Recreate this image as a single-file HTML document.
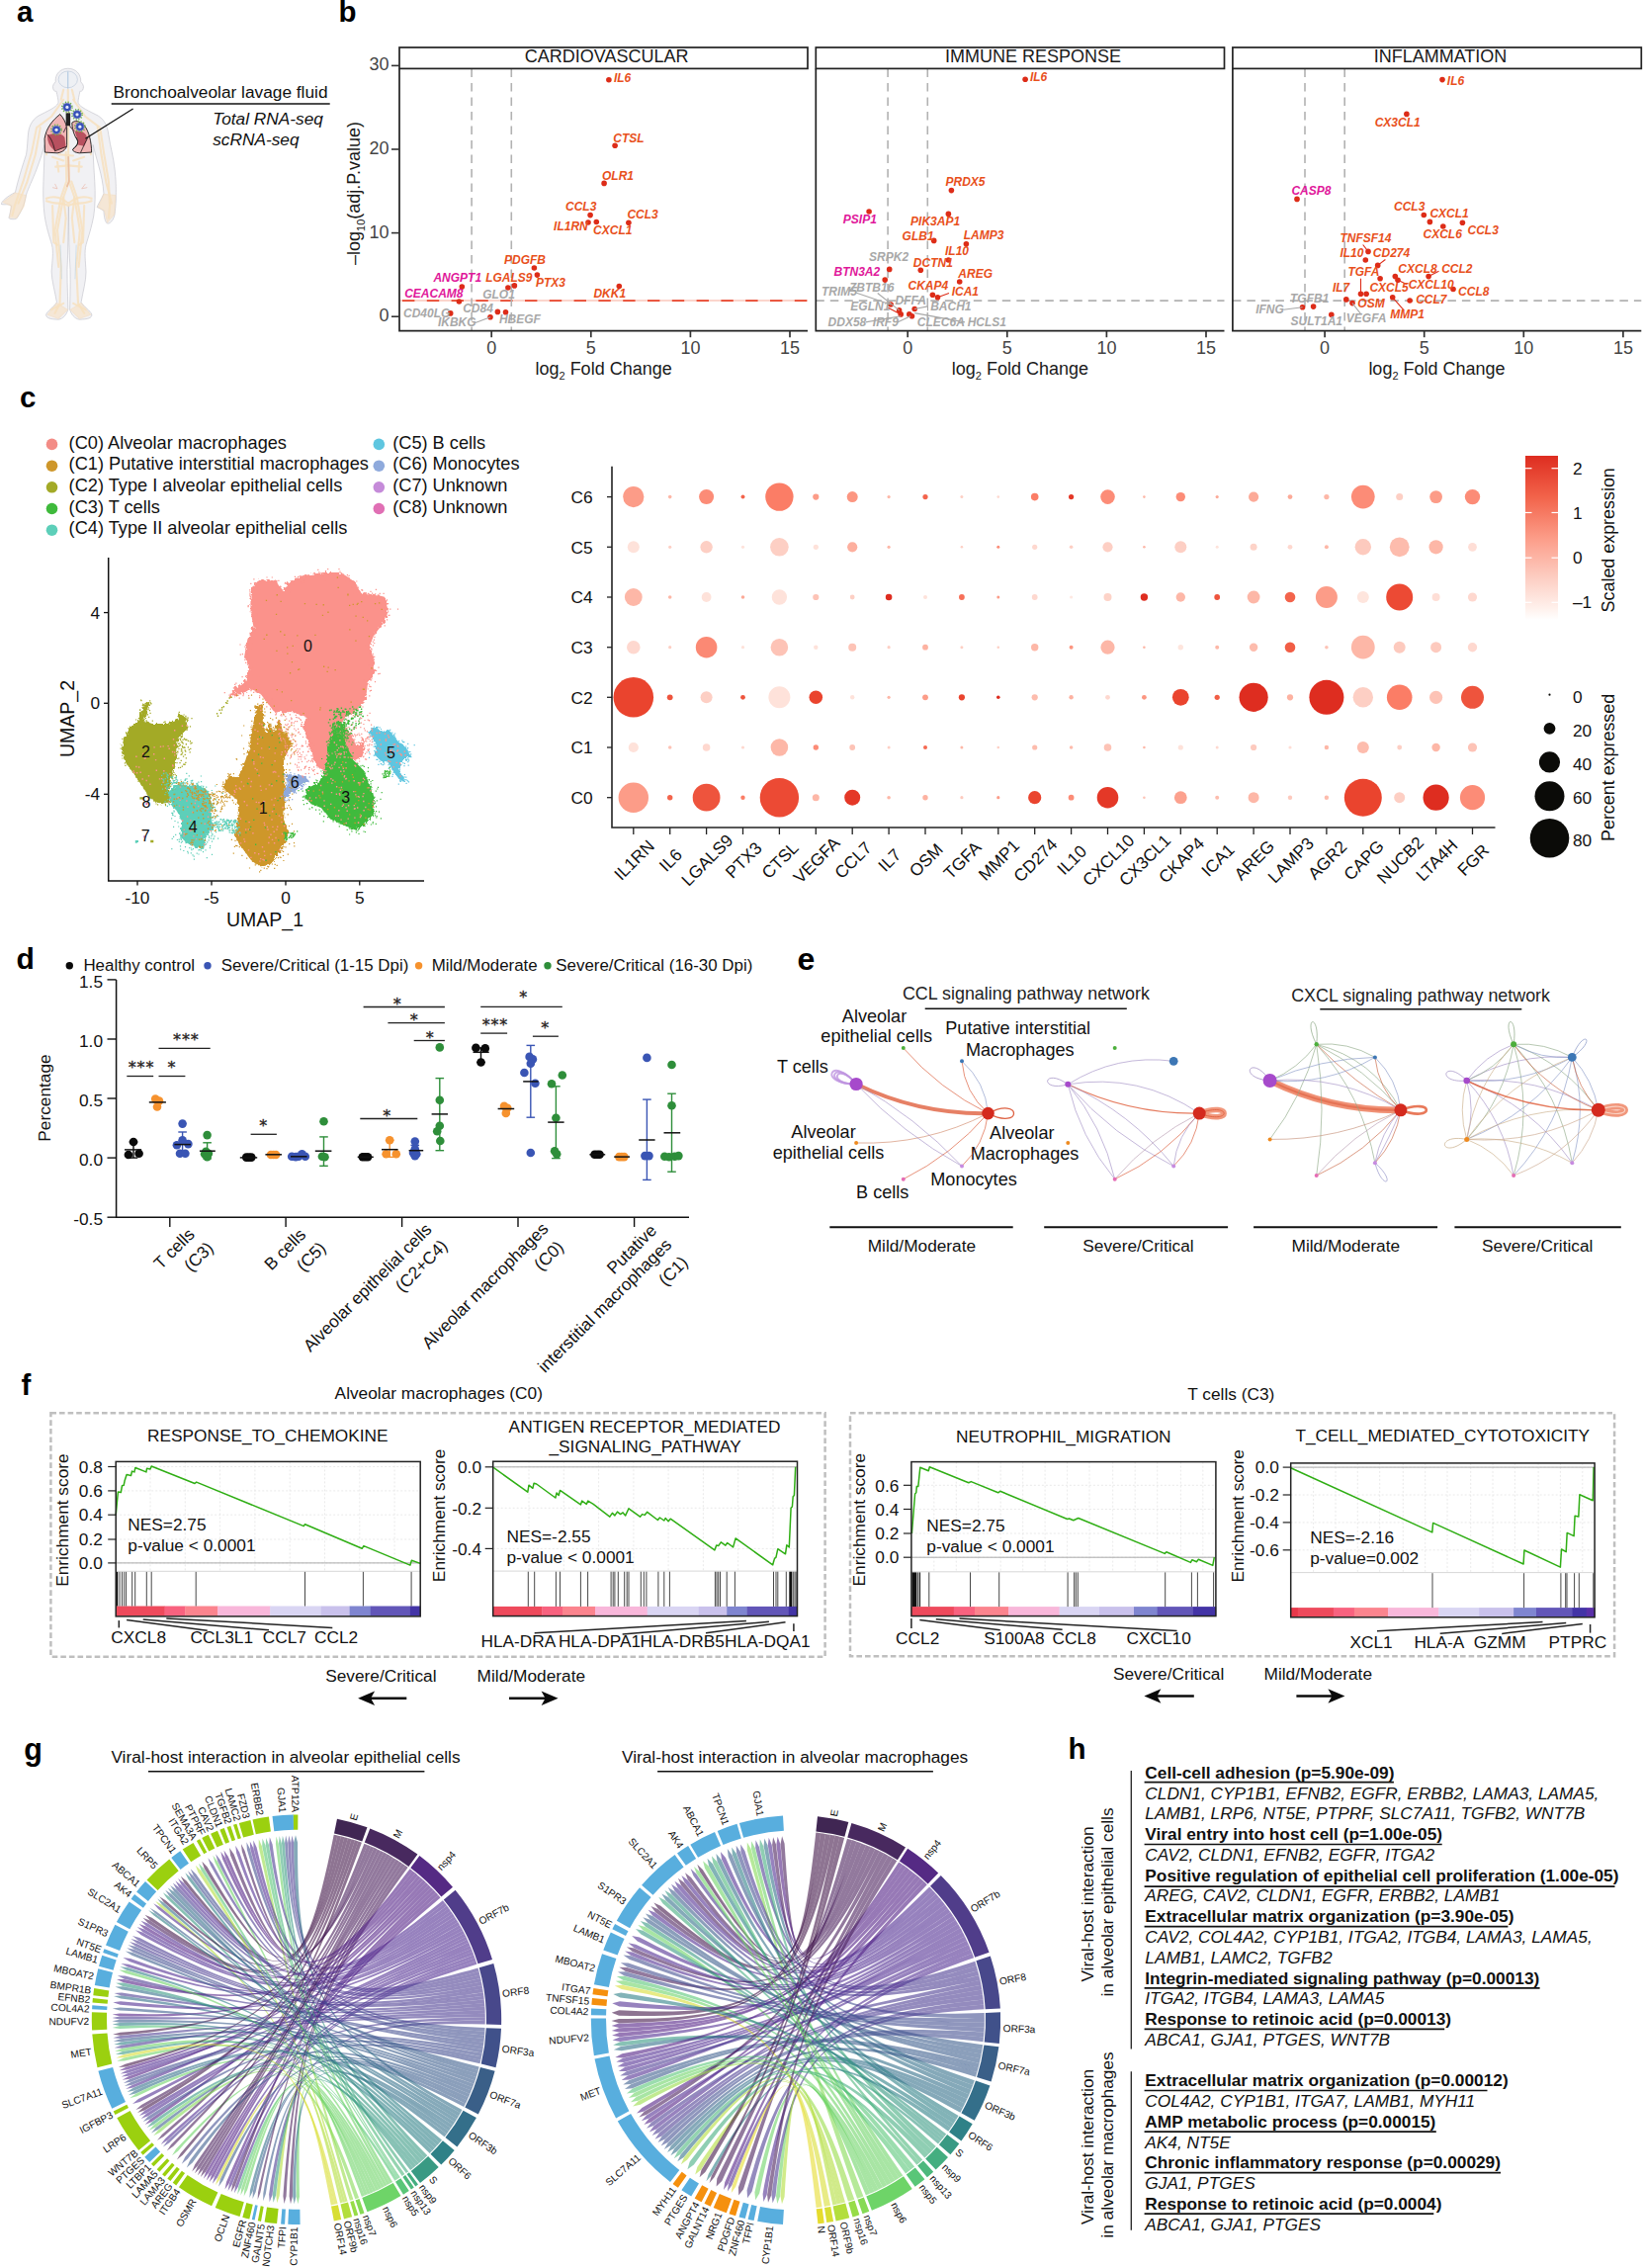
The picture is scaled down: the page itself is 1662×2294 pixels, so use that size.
<!DOCTYPE html>
<html lang="en"><head><meta charset="utf-8"><title>Figure</title>
<style>
html,body{margin:0;padding:0;background:#fff}
svg{display:block}
svg text{font-family:"Liberation Sans",sans-serif}
</style></head><body>
<svg width="1662" height="2294" viewBox="0 0 1662 2294" fill="#000">
<rect width="1662" height="2294" fill="#fff"/>
<g id="panel-a">
<text x="17" y="22" font-size="29.5" font-weight="bold">a</text>
<g transform="translate(0 60) scale(0.12346)">
<path d="M557 75 C620 75 665 120 662 185 C675 200 690 215 682 240 C678 262 662 262 655 262 C648 300 640 330 640 350 C640 380 700 410 780 450 C850 480 880 540 890 620 C905 720 930 800 940 900 C950 980 952 1060 950 1110 C952 1150 948 1200 940 1270 C930 1320 900 1350 878 1345 C860 1330 852 1290 850 1240 C830 1230 810 1215 795 1212 C800 1190 830 1150 850 1100 C845 1020 830 950 810 880 C795 820 775 760 762 700 C762 800 770 900 776 1000 C782 1100 780 1200 768 1280 C750 1380 725 1450 705 1520 C690 1580 700 1650 705 1740 C705 1820 680 1900 665 1990 C690 2030 740 2060 752 2090 C755 2120 720 2130 650 2132 C610 2125 585 2090 572 2050 C575 1900 580 1750 570 1620 C562 1480 565 1340 562 1200 C558 1340 560 1480 555 1620 C545 1750 555 1900 558 2050 C545 2090 520 2125 480 2132 C410 2130 375 2120 378 2090 C390 2060 440 2030 465 1990 C450 1900 425 1820 422 1740 C428 1650 440 1580 425 1520 C405 1450 380 1380 365 1280 C355 1200 352 1100 356 1000 C360 900 364 800 365 700 C350 760 330 820 300 900 C270 980 230 1060 215 1110 C205 1180 170 1260 135 1305 C110 1315 80 1310 72 1300 C80 1270 90 1230 92 1200 C70 1180 40 1195 12 1188 C5 1170 60 1120 125 1090 C145 1000 175 900 215 780 C225 720 225 660 232 600 C240 540 270 480 340 450 C420 410 478 380 478 350 C478 330 470 300 462 262 C455 262 440 262 435 240 C428 215 442 200 455 185 C450 120 495 75 557 75 Z" fill="#F1F1F4" stroke="#C2C2C9" stroke-width="5"/>
<path d="M25 1170 L125 1095 L210 1115 L195 1205 L135 1298 L80 1296 L95 1200 Z" fill="#F9DFBE" opacity="0.55" stroke="#F6D9B4" stroke-width="10" stroke-linejoin="round"/>
<path d="M852 1105 L945 1115 L936 1268 L880 1335 L856 1240 L805 1210 Z" fill="#F9DFBE" opacity="0.55" stroke="#F6D9B4" stroke-width="10" stroke-linejoin="round"/>
<path d="M390 2092 L468 1998 L552 2052 L478 2124 Z" fill="#F9DFBE" opacity="0.55" stroke="#F6D9B4" stroke-width="10" stroke-linejoin="round"/>
<path d="M578 2052 L662 1998 L742 2092 L652 2124 Z" fill="#F9DFBE" opacity="0.55" stroke="#F6D9B4" stroke-width="10" stroke-linejoin="round"/>
<path d="M557 250 L560 760 L565 1000 L520 1130 L470 1400 L500 1700 L490 2000 L450 2080" fill="none" stroke="#F7E0BE" stroke-width="17" stroke-linejoin="round" stroke-linecap="round" opacity="0.85"/>
<path d="M565 1000 L610 1130 L655 1400 L625 1700 L640 2000 L690 2080" fill="none" stroke="#F7E0BE" stroke-width="17" stroke-linejoin="round" stroke-linecap="round" opacity="0.85"/>
<path d="M540 760 L545 1000 L500 1130 L450 1400 L480 1700" fill="none" stroke="#F7E0BE" stroke-width="17" stroke-linejoin="round" stroke-linecap="round" opacity="0.85"/>
<path d="M585 1000 L630 1130 L675 1400 L645 1700" fill="none" stroke="#F7E0BE" stroke-width="17" stroke-linejoin="round" stroke-linecap="round" opacity="0.85"/>
<path d="M520 330 L420 470 L300 560 L260 760 L190 1000 L120 1200 L100 1280" fill="none" stroke="#F7E0BE" stroke-width="17" stroke-linejoin="round" stroke-linecap="round" opacity="0.85"/>
<path d="M600 330 L700 470 L820 560 L850 760 L890 1000 L900 1200 L890 1300" fill="none" stroke="#F7E0BE" stroke-width="17" stroke-linejoin="round" stroke-linecap="round" opacity="0.85"/>
<path d="M330 560 L290 780 L220 1010 L150 1180" fill="none" stroke="#F7E0BE" stroke-width="17" stroke-linejoin="round" stroke-linecap="round" opacity="0.85"/>
<path d="M800 560 L830 780 L870 1010 L915 1180" fill="none" stroke="#F7E0BE" stroke-width="17" stroke-linejoin="round" stroke-linecap="round" opacity="0.85"/>
<path d="M455 880 L560 870 L670 880 M470 840 L480 920 M650 840 L645 920" fill="none" stroke="#F7E0BE" stroke-width="17" stroke-linejoin="round" stroke-linecap="round" opacity="0.85"/>
<path d="M380 1140 C450 1110 520 1140 560 1180 C600 1140 680 1110 750 1140" fill="none" stroke="#F7E0BE" stroke-width="17" stroke-linejoin="round" stroke-linecap="round" opacity="0.85"/>
<path d="M380 1160 C450 1190 520 1170 560 1200 C600 1170 680 1190 750 1160" fill="none" stroke="#F7E0BE" stroke-width="17" stroke-linejoin="round" stroke-linecap="round" opacity="0.85"/>
<path d="M520 250 L500 330 M590 250 L610 330 M500 170 C520 120 600 120 615 170" fill="none" stroke="#F7E0BE" stroke-width="17" stroke-linejoin="round" stroke-linecap="round" opacity="0.85"/>
<path d="M430 1200 L440 1500 L470 1520 M690 1200 L680 1500 L650 1520" fill="none" stroke="#F7E0BE" stroke-width="17" stroke-linejoin="round" stroke-linecap="round" opacity="0.85"/>
<path d="M420 2050 L520 2000 M700 2050 L600 2000" fill="none" stroke="#F7E0BE" stroke-width="17" stroke-linejoin="round" stroke-linecap="round" opacity="0.85"/>
<path d="M440 520 L400 640 L380 780 M680 520 L720 640 L745 780" fill="none" stroke="#F7E0BE" stroke-width="17" stroke-linejoin="round" stroke-linecap="round" opacity="0.85"/>
<path d="M480 780 L600 790 M430 800 L520 830 M690 800 L600 830" fill="none" stroke="#F7E0BE" stroke-width="17" stroke-linejoin="round" stroke-linecap="round" opacity="0.85"/>
<path d="M520 1130 L540 1300 L520 1500 M610 1130 L590 1300 L610 1500" fill="none" stroke="#F7E0BE" stroke-width="17" stroke-linejoin="round" stroke-linecap="round" opacity="0.85"/>
<path d="M560 800 L566 1000 L550 1040" fill="none" stroke="#E8B89A" stroke-width="14" stroke-linecap="round" opacity="0.8"/>
<path d="M430 1050 L470 1060 L450 1020 M700 1020 L670 1060 L715 1050" fill="none" stroke="#E9B0A0" stroke-width="6" opacity="0.8"/>
<path d="M495 1520 L505 1800 M625 1520 L615 1800" fill="none" stroke="#B8D4E8" stroke-width="6" opacity="0.8"/>
<ellipse cx="557" cy="165" rx="78" ry="68" fill="#EEF0F4" stroke="#B9C6D8" stroke-width="5"/>
<path d="M557 100 L557 240" stroke="#A9C3DE" stroke-width="8"/>
<path d="M492 450 C430 500 380 560 365 650 L368 762 L470 768 C520 760 548 730 548 700 L548 560 C540 520 520 480 492 450 Z" fill="#F0B5B5" stroke="#111" stroke-width="7"/>
<path d="M390 620 C440 600 510 600 530 640 L540 720 L450 750 C410 720 385 680 390 620 Z" fill="#B8505F"/>
<path d="M385 615 C420 640 440 700 450 752 M450 752 L545 715" fill="none" stroke="#111" stroke-width="6"/>
<path d="M590 520 C610 500 650 500 690 540 C730 590 750 680 750 762 L650 768 C620 765 598 755 595 740 C640 700 650 680 620 640 C600 600 590 560 590 520 Z" fill="#F0B5B5" stroke="#111" stroke-width="7"/>
<path d="M615 590 C660 580 710 600 715 650 L690 710 L640 700 C650 660 620 640 615 590 Z" fill="#B8505F"/>
<path d="M595 738 C640 700 648 680 625 640 M660 765 C680 720 700 680 720 640" fill="none" stroke="#111" stroke-width="6"/>
<rect x="540" y="440" width="36" height="105" fill="#222"/>
<path d="M548 545 L520 600 M570 545 L610 590" stroke="#6b4a55" stroke-width="9"/>
<circle cx="550" cy="392" r="40" fill="none" stroke="#6DB844" stroke-width="16" stroke-dasharray="9 12"/>
<circle cx="550" cy="392" r="33" fill="#3550B8" stroke="#8C8CC8" stroke-width="5"/>
<circle cx="550" cy="392" r="13" fill="#E8ECFA"/>
<circle cx="632" cy="452" r="40" fill="none" stroke="#6DB844" stroke-width="16" stroke-dasharray="9 12"/>
<circle cx="632" cy="452" r="33" fill="#3550B8" stroke="#8C8CC8" stroke-width="5"/>
<circle cx="632" cy="452" r="13" fill="#E8ECFA"/>
<circle cx="655" cy="552" r="40" fill="none" stroke="#6DB844" stroke-width="16" stroke-dasharray="9 12"/>
<circle cx="655" cy="552" r="33" fill="#3550B8" stroke="#8C8CC8" stroke-width="5"/>
<circle cx="655" cy="552" r="13" fill="#E8ECFA"/>
<circle cx="462" cy="578" r="40" fill="none" stroke="#6DB844" stroke-width="16" stroke-dasharray="9 12"/>
<circle cx="462" cy="578" r="33" fill="#3550B8" stroke="#8C8CC8" stroke-width="5"/>
<circle cx="462" cy="578" r="13" fill="#E8ECFA"/>
</g>
<line x1="86.4" y1="140.2" x2="134.6" y2="110" stroke="#111" stroke-width="1.3"/>
<text x="114.4" y="98.7" font-size="17.3" fill="#111">Bronchoalveolar lavage fluid</text>
<line x1="112.7" y1="105" x2="333.7" y2="105" stroke="#111" stroke-width="1.6"/>
<text x="215.2" y="126" font-size="17.3" font-style="italic" fill="#111">Total RNA-seq</text>
<text x="215.2" y="146.8" font-size="17.3" font-style="italic" fill="#111">scRNA-seq</text>
</g>
<g id="panel-b">
<text x="342.5" y="22" font-size="29.5" font-weight="bold">b</text>
<line x1="404" y1="304.1" x2="817" y2="304.1" stroke="#FBD5CC" stroke-width="2"/>
<line x1="407" y1="304.1" x2="817" y2="304.1" stroke="#E8452C" stroke-width="1.6" stroke-dasharray="12.4 12.4"/>
<line x1="477.1" y1="69.4" x2="477.1" y2="334.7" stroke="#B2B2B2" stroke-width="1.6" stroke-dasharray="8.5 6"/>
<line x1="517.3" y1="69.4" x2="517.3" y2="334.7" stroke="#B2B2B2" stroke-width="1.6" stroke-dasharray="8.5 6"/>
<path d="M404 69.4 V334.7 H817" fill="none" stroke="#222" stroke-width="1.7"/>
<rect x="404" y="48" width="413" height="21.4" fill="#fff" stroke="#222" stroke-width="1.7"/>
<text x="613.7" y="63.4" font-size="18" text-anchor="middle" fill="#1a1a1a">CARDIOVASCULAR</text>
<line x1="497.2" y1="334.7" x2="497.2" y2="341.2" stroke="#333" stroke-width="1.7"/>
<text x="497.2" y="358.2" font-size="18" text-anchor="middle" fill="#444">0</text>
<line x1="597.8" y1="334.7" x2="597.8" y2="341.2" stroke="#333" stroke-width="1.7"/>
<text x="597.8" y="358.2" font-size="18" text-anchor="middle" fill="#444">5</text>
<line x1="698.4" y1="334.7" x2="698.4" y2="341.2" stroke="#333" stroke-width="1.7"/>
<text x="698.4" y="358.2" font-size="18" text-anchor="middle" fill="#444">10</text>
<line x1="799" y1="334.7" x2="799" y2="341.2" stroke="#333" stroke-width="1.7"/>
<text x="799" y="358.2" font-size="18" text-anchor="middle" fill="#444">15</text>
<text x="610.6" y="379" font-size="18" fill="#1a1a1a" text-anchor="middle">log<tspan font-size="11" dy="5">2</tspan><tspan dy="-5"> Fold Change</tspan></text>
<line x1="825.3" y1="304.1" x2="1238.5" y2="304.1" stroke="#B2B2B2" stroke-width="1.6" stroke-dasharray="8.5 6"/>
<line x1="898.1" y1="69.4" x2="898.1" y2="334.7" stroke="#B2B2B2" stroke-width="1.6" stroke-dasharray="8.5 6"/>
<line x1="938.3" y1="69.4" x2="938.3" y2="334.7" stroke="#B2B2B2" stroke-width="1.6" stroke-dasharray="8.5 6"/>
<path d="M825.3 69.4 V334.7 H1238.5" fill="none" stroke="#222" stroke-width="1.7"/>
<rect x="825.3" y="48" width="413.2" height="21.4" fill="#fff" stroke="#222" stroke-width="1.7"/>
<text x="1045" y="63.4" font-size="18" text-anchor="middle" fill="#1a1a1a">IMMUNE RESPONSE</text>
<line x1="918.2" y1="334.7" x2="918.2" y2="341.2" stroke="#333" stroke-width="1.7"/>
<text x="918.2" y="358.2" font-size="18" text-anchor="middle" fill="#444">0</text>
<line x1="1018.8" y1="334.7" x2="1018.8" y2="341.2" stroke="#333" stroke-width="1.7"/>
<text x="1018.8" y="358.2" font-size="18" text-anchor="middle" fill="#444">5</text>
<line x1="1119.4" y1="334.7" x2="1119.4" y2="341.2" stroke="#333" stroke-width="1.7"/>
<text x="1119.4" y="358.2" font-size="18" text-anchor="middle" fill="#444">10</text>
<line x1="1220" y1="334.7" x2="1220" y2="341.2" stroke="#333" stroke-width="1.7"/>
<text x="1220" y="358.2" font-size="18" text-anchor="middle" fill="#444">15</text>
<text x="1031.9" y="379" font-size="18" fill="#1a1a1a" text-anchor="middle">log<tspan font-size="11" dy="5">2</tspan><tspan dy="-5"> Fold Change</tspan></text>
<line x1="1246.9" y1="304.1" x2="1660.3" y2="304.1" stroke="#B2B2B2" stroke-width="1.6" stroke-dasharray="8.5 6"/>
<line x1="1320" y1="69.4" x2="1320" y2="334.7" stroke="#B2B2B2" stroke-width="1.6" stroke-dasharray="8.5 6"/>
<line x1="1360.2" y1="69.4" x2="1360.2" y2="334.7" stroke="#B2B2B2" stroke-width="1.6" stroke-dasharray="8.5 6"/>
<path d="M1246.9 69.4 V334.7 H1660.3" fill="none" stroke="#222" stroke-width="1.7"/>
<rect x="1246.9" y="48" width="413.4" height="21.4" fill="#fff" stroke="#222" stroke-width="1.7"/>
<text x="1457" y="63.4" font-size="18" text-anchor="middle" fill="#1a1a1a">INFLAMMATION</text>
<line x1="1340.1" y1="334.7" x2="1340.1" y2="341.2" stroke="#333" stroke-width="1.7"/>
<text x="1340.1" y="358.2" font-size="18" text-anchor="middle" fill="#444">0</text>
<line x1="1440.7" y1="334.7" x2="1440.7" y2="341.2" stroke="#333" stroke-width="1.7"/>
<text x="1440.7" y="358.2" font-size="18" text-anchor="middle" fill="#444">5</text>
<line x1="1541.3" y1="334.7" x2="1541.3" y2="341.2" stroke="#333" stroke-width="1.7"/>
<text x="1541.3" y="358.2" font-size="18" text-anchor="middle" fill="#444">10</text>
<line x1="1641.9" y1="334.7" x2="1641.9" y2="341.2" stroke="#333" stroke-width="1.7"/>
<text x="1641.9" y="358.2" font-size="18" text-anchor="middle" fill="#444">15</text>
<text x="1453.5" y="379" font-size="18" fill="#1a1a1a" text-anchor="middle">log<tspan font-size="11" dy="5">2</tspan><tspan dy="-5"> Fold Change</tspan></text>
<line x1="396" y1="320.2" x2="404" y2="320.2" stroke="#333" stroke-width="1.6"/>
<text x="393.6" y="325.2" font-size="18" text-anchor="end" fill="#444">0</text>
<line x1="396" y1="235.6" x2="404" y2="235.6" stroke="#333" stroke-width="1.6"/>
<text x="393.6" y="240.6" font-size="18" text-anchor="end" fill="#444">10</text>
<line x1="396" y1="151" x2="404" y2="151" stroke="#333" stroke-width="1.6"/>
<text x="393.6" y="156" font-size="18" text-anchor="end" fill="#444">20</text>
<line x1="396" y1="66.4" x2="404" y2="66.4" stroke="#333" stroke-width="1.6"/>
<text x="393.6" y="71.4" font-size="18" text-anchor="end" fill="#444">30</text>
<text transform="translate(364 195.5) rotate(-90)" font-size="18" fill="#1a1a1a" text-anchor="middle">–log<tspan font-size="11" dy="5">10</tspan><tspan dy="-5">(adj.P.value)</tspan></text>
<circle cx="615.9" cy="80.7" r="2.8" fill="#DD2C18"/>
<circle cx="622.1" cy="147.2" r="2.8" fill="#DD2C18"/>
<circle cx="611.1" cy="185.4" r="2.8" fill="#DD2C18"/>
<circle cx="597.1" cy="217.6" r="2.8" fill="#DD2C18"/>
<circle cx="595" cy="225" r="2.8" fill="#DD2C18"/>
<circle cx="603.3" cy="224.5" r="2.8" fill="#DD2C18"/>
<circle cx="635.9" cy="225.3" r="2.8" fill="#DD2C18"/>
<circle cx="540.4" cy="271" r="2.8" fill="#DD2C18"/>
<circle cx="543.4" cy="278.1" r="2.8" fill="#DD2C18"/>
<circle cx="520.4" cy="288.9" r="2.8" fill="#DD2C18"/>
<circle cx="513.9" cy="291" r="2.8" fill="#DD2C18"/>
<circle cx="626.3" cy="289.5" r="2.8" fill="#DD2C18"/>
<circle cx="467.3" cy="290.1" r="2.8" fill="#DD2C18"/>
<circle cx="464.4" cy="305" r="2.8" fill="#DD2C18"/>
<circle cx="503.4" cy="315.4" r="2.8" fill="#DD2C18"/>
<circle cx="511.5" cy="315.7" r="2.8" fill="#DD2C18"/>
<circle cx="455.7" cy="316.9" r="2.8" fill="#DD2C18"/>
<circle cx="496" cy="320.8" r="2.8" fill="#DD2C18"/>
<line x1="480.2" y1="326.7" x2="496" y2="320.8" stroke="#A8A8A8" stroke-width="1.1"/>
<text x="620.9" y="82.8" font-size="12" font-weight="bold" font-style="italic" fill="#E8501C">IL6</text>
<text x="620.3" y="143.6" font-size="12" font-weight="bold" font-style="italic" fill="#E8501C">CTSL</text>
<text x="609" y="181.5" font-size="12" font-weight="bold" font-style="italic" fill="#E8501C">OLR1</text>
<text x="572" y="213.4" font-size="12" font-weight="bold" font-style="italic" fill="#E8501C">CCL3</text>
<text x="560.1" y="233.4" font-size="12" font-weight="bold" font-style="italic" fill="#E8501C">IL1RN</text>
<text x="600.1" y="237.3" font-size="12" font-weight="bold" font-style="italic" fill="#E8501C">CXCL1</text>
<text x="634.4" y="221.2" font-size="12" font-weight="bold" font-style="italic" fill="#E8501C">CCL3</text>
<text x="510" y="266.5" font-size="12" font-weight="bold" font-style="italic" fill="#E8501C">PDGFB</text>
<text x="541.9" y="289.5" font-size="12" font-weight="bold" font-style="italic" fill="#E8501C">PTX3</text>
<text x="491.2" y="285" font-size="12" font-weight="bold" font-style="italic" fill="#E8501C">LGALS9</text>
<text x="600.4" y="300.5" font-size="12" font-weight="bold" font-style="italic" fill="#E8501C">DKK1</text>
<text x="438.4" y="285" font-size="12" font-weight="bold" font-style="italic" fill="#E0189A">ANGPT1</text>
<text x="409.2" y="300.8" font-size="12" font-weight="bold" font-style="italic" fill="#E0189A">CEACAM8</text>
<text x="488.2" y="302.3" font-size="12" font-weight="bold" font-style="italic" fill="#A8A8A8">GLO1</text>
<text x="468.2" y="316.3" font-size="12" font-weight="bold" font-style="italic" fill="#A8A8A8">CD84</text>
<text x="504.9" y="327.3" font-size="12" font-weight="bold" font-style="italic" fill="#A8A8A8">HBEGF</text>
<text x="408" y="321.4" font-size="12" font-weight="bold" font-style="italic" fill="#A8A8A8">CD40LG</text>
<text x="442.9" y="329.7" font-size="12" font-weight="bold" font-style="italic" fill="#A8A8A8">IKBKG</text>
<circle cx="1037.1" cy="80.3" r="2.8" fill="#DD2C18"/>
<circle cx="962.4" cy="192.6" r="2.8" fill="#DD2C18"/>
<circle cx="879.1" cy="214" r="2.8" fill="#DD2C18"/>
<circle cx="959.4" cy="216.4" r="2.8" fill="#DD2C18"/>
<circle cx="944.7" cy="243.4" r="2.8" fill="#DD2C18"/>
<circle cx="977.4" cy="246.7" r="2.8" fill="#DD2C18"/>
<circle cx="959.4" cy="263" r="2.8" fill="#DD2C18"/>
<circle cx="931.3" cy="273.2" r="2.8" fill="#DD2C18"/>
<circle cx="899.7" cy="272.4" r="2.8" fill="#DD2C18"/>
<circle cx="895.2" cy="283.1" r="2.8" fill="#DD2C18"/>
<circle cx="970.7" cy="285" r="2.8" fill="#DD2C18"/>
<circle cx="943.4" cy="298.3" r="2.8" fill="#DD2C18"/>
<circle cx="948.5" cy="300.8" r="2.8" fill="#DD2C18"/>
<circle cx="901.1" cy="308" r="2.8" fill="#DD2C18"/>
<circle cx="909.6" cy="313.9" r="2.8" fill="#DD2C18"/>
<circle cx="911.2" cy="317.9" r="2.8" fill="#DD2C18"/>
<circle cx="925.2" cy="312.5" r="2.8" fill="#DD2C18"/>
<circle cx="922.5" cy="319.8" r="2.8" fill="#DD2C18"/>
<circle cx="919.8" cy="317.9" r="2.8" fill="#DD2C18"/>
<line x1="948.5" y1="300.8" x2="960" y2="296.5" stroke="#DD2C18" stroke-width="1.1"/>
<line x1="864.9" y1="295.7" x2="901.1" y2="308" stroke="#A8A8A8" stroke-width="1.1"/>
<line x1="887.7" y1="296.5" x2="909.6" y2="313.9" stroke="#A8A8A8" stroke-width="1.1"/>
<line x1="898.4" y1="311.2" x2="911.2" y2="317.9" stroke="#DD2C18" stroke-width="1.1"/>
<line x1="875.6" y1="325.9" x2="911.2" y2="319.8" stroke="#A8A8A8" stroke-width="1.1"/>
<line x1="907.8" y1="325.9" x2="921.1" y2="319.8" stroke="#A8A8A8" stroke-width="1.1"/>
<line x1="925.2" y1="312.5" x2="938.5" y2="309.9" stroke="#A8A8A8" stroke-width="1.1"/>
<line x1="938.5" y1="309.9" x2="938.5" y2="314.4" stroke="#A8A8A8" stroke-width="1.1"/>
<line x1="925.2" y1="316.6" x2="976" y2="325.9" stroke="#A8A8A8" stroke-width="1.1"/>
<text x="1041.9" y="82.2" font-size="12" font-weight="bold" font-style="italic" fill="#E8501C">IL6</text>
<text x="956.5" y="188" font-size="12" font-weight="bold" font-style="italic" fill="#E8501C">PRDX5</text>
<text x="852.8" y="225.5" font-size="12" font-weight="bold" font-style="italic" fill="#E0189A">PSIP1</text>
<text x="921.1" y="227.6" font-size="12" font-weight="bold" font-style="italic" fill="#E8501C">PIK3AP1</text>
<text x="912.6" y="243.4" font-size="12" font-weight="bold" font-style="italic" fill="#E8501C">GLB1</text>
<text x="974.7" y="242.1" font-size="12" font-weight="bold" font-style="italic" fill="#E8501C">LAMP3</text>
<text x="956" y="258.2" font-size="12" font-weight="bold" font-style="italic" fill="#E8501C">IL10</text>
<text x="923.8" y="270" font-size="12" font-weight="bold" font-style="italic" fill="#E8501C">DCTN1</text>
<text x="879.1" y="263.5" font-size="12" font-weight="bold" font-style="italic" fill="#A8A8A8">SRPK2</text>
<text x="843.5" y="279.1" font-size="12" font-weight="bold" font-style="italic" fill="#E0189A">BTN3A2</text>
<text x="969.3" y="281.2" font-size="12" font-weight="bold" font-style="italic" fill="#E8501C">AREG</text>
<text x="918.5" y="292.5" font-size="12" font-weight="bold" font-style="italic" fill="#E8501C">CKAP4</text>
<text x="962.7" y="298.6" font-size="12" font-weight="bold" font-style="italic" fill="#E8501C">ICA1</text>
<text x="830.9" y="298.6" font-size="12" font-weight="bold" font-style="italic" fill="#A8A8A8">TRIM5</text>
<text x="859" y="294.6" font-size="12" font-weight="bold" font-style="italic" fill="#A8A8A8">ZBTB16</text>
<text x="905.6" y="308" font-size="12" font-weight="bold" font-style="italic" fill="#A8A8A8">DFFA</text>
<text x="860.3" y="314.4" font-size="12" font-weight="bold" font-style="italic" fill="#A8A8A8">EGLN1</text>
<text x="941.2" y="314.4" font-size="12" font-weight="bold" font-style="italic" fill="#A8A8A8">BACH1</text>
<text x="837.6" y="329.9" font-size="12" font-weight="bold" font-style="italic" fill="#A8A8A8">DDX58</text>
<text x="882.8" y="329.9" font-size="12" font-weight="bold" font-style="italic" fill="#A8A8A8">IRF9</text>
<text x="927.8" y="329.9" font-size="12" font-weight="bold" font-style="italic" fill="#A8A8A8">CLEC6A</text>
<text x="978.7" y="329.9" font-size="12" font-weight="bold" font-style="italic" fill="#A8A8A8">HCLS1</text>
<circle cx="1459" cy="80.6" r="2.8" fill="#DD2C18"/>
<circle cx="1422.9" cy="115.4" r="2.8" fill="#DD2C18"/>
<circle cx="1312" cy="201.4" r="2.8" fill="#DD2C18"/>
<circle cx="1440.3" cy="217.5" r="2.8" fill="#DD2C18"/>
<circle cx="1446.4" cy="224.4" r="2.8" fill="#DD2C18"/>
<circle cx="1479.4" cy="225.2" r="2.8" fill="#DD2C18"/>
<circle cx="1459.8" cy="229" r="2.8" fill="#DD2C18"/>
<circle cx="1384" cy="254.4" r="2.8" fill="#DD2C18"/>
<circle cx="1381.3" cy="263" r="2.8" fill="#DD2C18"/>
<circle cx="1393.7" cy="268.4" r="2.8" fill="#DD2C18"/>
<circle cx="1396.1" cy="281.7" r="2.8" fill="#DD2C18"/>
<circle cx="1411.3" cy="279.6" r="2.8" fill="#DD2C18"/>
<circle cx="1445.1" cy="279.6" r="2.8" fill="#DD2C18"/>
<circle cx="1414" cy="283.3" r="2.8" fill="#DD2C18"/>
<circle cx="1470" cy="292.5" r="2.8" fill="#DD2C18"/>
<circle cx="1376.5" cy="297.3" r="2.8" fill="#DD2C18"/>
<circle cx="1382.1" cy="297.3" r="2.8" fill="#DD2C18"/>
<circle cx="1408.7" cy="300.8" r="2.8" fill="#DD2C18"/>
<circle cx="1426.1" cy="304" r="2.8" fill="#DD2C18"/>
<circle cx="1368" cy="306.6" r="2.8" fill="#DD2C18"/>
<circle cx="1361.8" cy="302.9" r="2.8" fill="#DD2C18"/>
<circle cx="1328.6" cy="310.1" r="2.8" fill="#DD2C18"/>
<circle cx="1317.6" cy="310.7" r="2.8" fill="#DD2C18"/>
<circle cx="1346.8" cy="318.2" r="2.8" fill="#DD2C18"/>
<line x1="1378.7" y1="247.5" x2="1384" y2="254.4" stroke="#DD2C18" stroke-width="1.1"/>
<line x1="1393.7" y1="268.4" x2="1401.4" y2="262.5" stroke="#DD2C18" stroke-width="1.1"/>
<line x1="1445.1" y1="279.6" x2="1455.5" y2="274.2" stroke="#DD2C18" stroke-width="1.1"/>
<line x1="1414" y1="283.3" x2="1422.9" y2="287.6" stroke="#DD2C18" stroke-width="1.1"/>
<line x1="1376.5" y1="281.7" x2="1376.5" y2="297.3" stroke="#DD2C18" stroke-width="1.1"/>
<line x1="1408.7" y1="300.8" x2="1420.2" y2="313.9" stroke="#DD2C18" stroke-width="1.1"/>
<line x1="1368" y1="306.6" x2="1376.8" y2="317.9" stroke="#A8A8A8" stroke-width="1.1"/>
<line x1="1298.3" y1="313.3" x2="1317.6" y2="310.7" stroke="#A8A8A8" stroke-width="1.1"/>
<text x="1463.8" y="86.2" font-size="12" font-weight="bold" font-style="italic" fill="#E8501C">IL6</text>
<text x="1390.7" y="127.8" font-size="12" font-weight="bold" font-style="italic" fill="#E8501C">CX3CL1</text>
<text x="1306.4" y="197.4" font-size="12" font-weight="bold" font-style="italic" fill="#E0189A">CASP8</text>
<text x="1410" y="213.4" font-size="12" font-weight="bold" font-style="italic" fill="#E8501C">CCL3</text>
<text x="1446.4" y="220.1" font-size="12" font-weight="bold" font-style="italic" fill="#E8501C">CXCL1</text>
<text x="1484.5" y="237" font-size="12" font-weight="bold" font-style="italic" fill="#E8501C">CCL3</text>
<text x="1439.5" y="240.8" font-size="12" font-weight="bold" font-style="italic" fill="#E8501C">CXCL6</text>
<text x="1355.4" y="244.8" font-size="12" font-weight="bold" font-style="italic" fill="#E8501C">TNFSF14</text>
<text x="1355.4" y="260.3" font-size="12" font-weight="bold" font-style="italic" fill="#E8501C">IL10</text>
<text x="1388.8" y="260.3" font-size="12" font-weight="bold" font-style="italic" fill="#E8501C">CD274</text>
<text x="1363.4" y="279.1" font-size="12" font-weight="bold" font-style="italic" fill="#E8501C">TGFA</text>
<text x="1414.3" y="275.8" font-size="12" font-weight="bold" font-style="italic" fill="#E8501C">CXCL8</text>
<text x="1458.2" y="275.8" font-size="12" font-weight="bold" font-style="italic" fill="#E8501C">CCL2</text>
<text x="1424.7" y="291.6" font-size="12" font-weight="bold" font-style="italic" fill="#E8501C">CXCL10</text>
<text x="1475.1" y="299.1" font-size="12" font-weight="bold" font-style="italic" fill="#E8501C">CCL8</text>
<text x="1347.9" y="295.1" font-size="12" font-weight="bold" font-style="italic" fill="#E8501C">IL7</text>
<text x="1385.4" y="295.1" font-size="12" font-weight="bold" font-style="italic" fill="#E8501C">CXCL5</text>
<text x="1406.3" y="322.4" font-size="12" font-weight="bold" font-style="italic" fill="#E8501C">MMP1</text>
<text x="1432.2" y="307.2" font-size="12" font-weight="bold" font-style="italic" fill="#E8501C">CCL7</text>
<text x="1373.3" y="310.7" font-size="12" font-weight="bold" font-style="italic" fill="#E8501C">OSM</text>
<text x="1361.8" y="325.9" font-size="12" font-weight="bold" font-style="italic" fill="#A8A8A8">VEGFA</text>
<text x="1305" y="305.8" font-size="12" font-weight="bold" font-style="italic" fill="#A8A8A8">TGFB1</text>
<text x="1270.2" y="317.1" font-size="12" font-weight="bold" font-style="italic" fill="#A8A8A8">IFNG</text>
<text x="1305.6" y="329.4" font-size="12" font-weight="bold" font-style="italic" fill="#A8A8A8">SULT1A1</text>
</g>
<g id="panel-c">
<text x="20" y="412.2" font-size="29.5" font-weight="bold">c</text>
<circle cx="52.5" cy="449.4" r="5.8" fill="#F38C86"/>
<text x="69.6" y="453.6" font-size="18.2" fill="#111">(C0) Alveolar macrophages</text>
<circle cx="52.5" cy="471.2" r="5.8" fill="#CE972B"/>
<text x="69.6" y="475.4" font-size="18.2" fill="#111">(C1) Putative interstitial macrophages</text>
<circle cx="52.5" cy="492.8" r="5.8" fill="#A3AA27"/>
<text x="69.6" y="497" font-size="18.2" fill="#111">(C2) Type I alveolar epithelial cells</text>
<circle cx="52.5" cy="514.5" r="5.8" fill="#3FBA3C"/>
<text x="69.6" y="518.7" font-size="18.2" fill="#111">(C3) T cells</text>
<circle cx="52.5" cy="536.2" r="5.8" fill="#5DCFB9"/>
<text x="69.6" y="540.4" font-size="18.2" fill="#111">(C4) Type II alveolar epithelial cells</text>
<circle cx="383.3" cy="449.4" r="5.8" fill="#5FC6E0"/>
<text x="397.2" y="453.6" font-size="18.2" fill="#111">(C5) B cells</text>
<circle cx="383.3" cy="471.2" r="5.8" fill="#8FAADC"/>
<text x="397.2" y="475.4" font-size="18.2" fill="#111">(C6) Monocytes</text>
<circle cx="383.3" cy="492.8" r="5.8" fill="#C58BD9"/>
<text x="397.2" y="497" font-size="18.2" fill="#111">(C7) Unknown</text>
<circle cx="383.3" cy="514.5" r="5.8" fill="#E06FB4"/>
<text x="397.2" y="518.7" font-size="18.2" fill="#111">(C8) Unknown</text>
<path d="M109.7 564 V890.9 H429" fill="none" stroke="#111" stroke-width="1.5"/>
<line x1="139" y1="890.9" x2="139" y2="895.5" stroke="#111" stroke-width="1.3"/>
<text x="139" y="913.5" font-size="17.3" text-anchor="middle" fill="#111">-10</text>
<line x1="214" y1="890.9" x2="214" y2="895.5" stroke="#111" stroke-width="1.3"/>
<text x="214" y="913.5" font-size="17.3" text-anchor="middle" fill="#111">-5</text>
<line x1="289" y1="890.9" x2="289" y2="895.5" stroke="#111" stroke-width="1.3"/>
<text x="289" y="913.5" font-size="17.3" text-anchor="middle" fill="#111">0</text>
<line x1="363.8" y1="890.9" x2="363.8" y2="895.5" stroke="#111" stroke-width="1.3"/>
<text x="363.8" y="913.5" font-size="17.3" text-anchor="middle" fill="#111">5</text>
<line x1="105" y1="619.6" x2="109.7" y2="619.6" stroke="#111" stroke-width="1.3"/>
<text x="101" y="625.6" font-size="17.3" text-anchor="end" fill="#111">4</text>
<line x1="105" y1="711.3" x2="109.7" y2="711.3" stroke="#111" stroke-width="1.3"/>
<text x="101" y="717.3" font-size="17.3" text-anchor="end" fill="#111">0</text>
<line x1="105" y1="803.3" x2="109.7" y2="803.3" stroke="#111" stroke-width="1.3"/>
<text x="101" y="809.3" font-size="17.3" text-anchor="end" fill="#111">-4</text>
<text x="268" y="937" font-size="19.5" text-anchor="middle" fill="#111">UMAP_1</text>
<text font-size="19.5" text-anchor="middle" fill="#111" transform="translate(75 727) rotate(-90)">UMAP_2</text>
<defs><filter id="rough" x="-5%" y="-5%" width="110%" height="110%"><feTurbulence type="fractalNoise" baseFrequency="0.35" numOctaves="2" seed="3" result="n"/><feDisplacementMap in="SourceGraphic" in2="n" scale="5"/></filter></defs>
<g filter="url(#rough)">
<path d="M256.2 593.1 L263.5 586.9 L278 586.9 L286.3 599.3 L292.5 589 L307 582.8 L327.6 579.7 L344.2 579.7 L358.7 589 L364.9 600.4 L377.3 601.4 L388.7 604.5 L392.2 615.9 L389.7 626.2 L377.3 642.8 L373.2 653.1 L377.3 667.6 L378.4 680 L371.1 692.5 L369 709 L360.8 717.3 L348.3 725.6 L344.2 731.8 L352.5 740 L360.8 756.6 L369 748.3 L365.9 764.9 L356.6 769 L346.3 758.7 L338 767 L329.7 779.4 L321.4 775.2 L315.2 758.7 L307 733.8 L311.1 725.6 L296.6 719.4 L286.3 719.4 L278 719.4 L269.7 709 L263.5 700.7 L253.1 696.6 L244.9 700.7 L232.5 704.9 L240.7 694.5 L249 688.3 L253.1 675.9 L248 663.5 L251.1 646.9 L257.3 634.5 L254.2 617.9 L254.2 601.4 Z" fill="#FB928B" stroke="#FB928B" stroke-width="1.5" stroke-linejoin="round"/>
<path d="M146.6 712.1 L150.3 710.7 L149.7 717.3 L144.5 729.7 L153.8 732.8 L168.3 732.8 L178.6 729.7 L182.8 723.5 L186.9 725.6 L189 735.9 L182.8 742.1 L178.6 750.4 L178.6 762.8 L176.6 775.2 L172.4 787.6 L170.4 798 L171.4 810.4 L162.1 812.5 L151.7 806.3 L143.5 793.9 L135.2 781.4 L127.9 771.1 L123.8 758.7 L125.9 746.3 L133.1 735.9 L140.4 729.7 L143.5 719.4 Z" fill="#A3AA27" stroke="#A3AA27" stroke-width="1.5" stroke-linejoin="round"/>
<path d="M180.7 793.9 L191.1 795.9 L199.3 793.9 L209.7 800.1 L213.8 814.6 L212.8 829 L215.9 837.3 L207.6 845.6 L205.5 858 L197.3 855.9 L189 851.8 L182.8 845.6 L184.9 833.2 L180.7 820.8 L174.5 814.6 L170.4 802.1 Z" fill="#5DCFB9" stroke="#5DCFB9" stroke-width="1.5" stroke-linejoin="round"/>
<path d="M377.3 735.9 L385.6 740 L393.9 740 L402.2 750.4 L410.4 756.6 L414.6 764.9 L406.3 769 L402.2 777.3 L408.4 789.7 L404.2 787.6 L398 779.4 L393.9 771.1 L385.6 769 L379.4 762.8 L381.5 752.5 L375.2 742.1 Z" fill="#5FC6E0" stroke="#5FC6E0" stroke-width="1.5" stroke-linejoin="round"/>
<path d="M334.9 747.3 L341.1 742.1 L347.3 747.3 L350 754.5 L356.6 769 L367 779.4 L373.2 793.9 L378.4 808.3 L377.3 822.8 L369 833.2 L358.7 838.4 L346.3 833.2 L333.9 827 L325.6 816.6 L315.2 812.5 L309 806.3 L311.1 798 L323.5 791.8 L329.7 777.3 L331.8 762.8 L333.4 752.5 Z" fill="#3FBA3C" stroke="#3FBA3C" stroke-width="1.5" stroke-linejoin="round"/>
<path d="M260.4 714.2 L264.5 713.1 L265.6 725.6 L267.2 740 L270.1 742.1 L272.6 732 L275.1 742.1 L278.4 740 L282.3 728.3 L284.8 738 L286.7 744.2 L288.3 740.5 L291.4 746.3 L294.5 752.7 L290.8 758.7 L286.3 769 L286.3 783.5 L288.3 798 L287.3 814.6 L286.3 829 L291.4 841.5 L286.3 853.9 L280 866.3 L271.8 874.6 L263.5 875.6 L255.2 870.4 L249 862.2 L242.8 853.9 L238.7 845.6 L240.7 833.2 L242.8 820.8 L240.7 808.3 L232.5 802.1 L226.2 795.9 L232.5 785.6 L240.7 787.6 L244.9 779.4 L249 769 L253.1 756.6 L255.2 740 L258.3 725.6 Z" fill="#CE972B" stroke="#CE972B" stroke-width="1.5" stroke-linejoin="round"/>
<path d="M290.4 783.5 L298.7 784.5 L309 785.6 L311.1 789.7 L302.8 795.9 L294.5 802.1 L288.3 808.3 L287.3 802.1 L291.4 793.9 Z" fill="#8FAADC" stroke="#8FAADC" stroke-width="1.5" stroke-linejoin="round"/>
</g>
<path d="M348.2 725.8h1.2v1.2h-1.2zM303.4 721.4h1.2v1.2h-1.2zM388.1 627.4h1.2v1.2h-1.2zM322.3 582.6h1.2v1.2h-1.2zM373.7 648.7h1.2v1.2h-1.2zM275.7 715.1h1.2v1.2h-1.2zM361.5 593.6h1.2v1.2h-1.2zM363.8 712.2h1.2v1.2h-1.2zM278.1 722.4h1.2v1.2h-1.2zM297.8 582.8h1.2v1.2h-1.2zM303.2 727h1.2v1.2h-1.2zM335 773.5h1.2v1.2h-1.2zM250.6 612.1h1.2v1.2h-1.2zM343.1 739.1h1.2v1.2h-1.2zM353.2 587h1.2v1.2h-1.2zM320.1 767.9h1.2v1.2h-1.2zM292.7 717.3h1.2v1.2h-1.2zM244.5 684.1h1.2v1.2h-1.2zM308.2 582.5h1.2v1.2h-1.2zM232.7 701.4h1.2v1.2h-1.2zM279.2 716.9h1.2v1.2h-1.2zM363.6 755.7h1.2v1.2h-1.2zM346.5 733.9h1.2v1.2h-1.2zM253.9 609.9h1.2v1.2h-1.2zM317 775.2h1.2v1.2h-1.2zM365.5 596.3h1.2v1.2h-1.2zM355.4 766h1.2v1.2h-1.2zM377.8 646.5h1.2v1.2h-1.2zM378.3 641.1h1.2v1.2h-1.2zM368.3 694.1h1.2v1.2h-1.2zM288.2 724h1.2v1.2h-1.2zM256.5 694.4h1.2v1.2h-1.2zM252.4 598.3h1.2v1.2h-1.2zM371.5 757.8h1.2v1.2h-1.2zM291 597h1.2v1.2h-1.2zM349.2 582.9h1.2v1.2h-1.2zM375.9 599.5h1.2v1.2h-1.2zM303.7 582.3h1.2v1.2h-1.2zM375.3 677.2h1.2v1.2h-1.2zM360.2 587.4h1.2v1.2h-1.2zM330.5 782.4h1.2v1.2h-1.2zM253.7 641.9h1.2v1.2h-1.2zM269.5 586h1.2v1.2h-1.2zM255.3 682.3h1.2v1.2h-1.2zM233.3 701.9h1.2v1.2h-1.2zM358.6 756.9h1.2v1.2h-1.2zM298.7 722.8h1.2v1.2h-1.2zM259.8 588.4h1.2v1.2h-1.2zM367.3 764.5h1.2v1.2h-1.2zM356.1 737.4h1.2v1.2h-1.2zM324.6 770.5h1.2v1.2h-1.2zM339.1 762.3h1.2v1.2h-1.2zM356.1 743.6h1.2v1.2h-1.2zM342.4 721.8h1.2v1.2h-1.2zM256.3 585.3h1.2v1.2h-1.2zM326.6 582.4h1.2v1.2h-1.2zM247.2 666.9h1.2v1.2h-1.2zM262.3 600.3h1.2v1.2h-1.2zM242.7 661.6h1.2v1.2h-1.2zM249.2 660.8h1.2v1.2h-1.2zM271.1 708.2h1.2v1.2h-1.2zM261.9 698.3h1.2v1.2h-1.2zM296.8 720.1h1.2v1.2h-1.2zM242.4 651.4h1.2v1.2h-1.2zM348.7 765.2h1.2v1.2h-1.2zM266.5 589.3h1.2v1.2h-1.2zM269.2 714.3h1.2v1.2h-1.2zM289.7 592.8h1.2v1.2h-1.2zM265.1 710.3h1.2v1.2h-1.2zM316.4 758.7h1.2v1.2h-1.2zM335.4 761.5h1.2v1.2h-1.2zM361.8 601.4h1.2v1.2h-1.2zM294.3 715.6h1.2v1.2h-1.2zM326.6 778.7h1.2v1.2h-1.2zM375.4 656.3h1.2v1.2h-1.2zM342.1 756h1.2v1.2h-1.2zM348 760.6h1.2v1.2h-1.2zM386.6 624.3h1.2v1.2h-1.2zM325.6 781.3h1.2v1.2h-1.2zM380 677.7h1.2v1.2h-1.2zM347.7 762.3h1.2v1.2h-1.2zM300.1 585.8h1.2v1.2h-1.2zM364.1 714.3h1.2v1.2h-1.2zM248.1 669.8h1.2v1.2h-1.2zM366.3 608h1.2v1.2h-1.2zM368.9 767.2h1.2v1.2h-1.2zM373 646.1h1.2v1.2h-1.2zM345.7 729.3h1.2v1.2h-1.2zM349.3 739.2h1.2v1.2h-1.2zM266.3 586.6h1.2v1.2h-1.2zM296.2 587.1h1.2v1.2h-1.2zM328.1 586.8h1.2v1.2h-1.2zM392 610.1h1.2v1.2h-1.2zM247.4 691.3h1.2v1.2h-1.2zM310.1 743.1h1.2v1.2h-1.2zM294.1 597.5h1.2v1.2h-1.2zM367.6 687.2h1.2v1.2h-1.2zM320 583.4h1.2v1.2h-1.2zM348.5 587.4h1.2v1.2h-1.2zM378.9 689.1h1.2v1.2h-1.2zM358.1 590.8h1.2v1.2h-1.2zM361.6 713.8h1.2v1.2h-1.2zM343.5 765.6h1.2v1.2h-1.2zM278.5 587.1h1.2v1.2h-1.2zM312.1 748.5h1.2v1.2h-1.2zM346.9 756.4h1.2v1.2h-1.2zM324.8 760.5h1.2v1.2h-1.2zM366.4 714.4h1.2v1.2h-1.2zM255.8 674.5h1.2v1.2h-1.2zM296.1 591.1h1.2v1.2h-1.2zM382.4 674.6h1.2v1.2h-1.2zM366.7 747h1.2v1.2h-1.2zM378.1 663.8h1.2v1.2h-1.2zM374.4 694h1.2v1.2h-1.2zM299.9 720.8h1.2v1.2h-1.2zM388.6 632.2h1.2v1.2h-1.2zM326 776.1h1.2v1.2h-1.2zM254.1 619.3h1.2v1.2h-1.2zM365 759.8h1.2v1.2h-1.2zM247.7 695.5h1.2v1.2h-1.2zM261.3 628.3h1.2v1.2h-1.2zM262.9 714.3h1.2v1.2h-1.2zM367.1 599.4h1.2v1.2h-1.2zM244.8 661h1.2v1.2h-1.2zM310.2 754.6h1.2v1.2h-1.2zM269.4 583.4h1.2v1.2h-1.2zM247.8 687.5h1.2v1.2h-1.2zM278.1 589.8h1.2v1.2h-1.2zM338.4 760h1.2v1.2h-1.2zM242.4 696.6h1.2v1.2h-1.2zM299.2 584.3h1.2v1.2h-1.2zM236.7 695.7h1.2v1.2h-1.2zM305.3 589.3h1.2v1.2h-1.2zM378.1 649.9h1.2v1.2h-1.2zM363.7 754.5h1.2v1.2h-1.2zM282.3 593.5h1.2v1.2h-1.2zM366.1 596.6h1.2v1.2h-1.2zM258.8 698.5h1.2v1.2h-1.2zM373.2 693.5h1.2v1.2h-1.2zM316 770h1.2v1.2h-1.2zM335.8 776.3h1.2v1.2h-1.2zM361.5 716.9h1.2v1.2h-1.2zM326.7 767.5h1.2v1.2h-1.2zM382.2 681h1.2v1.2h-1.2zM303.4 588.5h1.2v1.2h-1.2zM355.3 738.7h1.2v1.2h-1.2zM355.2 593.2h1.2v1.2h-1.2zM323.4 775.5h1.2v1.2h-1.2zM243.9 693.4h1.2v1.2h-1.2zM349.5 736.9h1.2v1.2h-1.2zM352.3 722.1h1.2v1.2h-1.2zM392.7 621.7h1.2v1.2h-1.2zM347.9 745.4h1.2v1.2h-1.2zM295.3 587.9h1.2v1.2h-1.2zM292.6 598h1.2v1.2h-1.2zM245.4 703.1h1.2v1.2h-1.2zM313.5 745.1h1.2v1.2h-1.2zM349.2 755.5h1.2v1.2h-1.2zM290.7 718.3h1.2v1.2h-1.2zM247.9 655.5h1.2v1.2h-1.2zM373.7 698.3h1.2v1.2h-1.2zM381.1 605.2h1.2v1.2h-1.2zM253.7 635h1.2v1.2h-1.2zM371.3 656.3h1.2v1.2h-1.2zM388.1 605.2h1.2v1.2h-1.2zM315.2 767h1.2v1.2h-1.2zM257.3 628.7h1.2v1.2h-1.2zM307.8 581.2h1.2v1.2h-1.2zM348.4 741.4h1.2v1.2h-1.2zM252.4 639.8h1.2v1.2h-1.2zM384.4 633.5h1.2v1.2h-1.2zM371 691h1.2v1.2h-1.2zM311.1 726.9h1.2v1.2h-1.2zM368.3 694.3h1.2v1.2h-1.2zM350.7 753.7h1.2v1.2h-1.2zM260.3 589.5h1.2v1.2h-1.2zM320.4 775.4h1.2v1.2h-1.2zM313 726.3h1.2v1.2h-1.2zM336.5 586.9h1.2v1.2h-1.2zM342.4 575h1.2v1.2h-1.2zM259.4 622.6h1.2v1.2h-1.2zM262.7 595.7h1.2v1.2h-1.2zM240.5 702.6h1.2v1.2h-1.2zM309.1 727h1.2v1.2h-1.2zM298.8 586.4h1.2v1.2h-1.2zM377.2 670.1h1.2v1.2h-1.2zM360.3 720.1h1.2v1.2h-1.2zM375.4 662.5h1.2v1.2h-1.2zM359.1 768.5h1.2v1.2h-1.2zM315.1 759.5h1.2v1.2h-1.2zM376.7 648.6h1.2v1.2h-1.2zM283.1 592.5h1.2v1.2h-1.2zM370 746.4h1.2v1.2h-1.2zM312.5 757.1h1.2v1.2h-1.2zM254.5 606.7h1.2v1.2h-1.2zM258.1 622.7h1.2v1.2h-1.2zM262.1 703.3h1.2v1.2h-1.2zM226.7 700.1h1.2v1.2h-1.2zM289.4 596.8h1.2v1.2h-1.2zM292.1 595.3h1.2v1.2h-1.2zM247.3 653.5h1.2v1.2h-1.2zM384.1 609.5h1.2v1.2h-1.2zM252 646h1.2v1.2h-1.2zM359.1 756.9h1.2v1.2h-1.2zM307.8 588.5h1.2v1.2h-1.2zM352.5 581.7h1.2v1.2h-1.2zM255.7 601.2h1.2v1.2h-1.2zM292 595.9h1.2v1.2h-1.2zM340 765.6h1.2v1.2h-1.2zM272.7 591.5h1.2v1.2h-1.2zM370.1 749.3h1.2v1.2h-1.2zM287.7 589.6h1.2v1.2h-1.2zM342.7 734.9h1.2v1.2h-1.2zM279.5 587.3h1.2v1.2h-1.2zM375.4 679.3h1.2v1.2h-1.2zM251 703h1.2v1.2h-1.2zM343.4 577.5h1.2v1.2h-1.2zM372.5 746.9h1.2v1.2h-1.2zM366.9 605h1.2v1.2h-1.2zM252.3 641.4h1.2v1.2h-1.2zM373.2 660.7h1.2v1.2h-1.2zM252.1 596.2h1.2v1.2h-1.2zM380.9 602.5h1.2v1.2h-1.2zM292.8 722.3h1.2v1.2h-1.2zM343.9 581h1.2v1.2h-1.2zM343.5 579h1.2v1.2h-1.2zM385.5 609.5h1.2v1.2h-1.2zM237.1 691.7h1.2v1.2h-1.2zM258.4 630.2h1.2v1.2h-1.2zM284 721.9h1.2v1.2h-1.2zM344.3 762.6h1.2v1.2h-1.2zM278.7 718.4h1.2v1.2h-1.2zM376 666.5h1.2v1.2h-1.2zM239.4 702.7h1.2v1.2h-1.2zM374.7 651h1.2v1.2h-1.2zM374.9 697.7h1.2v1.2h-1.2zM279.9 719.2h1.2v1.2h-1.2zM389.9 615.3h1.2v1.2h-1.2zM253.2 589.8h1.2v1.2h-1.2zM388.7 627.7h1.2v1.2h-1.2zM376.5 660.8h1.2v1.2h-1.2zM259.5 589.8h1.2v1.2h-1.2zM262 705.1h1.2v1.2h-1.2zM286.7 722.6h1.2v1.2h-1.2zM236.1 698.1h1.2v1.2h-1.2zM380.5 612.4h1.2v1.2h-1.2zM237.7 700.9h1.2v1.2h-1.2zM278.4 719.7h1.2v1.2h-1.2zM252.7 603.1h1.2v1.2h-1.2zM252.5 655.5h1.2v1.2h-1.2zM383.6 599.7h1.2v1.2h-1.2zM356.6 748.2h1.2v1.2h-1.2zM296.3 716.2h1.2v1.2h-1.2zM278.4 722.2h1.2v1.2h-1.2zM370.3 602.4h1.2v1.2h-1.2zM288.1 588.7h1.2v1.2h-1.2zM392 618.2h1.2v1.2h-1.2zM323.4 775.1h1.2v1.2h-1.2zM321.2 575.7h1.2v1.2h-1.2zM387.5 599.8h1.2v1.2h-1.2zM255.7 695.4h1.2v1.2h-1.2zM391 626.2h1.2v1.2h-1.2zM345.3 738.1h1.2v1.2h-1.2zM387 614.2h1.2v1.2h-1.2zM282 598.1h1.2v1.2h-1.2zM331.5 771.8h1.2v1.2h-1.2zM363.1 769.4h1.2v1.2h-1.2zM355.5 747.7h1.2v1.2h-1.2zM249.8 697.4h1.2v1.2h-1.2zM253.4 698h1.2v1.2h-1.2zM329.3 779h1.2v1.2h-1.2zM349.5 743h1.2v1.2h-1.2zM283.4 592.9h1.2v1.2h-1.2zM350 723.6h1.2v1.2h-1.2zM304.5 731.7h1.2v1.2h-1.2zM281.3 586.8h1.2v1.2h-1.2zM350.8 581h1.2v1.2h-1.2zM256.3 592.6h1.2v1.2h-1.2zM302.6 582.2h1.2v1.2h-1.2zM348.7 730.7h1.2v1.2h-1.2zM371.7 599.8h1.2v1.2h-1.2zM272.9 716.5h1.2v1.2h-1.2zM275.8 592.1h1.2v1.2h-1.2zM375 687.2h1.2v1.2h-1.2zM254.8 598.2h1.2v1.2h-1.2zM356.6 757.2h1.2v1.2h-1.2zM260.9 683.7h1.2v1.2h-1.2zM245.8 697h1.2v1.2h-1.2zM366.2 746.9h1.2v1.2h-1.2zM257.6 637.7h1.2v1.2h-1.2zM285.3 596h1.2v1.2h-1.2zM274.6 706.5h1.2v1.2h-1.2zM254 650.2h1.2v1.2h-1.2zM351.6 765.5h1.2v1.2h-1.2zM319.6 770.9h1.2v1.2h-1.2zM259 593.4h1.2v1.2h-1.2zM304 722h1.2v1.2h-1.2zM386.1 630.6h1.2v1.2h-1.2zM263.1 589.2h1.2v1.2h-1.2zM331.7 583.5h1.2v1.2h-1.2zM375.4 685.5h1.2v1.2h-1.2zM238.2 701.3h1.2v1.2h-1.2zM279.3 712.7h1.2v1.2h-1.2zM375 655.5h1.2v1.2h-1.2zM269.5 588h1.2v1.2h-1.2zM250.5 613.1h1.2v1.2h-1.2zM393.3 621.7h1.2v1.2h-1.2zM305.9 744.9h1.2v1.2h-1.2zM312.3 752h1.2v1.2h-1.2zM250.3 650.1h1.2v1.2h-1.2zM343.6 762.5h1.2v1.2h-1.2zM347.4 760.1h1.2v1.2h-1.2zM241.6 705.6h1.2v1.2h-1.2zM252.8 677.7h1.2v1.2h-1.2zM243.2 701.2h1.2v1.2h-1.2zM308.8 733.1h1.2v1.2h-1.2zM386.7 627.5h1.2v1.2h-1.2zM377.2 667.2h1.2v1.2h-1.2zM354.9 721.8h1.2v1.2h-1.2zM364.8 745.4h1.2v1.2h-1.2zM235.8 695.3h1.2v1.2h-1.2zM312.1 725.3h1.2v1.2h-1.2zM253.1 655.7h1.2v1.2h-1.2zM373.5 762.1h1.2v1.2h-1.2zM368.8 603.4h1.2v1.2h-1.2zM381.7 603.1h1.2v1.2h-1.2zM278.5 587.9h1.2v1.2h-1.2zM307.2 586.2h1.2v1.2h-1.2zM358.1 742.2h1.2v1.2h-1.2zM237.9 698.8h1.2v1.2h-1.2zM362.1 757.3h1.2v1.2h-1.2zM290.5 595.8h1.2v1.2h-1.2zM322.2 578.2h1.2v1.2h-1.2zM331.1 575.1h1.2v1.2h-1.2zM369.8 698h1.2v1.2h-1.2zM383.6 680.8h1.2v1.2h-1.2zM348.2 721.4h1.2v1.2h-1.2zM373.2 703.3h1.2v1.2h-1.2zM354.3 765.8h1.2v1.2h-1.2zM291 600.2h1.2v1.2h-1.2zM318 584.4h1.2v1.2h-1.2zM308.5 723.1h1.2v1.2h-1.2zM263 593.8h1.2v1.2h-1.2zM385.2 610.9h1.2v1.2h-1.2zM315.6 751.3h1.2v1.2h-1.2zM378.3 643.7h1.2v1.2h-1.2zM236.6 700.4h1.2v1.2h-1.2zM286.3 717.1h1.2v1.2h-1.2zM370.4 760.3h1.2v1.2h-1.2zM349.7 760.2h1.2v1.2h-1.2zM375.8 672.4h1.2v1.2h-1.2zM247.3 698.5h1.2v1.2h-1.2zM254.5 622.6h1.2v1.2h-1.2zM278.8 721.3h1.2v1.2h-1.2zM235.4 702.4h1.2v1.2h-1.2zM250.7 677.9h1.2v1.2h-1.2zM331.4 771.2h1.2v1.2h-1.2zM374.3 677.7h1.2v1.2h-1.2zM379.1 600.3h1.2v1.2h-1.2zM268 707.2h1.2v1.2h-1.2zM401.9 615.5h1.2v1.2h-1.2zM390.9 606.3h1.2v1.2h-1.2zM374.4 597.7h1.2v1.2h-1.2zM394.2 615.6h1.2v1.2h-1.2zM371.1 753.3h1.2v1.2h-1.2zM344.8 761.8h1.2v1.2h-1.2zM337.6 772.6h1.2v1.2h-1.2zM264.6 586.6h1.2v1.2h-1.2zM277.5 714.2h1.2v1.2h-1.2zM242.6 693.5h1.2v1.2h-1.2zM251.7 683.1h1.2v1.2h-1.2zM349 588.2h1.2v1.2h-1.2zM342.6 583h1.2v1.2h-1.2zM249.9 671.6h1.2v1.2h-1.2zM340.4 764.1h1.2v1.2h-1.2zM242.1 699.6h1.2v1.2h-1.2zM257.7 611.5h1.2v1.2h-1.2zM326.4 579.1h1.2v1.2h-1.2zM257.1 596.4h1.2v1.2h-1.2zM283.5 723h1.2v1.2h-1.2zM274.7 583.4h1.2v1.2h-1.2zM349.3 770.7h1.2v1.2h-1.2zM390.2 607.3h1.2v1.2h-1.2zM262.3 700.2h1.2v1.2h-1.2zM375.4 752.7h1.2v1.2h-1.2zM245.8 701.6h1.2v1.2h-1.2zM369.4 650.7h1.2v1.2h-1.2zM376.8 652.2h1.2v1.2h-1.2zM379.8 595.8h1.2v1.2h-1.2zM248.2 693.3h1.2v1.2h-1.2zM365.3 596h1.2v1.2h-1.2zM360.4 770.8h1.2v1.2h-1.2zM357.8 599h1.2v1.2h-1.2zM374.4 647.3h1.2v1.2h-1.2zM343.6 762.7h1.2v1.2h-1.2zM374.1 682.1h1.2v1.2h-1.2zM315.6 764.4h1.2v1.2h-1.2zM352.7 745.7h1.2v1.2h-1.2zM328.9 577h1.2v1.2h-1.2zM359.5 598.6h1.2v1.2h-1.2zM237.2 703.3h1.2v1.2h-1.2zM372.2 672.1h1.2v1.2h-1.2zM390.3 614.9h1.2v1.2h-1.2zM370 767.5h1.2v1.2h-1.2zM269.6 704.8h1.2v1.2h-1.2zM289.6 717.5h1.2v1.2h-1.2zM255.5 688.7h1.2v1.2h-1.2zM237.3 694.9h1.2v1.2h-1.2zM369.7 652h1.2v1.2h-1.2zM328.2 780.5h1.2v1.2h-1.2zM316 769.3h1.2v1.2h-1.2zM382.7 604.9h1.2v1.2h-1.2zM231.5 702.5h1.2v1.2h-1.2zM238.3 690.5h1.2v1.2h-1.2zM269 588.4h1.2v1.2h-1.2zM348.2 732.7h1.2v1.2h-1.2zM259.6 620.8h1.2v1.2h-1.2zM256.1 699.8h1.2v1.2h-1.2zM340.8 727.6h1.2v1.2h-1.2zM384.8 633h1.2v1.2h-1.2z" fill="#FB928B"/>
<path d="M267.3 750h1.2v1.2h-1.2zM262.3 866.8h1.2v1.2h-1.2zM267.4 867.7h1.2v1.2h-1.2zM284.5 853.9h1.2v1.2h-1.2zM263.1 724.5h1.2v1.2h-1.2zM243 779.9h1.2v1.2h-1.2zM294.9 832.8h1.2v1.2h-1.2zM237.2 806.5h1.2v1.2h-1.2zM232.8 782.6h1.2v1.2h-1.2zM256.1 742.7h1.2v1.2h-1.2zM259.4 718.3h1.2v1.2h-1.2zM289.2 746.5h1.2v1.2h-1.2zM265.4 706.6h1.2v1.2h-1.2zM245.6 779.6h1.2v1.2h-1.2zM260.2 732.9h1.2v1.2h-1.2zM260.2 739.9h1.2v1.2h-1.2zM249.8 855h1.2v1.2h-1.2zM251.3 705.5h1.2v1.2h-1.2zM283.9 742h1.2v1.2h-1.2zM242.8 818.8h1.2v1.2h-1.2zM253.9 702.5h1.2v1.2h-1.2zM276.9 737.7h1.2v1.2h-1.2zM287.9 817.3h1.2v1.2h-1.2zM286.2 751.4h1.2v1.2h-1.2zM291.7 745.7h1.2v1.2h-1.2zM240.1 804h1.2v1.2h-1.2zM270.1 741.6h1.2v1.2h-1.2zM252.7 745.7h1.2v1.2h-1.2zM291.4 735.2h1.2v1.2h-1.2zM285.2 843.8h1.2v1.2h-1.2zM288.2 739.5h1.2v1.2h-1.2zM283.8 744.1h1.2v1.2h-1.2zM241.9 828.1h1.2v1.2h-1.2zM282.2 814h1.2v1.2h-1.2zM244 743.4h1.2v1.2h-1.2zM284.2 746.2h1.2v1.2h-1.2zM283.8 768.8h1.2v1.2h-1.2zM287.1 767.3h1.2v1.2h-1.2zM292.5 796h1.2v1.2h-1.2zM272.1 737.1h1.2v1.2h-1.2zM253.5 776.6h1.2v1.2h-1.2zM247.2 779.8h1.2v1.2h-1.2zM269.5 737.9h1.2v1.2h-1.2zM293.7 763.5h1.2v1.2h-1.2zM290.6 757.9h1.2v1.2h-1.2zM266.7 877.5h1.2v1.2h-1.2zM262.2 735.1h1.2v1.2h-1.2zM225.2 792.5h1.2v1.2h-1.2zM296.8 760.2h1.2v1.2h-1.2zM262 881.3h1.2v1.2h-1.2zM290 737h1.2v1.2h-1.2zM274.5 741.8h1.2v1.2h-1.2zM285.2 853.4h1.2v1.2h-1.2zM267.2 723.2h1.2v1.2h-1.2zM243.6 772.9h1.2v1.2h-1.2zM295.2 802.5h1.2v1.2h-1.2zM255.1 741.9h1.2v1.2h-1.2zM293.7 753.4h1.2v1.2h-1.2zM270 730h1.2v1.2h-1.2zM265.7 725.4h1.2v1.2h-1.2zM267.3 732h1.2v1.2h-1.2zM227.5 800.6h1.2v1.2h-1.2zM286.5 784.6h1.2v1.2h-1.2zM293.6 799.2h1.2v1.2h-1.2zM273 725.9h1.2v1.2h-1.2zM247.4 826.1h1.2v1.2h-1.2zM291.7 756.4h1.2v1.2h-1.2zM273.5 744.4h1.2v1.2h-1.2zM269.4 878h1.2v1.2h-1.2zM290.5 740.5h1.2v1.2h-1.2zM298.7 758.6h1.2v1.2h-1.2zM278.8 725.6h1.2v1.2h-1.2zM294.3 733.1h1.2v1.2h-1.2zM253.1 867.6h1.2v1.2h-1.2zM284.5 860.1h1.2v1.2h-1.2zM270.9 876.2h1.2v1.2h-1.2zM245.5 846h1.2v1.2h-1.2zM287.9 806h1.2v1.2h-1.2zM246.9 773.1h1.2v1.2h-1.2zM234.8 809.1h1.2v1.2h-1.2zM295.7 747.4h1.2v1.2h-1.2zM293.6 754.1h1.2v1.2h-1.2zM291.2 754h1.2v1.2h-1.2zM289.3 784.6h1.2v1.2h-1.2zM286.2 740.2h1.2v1.2h-1.2zM259.8 721.5h1.2v1.2h-1.2zM286.1 722h1.2v1.2h-1.2zM277.9 821.2h1.2v1.2h-1.2zM297.2 762.3h1.2v1.2h-1.2zM230.3 785h1.2v1.2h-1.2zM280.3 735.7h1.2v1.2h-1.2zM292.6 806h1.2v1.2h-1.2zM257.3 714.8h1.2v1.2h-1.2zM263.2 734h1.2v1.2h-1.2zM266.6 744.2h1.2v1.2h-1.2zM259.3 715.8h1.2v1.2h-1.2zM240.8 816.1h1.2v1.2h-1.2zM246.5 772.8h1.2v1.2h-1.2zM269.7 871.8h1.2v1.2h-1.2zM244.5 835.4h1.2v1.2h-1.2zM288.9 777.9h1.2v1.2h-1.2zM261.8 870.4h1.2v1.2h-1.2zM272.8 740.3h1.2v1.2h-1.2zM233.5 790.1h1.2v1.2h-1.2zM274 736.2h1.2v1.2h-1.2zM288.3 791.3h1.2v1.2h-1.2zM295.6 742.4h1.2v1.2h-1.2zM241.2 824.7h1.2v1.2h-1.2zM279.7 741.3h1.2v1.2h-1.2zM236 802.5h1.2v1.2h-1.2zM284 739.9h1.2v1.2h-1.2zM283.4 756.9h1.2v1.2h-1.2zM294.7 741.4h1.2v1.2h-1.2zM244.3 856.5h1.2v1.2h-1.2zM267.7 744.5h1.2v1.2h-1.2zM285.1 857.9h1.2v1.2h-1.2zM288.1 850.3h1.2v1.2h-1.2zM225.3 790.6h1.2v1.2h-1.2zM242.2 848.5h1.2v1.2h-1.2zM283.6 743.1h1.2v1.2h-1.2zM260.7 718.1h1.2v1.2h-1.2zM245.5 816.5h1.2v1.2h-1.2zM263.4 723.3h1.2v1.2h-1.2zM246.1 733.4h1.2v1.2h-1.2zM256.1 739.1h1.2v1.2h-1.2zM285.4 786.6h1.2v1.2h-1.2zM277.4 737.4h1.2v1.2h-1.2zM232.1 799.6h1.2v1.2h-1.2zM276.2 740h1.2v1.2h-1.2zM244.3 864.7h1.2v1.2h-1.2zM228.1 788.2h1.2v1.2h-1.2zM290 772.2h1.2v1.2h-1.2zM240.9 827h1.2v1.2h-1.2zM284.9 832h1.2v1.2h-1.2zM235 786h1.2v1.2h-1.2zM282.6 866.4h1.2v1.2h-1.2zM286 860.7h1.2v1.2h-1.2zM292.9 816.2h1.2v1.2h-1.2zM253.4 742.8h1.2v1.2h-1.2zM251.9 877.4h1.2v1.2h-1.2zM234.9 791.7h1.2v1.2h-1.2zM284.4 738.4h1.2v1.2h-1.2zM298.3 743.4h1.2v1.2h-1.2zM233.2 786.9h1.2v1.2h-1.2zM237.9 812.7h1.2v1.2h-1.2zM287.1 735.1h1.2v1.2h-1.2zM231.5 783h1.2v1.2h-1.2zM247.7 774.8h1.2v1.2h-1.2zM253.5 734.7h1.2v1.2h-1.2zM238.8 833h1.2v1.2h-1.2zM226.7 792.8h1.2v1.2h-1.2zM235.8 811.4h1.2v1.2h-1.2zM283.3 743h1.2v1.2h-1.2zM289.1 850.7h1.2v1.2h-1.2zM281.4 848.5h1.2v1.2h-1.2zM260.1 723.8h1.2v1.2h-1.2zM291.9 834.9h1.2v1.2h-1.2zM233.8 848.8h1.2v1.2h-1.2zM266.3 874.9h1.2v1.2h-1.2zM238.1 828.9h1.2v1.2h-1.2zM269.9 741.2h1.2v1.2h-1.2zM247.3 782.2h1.2v1.2h-1.2zM241.7 856.1h1.2v1.2h-1.2zM281.9 860.5h1.2v1.2h-1.2zM277.6 873.7h1.2v1.2h-1.2zM229.2 797.9h1.2v1.2h-1.2zM290.7 863.5h1.2v1.2h-1.2zM236.8 855.7h1.2v1.2h-1.2zM293.8 758.4h1.2v1.2h-1.2zM264.1 722.8h1.2v1.2h-1.2zM264.2 719.5h1.2v1.2h-1.2zM261.5 713.5h1.2v1.2h-1.2zM289 834.4h1.2v1.2h-1.2zM259 715.7h1.2v1.2h-1.2zM291.8 809.1h1.2v1.2h-1.2zM283.9 742.8h1.2v1.2h-1.2zM286.4 742.2h1.2v1.2h-1.2zM262.1 739.2h1.2v1.2h-1.2zM258.6 727.5h1.2v1.2h-1.2zM249.4 760.9h1.2v1.2h-1.2zM280.5 737.5h1.2v1.2h-1.2zM251.6 774.2h1.2v1.2h-1.2zM269.2 710h1.2v1.2h-1.2zM263.8 729.6h1.2v1.2h-1.2zM263.4 726.4h1.2v1.2h-1.2zM265.7 709.7h1.2v1.2h-1.2zM263.3 744.1h1.2v1.2h-1.2zM265.1 744.3h1.2v1.2h-1.2zM283.2 767.2h1.2v1.2h-1.2zM265.5 725.8h1.2v1.2h-1.2zM286.3 869.9h1.2v1.2h-1.2zM256 869.5h1.2v1.2h-1.2zM254 864.4h1.2v1.2h-1.2zM237.4 849.8h1.2v1.2h-1.2zM290.2 753.3h1.2v1.2h-1.2zM286.2 811.2h1.2v1.2h-1.2zM281.5 737.7h1.2v1.2h-1.2zM275.8 735.3h1.2v1.2h-1.2zM281.9 777.1h1.2v1.2h-1.2zM254.9 870.5h1.2v1.2h-1.2zM242.5 819.4h1.2v1.2h-1.2zM290.8 737.3h1.2v1.2h-1.2zM237.6 840.8h1.2v1.2h-1.2zM259.6 753.5h1.2v1.2h-1.2zM236.3 795.6h1.2v1.2h-1.2zM262.8 873h1.2v1.2h-1.2zM264.4 715.2h1.2v1.2h-1.2zM288.2 760.1h1.2v1.2h-1.2zM247.1 772.9h1.2v1.2h-1.2zM290.4 749.7h1.2v1.2h-1.2zM280.9 738.7h1.2v1.2h-1.2zM249 817.5h1.2v1.2h-1.2zM286.6 741.3h1.2v1.2h-1.2zM279.6 874.8h1.2v1.2h-1.2zM243.7 826.6h1.2v1.2h-1.2zM257.6 727.9h1.2v1.2h-1.2zM254.4 743.2h1.2v1.2h-1.2zM259.6 737.6h1.2v1.2h-1.2zM289.3 741.3h1.2v1.2h-1.2zM257.3 713.6h1.2v1.2h-1.2zM234.7 808.8h1.2v1.2h-1.2zM254.9 775.8h1.2v1.2h-1.2zM290.6 823.3h1.2v1.2h-1.2zM269.5 740.9h1.2v1.2h-1.2zM296.9 840.2h1.2v1.2h-1.2zM273 720.1h1.2v1.2h-1.2zM257.4 730h1.2v1.2h-1.2zM238.1 854.8h1.2v1.2h-1.2zM252.8 718.1h1.2v1.2h-1.2zM282.5 754.5h1.2v1.2h-1.2zM287.7 743.4h1.2v1.2h-1.2zM230.3 782h1.2v1.2h-1.2zM258.1 734.6h1.2v1.2h-1.2zM284.7 744.5h1.2v1.2h-1.2zM284.9 825.9h1.2v1.2h-1.2zM242.6 823.3h1.2v1.2h-1.2zM234.5 838.5h1.2v1.2h-1.2zM288.2 741.4h1.2v1.2h-1.2zM285.9 864.9h1.2v1.2h-1.2zM294.9 752.1h1.2v1.2h-1.2zM252.9 866h1.2v1.2h-1.2zM277.1 877.7h1.2v1.2h-1.2zM285.8 826.8h1.2v1.2h-1.2zM273.5 740.1h1.2v1.2h-1.2zM287.7 817.3h1.2v1.2h-1.2zM237.4 795.3h1.2v1.2h-1.2zM239 767.6h1.2v1.2h-1.2zM238.6 807h1.2v1.2h-1.2zM266.8 730.9h1.2v1.2h-1.2zM294.3 796.5h1.2v1.2h-1.2zM267.4 719.5h1.2v1.2h-1.2zM281.8 744.5h1.2v1.2h-1.2zM286.1 740h1.2v1.2h-1.2zM259.6 743.1h1.2v1.2h-1.2zM296.9 852h1.2v1.2h-1.2zM292.4 788.5h1.2v1.2h-1.2zM264.9 715.1h1.2v1.2h-1.2zM264.6 742.2h1.2v1.2h-1.2zM283.2 736.6h1.2v1.2h-1.2zM288.6 746.5h1.2v1.2h-1.2zM259.4 870.9h1.2v1.2h-1.2zM291.3 748.5h1.2v1.2h-1.2zM259 723h1.2v1.2h-1.2zM294 818h1.2v1.2h-1.2zM297.2 855.3h1.2v1.2h-1.2zM293.1 749h1.2v1.2h-1.2zM237.7 830.4h1.2v1.2h-1.2zM240.4 824.2h1.2v1.2h-1.2zM248.1 778.2h1.2v1.2h-1.2zM255 744.9h1.2v1.2h-1.2zM280.8 867.1h1.2v1.2h-1.2zM265.5 872h1.2v1.2h-1.2zM277.1 853.9h1.2v1.2h-1.2zM285.9 766.3h1.2v1.2h-1.2zM246.4 762.1h1.2v1.2h-1.2zM224.4 794.7h1.2v1.2h-1.2zM294.4 756.9h1.2v1.2h-1.2zM282.7 731.8h1.2v1.2h-1.2zM293 754.9h1.2v1.2h-1.2zM235.8 782.1h1.2v1.2h-1.2zM218.7 792.9h1.2v1.2h-1.2zM275.7 738h1.2v1.2h-1.2zM228.1 795.5h1.2v1.2h-1.2zM234 797.5h1.2v1.2h-1.2zM290.1 745.4h1.2v1.2h-1.2zM273.2 731.8h1.2v1.2h-1.2zM293.1 771.5h1.2v1.2h-1.2zM294.6 757.1h1.2v1.2h-1.2zM278.2 734.1h1.2v1.2h-1.2zM278.5 863.5h1.2v1.2h-1.2zM267 716.4h1.2v1.2h-1.2zM231.9 784.8h1.2v1.2h-1.2zM251.4 753.9h1.2v1.2h-1.2zM259.5 751.6h1.2v1.2h-1.2zM286.7 787.8h1.2v1.2h-1.2zM252.2 758.5h1.2v1.2h-1.2zM274.4 739.3h1.2v1.2h-1.2zM282.2 819.6h1.2v1.2h-1.2zM245.9 756.5h1.2v1.2h-1.2zM291.5 814.1h1.2v1.2h-1.2zM284.6 741.1h1.2v1.2h-1.2zM260.9 722.1h1.2v1.2h-1.2zM251.3 750.5h1.2v1.2h-1.2zM243.8 836.2h1.2v1.2h-1.2zM267.1 737.8h1.2v1.2h-1.2zM286.5 734.7h1.2v1.2h-1.2zM263.2 879.8h1.2v1.2h-1.2zM274.8 873.4h1.2v1.2h-1.2zM277.8 762.3h1.2v1.2h-1.2zM266.2 732.2h1.2v1.2h-1.2zM257.7 874.2h1.2v1.2h-1.2zM245.1 772.2h1.2v1.2h-1.2zM268.7 737.6h1.2v1.2h-1.2zM289.5 746.4h1.2v1.2h-1.2zM266.1 872.2h1.2v1.2h-1.2zM283.5 749.5h1.2v1.2h-1.2zM264.8 871.9h1.2v1.2h-1.2zM240.1 787.9h1.2v1.2h-1.2zM288 847.2h1.2v1.2h-1.2zM288.9 780.7h1.2v1.2h-1.2zM298 749.1h1.2v1.2h-1.2zM240.9 830.3h1.2v1.2h-1.2zM248 771.9h1.2v1.2h-1.2zM251 772.1h1.2v1.2h-1.2zM295.7 751.4h1.2v1.2h-1.2zM238.6 767.1h1.2v1.2h-1.2zM247.5 843.8h1.2v1.2h-1.2zM286.2 856.1h1.2v1.2h-1.2zM263 720.2h1.2v1.2h-1.2zM262.3 717.7h1.2v1.2h-1.2zM251.6 751.9h1.2v1.2h-1.2zM292.3 778.2h1.2v1.2h-1.2zM275.2 727.3h1.2v1.2h-1.2zM281.5 734.8h1.2v1.2h-1.2zM265.8 712.1h1.2v1.2h-1.2zM292.1 853.1h1.2v1.2h-1.2zM256.5 731.5h1.2v1.2h-1.2zM249.4 858.8h1.2v1.2h-1.2zM223.8 808.6h1.2v1.2h-1.2zM257.8 720.2h1.2v1.2h-1.2zM285.6 837.4h1.2v1.2h-1.2zM288.4 856.2h1.2v1.2h-1.2zM238.1 792.5h1.2v1.2h-1.2zM237.5 842.8h1.2v1.2h-1.2zM282.8 739.6h1.2v1.2h-1.2zM254.2 728.8h1.2v1.2h-1.2zM282.8 835h1.2v1.2h-1.2zM231.2 783.8h1.2v1.2h-1.2zM281 730h1.2v1.2h-1.2zM267.3 871.4h1.2v1.2h-1.2zM273.3 739.8h1.2v1.2h-1.2zM233.9 785.6h1.2v1.2h-1.2zM255.6 752.8h1.2v1.2h-1.2zM283.3 748h1.2v1.2h-1.2zM234.2 833.4h1.2v1.2h-1.2zM270.2 875.8h1.2v1.2h-1.2zM264.5 712.8h1.2v1.2h-1.2zM249.1 867.5h1.2v1.2h-1.2zM269.7 868.1h1.2v1.2h-1.2zM261 715.9h1.2v1.2h-1.2zM239.3 855.1h1.2v1.2h-1.2zM235.7 862.5h1.2v1.2h-1.2zM292.2 753.5h1.2v1.2h-1.2zM289.9 816.7h1.2v1.2h-1.2zM263.9 736.2h1.2v1.2h-1.2zM278.4 735.7h1.2v1.2h-1.2zM294.7 754.1h1.2v1.2h-1.2zM272.1 869.8h1.2v1.2h-1.2zM243 846.6h1.2v1.2h-1.2zM271.2 731.3h1.2v1.2h-1.2zM288.9 743.2h1.2v1.2h-1.2zM273.1 741.6h1.2v1.2h-1.2zM253.2 855.8h1.2v1.2h-1.2zM283.4 866.7h1.2v1.2h-1.2zM265 719h1.2v1.2h-1.2zM285.9 757.7h1.2v1.2h-1.2zM266.3 750.6h1.2v1.2h-1.2zM287.6 727.7h1.2v1.2h-1.2zM260.1 711.6h1.2v1.2h-1.2zM239.8 789.4h1.2v1.2h-1.2z" fill="#CE972B"/>
<path d="M178.2 813.5h1.2v1.2h-1.2zM185.5 726.8h1.2v1.2h-1.2zM189.4 727.9h1.2v1.2h-1.2zM147.5 712.4h1.2v1.2h-1.2zM150.9 712.5h1.2v1.2h-1.2zM182.6 731.7h1.2v1.2h-1.2zM129 740.3h1.2v1.2h-1.2zM177.8 784h1.2v1.2h-1.2zM176.5 782.8h1.2v1.2h-1.2zM187.3 723.8h1.2v1.2h-1.2zM142.8 784.5h1.2v1.2h-1.2zM130.3 765.4h1.2v1.2h-1.2zM123 755.7h1.2v1.2h-1.2zM130.4 774.1h1.2v1.2h-1.2zM151.6 800.6h1.2v1.2h-1.2zM165.5 810.3h1.2v1.2h-1.2zM145.3 712h1.2v1.2h-1.2zM126.2 757.5h1.2v1.2h-1.2zM123.3 766.4h1.2v1.2h-1.2zM159.6 806.1h1.2v1.2h-1.2zM184.2 735.7h1.2v1.2h-1.2zM155.8 806.8h1.2v1.2h-1.2zM141.4 728.2h1.2v1.2h-1.2zM166.9 814h1.2v1.2h-1.2zM161.7 733.8h1.2v1.2h-1.2zM142.4 708h1.2v1.2h-1.2zM183.8 740.6h1.2v1.2h-1.2zM147.5 728.3h1.2v1.2h-1.2zM179.8 751.5h1.2v1.2h-1.2zM170.7 796.9h1.2v1.2h-1.2zM167.9 795.9h1.2v1.2h-1.2zM140.6 727.9h1.2v1.2h-1.2zM157 732.5h1.2v1.2h-1.2zM179.3 754.8h1.2v1.2h-1.2zM159.1 810.8h1.2v1.2h-1.2zM165.3 730.1h1.2v1.2h-1.2zM188.1 727h1.2v1.2h-1.2zM132.9 777.1h1.2v1.2h-1.2zM142.5 720.3h1.2v1.2h-1.2zM121.6 756.6h1.2v1.2h-1.2zM179.4 743.6h1.2v1.2h-1.2zM184.8 731.7h1.2v1.2h-1.2zM146.4 790.7h1.2v1.2h-1.2zM180.3 756.7h1.2v1.2h-1.2zM143.2 729.1h1.2v1.2h-1.2zM168.1 805.6h1.2v1.2h-1.2zM146.9 732.3h1.2v1.2h-1.2zM146.6 716.1h1.2v1.2h-1.2zM143.9 722.9h1.2v1.2h-1.2zM143.7 721.2h1.2v1.2h-1.2zM160.1 808.9h1.2v1.2h-1.2zM134.7 733.8h1.2v1.2h-1.2zM150.1 724.7h1.2v1.2h-1.2zM129.5 736.1h1.2v1.2h-1.2zM180.6 725.4h1.2v1.2h-1.2zM126.2 748.1h1.2v1.2h-1.2zM174.3 784.2h1.2v1.2h-1.2zM183.8 743.5h1.2v1.2h-1.2zM159 813.3h1.2v1.2h-1.2zM187.4 735.2h1.2v1.2h-1.2zM173 785.7h1.2v1.2h-1.2zM178.4 771h1.2v1.2h-1.2zM180.3 732.9h1.2v1.2h-1.2zM170.7 792.9h1.2v1.2h-1.2zM137 727.4h1.2v1.2h-1.2zM126.3 773.7h1.2v1.2h-1.2zM173 786.3h1.2v1.2h-1.2zM184.9 729.5h1.2v1.2h-1.2zM141.1 717.7h1.2v1.2h-1.2zM129.8 741h1.2v1.2h-1.2zM174.1 787h1.2v1.2h-1.2zM145 727.4h1.2v1.2h-1.2zM131 737.2h1.2v1.2h-1.2zM124.9 756.9h1.2v1.2h-1.2zM157.4 812.4h1.2v1.2h-1.2zM178.9 726.9h1.2v1.2h-1.2zM141.1 731.3h1.2v1.2h-1.2zM185.5 733.9h1.2v1.2h-1.2zM150.9 718.1h1.2v1.2h-1.2zM172.2 794.5h1.2v1.2h-1.2zM179.4 745.5h1.2v1.2h-1.2zM188.5 727.5h1.2v1.2h-1.2zM143.4 730.6h1.2v1.2h-1.2zM179.9 743.7h1.2v1.2h-1.2zM155.4 809.7h1.2v1.2h-1.2zM172.1 730.2h1.2v1.2h-1.2zM143.5 715.1h1.2v1.2h-1.2zM126 771.3h1.2v1.2h-1.2zM179.8 744.7h1.2v1.2h-1.2zM148.2 722.2h1.2v1.2h-1.2zM148.6 800.4h1.2v1.2h-1.2zM189.1 727.3h1.2v1.2h-1.2zM147.9 795.6h1.2v1.2h-1.2zM151.8 710.2h1.2v1.2h-1.2zM148.2 714.5h1.2v1.2h-1.2zM181.9 752.9h1.2v1.2h-1.2zM183.4 737.8h1.2v1.2h-1.2zM130.8 736.8h1.2v1.2h-1.2zM176.1 789h1.2v1.2h-1.2zM176.5 786.1h1.2v1.2h-1.2zM178 746.7h1.2v1.2h-1.2zM181.1 751.6h1.2v1.2h-1.2zM146.7 712.6h1.2v1.2h-1.2zM188.2 725.5h1.2v1.2h-1.2zM168.2 800.7h1.2v1.2h-1.2zM180.1 723.1h1.2v1.2h-1.2zM177.9 765.8h1.2v1.2h-1.2zM166.4 729.3h1.2v1.2h-1.2zM193.4 726h1.2v1.2h-1.2zM170.6 805.9h1.2v1.2h-1.2zM127.5 742.2h1.2v1.2h-1.2zM185.4 737.8h1.2v1.2h-1.2zM148.2 729.8h1.2v1.2h-1.2zM150.1 808.6h1.2v1.2h-1.2zM166.8 812.7h1.2v1.2h-1.2zM142.3 790.8h1.2v1.2h-1.2zM139.2 729.2h1.2v1.2h-1.2zM141.2 720.8h1.2v1.2h-1.2zM176.4 751.5h1.2v1.2h-1.2zM147.7 729.9h1.2v1.2h-1.2zM169 733.7h1.2v1.2h-1.2zM180.7 719.8h1.2v1.2h-1.2zM145.4 726.5h1.2v1.2h-1.2zM170.4 805.5h1.2v1.2h-1.2zM139.5 789.8h1.2v1.2h-1.2zM182.5 762.7h1.2v1.2h-1.2zM179.8 754.4h1.2v1.2h-1.2zM142.1 735.4h1.2v1.2h-1.2zM183.2 736.1h1.2v1.2h-1.2zM143.9 725.1h1.2v1.2h-1.2zM131.2 771.6h1.2v1.2h-1.2zM148.7 799.2h1.2v1.2h-1.2zM142.7 727.1h1.2v1.2h-1.2zM180.6 722h1.2v1.2h-1.2zM176.5 802.7h1.2v1.2h-1.2zM151.1 708.2h1.2v1.2h-1.2zM123.2 763.8h1.2v1.2h-1.2zM146.1 715.6h1.2v1.2h-1.2zM128.1 759.3h1.2v1.2h-1.2zM142 707.4h1.2v1.2h-1.2zM139.8 726.1h1.2v1.2h-1.2zM159.3 735.4h1.2v1.2h-1.2zM170.8 795.3h1.2v1.2h-1.2zM189.6 725.6h1.2v1.2h-1.2zM156.9 810.5h1.2v1.2h-1.2zM152.3 711.4h1.2v1.2h-1.2zM177.5 751.6h1.2v1.2h-1.2zM147.6 713.1h1.2v1.2h-1.2zM174.3 798.4h1.2v1.2h-1.2zM142.7 790h1.2v1.2h-1.2zM172.1 809.4h1.2v1.2h-1.2zM185.5 722.4h1.2v1.2h-1.2zM183.3 758.3h1.2v1.2h-1.2zM132.1 737.4h1.2v1.2h-1.2zM191.9 734.3h1.2v1.2h-1.2zM171.2 792.8h1.2v1.2h-1.2zM122.6 753.3h1.2v1.2h-1.2zM125.8 767.6h1.2v1.2h-1.2zM131 748.5h1.2v1.2h-1.2zM125.7 771.4h1.2v1.2h-1.2zM162.5 807.5h1.2v1.2h-1.2zM149.4 717h1.2v1.2h-1.2zM184 725.1h1.2v1.2h-1.2zM151.5 720.7h1.2v1.2h-1.2zM188.5 737h1.2v1.2h-1.2zM152.3 710.9h1.2v1.2h-1.2zM141.1 717.3h1.2v1.2h-1.2zM126.6 752.7h1.2v1.2h-1.2zM147.6 710.6h1.2v1.2h-1.2zM180.2 766.5h1.2v1.2h-1.2zM150.1 710h1.2v1.2h-1.2zM176.8 737.5h1.2v1.2h-1.2zM141.9 729.5h1.2v1.2h-1.2zM179.5 742.1h1.2v1.2h-1.2zM170.5 789.3h1.2v1.2h-1.2zM183.4 744.8h1.2v1.2h-1.2zM180 721.6h1.2v1.2h-1.2zM174.4 780.7h1.2v1.2h-1.2zM153.7 731.9h1.2v1.2h-1.2zM128.8 767.3h1.2v1.2h-1.2zM123.3 746.8h1.2v1.2h-1.2zM133.9 780.3h1.2v1.2h-1.2zM151.1 806.3h1.2v1.2h-1.2zM178.7 754.8h1.2v1.2h-1.2zM156.7 808.6h1.2v1.2h-1.2zM147.9 715.1h1.2v1.2h-1.2zM133.1 774.9h1.2v1.2h-1.2zM146.3 736.3h1.2v1.2h-1.2zM129.2 739.6h1.2v1.2h-1.2zM183.6 750.4h1.2v1.2h-1.2zM148.8 811.3h1.2v1.2h-1.2zM187.6 737.6h1.2v1.2h-1.2zM180.1 776.1h1.2v1.2h-1.2zM182.1 726.8h1.2v1.2h-1.2zM186.1 728.6h1.2v1.2h-1.2zM153.7 728.5h1.2v1.2h-1.2zM170.1 811.4h1.2v1.2h-1.2zM144.6 714.2h1.2v1.2h-1.2zM128.9 770.3h1.2v1.2h-1.2zM188.9 729h1.2v1.2h-1.2z" fill="#A3AA27"/>
<path d="M315 798.6h1.2v1.2h-1.2zM346.1 756.8h1.2v1.2h-1.2zM347.9 748.7h1.2v1.2h-1.2zM350.6 838.7h1.2v1.2h-1.2zM316.9 812.1h1.2v1.2h-1.2zM331.2 784h1.2v1.2h-1.2zM315.3 816.4h1.2v1.2h-1.2zM344.4 832.9h1.2v1.2h-1.2zM330.1 786.4h1.2v1.2h-1.2zM336.5 770.6h1.2v1.2h-1.2zM339.6 746.3h1.2v1.2h-1.2zM335.2 751.9h1.2v1.2h-1.2zM327.6 820.4h1.2v1.2h-1.2zM349 745.6h1.2v1.2h-1.2zM375 823.8h1.2v1.2h-1.2zM312.6 803.3h1.2v1.2h-1.2zM376.2 801.9h1.2v1.2h-1.2zM367.4 840.4h1.2v1.2h-1.2zM339.3 749.9h1.2v1.2h-1.2zM378.9 810.4h1.2v1.2h-1.2zM368.4 834.7h1.2v1.2h-1.2zM335.1 756.2h1.2v1.2h-1.2zM336.6 738.7h1.2v1.2h-1.2zM323.9 789.5h1.2v1.2h-1.2zM332.9 752.1h1.2v1.2h-1.2zM370.6 789.8h1.2v1.2h-1.2zM306.8 813.1h1.2v1.2h-1.2zM326.7 830.2h1.2v1.2h-1.2zM342.7 835.2h1.2v1.2h-1.2zM362.9 777.4h1.2v1.2h-1.2zM332.1 825.5h1.2v1.2h-1.2zM385.6 801h1.2v1.2h-1.2zM317.3 811.5h1.2v1.2h-1.2zM326.5 816.3h1.2v1.2h-1.2zM336.8 770.7h1.2v1.2h-1.2zM355.2 752.5h1.2v1.2h-1.2zM331.1 776.2h1.2v1.2h-1.2zM324.3 779.4h1.2v1.2h-1.2zM374.1 796.9h1.2v1.2h-1.2zM356.4 750.4h1.2v1.2h-1.2zM308.4 807.2h1.2v1.2h-1.2zM305.7 805.5h1.2v1.2h-1.2zM305.6 799.5h1.2v1.2h-1.2zM370.9 820h1.2v1.2h-1.2zM335.8 758.9h1.2v1.2h-1.2zM351.3 745.8h1.2v1.2h-1.2zM338.8 739.3h1.2v1.2h-1.2zM333 746.7h1.2v1.2h-1.2zM378.3 805.7h1.2v1.2h-1.2zM382.9 820.5h1.2v1.2h-1.2zM342.1 741.2h1.2v1.2h-1.2zM373.3 824h1.2v1.2h-1.2zM356.1 764.5h1.2v1.2h-1.2zM367 780.8h1.2v1.2h-1.2zM356.5 761.1h1.2v1.2h-1.2zM340 747.8h1.2v1.2h-1.2zM345.4 747.9h1.2v1.2h-1.2zM327.9 792.1h1.2v1.2h-1.2zM362.3 831.8h1.2v1.2h-1.2zM376.2 788.9h1.2v1.2h-1.2zM312.5 806h1.2v1.2h-1.2zM314.3 811.6h1.2v1.2h-1.2zM319.9 798.8h1.2v1.2h-1.2zM350.2 758.7h1.2v1.2h-1.2zM360.3 828.3h1.2v1.2h-1.2zM374.7 794.7h1.2v1.2h-1.2zM325 766.9h1.2v1.2h-1.2zM334.1 762.3h1.2v1.2h-1.2zM352.5 749.4h1.2v1.2h-1.2zM343.9 749.3h1.2v1.2h-1.2zM345.6 741.8h1.2v1.2h-1.2zM358.3 774.5h1.2v1.2h-1.2zM355 838.1h1.2v1.2h-1.2zM329.8 749.8h1.2v1.2h-1.2zM355.3 840.3h1.2v1.2h-1.2zM334 744.7h1.2v1.2h-1.2zM359 835.9h1.2v1.2h-1.2zM347.3 833.9h1.2v1.2h-1.2zM352.8 837.2h1.2v1.2h-1.2zM358.6 772h1.2v1.2h-1.2zM334.6 756.4h1.2v1.2h-1.2zM321.1 793.4h1.2v1.2h-1.2zM374.5 790.1h1.2v1.2h-1.2zM379.7 832.7h1.2v1.2h-1.2zM330.6 753.6h1.2v1.2h-1.2zM361.3 839.6h1.2v1.2h-1.2zM338.6 743.3h1.2v1.2h-1.2zM330.6 749.4h1.2v1.2h-1.2zM336.5 753.5h1.2v1.2h-1.2zM348 748h1.2v1.2h-1.2zM340.4 830.8h1.2v1.2h-1.2zM333.8 745h1.2v1.2h-1.2zM316.4 813h1.2v1.2h-1.2zM323 822.6h1.2v1.2h-1.2zM352.9 767.7h1.2v1.2h-1.2zM374.5 792.2h1.2v1.2h-1.2zM376.1 803.1h1.2v1.2h-1.2zM341.4 743.5h1.2v1.2h-1.2zM330.3 773.8h1.2v1.2h-1.2zM312.5 805.1h1.2v1.2h-1.2zM332.5 751.4h1.2v1.2h-1.2zM369.9 831.9h1.2v1.2h-1.2zM341.5 829.1h1.2v1.2h-1.2zM376.7 830.9h1.2v1.2h-1.2zM380.2 826.4h1.2v1.2h-1.2zM337.1 748.3h1.2v1.2h-1.2zM327.2 825.1h1.2v1.2h-1.2zM374.8 833.4h1.2v1.2h-1.2zM346.9 832.4h1.2v1.2h-1.2zM347.1 754.8h1.2v1.2h-1.2zM330.9 826h1.2v1.2h-1.2zM379.9 815.3h1.2v1.2h-1.2zM366.7 828.1h1.2v1.2h-1.2zM320.1 790.7h1.2v1.2h-1.2zM381.9 795.8h1.2v1.2h-1.2zM336.7 824.4h1.2v1.2h-1.2zM374.9 815.7h1.2v1.2h-1.2zM349.8 763.2h1.2v1.2h-1.2zM314.4 812h1.2v1.2h-1.2zM335.3 755.5h1.2v1.2h-1.2zM344.3 829.2h1.2v1.2h-1.2zM380.6 825h1.2v1.2h-1.2zM319.2 788.4h1.2v1.2h-1.2zM344.8 748.8h1.2v1.2h-1.2zM329.9 763.8h1.2v1.2h-1.2zM351.5 832h1.2v1.2h-1.2zM334.4 755.9h1.2v1.2h-1.2zM350.1 748.4h1.2v1.2h-1.2zM364.3 780.4h1.2v1.2h-1.2zM374 810.4h1.2v1.2h-1.2zM335.9 745.6h1.2v1.2h-1.2zM343.6 828.8h1.2v1.2h-1.2zM377.7 809h1.2v1.2h-1.2zM375.3 795.8h1.2v1.2h-1.2zM359.8 841.3h1.2v1.2h-1.2zM338.7 741.9h1.2v1.2h-1.2zM337.6 742.3h1.2v1.2h-1.2zM309.8 799.9h1.2v1.2h-1.2zM377.3 819.9h1.2v1.2h-1.2zM368.9 781.5h1.2v1.2h-1.2zM340.9 743.6h1.2v1.2h-1.2zM310.2 811.9h1.2v1.2h-1.2zM380 820.1h1.2v1.2h-1.2zM319 818.6h1.2v1.2h-1.2zM345.5 745h1.2v1.2h-1.2zM368.8 793.9h1.2v1.2h-1.2zM358.4 834.1h1.2v1.2h-1.2zM348.9 761h1.2v1.2h-1.2zM337.2 827.1h1.2v1.2h-1.2zM348.8 754.8h1.2v1.2h-1.2zM364.9 833.8h1.2v1.2h-1.2zM376.6 832.3h1.2v1.2h-1.2zM333.6 758.6h1.2v1.2h-1.2zM334.7 749.7h1.2v1.2h-1.2zM331.9 748.5h1.2v1.2h-1.2zM384.8 827.2h1.2v1.2h-1.2zM333 784.2h1.2v1.2h-1.2zM377.1 810.6h1.2v1.2h-1.2zM312.2 801.6h1.2v1.2h-1.2zM380.7 809.2h1.2v1.2h-1.2zM326.5 817.6h1.2v1.2h-1.2zM306.6 805.2h1.2v1.2h-1.2zM324.2 810.6h1.2v1.2h-1.2zM372.9 788.2h1.2v1.2h-1.2zM357.4 833.8h1.2v1.2h-1.2zM333.6 768.6h1.2v1.2h-1.2zM363 837.6h1.2v1.2h-1.2zM313.1 804.1h1.2v1.2h-1.2zM375 804.9h1.2v1.2h-1.2zM325.5 788h1.2v1.2h-1.2zM367.5 782.7h1.2v1.2h-1.2zM366.3 773.7h1.2v1.2h-1.2zM336.3 747.9h1.2v1.2h-1.2zM371.9 799.5h1.2v1.2h-1.2zM355 830.1h1.2v1.2h-1.2zM359.7 839.1h1.2v1.2h-1.2zM355.9 750.6h1.2v1.2h-1.2zM364.4 774.2h1.2v1.2h-1.2zM301.4 799h1.2v1.2h-1.2zM347.6 743.1h1.2v1.2h-1.2zM362.4 842.8h1.2v1.2h-1.2zM307.4 804.4h1.2v1.2h-1.2zM310.9 805.2h1.2v1.2h-1.2zM346 753.9h1.2v1.2h-1.2zM334.7 745.5h1.2v1.2h-1.2zM334.1 746.2h1.2v1.2h-1.2zM317.6 793.9h1.2v1.2h-1.2zM335.1 750.7h1.2v1.2h-1.2zM313.2 807.4h1.2v1.2h-1.2zM360.2 837.3h1.2v1.2h-1.2zM343.3 737.1h1.2v1.2h-1.2zM362.1 834.8h1.2v1.2h-1.2zM331.5 762.4h1.2v1.2h-1.2zM384.4 807.7h1.2v1.2h-1.2zM312.6 817.5h1.2v1.2h-1.2zM320.4 789.1h1.2v1.2h-1.2zM362 838h1.2v1.2h-1.2zM335.7 824.9h1.2v1.2h-1.2zM312.3 800h1.2v1.2h-1.2zM315.1 816h1.2v1.2h-1.2zM353.9 837.4h1.2v1.2h-1.2zM339.2 752.6h1.2v1.2h-1.2zM319.8 790.9h1.2v1.2h-1.2zM365.2 832.7h1.2v1.2h-1.2zM356.1 837.8h1.2v1.2h-1.2zM354.7 764.1h1.2v1.2h-1.2zM361.2 771.8h1.2v1.2h-1.2zM325.2 784.4h1.2v1.2h-1.2zM324.8 820.4h1.2v1.2h-1.2zM351.9 768.5h1.2v1.2h-1.2zM347.6 742.2h1.2v1.2h-1.2zM334.3 820.9h1.2v1.2h-1.2zM359.4 838.5h1.2v1.2h-1.2zM367.7 774.8h1.2v1.2h-1.2zM315.3 798.4h1.2v1.2h-1.2zM307.7 791h1.2v1.2h-1.2zM334.9 764.3h1.2v1.2h-1.2zM349.6 833.9h1.2v1.2h-1.2zM339.8 742.6h1.2v1.2h-1.2zM378.9 824.3h1.2v1.2h-1.2zM353 843.4h1.2v1.2h-1.2zM340.1 829.1h1.2v1.2h-1.2zM368.9 840.9h1.2v1.2h-1.2zM318.3 809.2h1.2v1.2h-1.2zM376.8 819.3h1.2v1.2h-1.2zM372.6 788h1.2v1.2h-1.2zM331.3 751.9h1.2v1.2h-1.2zM374.6 821.4h1.2v1.2h-1.2zM336.5 830.2h1.2v1.2h-1.2zM371.9 776h1.2v1.2h-1.2zM333.9 784.3h1.2v1.2h-1.2zM333.1 776.4h1.2v1.2h-1.2zM311.9 805.9h1.2v1.2h-1.2zM355.7 837.1h1.2v1.2h-1.2zM343.6 743.1h1.2v1.2h-1.2zM331.8 759.9h1.2v1.2h-1.2zM309.8 812h1.2v1.2h-1.2zM326.6 818.6h1.2v1.2h-1.2zM306.1 808.9h1.2v1.2h-1.2zM342.6 832.3h1.2v1.2h-1.2zM311.5 797.7h1.2v1.2h-1.2zM376.1 813.8h1.2v1.2h-1.2zM351 762.5h1.2v1.2h-1.2zM329.9 767.6h1.2v1.2h-1.2zM346.8 752.5h1.2v1.2h-1.2zM346.2 828.2h1.2v1.2h-1.2zM350.1 736.3h1.2v1.2h-1.2zM323.1 815h1.2v1.2h-1.2zM322.5 818.6h1.2v1.2h-1.2zM370 786h1.2v1.2h-1.2zM358.4 779.6h1.2v1.2h-1.2zM371.7 779.8h1.2v1.2h-1.2zM350.9 772.9h1.2v1.2h-1.2zM381.1 797.4h1.2v1.2h-1.2zM379.7 799.5h1.2v1.2h-1.2zM357.4 770.9h1.2v1.2h-1.2zM362.7 777.9h1.2v1.2h-1.2zM322.6 814.9h1.2v1.2h-1.2zM341.5 742h1.2v1.2h-1.2zM378.5 822.3h1.2v1.2h-1.2z" fill="#3FBA3C"/>
<path d="M209.1 851.2h1.2v1.2h-1.2zM210.9 803.3h1.2v1.2h-1.2zM193.3 859h1.2v1.2h-1.2zM178.2 795.1h1.2v1.2h-1.2zM203.8 797.6h1.2v1.2h-1.2zM175 835.7h1.2v1.2h-1.2zM183.5 832.8h1.2v1.2h-1.2zM201.5 851.3h1.2v1.2h-1.2zM191.1 850.6h1.2v1.2h-1.2zM211.3 822.7h1.2v1.2h-1.2zM218.6 825.3h1.2v1.2h-1.2zM174.2 804.1h1.2v1.2h-1.2zM178.3 799.6h1.2v1.2h-1.2zM201.6 797.3h1.2v1.2h-1.2zM207 807.3h1.2v1.2h-1.2zM173 827.2h1.2v1.2h-1.2zM182.4 788.4h1.2v1.2h-1.2zM178.8 819.4h1.2v1.2h-1.2zM193.4 799.6h1.2v1.2h-1.2zM175.3 819.4h1.2v1.2h-1.2zM187.5 852.1h1.2v1.2h-1.2zM220.7 839.5h1.2v1.2h-1.2zM189 790.1h1.2v1.2h-1.2zM206.2 854.4h1.2v1.2h-1.2zM180.6 848.5h1.2v1.2h-1.2zM173.3 821.7h1.2v1.2h-1.2zM181 797.7h1.2v1.2h-1.2zM179 802.4h1.2v1.2h-1.2zM214.3 838.2h1.2v1.2h-1.2zM216.4 835.2h1.2v1.2h-1.2zM204.8 849.3h1.2v1.2h-1.2zM203 810.3h1.2v1.2h-1.2zM213 806.3h1.2v1.2h-1.2zM200.3 790.6h1.2v1.2h-1.2zM205.1 794.7h1.2v1.2h-1.2zM214.5 829.1h1.2v1.2h-1.2zM206.3 807.4h1.2v1.2h-1.2zM214.8 832.6h1.2v1.2h-1.2zM188.8 836.4h1.2v1.2h-1.2zM174.2 821.7h1.2v1.2h-1.2zM188.2 793.8h1.2v1.2h-1.2zM220.2 824.9h1.2v1.2h-1.2zM187 787.5h1.2v1.2h-1.2zM172.9 807.2h1.2v1.2h-1.2zM167.2 800.9h1.2v1.2h-1.2zM183.7 828.1h1.2v1.2h-1.2zM212.2 819.1h1.2v1.2h-1.2zM192.7 791.3h1.2v1.2h-1.2zM184.4 801.5h1.2v1.2h-1.2zM210.5 837h1.2v1.2h-1.2zM186.4 791.3h1.2v1.2h-1.2zM189.2 860.9h1.2v1.2h-1.2zM211.5 834.9h1.2v1.2h-1.2zM187.2 846h1.2v1.2h-1.2zM191.6 846.3h1.2v1.2h-1.2zM204.2 855.8h1.2v1.2h-1.2zM192.7 789.2h1.2v1.2h-1.2zM182 858.6h1.2v1.2h-1.2zM208.7 801.1h1.2v1.2h-1.2zM202.7 812.9h1.2v1.2h-1.2zM200.4 859.3h1.2v1.2h-1.2zM194.5 791.5h1.2v1.2h-1.2zM195.6 865.6h1.2v1.2h-1.2zM173.4 809.3h1.2v1.2h-1.2zM205.1 853.3h1.2v1.2h-1.2zM189.3 796.9h1.2v1.2h-1.2zM203 855.3h1.2v1.2h-1.2zM219.3 811.8h1.2v1.2h-1.2zM204.3 857.5h1.2v1.2h-1.2zM202.8 784.4h1.2v1.2h-1.2zM204.3 842.7h1.2v1.2h-1.2zM197.3 853.2h1.2v1.2h-1.2zM213.5 816.8h1.2v1.2h-1.2zM208.7 867.1h1.2v1.2h-1.2zM179.9 798.8h1.2v1.2h-1.2zM198.6 791.7h1.2v1.2h-1.2zM196.3 795.8h1.2v1.2h-1.2zM168.8 814.7h1.2v1.2h-1.2zM184.6 844h1.2v1.2h-1.2zM169.3 808h1.2v1.2h-1.2zM201.7 851.9h1.2v1.2h-1.2zM190.3 816.7h1.2v1.2h-1.2zM174.9 802.8h1.2v1.2h-1.2zM175.7 794.3h1.2v1.2h-1.2zM224.8 801.9h1.2v1.2h-1.2zM212.4 826.1h1.2v1.2h-1.2zM217.1 832.2h1.2v1.2h-1.2zM209.1 815.3h1.2v1.2h-1.2zM186.8 838.2h1.2v1.2h-1.2zM210.6 829.5h1.2v1.2h-1.2zM201.7 851.7h1.2v1.2h-1.2zM212.9 847.6h1.2v1.2h-1.2zM213 813.4h1.2v1.2h-1.2zM197.1 851.7h1.2v1.2h-1.2zM185.6 794.1h1.2v1.2h-1.2zM202.4 857.1h1.2v1.2h-1.2zM177 812.7h1.2v1.2h-1.2zM213.7 832.1h1.2v1.2h-1.2zM211 845.2h1.2v1.2h-1.2zM173.2 858h1.2v1.2h-1.2zM188.2 781.7h1.2v1.2h-1.2zM217.8 808.3h1.2v1.2h-1.2zM172 808h1.2v1.2h-1.2zM194.1 788.8h1.2v1.2h-1.2zM212.2 834.1h1.2v1.2h-1.2zM185.1 844.7h1.2v1.2h-1.2zM214.5 813.7h1.2v1.2h-1.2zM187.4 851h1.2v1.2h-1.2zM177.8 809.9h1.2v1.2h-1.2zM207.4 859.2h1.2v1.2h-1.2zM200.4 863.4h1.2v1.2h-1.2zM171.4 799.7h1.2v1.2h-1.2zM188.4 787.2h1.2v1.2h-1.2zM170.5 803.7h1.2v1.2h-1.2zM212.9 839.2h1.2v1.2h-1.2zM210.2 799.9h1.2v1.2h-1.2zM208.1 795.6h1.2v1.2h-1.2zM203.2 821.8h1.2v1.2h-1.2zM209.9 811.6h1.2v1.2h-1.2zM203.3 794.4h1.2v1.2h-1.2zM216.3 831.9h1.2v1.2h-1.2zM200.4 800.1h1.2v1.2h-1.2zM215.3 848h1.2v1.2h-1.2zM175.6 820.2h1.2v1.2h-1.2zM175.3 819.4h1.2v1.2h-1.2zM208.5 839.8h1.2v1.2h-1.2zM182.7 848.8h1.2v1.2h-1.2zM199.2 850.9h1.2v1.2h-1.2zM206.6 797.5h1.2v1.2h-1.2zM202.7 859.6h1.2v1.2h-1.2zM182.2 806.6h1.2v1.2h-1.2zM181.6 807.2h1.2v1.2h-1.2zM176.5 803.3h1.2v1.2h-1.2zM175.9 788.9h1.2v1.2h-1.2zM198.1 792.4h1.2v1.2h-1.2zM189.7 862.2h1.2v1.2h-1.2zM201.1 852.8h1.2v1.2h-1.2zM201.3 858.9h1.2v1.2h-1.2zM212.2 806.1h1.2v1.2h-1.2zM213 826.6h1.2v1.2h-1.2zM185 834.9h1.2v1.2h-1.2zM180.7 850.8h1.2v1.2h-1.2zM163 793h1.2v1.2h-1.2zM215.6 847.6h1.2v1.2h-1.2zM206.8 819.5h1.2v1.2h-1.2zM204.9 851.1h1.2v1.2h-1.2zM183.4 792h1.2v1.2h-1.2zM196 847.1h1.2v1.2h-1.2zM183.9 850.5h1.2v1.2h-1.2zM180.1 835.4h1.2v1.2h-1.2zM189.8 795.1h1.2v1.2h-1.2zM214.9 837.4h1.2v1.2h-1.2zM173.3 802h1.2v1.2h-1.2zM214.3 843.6h1.2v1.2h-1.2zM198.9 853h1.2v1.2h-1.2zM189.4 798.1h1.2v1.2h-1.2zM191.2 857.1h1.2v1.2h-1.2zM212.4 807.3h1.2v1.2h-1.2zM210.5 811.1h1.2v1.2h-1.2zM218.7 819.4h1.2v1.2h-1.2zM174.9 813.3h1.2v1.2h-1.2zM213.9 836.3h1.2v1.2h-1.2zM213.2 841.3h1.2v1.2h-1.2zM183.1 825.2h1.2v1.2h-1.2zM209.3 807.6h1.2v1.2h-1.2zM194.9 858h1.2v1.2h-1.2zM191.6 798.3h1.2v1.2h-1.2zM210.8 822.1h1.2v1.2h-1.2zM183.5 793.5h1.2v1.2h-1.2zM217.2 794.4h1.2v1.2h-1.2zM208.1 841.3h1.2v1.2h-1.2zM206.6 807h1.2v1.2h-1.2zM207.1 799.4h1.2v1.2h-1.2zM189.8 851.4h1.2v1.2h-1.2zM211 846.7h1.2v1.2h-1.2zM175.1 816.7h1.2v1.2h-1.2zM191.3 793.5h1.2v1.2h-1.2zM163.9 797.6h1.2v1.2h-1.2zM190 796.1h1.2v1.2h-1.2zM218.6 830.2h1.2v1.2h-1.2zM197.5 827.4h1.2v1.2h-1.2zM173.7 799.9h1.2v1.2h-1.2zM220 847.5h1.2v1.2h-1.2zM208.5 834.5h1.2v1.2h-1.2zM186.9 856h1.2v1.2h-1.2zM210.7 829.4h1.2v1.2h-1.2zM192.7 862.2h1.2v1.2h-1.2zM179.4 831.3h1.2v1.2h-1.2zM213.9 863.7h1.2v1.2h-1.2zM175 845.8h1.2v1.2h-1.2zM187 848.8h1.2v1.2h-1.2zM218.6 831.2h1.2v1.2h-1.2zM188.1 833.1h1.2v1.2h-1.2zM172.8 813.1h1.2v1.2h-1.2zM181.7 808h1.2v1.2h-1.2zM193.7 808.3h1.2v1.2h-1.2zM176.4 824.9h1.2v1.2h-1.2zM214.2 843.1h1.2v1.2h-1.2zM211.9 829.1h1.2v1.2h-1.2zM217.6 831.5h1.2v1.2h-1.2zM212.8 822.5h1.2v1.2h-1.2zM200.3 851.7h1.2v1.2h-1.2zM206 849.6h1.2v1.2h-1.2zM209.5 829.5h1.2v1.2h-1.2zM214 833.9h1.2v1.2h-1.2zM193.7 789.2h1.2v1.2h-1.2zM215.3 815.9h1.2v1.2h-1.2zM185 790.5h1.2v1.2h-1.2zM174.5 805.4h1.2v1.2h-1.2zM188.5 851.6h1.2v1.2h-1.2zM199.3 792.4h1.2v1.2h-1.2zM189.2 860.8h1.2v1.2h-1.2zM213.7 798.9h1.2v1.2h-1.2zM202.7 856.9h1.2v1.2h-1.2zM204.9 861.1h1.2v1.2h-1.2zM178.5 795h1.2v1.2h-1.2zM176.2 801.1h1.2v1.2h-1.2zM206.7 839.7h1.2v1.2h-1.2zM206.8 848.7h1.2v1.2h-1.2zM215.1 801.9h1.2v1.2h-1.2zM192 840.8h1.2v1.2h-1.2zM186.7 845.5h1.2v1.2h-1.2zM184.7 826h1.2v1.2h-1.2zM205.5 832.6h1.2v1.2h-1.2zM210.5 849.2h1.2v1.2h-1.2zM209.3 805.9h1.2v1.2h-1.2zM191.1 852.7h1.2v1.2h-1.2zM178.6 812.7h1.2v1.2h-1.2zM207.7 818.4h1.2v1.2h-1.2zM216.7 831.2h1.2v1.2h-1.2zM209 803.2h1.2v1.2h-1.2zM174.3 810.4h1.2v1.2h-1.2zM215.3 811.7h1.2v1.2h-1.2zM190.9 846.8h1.2v1.2h-1.2zM212 806.6h1.2v1.2h-1.2zM209.1 831.7h1.2v1.2h-1.2zM190.4 796.4h1.2v1.2h-1.2zM217.7 836.4h1.2v1.2h-1.2zM213.7 816.3h1.2v1.2h-1.2zM182.3 846.8h1.2v1.2h-1.2zM210.9 838.5h1.2v1.2h-1.2zM211.8 803.5h1.2v1.2h-1.2zM200.7 854.6h1.2v1.2h-1.2zM193.7 799.2h1.2v1.2h-1.2zM202.1 795.6h1.2v1.2h-1.2zM174.1 822h1.2v1.2h-1.2zM180.1 820.7h1.2v1.2h-1.2zM178.8 848.9h1.2v1.2h-1.2zM191.4 797.2h1.2v1.2h-1.2zM187.6 826h1.2v1.2h-1.2zM187.2 848.1h1.2v1.2h-1.2zM166.4 803h1.2v1.2h-1.2zM178.3 790.3h1.2v1.2h-1.2zM182.7 820.5h1.2v1.2h-1.2zM203.1 857.8h1.2v1.2h-1.2zM184 834.7h1.2v1.2h-1.2zM193.9 849.7h1.2v1.2h-1.2zM182.6 791.6h1.2v1.2h-1.2zM214.4 838.7h1.2v1.2h-1.2zM193 857.4h1.2v1.2h-1.2zM212 855.1h1.2v1.2h-1.2zM194.4 864.3h1.2v1.2h-1.2zM212.9 828.1h1.2v1.2h-1.2zM196.3 851.1h1.2v1.2h-1.2zM209.4 828h1.2v1.2h-1.2zM204.6 803.1h1.2v1.2h-1.2zM169.6 811.2h1.2v1.2h-1.2zM207.5 832.5h1.2v1.2h-1.2zM173.9 823.5h1.2v1.2h-1.2zM195.6 805.8h1.2v1.2h-1.2zM213.7 817h1.2v1.2h-1.2zM214.5 825.8h1.2v1.2h-1.2zM198.6 862.5h1.2v1.2h-1.2zM174.7 815.4h1.2v1.2h-1.2zM181.9 855.3h1.2v1.2h-1.2zM216.8 816.1h1.2v1.2h-1.2zM183.3 802.2h1.2v1.2h-1.2zM201.6 796.8h1.2v1.2h-1.2zM201.4 796.7h1.2v1.2h-1.2zM203 790.1h1.2v1.2h-1.2zM195.8 868.6h1.2v1.2h-1.2zM209.6 804.4h1.2v1.2h-1.2zM199.7 795.2h1.2v1.2h-1.2zM210.3 838.2h1.2v1.2h-1.2zM172.4 799.3h1.2v1.2h-1.2zM170.9 811.1h1.2v1.2h-1.2zM195.8 794h1.2v1.2h-1.2zM177.1 843.8h1.2v1.2h-1.2zM185.2 859.9h1.2v1.2h-1.2zM197.6 854.6h1.2v1.2h-1.2zM174.4 824h1.2v1.2h-1.2zM212.3 837.7h1.2v1.2h-1.2zM183.6 791.7h1.2v1.2h-1.2zM204.4 854.4h1.2v1.2h-1.2zM221 839.1h1.2v1.2h-1.2zM206.6 798h1.2v1.2h-1.2zM185 832.3h1.2v1.2h-1.2zM184.5 831.6h1.2v1.2h-1.2zM188.5 851.7h1.2v1.2h-1.2zM216.4 845.2h1.2v1.2h-1.2zM173.6 847.7h1.2v1.2h-1.2zM211.8 857h1.2v1.2h-1.2zM218.2 833.2h1.2v1.2h-1.2zM170.7 813.1h1.2v1.2h-1.2zM213.9 833.4h1.2v1.2h-1.2zM207.3 826.4h1.2v1.2h-1.2zM215.8 812.6h1.2v1.2h-1.2zM182.5 847.8h1.2v1.2h-1.2zM217.9 841h1.2v1.2h-1.2zM176.4 829.9h1.2v1.2h-1.2zM186.4 792.4h1.2v1.2h-1.2zM213.9 850.5h1.2v1.2h-1.2zM198.9 808.2h1.2v1.2h-1.2zM193.3 840.4h1.2v1.2h-1.2zM178.4 789.8h1.2v1.2h-1.2zM177.2 794.9h1.2v1.2h-1.2zM170.8 813.2h1.2v1.2h-1.2zM193.3 843.8h1.2v1.2h-1.2zM182.8 851.5h1.2v1.2h-1.2zM190.7 784.2h1.2v1.2h-1.2zM208 853.3h1.2v1.2h-1.2zM166.4 810.3h1.2v1.2h-1.2zM213.6 812.2h1.2v1.2h-1.2zM215.5 824.7h1.2v1.2h-1.2zM213.4 845.1h1.2v1.2h-1.2zM202.4 806.4h1.2v1.2h-1.2zM215.3 833.2h1.2v1.2h-1.2zM175.9 795.9h1.2v1.2h-1.2zM207.1 849.7h1.2v1.2h-1.2zM203.4 846h1.2v1.2h-1.2z" fill="#5DCFB9"/>
<path d="M388.7 740h1.2v1.2h-1.2zM379.6 761.1h1.2v1.2h-1.2zM412.1 751.7h1.2v1.2h-1.2zM381.3 736.8h1.2v1.2h-1.2zM384.4 765.6h1.2v1.2h-1.2zM409.5 788.1h1.2v1.2h-1.2zM387.9 770.5h1.2v1.2h-1.2zM377.8 734.4h1.2v1.2h-1.2zM404 755.7h1.2v1.2h-1.2zM406.6 784.7h1.2v1.2h-1.2zM408.4 788.4h1.2v1.2h-1.2zM403.2 781.9h1.2v1.2h-1.2zM382.8 738.5h1.2v1.2h-1.2zM372.8 760.2h1.2v1.2h-1.2zM383.5 735.3h1.2v1.2h-1.2zM409.5 762.3h1.2v1.2h-1.2zM391.8 739.9h1.2v1.2h-1.2zM393.8 769.5h1.2v1.2h-1.2zM399.7 774.1h1.2v1.2h-1.2zM408.8 782.9h1.2v1.2h-1.2zM398.3 777.8h1.2v1.2h-1.2zM401.8 751.7h1.2v1.2h-1.2zM388.1 772.3h1.2v1.2h-1.2zM400.4 780.1h1.2v1.2h-1.2zM378.8 745.1h1.2v1.2h-1.2zM375.2 735.9h1.2v1.2h-1.2zM398.8 744.5h1.2v1.2h-1.2zM405.8 784.4h1.2v1.2h-1.2zM381.2 750.8h1.2v1.2h-1.2zM408.2 750.1h1.2v1.2h-1.2zM412.9 790.3h1.2v1.2h-1.2zM408.4 785.3h1.2v1.2h-1.2zM395.1 772.4h1.2v1.2h-1.2zM383.2 762.2h1.2v1.2h-1.2zM403.8 787.1h1.2v1.2h-1.2zM386.7 773.1h1.2v1.2h-1.2zM403.7 751.9h1.2v1.2h-1.2zM396.8 782.7h1.2v1.2h-1.2zM373.9 743.4h1.2v1.2h-1.2zM397.8 742.6h1.2v1.2h-1.2zM407 749.9h1.2v1.2h-1.2zM385.2 772.2h1.2v1.2h-1.2zM382.5 758h1.2v1.2h-1.2zM406.2 767.2h1.2v1.2h-1.2zM377.8 745.7h1.2v1.2h-1.2zM383.4 769.6h1.2v1.2h-1.2zM403 753.5h1.2v1.2h-1.2zM375.1 739.5h1.2v1.2h-1.2zM401.4 751.2h1.2v1.2h-1.2zM404.9 789.8h1.2v1.2h-1.2zM410.4 767.3h1.2v1.2h-1.2zM382.6 763.3h1.2v1.2h-1.2zM406.6 752.8h1.2v1.2h-1.2zM380.4 767.7h1.2v1.2h-1.2zM403.2 783.2h1.2v1.2h-1.2zM375.4 737.3h1.2v1.2h-1.2zM407.5 786.6h1.2v1.2h-1.2zM376.8 736.4h1.2v1.2h-1.2zM412.6 773.6h1.2v1.2h-1.2zM403 773.8h1.2v1.2h-1.2zM404.8 783.4h1.2v1.2h-1.2zM376.7 746.8h1.2v1.2h-1.2zM399.5 746h1.2v1.2h-1.2zM377.6 754.5h1.2v1.2h-1.2zM405.4 787.3h1.2v1.2h-1.2zM372.8 765.8h1.2v1.2h-1.2zM378.3 752.1h1.2v1.2h-1.2zM394.3 740.8h1.2v1.2h-1.2zM401.6 753.6h1.2v1.2h-1.2zM375 743.7h1.2v1.2h-1.2zM395.6 742.9h1.2v1.2h-1.2zM415.1 762.3h1.2v1.2h-1.2zM393.9 743.9h1.2v1.2h-1.2zM401.9 750.7h1.2v1.2h-1.2zM381.2 767.8h1.2v1.2h-1.2zM402.4 780.9h1.2v1.2h-1.2zM379 740.2h1.2v1.2h-1.2zM411.5 759.5h1.2v1.2h-1.2zM399.1 741.4h1.2v1.2h-1.2zM407.9 786.6h1.2v1.2h-1.2zM405.9 785.3h1.2v1.2h-1.2zM380.6 752.7h1.2v1.2h-1.2zM406 786.1h1.2v1.2h-1.2zM386.9 770.3h1.2v1.2h-1.2zM387.2 766.1h1.2v1.2h-1.2zM381 735.1h1.2v1.2h-1.2zM392.7 776.7h1.2v1.2h-1.2zM408.4 774h1.2v1.2h-1.2zM405.6 768h1.2v1.2h-1.2zM400.4 778.6h1.2v1.2h-1.2zM373.1 740.8h1.2v1.2h-1.2zM397.6 780.9h1.2v1.2h-1.2zM401.8 777.5h1.2v1.2h-1.2zM401.6 781.5h1.2v1.2h-1.2zM410.6 768.9h1.2v1.2h-1.2zM413 768.5h1.2v1.2h-1.2zM384.3 756.1h1.2v1.2h-1.2zM397 776.3h1.2v1.2h-1.2zM402.9 775.3h1.2v1.2h-1.2zM379.7 741.1h1.2v1.2h-1.2zM377.7 763.5h1.2v1.2h-1.2zM396.3 784.8h1.2v1.2h-1.2zM413.1 760h1.2v1.2h-1.2zM405.4 754h1.2v1.2h-1.2zM376.4 749.5h1.2v1.2h-1.2zM392.3 737.9h1.2v1.2h-1.2zM410 768h1.2v1.2h-1.2zM410.5 791.7h1.2v1.2h-1.2zM401.8 776h1.2v1.2h-1.2zM372.3 740h1.2v1.2h-1.2zM403.9 777.5h1.2v1.2h-1.2zM375.5 740.3h1.2v1.2h-1.2zM403.9 789.3h1.2v1.2h-1.2zM404.6 766.6h1.2v1.2h-1.2zM415.2 765h1.2v1.2h-1.2zM398.1 774.5h1.2v1.2h-1.2zM384.4 767.2h1.2v1.2h-1.2zM378.1 739.6h1.2v1.2h-1.2zM401.6 756.3h1.2v1.2h-1.2zM410.9 788.4h1.2v1.2h-1.2zM400.4 750.3h1.2v1.2h-1.2zM384.7 771.9h1.2v1.2h-1.2zM384.9 736.9h1.2v1.2h-1.2zM379.3 745.6h1.2v1.2h-1.2zM379.6 738.2h1.2v1.2h-1.2zM382.3 772.7h1.2v1.2h-1.2zM405.2 751.9h1.2v1.2h-1.2zM396.2 740.6h1.2v1.2h-1.2zM374.6 741.1h1.2v1.2h-1.2zM377.9 736.4h1.2v1.2h-1.2zM411.9 789.3h1.2v1.2h-1.2zM408.8 771.7h1.2v1.2h-1.2zM402.7 792.6h1.2v1.2h-1.2zM380 734.9h1.2v1.2h-1.2zM402.1 751.1h1.2v1.2h-1.2zM391.7 743.3h1.2v1.2h-1.2zM408.9 765.1h1.2v1.2h-1.2zM414.3 759.9h1.2v1.2h-1.2zM392.4 743.4h1.2v1.2h-1.2zM406.6 755.7h1.2v1.2h-1.2zM407.2 771.1h1.2v1.2h-1.2zM402.3 779.2h1.2v1.2h-1.2zM379 736.5h1.2v1.2h-1.2zM401.9 779.1h1.2v1.2h-1.2zM404.5 767.7h1.2v1.2h-1.2zM373 744.9h1.2v1.2h-1.2zM395.2 772.4h1.2v1.2h-1.2zM403.1 748.9h1.2v1.2h-1.2zM412.1 761.3h1.2v1.2h-1.2zM381.5 734.7h1.2v1.2h-1.2zM411.2 758.7h1.2v1.2h-1.2zM404 786.2h1.2v1.2h-1.2zM378.9 763.4h1.2v1.2h-1.2zM380.9 749.8h1.2v1.2h-1.2zM380.9 751.1h1.2v1.2h-1.2zM382.3 737.8h1.2v1.2h-1.2zM381.9 742.6h1.2v1.2h-1.2zM407.5 789.6h1.2v1.2h-1.2zM377.4 740.4h1.2v1.2h-1.2zM386.9 766.9h1.2v1.2h-1.2zM378.3 742.5h1.2v1.2h-1.2zM407.3 766.2h1.2v1.2h-1.2zM380.8 735.6h1.2v1.2h-1.2zM408.6 756.1h1.2v1.2h-1.2zM403.4 774.1h1.2v1.2h-1.2zM406 787.9h1.2v1.2h-1.2zM398.1 743.1h1.2v1.2h-1.2zM393.9 770.5h1.2v1.2h-1.2zM375.3 738.2h1.2v1.2h-1.2zM392.5 773.1h1.2v1.2h-1.2zM404.4 773.7h1.2v1.2h-1.2zM405.6 788.2h1.2v1.2h-1.2zM411.1 757.4h1.2v1.2h-1.2zM404.9 769.1h1.2v1.2h-1.2zM398.2 776h1.2v1.2h-1.2zM378.6 738h1.2v1.2h-1.2zM390.8 739.2h1.2v1.2h-1.2zM393.7 775.1h1.2v1.2h-1.2zM418.6 753h1.2v1.2h-1.2zM377.2 746.4h1.2v1.2h-1.2zM394.2 769.3h1.2v1.2h-1.2zM380.8 760.6h1.2v1.2h-1.2zM406.9 754.8h1.2v1.2h-1.2zM410.2 785.6h1.2v1.2h-1.2zM394.1 737.7h1.2v1.2h-1.2zM410.1 754.4h1.2v1.2h-1.2zM398.4 747.2h1.2v1.2h-1.2zM400.9 782.1h1.2v1.2h-1.2zM383.1 751.8h1.2v1.2h-1.2zM406.3 748.6h1.2v1.2h-1.2zM399.7 775.7h1.2v1.2h-1.2zM396.7 778.1h1.2v1.2h-1.2zM383.9 742.2h1.2v1.2h-1.2zM379.7 762.8h1.2v1.2h-1.2zM404 785.3h1.2v1.2h-1.2zM412.3 767.2h1.2v1.2h-1.2zM412 756h1.2v1.2h-1.2zM379.7 751.5h1.2v1.2h-1.2zM395.4 772.6h1.2v1.2h-1.2zM412.2 770.1h1.2v1.2h-1.2z" fill="#5FC6E0"/>
<path d="M306.8 789.5h1.2v1.2h-1.2zM309.7 789.3h1.2v1.2h-1.2zM286.9 801.5h1.2v1.2h-1.2zM287.4 809.1h1.2v1.2h-1.2zM291.5 808.3h1.2v1.2h-1.2zM294.6 793h1.2v1.2h-1.2zM287.4 784.5h1.2v1.2h-1.2zM299 801.5h1.2v1.2h-1.2zM289.6 809.1h1.2v1.2h-1.2zM289.1 801.9h1.2v1.2h-1.2zM310.4 789.9h1.2v1.2h-1.2zM295.1 808.1h1.2v1.2h-1.2zM292 797.3h1.2v1.2h-1.2zM291 793.6h1.2v1.2h-1.2zM293.7 786.5h1.2v1.2h-1.2zM289.5 788.2h1.2v1.2h-1.2zM306.6 786.4h1.2v1.2h-1.2zM305 794.1h1.2v1.2h-1.2zM292.5 790.1h1.2v1.2h-1.2zM292.1 789.7h1.2v1.2h-1.2zM307.8 790.8h1.2v1.2h-1.2zM298.4 784.6h1.2v1.2h-1.2zM307 793.3h1.2v1.2h-1.2zM304.1 785.3h1.2v1.2h-1.2zM287.4 802.1h1.2v1.2h-1.2zM304.1 797.7h1.2v1.2h-1.2zM293.7 795.1h1.2v1.2h-1.2zM307.4 789.4h1.2v1.2h-1.2zM288.8 787.2h1.2v1.2h-1.2zM289.3 797.5h1.2v1.2h-1.2zM291.3 794.1h1.2v1.2h-1.2zM297 784.5h1.2v1.2h-1.2zM298.1 785.7h1.2v1.2h-1.2zM287.1 797.8h1.2v1.2h-1.2zM287.8 782.7h1.2v1.2h-1.2zM297.2 789.3h1.2v1.2h-1.2zM305.4 795.4h1.2v1.2h-1.2zM284.7 805.1h1.2v1.2h-1.2zM303.5 797.4h1.2v1.2h-1.2zM293.6 784.3h1.2v1.2h-1.2zM286.5 803.6h1.2v1.2h-1.2zM293.4 799.1h1.2v1.2h-1.2zM308 788h1.2v1.2h-1.2zM293.3 782.9h1.2v1.2h-1.2zM293.3 781.1h1.2v1.2h-1.2zM291.2 797.3h1.2v1.2h-1.2zM297.3 782.2h1.2v1.2h-1.2zM291.4 807.7h1.2v1.2h-1.2zM291.6 799.7h1.2v1.2h-1.2zM312.6 785.6h1.2v1.2h-1.2zM305.6 784.8h1.2v1.2h-1.2zM305.2 797h1.2v1.2h-1.2zM289.6 804.5h1.2v1.2h-1.2zM287.3 782.8h1.2v1.2h-1.2zM290.4 801.2h1.2v1.2h-1.2zM287.2 807.5h1.2v1.2h-1.2zM295.3 784.2h1.2v1.2h-1.2zM291.8 783h1.2v1.2h-1.2zM295.4 790.2h1.2v1.2h-1.2zM304.2 786.2h1.2v1.2h-1.2z" fill="#8FAADC"/>
<path d="M233.4 704.6h1.4v1.4h-1.4zM231.5 705.3h1.4v1.4h-1.4zM229.5 708.3h1.4v1.4h-1.4zM229.2 710.7h1.4v1.4h-1.4zM228 710.1h1.4v1.4h-1.4zM225.6 714.1h1.4v1.4h-1.4zM223.9 715h1.4v1.4h-1.4zM223.8 717.3h1.4v1.4h-1.4zM221.5 717.6h1.4v1.4h-1.4zM222.8 720.6h1.4v1.4h-1.4zM218.9 721.1h1.4v1.4h-1.4zM219.8 723.5h1.4v1.4h-1.4z" fill="#A3AA27"/>
<path d="M292.7 734.2h1.2v1.2h-1.2zM311.9 776h1.2v1.2h-1.2zM305 729.9h1.2v1.2h-1.2zM300 760.7h1.2v1.2h-1.2zM311.7 768.8h1.2v1.2h-1.2zM293.9 725.4h1.2v1.2h-1.2zM291.1 737.4h1.2v1.2h-1.2zM289.4 736.7h1.2v1.2h-1.2zM317.5 752.6h1.2v1.2h-1.2zM285.8 746.6h1.2v1.2h-1.2zM300.2 756.9h1.2v1.2h-1.2zM305.9 754.1h1.2v1.2h-1.2zM281.6 737.3h1.2v1.2h-1.2zM317.5 777.9h1.2v1.2h-1.2zM296.7 730.5h1.2v1.2h-1.2zM296.5 760.9h1.2v1.2h-1.2zM300.1 775.6h1.2v1.2h-1.2zM302.5 757.1h1.2v1.2h-1.2zM294.4 726.1h1.2v1.2h-1.2zM283.8 733.4h1.2v1.2h-1.2zM298 759.8h1.2v1.2h-1.2zM303.9 733.9h1.2v1.2h-1.2zM295.1 743h1.2v1.2h-1.2zM314.9 777.4h1.2v1.2h-1.2zM319.5 770.8h1.2v1.2h-1.2zM308.9 751.3h1.2v1.2h-1.2zM307.2 731.9h1.2v1.2h-1.2zM319.4 768.7h1.2v1.2h-1.2zM301 759.2h1.2v1.2h-1.2zM316 778.7h1.2v1.2h-1.2zM301.2 740.5h1.2v1.2h-1.2zM299.9 773.5h1.2v1.2h-1.2zM304 778.2h1.2v1.2h-1.2zM317.2 753.2h1.2v1.2h-1.2zM304.4 763.1h1.2v1.2h-1.2zM308.2 767h1.2v1.2h-1.2zM303.8 767.4h1.2v1.2h-1.2zM309.5 763.4h1.2v1.2h-1.2zM289.5 733h1.2v1.2h-1.2zM311 754.6h1.2v1.2h-1.2zM288.2 751.3h1.2v1.2h-1.2zM297.2 736.6h1.2v1.2h-1.2zM282.5 728.4h1.2v1.2h-1.2zM304.9 753.6h1.2v1.2h-1.2zM279.8 729.7h1.2v1.2h-1.2zM308.8 749.3h1.2v1.2h-1.2zM289.9 744.3h1.2v1.2h-1.2zM309.9 743.9h1.2v1.2h-1.2zM301.1 778.1h1.2v1.2h-1.2zM288.8 736.5h1.2v1.2h-1.2zM311 759.8h1.2v1.2h-1.2zM317.2 758h1.2v1.2h-1.2zM310.2 770h1.2v1.2h-1.2zM304.9 769.8h1.2v1.2h-1.2zM314.5 763.8h1.2v1.2h-1.2zM302 775.4h1.2v1.2h-1.2zM312 778.1h1.2v1.2h-1.2zM284.7 738.9h1.2v1.2h-1.2zM294.2 731.2h1.2v1.2h-1.2zM303.1 741.9h1.2v1.2h-1.2zM307.5 765.3h1.2v1.2h-1.2zM301.4 764.9h1.2v1.2h-1.2zM304.9 734h1.2v1.2h-1.2zM307.9 775h1.2v1.2h-1.2zM304.3 765h1.2v1.2h-1.2zM287.7 759.4h1.2v1.2h-1.2zM300 729.1h1.2v1.2h-1.2zM306 785.6h1.2v1.2h-1.2zM291.8 734.5h1.2v1.2h-1.2zM298.1 729.1h1.2v1.2h-1.2zM298.7 738.2h1.2v1.2h-1.2zM298.4 749.6h1.2v1.2h-1.2zM304.3 732.2h1.2v1.2h-1.2zM316.7 767.5h1.2v1.2h-1.2zM287.2 747.3h1.2v1.2h-1.2zM301.3 767.4h1.2v1.2h-1.2zM293.8 765.2h1.2v1.2h-1.2zM311.5 759.5h1.2v1.2h-1.2zM283.2 745.9h1.2v1.2h-1.2zM314.3 758.9h1.2v1.2h-1.2zM311.8 781.7h1.2v1.2h-1.2zM317.8 782.8h1.2v1.2h-1.2zM288.1 732.3h1.2v1.2h-1.2zM299.4 752.5h1.2v1.2h-1.2zM317 748.8h1.2v1.2h-1.2zM291.3 741.4h1.2v1.2h-1.2zM314.6 768.5h1.2v1.2h-1.2zM320.9 767.5h1.2v1.2h-1.2zM302.8 764.7h1.2v1.2h-1.2zM292.8 753.8h1.2v1.2h-1.2zM301.7 739.8h1.2v1.2h-1.2zM294.8 762.4h1.2v1.2h-1.2zM300.8 762.9h1.2v1.2h-1.2zM282.3 745.7h1.2v1.2h-1.2zM293.9 748.7h1.2v1.2h-1.2zM308 775.8h1.2v1.2h-1.2zM294.4 730.1h1.2v1.2h-1.2zM306 760.1h1.2v1.2h-1.2zM307.4 776.8h1.2v1.2h-1.2zM298.7 753.9h1.2v1.2h-1.2zM296.7 754.9h1.2v1.2h-1.2zM288 755.6h1.2v1.2h-1.2zM289.5 753.5h1.2v1.2h-1.2zM305.2 784.2h1.2v1.2h-1.2zM301.3 778.8h1.2v1.2h-1.2zM312.3 738.4h1.2v1.2h-1.2zM289.1 726.6h1.2v1.2h-1.2zM320.3 781.8h1.2v1.2h-1.2zM302.7 761.3h1.2v1.2h-1.2zM289.1 739h1.2v1.2h-1.2zM313.9 769.5h1.2v1.2h-1.2zM292.1 728.5h1.2v1.2h-1.2zM290.4 763.6h1.2v1.2h-1.2zM308.6 782h1.2v1.2h-1.2zM301 736.7h1.2v1.2h-1.2zM290.6 731.8h1.2v1.2h-1.2zM316.7 779.3h1.2v1.2h-1.2zM283.6 737.8h1.2v1.2h-1.2zM293.6 742.9h1.2v1.2h-1.2zM296.8 733.4h1.2v1.2h-1.2zM298 772.6h1.2v1.2h-1.2zM302 725.7h1.2v1.2h-1.2zM283.2 737h1.2v1.2h-1.2zM294 764.6h1.2v1.2h-1.2zM303.9 727.9h1.2v1.2h-1.2zM312.6 775.7h1.2v1.2h-1.2zM301.5 770.8h1.2v1.2h-1.2zM294.3 727.1h1.2v1.2h-1.2zM297.9 743.8h1.2v1.2h-1.2zM289.7 760.8h1.2v1.2h-1.2zM294.5 744.8h1.2v1.2h-1.2zM309.1 774.6h1.2v1.2h-1.2zM290.1 753.8h1.2v1.2h-1.2zM316.1 767.1h1.2v1.2h-1.2zM282.6 743.7h1.2v1.2h-1.2zM287.7 749.3h1.2v1.2h-1.2zM283 733.2h1.2v1.2h-1.2zM296.8 747.8h1.2v1.2h-1.2zM300.4 725.3h1.2v1.2h-1.2zM311.7 752.1h1.2v1.2h-1.2zM296.9 761.3h1.2v1.2h-1.2zM299 724.9h1.2v1.2h-1.2zM319.7 760h1.2v1.2h-1.2zM304.5 754.4h1.2v1.2h-1.2zM321 781.8h1.2v1.2h-1.2zM282.6 729h1.2v1.2h-1.2zM284.5 723.4h1.2v1.2h-1.2zM294.3 730.5h1.2v1.2h-1.2zM292.9 766.4h1.2v1.2h-1.2zM296.4 741.9h1.2v1.2h-1.2z" fill="#FB928B"/>
<path d="M365.3 748.2h1.2v1.2h-1.2zM357 747.9h1.2v1.2h-1.2zM356 732.1h1.2v1.2h-1.2zM359.3 728.7h1.2v1.2h-1.2zM371.1 723.1h1.2v1.2h-1.2zM363.3 759.9h1.2v1.2h-1.2zM357.1 749.4h1.2v1.2h-1.2zM362.5 741.4h1.2v1.2h-1.2zM368.7 738.2h1.2v1.2h-1.2zM375.8 736.8h1.2v1.2h-1.2zM357.7 765h1.2v1.2h-1.2zM364.2 735h1.2v1.2h-1.2zM355.6 725.2h1.2v1.2h-1.2zM359.7 735.8h1.2v1.2h-1.2zM359.4 722.3h1.2v1.2h-1.2zM359.4 743.1h1.2v1.2h-1.2zM358.3 751h1.2v1.2h-1.2zM360.3 750.8h1.2v1.2h-1.2zM353.6 746.1h1.2v1.2h-1.2zM358.7 723.2h1.2v1.2h-1.2zM370.8 739.2h1.2v1.2h-1.2zM375.6 747.5h1.2v1.2h-1.2zM357.8 754.7h1.2v1.2h-1.2zM368.9 761.8h1.2v1.2h-1.2zM373 728h1.2v1.2h-1.2zM371.1 746.2h1.2v1.2h-1.2zM359.3 735.2h1.2v1.2h-1.2zM372.5 753.6h1.2v1.2h-1.2zM352.5 744.1h1.2v1.2h-1.2zM355.7 732.1h1.2v1.2h-1.2zM354.8 745.3h1.2v1.2h-1.2zM375 732.5h1.2v1.2h-1.2zM364 725.2h1.2v1.2h-1.2zM356.9 735.3h1.2v1.2h-1.2zM359.3 755.2h1.2v1.2h-1.2zM373.7 748.9h1.2v1.2h-1.2zM357.6 766.9h1.2v1.2h-1.2zM375.9 738.6h1.2v1.2h-1.2zM371.6 727.6h1.2v1.2h-1.2zM365.3 720.9h1.2v1.2h-1.2zM362 750.2h1.2v1.2h-1.2zM356.8 723h1.2v1.2h-1.2zM372 758.8h1.2v1.2h-1.2zM361.8 723.7h1.2v1.2h-1.2zM375.8 749.9h1.2v1.2h-1.2zM367.9 736.3h1.2v1.2h-1.2zM355.8 742.6h1.2v1.2h-1.2zM350.4 735.6h1.2v1.2h-1.2zM362.5 729.3h1.2v1.2h-1.2zM361.1 722.9h1.2v1.2h-1.2zM367.3 731.9h1.2v1.2h-1.2zM371.9 758.7h1.2v1.2h-1.2zM372.8 728.4h1.2v1.2h-1.2zM364.4 755.2h1.2v1.2h-1.2zM364.9 730.5h1.2v1.2h-1.2zM361 742.6h1.2v1.2h-1.2zM372.7 757.2h1.2v1.2h-1.2zM366.4 752h1.2v1.2h-1.2zM358.2 747.3h1.2v1.2h-1.2zM356.8 744.1h1.2v1.2h-1.2zM351.9 740.3h1.2v1.2h-1.2zM369.2 747.1h1.2v1.2h-1.2zM355.4 751.1h1.2v1.2h-1.2zM368.4 727.9h1.2v1.2h-1.2zM359.1 756.4h1.2v1.2h-1.2zM358.9 744.4h1.2v1.2h-1.2zM364.5 753.5h1.2v1.2h-1.2zM365.2 741.7h1.2v1.2h-1.2zM362.8 766.8h1.2v1.2h-1.2zM354.4 733.1h1.2v1.2h-1.2zM363.2 743h1.2v1.2h-1.2zM359.1 763.4h1.2v1.2h-1.2zM352.3 734.9h1.2v1.2h-1.2zM353.8 740.5h1.2v1.2h-1.2zM371.2 745h1.2v1.2h-1.2zM373.5 720.7h1.2v1.2h-1.2zM362.3 754.2h1.2v1.2h-1.2zM354.1 741.2h1.2v1.2h-1.2zM361.8 753.5h1.2v1.2h-1.2zM365.1 726h1.2v1.2h-1.2zM350.3 727.7h1.2v1.2h-1.2zM374.1 744.5h1.2v1.2h-1.2zM372.1 744.7h1.2v1.2h-1.2zM367.3 751.6h1.2v1.2h-1.2zM363.7 721.5h1.2v1.2h-1.2zM360.2 762.3h1.2v1.2h-1.2zM373.2 752.3h1.2v1.2h-1.2zM376.7 744.6h1.2v1.2h-1.2zM373.1 742.2h1.2v1.2h-1.2zM351.5 740.3h1.2v1.2h-1.2z" fill="#FB928B"/>
<path d="M358.4 773.6h1.4v1.4h-1.4zM364.6 824.3h1.4v1.4h-1.4zM357.8 817.3h1.4v1.4h-1.4zM333.1 775.5h1.4v1.4h-1.4zM323.9 793.8h1.4v1.4h-1.4zM343.1 803.3h1.4v1.4h-1.4zM331.9 763.6h1.4v1.4h-1.4zM349.5 776.2h1.4v1.4h-1.4zM338.3 770.6h1.4v1.4h-1.4zM342.4 775.7h1.4v1.4h-1.4zM351.5 827.4h1.4v1.4h-1.4zM367.4 819.1h1.4v1.4h-1.4zM366.9 786.7h1.4v1.4h-1.4zM357.6 813.9h1.4v1.4h-1.4zM369.1 815.8h1.4v1.4h-1.4zM346.7 813.3h1.4v1.4h-1.4zM367.9 787.9h1.4v1.4h-1.4zM340.6 758.1h1.4v1.4h-1.4zM339 824.5h1.4v1.4h-1.4zM349.3 806.4h1.4v1.4h-1.4zM343.2 761.6h1.4v1.4h-1.4zM328.5 783.4h1.4v1.4h-1.4zM349.4 816h1.4v1.4h-1.4zM366.4 804.8h1.4v1.4h-1.4zM361.6 804.9h1.4v1.4h-1.4zM335.1 791.4h1.4v1.4h-1.4zM346.6 776.6h1.4v1.4h-1.4zM344.7 772.9h1.4v1.4h-1.4zM377 809.8h1.4v1.4h-1.4zM311.6 808.7h1.4v1.4h-1.4zM347.2 779.3h1.4v1.4h-1.4zM358.2 826.4h1.4v1.4h-1.4zM362.6 805.4h1.4v1.4h-1.4zM361.9 831.6h1.4v1.4h-1.4zM312.8 806.3h1.4v1.4h-1.4zM346.5 755h1.4v1.4h-1.4zM344.1 779.5h1.4v1.4h-1.4zM347.9 784.1h1.4v1.4h-1.4zM363.8 825.8h1.4v1.4h-1.4zM349.7 786.8h1.4v1.4h-1.4zM336.1 788.5h1.4v1.4h-1.4zM348.9 787.2h1.4v1.4h-1.4zM343.7 798.6h1.4v1.4h-1.4zM347.5 765.1h1.4v1.4h-1.4zM343.2 748.1h1.4v1.4h-1.4zM342.7 802h1.4v1.4h-1.4zM349.5 831.8h1.4v1.4h-1.4zM329.2 783.7h1.4v1.4h-1.4zM367.2 801.9h1.4v1.4h-1.4zM325.7 800.4h1.4v1.4h-1.4zM345.8 754.4h1.4v1.4h-1.4zM311.6 798.9h1.4v1.4h-1.4zM361.8 831.2h1.4v1.4h-1.4zM334 812.7h1.4v1.4h-1.4zM358.4 817.1h1.4v1.4h-1.4zM339.7 802.5h1.4v1.4h-1.4zM334.8 800.9h1.4v1.4h-1.4zM345.6 814.7h1.4v1.4h-1.4zM357.1 799.9h1.4v1.4h-1.4zM334.2 787.1h1.4v1.4h-1.4zM341.6 762h1.4v1.4h-1.4zM366.5 790h1.4v1.4h-1.4zM341.6 824.6h1.4v1.4h-1.4zM361 816.3h1.4v1.4h-1.4zM319 806.2h1.4v1.4h-1.4zM350.5 819.5h1.4v1.4h-1.4zM339.9 795h1.4v1.4h-1.4zM362.9 793h1.4v1.4h-1.4zM337.6 750.3h1.4v1.4h-1.4zM376.9 815.7h1.4v1.4h-1.4zM344.4 828.4h1.4v1.4h-1.4zM342.1 819.1h1.4v1.4h-1.4zM359.1 803.2h1.4v1.4h-1.4zM372.3 796h1.4v1.4h-1.4zM314.1 809.2h1.4v1.4h-1.4zM327.3 809.2h1.4v1.4h-1.4zM344.1 754.6h1.4v1.4h-1.4zM339.8 752.8h1.4v1.4h-1.4zM363.1 791.3h1.4v1.4h-1.4zM359 774.3h1.4v1.4h-1.4zM334.1 776.8h1.4v1.4h-1.4zM374.2 799.1h1.4v1.4h-1.4zM344.7 795.8h1.4v1.4h-1.4zM357.5 789.1h1.4v1.4h-1.4zM351.9 814h1.4v1.4h-1.4zM327.5 814.6h1.4v1.4h-1.4zM376.3 812.4h1.4v1.4h-1.4zM367.1 809.8h1.4v1.4h-1.4zM361.8 791h1.4v1.4h-1.4zM347.6 785h1.4v1.4h-1.4z" fill="#FB928B"/>
<path d="M237.9 794h1.4v1.4h-1.4zM263.1 744.8h1.4v1.4h-1.4zM253.2 866.7h1.4v1.4h-1.4zM262.2 870.4h1.4v1.4h-1.4zM268.4 797.3h1.4v1.4h-1.4zM263 867.9h1.4v1.4h-1.4zM260.1 738.9h1.4v1.4h-1.4zM238.6 797.4h1.4v1.4h-1.4zM288.9 761.2h1.4v1.4h-1.4zM256.1 770h1.4v1.4h-1.4zM257.3 737.5h1.4v1.4h-1.4zM246.6 810.1h1.4v1.4h-1.4zM261.4 783.8h1.4v1.4h-1.4zM262.4 821.2h1.4v1.4h-1.4zM275.7 780.3h1.4v1.4h-1.4zM264.4 817.3h1.4v1.4h-1.4zM280 835.6h1.4v1.4h-1.4zM274.8 848.7h1.4v1.4h-1.4zM242.9 852.2h1.4v1.4h-1.4zM281.2 784.4h1.4v1.4h-1.4zM264.3 732.1h1.4v1.4h-1.4zM271.8 756.4h1.4v1.4h-1.4zM277.4 769h1.4v1.4h-1.4zM276.9 852h1.4v1.4h-1.4zM277.6 806.7h1.4v1.4h-1.4zM261.2 811h1.4v1.4h-1.4zM271.1 851.8h1.4v1.4h-1.4zM273.2 863.6h1.4v1.4h-1.4zM266.5 869.3h1.4v1.4h-1.4zM284.6 760h1.4v1.4h-1.4zM251.4 830.9h1.4v1.4h-1.4zM250.6 838.2h1.4v1.4h-1.4zM265.3 868.7h1.4v1.4h-1.4zM281.7 824.4h1.4v1.4h-1.4zM256.6 759.1h1.4v1.4h-1.4zM263.1 717.7h1.4v1.4h-1.4zM242.7 827.6h1.4v1.4h-1.4zM262.8 765.1h1.4v1.4h-1.4zM245.9 794.4h1.4v1.4h-1.4zM283.9 748.4h1.4v1.4h-1.4zM283.6 804.8h1.4v1.4h-1.4zM278.3 846.8h1.4v1.4h-1.4zM261 863.1h1.4v1.4h-1.4zM266.9 810.2h1.4v1.4h-1.4zM259.9 751.6h1.4v1.4h-1.4zM253.6 789.8h1.4v1.4h-1.4zM274.2 808.2h1.4v1.4h-1.4zM255.2 842.1h1.4v1.4h-1.4zM277.5 761.2h1.4v1.4h-1.4zM259.3 778.1h1.4v1.4h-1.4zM282.1 741.1h1.4v1.4h-1.4zM249.2 813.8h1.4v1.4h-1.4zM267 833.7h1.4v1.4h-1.4zM263.9 756.2h1.4v1.4h-1.4zM241.1 844h1.4v1.4h-1.4zM257.5 776.7h1.4v1.4h-1.4zM271.6 846.3h1.4v1.4h-1.4zM236.5 799h1.4v1.4h-1.4zM274.3 828.3h1.4v1.4h-1.4zM277.1 779.8h1.4v1.4h-1.4zM262.8 794.5h1.4v1.4h-1.4zM247.9 838.3h1.4v1.4h-1.4zM246.2 848.2h1.4v1.4h-1.4zM261.9 731h1.4v1.4h-1.4zM284.2 826h1.4v1.4h-1.4zM258.6 810.7h1.4v1.4h-1.4zM256.2 772h1.4v1.4h-1.4zM278.2 780.4h1.4v1.4h-1.4zM252.9 794.8h1.4v1.4h-1.4zM250.8 859.2h1.4v1.4h-1.4zM271.7 793.2h1.4v1.4h-1.4zM274.9 820.1h1.4v1.4h-1.4zM283 747.2h1.4v1.4h-1.4zM275.2 835.7h1.4v1.4h-1.4zM287.7 753.7h1.4v1.4h-1.4zM285.4 816h1.4v1.4h-1.4zM276.5 813.6h1.4v1.4h-1.4zM270.3 838.3h1.4v1.4h-1.4zM241.8 841h1.4v1.4h-1.4zM284.2 830.8h1.4v1.4h-1.4zM246.9 850.5h1.4v1.4h-1.4zM286.9 834.8h1.4v1.4h-1.4zM273.3 843.5h1.4v1.4h-1.4zM266.6 831.7h1.4v1.4h-1.4zM237.1 800.6h1.4v1.4h-1.4zM243.6 790.2h1.4v1.4h-1.4zM251 786.7h1.4v1.4h-1.4zM264.8 856h1.4v1.4h-1.4zM260.1 746.9h1.4v1.4h-1.4zM284.9 842.8h1.4v1.4h-1.4zM241.6 796.6h1.4v1.4h-1.4zM257.1 862.1h1.4v1.4h-1.4zM274.4 794h1.4v1.4h-1.4zM284 762.6h1.4v1.4h-1.4zM236.2 802.9h1.4v1.4h-1.4zM266 810.1h1.4v1.4h-1.4zM281.6 736.7h1.4v1.4h-1.4zM265.3 734.7h1.4v1.4h-1.4zM289.9 756.3h1.4v1.4h-1.4zM279.3 838.3h1.4v1.4h-1.4zM267.1 864.7h1.4v1.4h-1.4zM287.9 759h1.4v1.4h-1.4zM282.1 859.1h1.4v1.4h-1.4zM266.7 860.5h1.4v1.4h-1.4zM269.7 835.8h1.4v1.4h-1.4zM263.5 798.7h1.4v1.4h-1.4zM281.2 741.9h1.4v1.4h-1.4zM276.5 840.5h1.4v1.4h-1.4zM265.5 765.7h1.4v1.4h-1.4zM242.6 797.6h1.4v1.4h-1.4z" fill="#FB928B"/>
<path d="M179.1 806.3h1.4v1.4h-1.4zM202.9 845h1.4v1.4h-1.4zM206.5 832.5h1.4v1.4h-1.4zM195.5 795.6h1.4v1.4h-1.4zM188.2 809.3h1.4v1.4h-1.4zM193.8 853.7h1.4v1.4h-1.4zM181.8 795.4h1.4v1.4h-1.4zM191.7 839.2h1.4v1.4h-1.4zM184 829.3h1.4v1.4h-1.4zM208 802.3h1.4v1.4h-1.4zM196.6 811.8h1.4v1.4h-1.4zM181.5 808.7h1.4v1.4h-1.4zM197.9 847.9h1.4v1.4h-1.4zM171.7 806h1.4v1.4h-1.4zM200 814.8h1.4v1.4h-1.4zM194.2 820.7h1.4v1.4h-1.4zM180.2 805.8h1.4v1.4h-1.4zM185.6 842.2h1.4v1.4h-1.4zM213.6 833.8h1.4v1.4h-1.4zM206 853.3h1.4v1.4h-1.4zM192.1 829.1h1.4v1.4h-1.4zM192.4 839.4h1.4v1.4h-1.4zM209.8 825.5h1.4v1.4h-1.4zM194.4 820.8h1.4v1.4h-1.4zM194.4 803.2h1.4v1.4h-1.4zM208.6 816.9h1.4v1.4h-1.4zM185.6 842.3h1.4v1.4h-1.4zM189.2 815.6h1.4v1.4h-1.4zM197.1 836.5h1.4v1.4h-1.4zM212.7 839.7h1.4v1.4h-1.4zM209.2 817.1h1.4v1.4h-1.4zM207.7 810.4h1.4v1.4h-1.4zM197.3 808.9h1.4v1.4h-1.4zM185.2 844.8h1.4v1.4h-1.4zM195.2 845.2h1.4v1.4h-1.4zM185.5 838.7h1.4v1.4h-1.4zM188.9 825.3h1.4v1.4h-1.4zM201.9 805.5h1.4v1.4h-1.4zM180.8 814.4h1.4v1.4h-1.4zM211.1 820.7h1.4v1.4h-1.4z" fill="#FB928B"/>
<path d="M135 780.9h1.4v1.4h-1.4zM164.4 790.6h1.4v1.4h-1.4zM170.5 756.6h1.4v1.4h-1.4zM165.1 779h1.4v1.4h-1.4zM175.6 753.1h1.4v1.4h-1.4zM164.5 754.2h1.4v1.4h-1.4zM188.1 733.2h1.4v1.4h-1.4zM169.4 753.9h1.4v1.4h-1.4zM139.9 775.3h1.4v1.4h-1.4zM174.8 747h1.4v1.4h-1.4zM155 762h1.4v1.4h-1.4zM137.2 764.5h1.4v1.4h-1.4zM170.4 810.5h1.4v1.4h-1.4zM146.4 766.1h1.4v1.4h-1.4zM134.4 779.3h1.4v1.4h-1.4zM160.8 787.2h1.4v1.4h-1.4zM137.2 774.8h1.4v1.4h-1.4zM145.6 766.4h1.4v1.4h-1.4zM155.4 755.2h1.4v1.4h-1.4zM149.8 784.1h1.4v1.4h-1.4zM174 773.3h1.4v1.4h-1.4zM143.5 787.3h1.4v1.4h-1.4zM171.2 782h1.4v1.4h-1.4zM174.3 774.1h1.4v1.4h-1.4zM183.7 733.6h1.4v1.4h-1.4zM156.9 767.9h1.4v1.4h-1.4zM157.6 778.5h1.4v1.4h-1.4zM176 760.3h1.4v1.4h-1.4zM161.8 754.6h1.4v1.4h-1.4zM176 738h1.4v1.4h-1.4zM176.1 763.2h1.4v1.4h-1.4zM144.3 761.7h1.4v1.4h-1.4zM141.5 780.6h1.4v1.4h-1.4zM147.5 788.8h1.4v1.4h-1.4zM162.9 786.9h1.4v1.4h-1.4zM137.9 781h1.4v1.4h-1.4zM151.2 792.5h1.4v1.4h-1.4zM173.9 759.8h1.4v1.4h-1.4zM165.6 766.5h1.4v1.4h-1.4zM166.8 796.6h1.4v1.4h-1.4z" fill="#FB928B"/>
<path d="M278.9 620.7h1.3v1.3h-1.3zM372.8 643h1.3v1.3h-1.3zM383 609.3h1.3v1.3h-1.3zM268.8 606.8h1.3v1.3h-1.3zM283.5 607.8h1.3v1.3h-1.3zM276.7 713.4h1.3v1.3h-1.3zM318.3 641.7h1.3v1.3h-1.3zM294 708h1.3v1.3h-1.3zM330.5 678.7h1.3v1.3h-1.3zM258.7 697h1.3v1.3h-1.3zM266.6 645.8h1.3v1.3h-1.3zM279.3 657.7h1.3v1.3h-1.3zM331.5 674.4h1.3v1.3h-1.3zM326.6 611.1h1.3v1.3h-1.3zM295.6 652.7h1.3v1.3h-1.3zM292.9 680.1h1.3v1.3h-1.3zM366.7 696.4h1.3v1.3h-1.3zM340.7 583.5h1.3v1.3h-1.3zM302.1 676.2h1.3v1.3h-1.3zM306.4 721h1.3v1.3h-1.3zM341.5 593.8h1.3v1.3h-1.3zM307.8 609.9h1.3v1.3h-1.3zM378.9 609.9h1.3v1.3h-1.3zM279.6 601.1h1.3v1.3h-1.3zM283.1 638.1h1.3v1.3h-1.3zM279.6 697h1.3v1.3h-1.3zM327 673.6h1.3v1.3h-1.3zM361.4 609.7h1.3v1.3h-1.3zM366.6 623.8h1.3v1.3h-1.3zM347.5 747h1.3v1.3h-1.3zM290 654.3h1.3v1.3h-1.3zM365.1 607.9h1.3v1.3h-1.3zM385.6 615.7h1.3v1.3h-1.3zM287.2 641.6h1.3v1.3h-1.3zM356.6 610.7h1.3v1.3h-1.3zM359.3 647.4h1.3v1.3h-1.3zM360.6 610.7h1.3v1.3h-1.3zM323.1 717.2h1.3v1.3h-1.3zM353 611.7h1.3v1.3h-1.3zM300.2 642.3h1.3v1.3h-1.3zM323.5 715.3h1.3v1.3h-1.3zM375.3 675.2h1.3v1.3h-1.3zM325.8 621.7h1.3v1.3h-1.3zM341.2 744.6h1.3v1.3h-1.3zM351.3 601.1h1.3v1.3h-1.3zM353.2 636.3h1.3v1.3h-1.3zM359.4 622.4h1.3v1.3h-1.3zM290.2 660.4h1.3v1.3h-1.3zM331.3 618.6h1.3v1.3h-1.3zM319.5 610.8h1.3v1.3h-1.3zM301 676.8h1.3v1.3h-1.3zM371 627.2h1.3v1.3h-1.3zM239.1 702.6h1.3v1.3h-1.3zM354.5 709.5h1.3v1.3h-1.3zM284.7 699.2h1.3v1.3h-1.3zM367.6 696.6h1.3v1.3h-1.3zM351.3 600.6h1.3v1.3h-1.3zM269.2 641.6h1.3v1.3h-1.3zM338.5 677h1.3v1.3h-1.3zM294.8 668.9h1.3v1.3h-1.3z" fill="#CE972B"/>
<path d="M323.2 806.3h1.3v1.3h-1.3zM364 791h1.3v1.3h-1.3zM347.5 832.6h1.3v1.3h-1.3zM371.6 817.9h1.3v1.3h-1.3zM345.8 790.3h1.3v1.3h-1.3zM359.8 805.3h1.3v1.3h-1.3zM376.8 815h1.3v1.3h-1.3zM359 800h1.3v1.3h-1.3zM322.2 804.1h1.3v1.3h-1.3zM322.6 798.5h1.3v1.3h-1.3zM314.3 809.2h1.3v1.3h-1.3zM337.8 816.1h1.3v1.3h-1.3zM355.8 782.9h1.3v1.3h-1.3zM345.6 782.5h1.3v1.3h-1.3zM348.8 776h1.3v1.3h-1.3zM363.7 823.3h1.3v1.3h-1.3zM342.3 762.7h1.3v1.3h-1.3zM356.7 785.6h1.3v1.3h-1.3zM331 817.9h1.3v1.3h-1.3zM346.1 770.1h1.3v1.3h-1.3zM338.4 790.1h1.3v1.3h-1.3zM331.2 774.4h1.3v1.3h-1.3zM358.5 831.8h1.3v1.3h-1.3zM369.3 826.6h1.3v1.3h-1.3zM330.9 790.7h1.3v1.3h-1.3zM373.4 818.4h1.3v1.3h-1.3zM370.9 796.3h1.3v1.3h-1.3zM346.1 775.3h1.3v1.3h-1.3zM372.5 811.9h1.3v1.3h-1.3zM316.6 799.5h1.3v1.3h-1.3zM325.9 802.1h1.3v1.3h-1.3zM353.6 765.2h1.3v1.3h-1.3zM353 823.3h1.3v1.3h-1.3zM342.5 796h1.3v1.3h-1.3zM367.7 832.9h1.3v1.3h-1.3zM359 812.2h1.3v1.3h-1.3zM352.4 789.3h1.3v1.3h-1.3zM363.1 792.9h1.3v1.3h-1.3zM362.1 809h1.3v1.3h-1.3zM345.4 797.9h1.3v1.3h-1.3z" fill="#CE972B"/>
<path d="M193.1 851.2h1.4v1.4h-1.4zM193 812.1h1.4v1.4h-1.4zM203.9 856.1h1.4v1.4h-1.4zM204.6 823.1h1.4v1.4h-1.4zM198.2 807.1h1.4v1.4h-1.4zM190.8 797.2h1.4v1.4h-1.4zM200.9 848.5h1.4v1.4h-1.4zM180.8 806h1.4v1.4h-1.4zM207.4 799.6h1.4v1.4h-1.4zM175.6 807.6h1.4v1.4h-1.4zM203 831.9h1.4v1.4h-1.4zM201.6 818.4h1.4v1.4h-1.4zM204.8 800.3h1.4v1.4h-1.4zM184.7 815.7h1.4v1.4h-1.4zM193.4 849h1.4v1.4h-1.4zM204.7 817.3h1.4v1.4h-1.4zM201.2 855.5h1.4v1.4h-1.4zM195.6 801.3h1.4v1.4h-1.4zM174.9 810.2h1.4v1.4h-1.4zM193.8 854.1h1.4v1.4h-1.4zM178.1 807.3h1.4v1.4h-1.4zM200.3 808.6h1.4v1.4h-1.4zM204.2 812.1h1.4v1.4h-1.4zM204.9 803h1.4v1.4h-1.4zM212.3 826.2h1.4v1.4h-1.4zM197.5 834.2h1.4v1.4h-1.4zM176.4 797.3h1.4v1.4h-1.4zM186.9 843.3h1.4v1.4h-1.4zM175.7 814.5h1.4v1.4h-1.4zM183.2 800.7h1.4v1.4h-1.4zM188.5 805.1h1.4v1.4h-1.4zM206.9 819.4h1.4v1.4h-1.4zM184.7 818.3h1.4v1.4h-1.4zM195.7 816.1h1.4v1.4h-1.4zM197.8 796.8h1.4v1.4h-1.4zM212.4 811.7h1.4v1.4h-1.4zM194.4 838.9h1.4v1.4h-1.4zM207.1 814h1.4v1.4h-1.4zM211.3 833.6h1.4v1.4h-1.4zM188.9 832h1.4v1.4h-1.4zM191.1 797.3h1.4v1.4h-1.4zM206.7 849.3h1.4v1.4h-1.4zM192.1 852.2h1.4v1.4h-1.4zM184 806.8h1.4v1.4h-1.4zM195.2 849.2h1.4v1.4h-1.4zM189.7 803.5h1.4v1.4h-1.4zM193.4 801.3h1.4v1.4h-1.4zM201.5 856.6h1.4v1.4h-1.4zM210.7 830.1h1.4v1.4h-1.4zM205 841h1.4v1.4h-1.4zM203 817h1.4v1.4h-1.4zM204.7 823.2h1.4v1.4h-1.4zM175.4 802.8h1.4v1.4h-1.4zM214 836.6h1.4v1.4h-1.4zM203.1 848.1h1.4v1.4h-1.4zM194.8 821.2h1.4v1.4h-1.4zM200.1 826.4h1.4v1.4h-1.4zM189 802.1h1.4v1.4h-1.4zM195.1 815.3h1.4v1.4h-1.4zM203.5 803.3h1.4v1.4h-1.4zM194.4 806.4h1.4v1.4h-1.4zM205.1 827.1h1.4v1.4h-1.4zM188.2 842.7h1.4v1.4h-1.4zM198.6 819.3h1.4v1.4h-1.4zM209.9 837.5h1.4v1.4h-1.4zM207.2 818.8h1.4v1.4h-1.4zM209.6 831.7h1.4v1.4h-1.4zM194.3 851.7h1.4v1.4h-1.4zM198.6 843.9h1.4v1.4h-1.4zM202.8 819.7h1.4v1.4h-1.4z" fill="#CE972B"/>
<path d="M259.9 781.8h1.3v1.3h-1.3zM248.2 841.5h1.3v1.3h-1.3zM262 744.8h1.3v1.3h-1.3zM248.2 830.2h1.3v1.3h-1.3zM280.4 809h1.3v1.3h-1.3zM274.1 792.4h1.3v1.3h-1.3zM253 835.7h1.3v1.3h-1.3zM267.9 836.4h1.3v1.3h-1.3zM260.9 762.5h1.3v1.3h-1.3zM254.8 768.1h1.3v1.3h-1.3zM289 842.3h1.3v1.3h-1.3zM274.5 772.9h1.3v1.3h-1.3zM266.3 732.9h1.3v1.3h-1.3zM285.8 782.4h1.3v1.3h-1.3zM255 807.2h1.3v1.3h-1.3zM258 853.6h1.3v1.3h-1.3zM278.3 860.9h1.3v1.3h-1.3zM272.8 739h1.3v1.3h-1.3zM286.4 832.6h1.3v1.3h-1.3zM278.7 822.7h1.3v1.3h-1.3zM276.5 817.4h1.3v1.3h-1.3zM271.7 755.3h1.3v1.3h-1.3zM281.1 849.2h1.3v1.3h-1.3zM259.4 817.4h1.3v1.3h-1.3zM272.1 824.3h1.3v1.3h-1.3zM285.6 790.1h1.3v1.3h-1.3zM264.1 771.4h1.3v1.3h-1.3zM249.8 791.8h1.3v1.3h-1.3zM264.9 745.5h1.3v1.3h-1.3zM250.3 792.3h1.3v1.3h-1.3zM252.1 838.8h1.3v1.3h-1.3zM268.4 869.6h1.3v1.3h-1.3zM282.7 806.6h1.3v1.3h-1.3zM282.1 750.2h1.3v1.3h-1.3zM279.1 789.1h1.3v1.3h-1.3zM256.1 828.8h1.3v1.3h-1.3zM278.2 755.9h1.3v1.3h-1.3zM274.6 742.9h1.3v1.3h-1.3zM242.2 844.3h1.3v1.3h-1.3zM281.7 745.9h1.3v1.3h-1.3z" fill="#3FBA3C"/>
<path d="M389 760.9h1.4v1.4h-1.4zM397.5 775h1.4v1.4h-1.4zM384.6 752.3h1.4v1.4h-1.4zM403.8 771.2h1.4v1.4h-1.4zM395.2 760.3h1.4v1.4h-1.4zM394.6 758.5h1.4v1.4h-1.4zM395.9 757.4h1.4v1.4h-1.4zM394.1 758.9h1.4v1.4h-1.4zM402 754.4h1.4v1.4h-1.4zM392.5 759.8h1.4v1.4h-1.4zM409.4 763.1h1.4v1.4h-1.4zM397.3 752.4h1.4v1.4h-1.4zM397.6 759.5h1.4v1.4h-1.4zM376.8 744.2h1.4v1.4h-1.4zM408.6 759.6h1.4v1.4h-1.4zM404.4 784.4h1.4v1.4h-1.4zM388.8 741.4h1.4v1.4h-1.4zM383.5 747.7h1.4v1.4h-1.4zM401.5 753.4h1.4v1.4h-1.4zM401.9 758h1.4v1.4h-1.4zM389.7 748.5h1.4v1.4h-1.4zM392.7 745h1.4v1.4h-1.4zM395 764h1.4v1.4h-1.4zM404 772.2h1.4v1.4h-1.4zM401.1 759h1.4v1.4h-1.4zM405.5 763.3h1.4v1.4h-1.4zM381.7 756.2h1.4v1.4h-1.4zM383.2 740.6h1.4v1.4h-1.4zM384 757.2h1.4v1.4h-1.4zM380.5 740.8h1.4v1.4h-1.4zM400.6 770.7h1.4v1.4h-1.4zM389.8 763.1h1.4v1.4h-1.4zM398.8 752h1.4v1.4h-1.4zM389.7 747h1.4v1.4h-1.4zM391.9 743.1h1.4v1.4h-1.4zM392.3 769.1h1.4v1.4h-1.4zM380.3 759.9h1.4v1.4h-1.4zM394 769.7h1.4v1.4h-1.4zM403.4 761.7h1.4v1.4h-1.4zM405 762.3h1.4v1.4h-1.4z" fill="#FB928B"/>
<path d="M191.6 800.5h1.3v1.3h-1.3zM220.1 811.1h1.3v1.3h-1.3zM215.8 802.8h1.3v1.3h-1.3zM177.7 791.7h1.3v1.3h-1.3zM226 812.5h1.3v1.3h-1.3zM224.9 810.7h1.3v1.3h-1.3zM212.9 814.8h1.3v1.3h-1.3zM179.9 793.4h1.3v1.3h-1.3zM222.6 811.2h1.3v1.3h-1.3zM184.7 793.6h1.3v1.3h-1.3zM217.3 825h1.3v1.3h-1.3zM186.6 794.2h1.3v1.3h-1.3zM218.5 803.9h1.3v1.3h-1.3zM207.4 815.4h1.3v1.3h-1.3zM223.5 838.3h1.3v1.3h-1.3zM229.9 798.8h1.3v1.3h-1.3zM205 806.9h1.3v1.3h-1.3zM216.6 807.7h1.3v1.3h-1.3zM215.3 815.8h1.3v1.3h-1.3zM206.3 800.9h1.3v1.3h-1.3zM198.9 806.3h1.3v1.3h-1.3zM189.5 796h1.3v1.3h-1.3zM208.8 816.4h1.3v1.3h-1.3zM219.4 811.7h1.3v1.3h-1.3zM199.9 804.7h1.3v1.3h-1.3zM206.4 807.3h1.3v1.3h-1.3zM195.7 806.9h1.3v1.3h-1.3zM214.5 815.8h1.3v1.3h-1.3zM219 824h1.3v1.3h-1.3zM228.5 802.7h1.3v1.3h-1.3zM210.9 804.3h1.3v1.3h-1.3zM225.3 797.5h1.3v1.3h-1.3zM204.9 809.8h1.3v1.3h-1.3zM194.8 792.4h1.3v1.3h-1.3zM199.8 800h1.3v1.3h-1.3zM204.6 813.6h1.3v1.3h-1.3zM187.2 799h1.3v1.3h-1.3zM214.8 826.1h1.3v1.3h-1.3zM223 805h1.3v1.3h-1.3zM206 814.1h1.3v1.3h-1.3zM206.5 797.4h1.3v1.3h-1.3zM200.8 803.1h1.3v1.3h-1.3zM200.1 799.1h1.3v1.3h-1.3zM181.6 793.1h1.3v1.3h-1.3zM198.1 799.6h1.3v1.3h-1.3zM216.8 802.4h1.3v1.3h-1.3zM206.5 799.8h1.3v1.3h-1.3zM227.1 809.8h1.3v1.3h-1.3zM226 806.3h1.3v1.3h-1.3zM207.6 811.1h1.3v1.3h-1.3zM220 805.5h1.3v1.3h-1.3zM215.9 834.2h1.3v1.3h-1.3zM223.7 801.2h1.3v1.3h-1.3zM215.2 809h1.3v1.3h-1.3zM223.5 809.7h1.3v1.3h-1.3zM211.2 808.8h1.3v1.3h-1.3zM222.5 820.1h1.3v1.3h-1.3zM216.8 818.1h1.3v1.3h-1.3zM212 809.9h1.3v1.3h-1.3zM224.4 814.8h1.3v1.3h-1.3zM193.4 804.7h1.3v1.3h-1.3zM229.1 809.9h1.3v1.3h-1.3zM199.3 800.9h1.3v1.3h-1.3zM220.8 808.1h1.3v1.3h-1.3zM218.5 806.2h1.3v1.3h-1.3zM210.2 807h1.3v1.3h-1.3zM194 802.6h1.3v1.3h-1.3zM213.1 813.2h1.3v1.3h-1.3zM215.9 811.7h1.3v1.3h-1.3zM206.1 807.8h1.3v1.3h-1.3zM223.2 806.1h1.3v1.3h-1.3zM210.5 802.5h1.3v1.3h-1.3zM210.8 811.9h1.3v1.3h-1.3zM194.2 793.1h1.3v1.3h-1.3zM217.6 839h1.3v1.3h-1.3zM230.9 833.6h1.3v1.3h-1.3zM204 812.3h1.3v1.3h-1.3zM182.9 789.9h1.3v1.3h-1.3zM216.2 804.8h1.3v1.3h-1.3zM231.7 797.9h1.3v1.3h-1.3zM227.9 805.6h1.3v1.3h-1.3zM196.7 795.5h1.3v1.3h-1.3zM223.9 804.8h1.3v1.3h-1.3zM184.7 791.4h1.3v1.3h-1.3zM199.5 807.6h1.3v1.3h-1.3zM214.2 820.3h1.3v1.3h-1.3zM180.9 791.3h1.3v1.3h-1.3zM215.1 808.4h1.3v1.3h-1.3zM227 804h1.3v1.3h-1.3zM220.6 799.8h1.3v1.3h-1.3zM211.5 803h1.3v1.3h-1.3zM203.6 799.4h1.3v1.3h-1.3zM213.3 817.4h1.3v1.3h-1.3zM225.2 800.1h1.3v1.3h-1.3zM183.5 794.5h1.3v1.3h-1.3zM223.2 817.9h1.3v1.3h-1.3zM208.7 806.6h1.3v1.3h-1.3zM216.8 819.8h1.3v1.3h-1.3zM193.9 805.5h1.3v1.3h-1.3zM189.3 796.6h1.3v1.3h-1.3zM206.5 800h1.3v1.3h-1.3zM229.6 806.1h1.3v1.3h-1.3zM196.5 797.5h1.3v1.3h-1.3zM206.8 815.1h1.3v1.3h-1.3zM212.2 806.7h1.3v1.3h-1.3zM213.9 801.3h1.3v1.3h-1.3zM216.8 839.7h1.3v1.3h-1.3zM227.4 798.4h1.3v1.3h-1.3zM214.1 803.5h1.3v1.3h-1.3zM205.3 804.8h1.3v1.3h-1.3zM226.6 814.3h1.3v1.3h-1.3zM205.3 807.2h1.3v1.3h-1.3zM228.8 804.4h1.3v1.3h-1.3zM179.6 791h1.3v1.3h-1.3zM207.5 802.5h1.3v1.3h-1.3zM199.3 803.9h1.3v1.3h-1.3zM202.9 804.8h1.3v1.3h-1.3zM217.4 833.8h1.3v1.3h-1.3zM193.6 800.6h1.3v1.3h-1.3zM216.2 806.9h1.3v1.3h-1.3zM223.5 816.3h1.3v1.3h-1.3zM205.8 811.4h1.3v1.3h-1.3zM222.1 800h1.3v1.3h-1.3zM231.1 805.5h1.3v1.3h-1.3zM196.5 796.3h1.3v1.3h-1.3zM202.5 798.8h1.3v1.3h-1.3zM179.7 792.4h1.3v1.3h-1.3zM214.3 819h1.3v1.3h-1.3zM202.2 803.1h1.3v1.3h-1.3zM200.4 805.9h1.3v1.3h-1.3zM228.8 799.6h1.3v1.3h-1.3zM215.6 812.5h1.3v1.3h-1.3zM207.8 814.7h1.3v1.3h-1.3zM189.1 792.3h1.3v1.3h-1.3zM211.9 805.3h1.3v1.3h-1.3zM211.8 811.8h1.3v1.3h-1.3zM231.9 806.1h1.3v1.3h-1.3zM212.8 819.5h1.3v1.3h-1.3zM211.6 809.4h1.3v1.3h-1.3zM188.2 791.2h1.3v1.3h-1.3zM212.6 802.8h1.3v1.3h-1.3zM232.1 806.2h1.3v1.3h-1.3zM193.3 792.3h1.3v1.3h-1.3zM224 817.4h1.3v1.3h-1.3zM197.7 803.6h1.3v1.3h-1.3zM191.9 799h1.3v1.3h-1.3zM180.2 792.5h1.3v1.3h-1.3zM196.1 806.5h1.3v1.3h-1.3zM232.2 804h1.3v1.3h-1.3zM228.5 795.6h1.3v1.3h-1.3zM218.6 800.2h1.3v1.3h-1.3zM214.9 811.9h1.3v1.3h-1.3zM214.9 833.9h1.3v1.3h-1.3zM219.2 810h1.3v1.3h-1.3zM215 803h1.3v1.3h-1.3zM224.8 805.1h1.3v1.3h-1.3zM223.9 834.3h1.3v1.3h-1.3zM197.1 801.7h1.3v1.3h-1.3zM231.6 800h1.3v1.3h-1.3zM229.1 809.9h1.3v1.3h-1.3zM197.3 794.4h1.3v1.3h-1.3zM211.4 810.6h1.3v1.3h-1.3zM217.7 819.3h1.3v1.3h-1.3zM231 792.9h1.3v1.3h-1.3zM217.2 826.2h1.3v1.3h-1.3zM216 822h1.3v1.3h-1.3zM218.6 812.9h1.3v1.3h-1.3zM194.5 792.3h1.3v1.3h-1.3zM214.4 804.1h1.3v1.3h-1.3zM188.2 800h1.3v1.3h-1.3z" fill="#CE972B"/>
<path d="M227.4 837.3h1.3v1.3h-1.3zM232.6 830.5h1.3v1.3h-1.3zM220.6 833.2h1.3v1.3h-1.3zM221.7 835.7h1.3v1.3h-1.3zM235.6 830.8h1.3v1.3h-1.3zM231.9 831.8h1.3v1.3h-1.3zM220.9 838.9h1.3v1.3h-1.3zM236.5 829h1.3v1.3h-1.3zM231.6 836.5h1.3v1.3h-1.3zM231.4 830h1.3v1.3h-1.3zM239.6 837.6h1.3v1.3h-1.3zM237.1 841.7h1.3v1.3h-1.3zM242.3 842h1.3v1.3h-1.3zM223.8 835.9h1.3v1.3h-1.3zM242 841.8h1.3v1.3h-1.3zM229 832h1.3v1.3h-1.3zM228.7 830.3h1.3v1.3h-1.3zM228.2 837.4h1.3v1.3h-1.3zM238.3 835.9h1.3v1.3h-1.3zM237.5 830.9h1.3v1.3h-1.3zM237 835.1h1.3v1.3h-1.3zM226.5 830.6h1.3v1.3h-1.3zM239.7 838.6h1.3v1.3h-1.3zM222.7 839.5h1.3v1.3h-1.3zM225.7 834.2h1.3v1.3h-1.3zM234.6 834.9h1.3v1.3h-1.3zM224.8 830.6h1.3v1.3h-1.3zM228.2 835.3h1.3v1.3h-1.3zM233 829.7h1.3v1.3h-1.3zM228.4 832.1h1.3v1.3h-1.3zM224.9 836.5h1.3v1.3h-1.3zM226 833.2h1.3v1.3h-1.3zM234.4 836.9h1.3v1.3h-1.3zM229.3 828.4h1.3v1.3h-1.3zM240.6 832.1h1.3v1.3h-1.3zM227 832.8h1.3v1.3h-1.3zM221.1 830.6h1.3v1.3h-1.3zM222.5 828.1h1.3v1.3h-1.3zM218.7 832.7h1.3v1.3h-1.3zM233.7 841.7h1.3v1.3h-1.3zM224.5 839.4h1.3v1.3h-1.3zM229.9 837.7h1.3v1.3h-1.3zM226.4 829.5h1.3v1.3h-1.3zM238.1 830.1h1.3v1.3h-1.3zM218.9 835.2h1.3v1.3h-1.3zM235.6 830.3h1.3v1.3h-1.3zM230.4 835.4h1.3v1.3h-1.3zM236.4 839.7h1.3v1.3h-1.3zM220.3 837.2h1.3v1.3h-1.3zM216.7 827.3h1.3v1.3h-1.3zM237.3 828.8h1.3v1.3h-1.3zM222.1 833.1h1.3v1.3h-1.3zM223 828.3h1.3v1.3h-1.3zM233.2 834.3h1.3v1.3h-1.3zM219.1 832.9h1.3v1.3h-1.3zM231.7 834.1h1.3v1.3h-1.3zM227 836.8h1.3v1.3h-1.3zM230.9 828.9h1.3v1.3h-1.3zM231.4 839.1h1.3v1.3h-1.3zM237.6 830.6h1.3v1.3h-1.3zM229.9 829.5h1.3v1.3h-1.3zM235.9 841h1.3v1.3h-1.3zM232.1 839h1.3v1.3h-1.3zM221.1 839.6h1.3v1.3h-1.3zM228.9 835.3h1.3v1.3h-1.3zM220.2 833.3h1.3v1.3h-1.3zM230.6 829.3h1.3v1.3h-1.3zM220.7 837.6h1.3v1.3h-1.3zM224.7 828.7h1.3v1.3h-1.3zM238.6 840h1.3v1.3h-1.3zM236.4 832.4h1.3v1.3h-1.3zM222.9 832.8h1.3v1.3h-1.3zM225.8 828h1.3v1.3h-1.3zM235.1 841.8h1.3v1.3h-1.3zM228.8 833.6h1.3v1.3h-1.3zM234.7 839.6h1.3v1.3h-1.3zM224.9 839.4h1.3v1.3h-1.3zM239.7 830.8h1.3v1.3h-1.3zM227.5 830.8h1.3v1.3h-1.3zM240.3 842.5h1.3v1.3h-1.3zM240.9 836.1h1.3v1.3h-1.3zM236.7 830.9h1.3v1.3h-1.3zM231.1 831.6h1.3v1.3h-1.3zM239.3 837.9h1.3v1.3h-1.3zM229.8 834.3h1.3v1.3h-1.3zM219.5 836.2h1.3v1.3h-1.3zM220.3 831.1h1.3v1.3h-1.3zM225.4 837.9h1.3v1.3h-1.3zM220.3 835.2h1.3v1.3h-1.3zM230.2 836.4h1.3v1.3h-1.3zM231.9 831.2h1.3v1.3h-1.3zM222 839.2h1.3v1.3h-1.3zM235.4 838.9h1.3v1.3h-1.3zM225.1 834.7h1.3v1.3h-1.3zM227 833.5h1.3v1.3h-1.3zM234.4 834.1h1.3v1.3h-1.3zM229.1 828.6h1.3v1.3h-1.3zM241.4 836.1h1.3v1.3h-1.3zM235.1 833.7h1.3v1.3h-1.3zM233.5 829.1h1.3v1.3h-1.3zM238.8 836h1.3v1.3h-1.3zM228.8 829.5h1.3v1.3h-1.3zM236.1 829.9h1.3v1.3h-1.3zM237 837h1.3v1.3h-1.3zM234.9 842h1.3v1.3h-1.3zM231.4 836.8h1.3v1.3h-1.3zM231.6 841.2h1.3v1.3h-1.3zM235.9 839h1.3v1.3h-1.3zM234 832.5h1.3v1.3h-1.3zM227.7 832h1.3v1.3h-1.3z" fill="#5DCFB9"/>
<path d="M176.5 796h1.3v1.3h-1.3zM165 781.8h1.3v1.3h-1.3zM176.8 797h1.3v1.3h-1.3zM177.1 790.9h1.3v1.3h-1.3zM176 791.1h1.3v1.3h-1.3zM186.7 788.3h1.3v1.3h-1.3zM169.7 796.3h1.3v1.3h-1.3zM177.8 785.2h1.3v1.3h-1.3zM173.7 785.1h1.3v1.3h-1.3zM182.3 792.9h1.3v1.3h-1.3zM174.4 791.4h1.3v1.3h-1.3zM171 795h1.3v1.3h-1.3zM163 783.7h1.3v1.3h-1.3zM167.4 781.2h1.3v1.3h-1.3zM177.4 786.2h1.3v1.3h-1.3zM173.3 793h1.3v1.3h-1.3zM175.3 798h1.3v1.3h-1.3zM169.1 789.9h1.3v1.3h-1.3zM168.4 798h1.3v1.3h-1.3zM174.9 790.3h1.3v1.3h-1.3zM169.9 791.8h1.3v1.3h-1.3zM174.6 788.8h1.3v1.3h-1.3zM173 798.8h1.3v1.3h-1.3zM179.9 793.8h1.3v1.3h-1.3zM171.8 785.6h1.3v1.3h-1.3zM166.4 793.1h1.3v1.3h-1.3zM165.2 790.2h1.3v1.3h-1.3zM182.5 791.3h1.3v1.3h-1.3zM175.2 796.4h1.3v1.3h-1.3zM184.4 794.1h1.3v1.3h-1.3zM186.5 788.7h1.3v1.3h-1.3zM168.6 782.7h1.3v1.3h-1.3zM183.1 794.5h1.3v1.3h-1.3zM168.3 784.5h1.3v1.3h-1.3zM177.5 787.8h1.3v1.3h-1.3zM166.6 786.9h1.3v1.3h-1.3zM169.4 783.7h1.3v1.3h-1.3zM168.9 786.1h1.3v1.3h-1.3zM168.4 791.9h1.3v1.3h-1.3zM168.5 797.3h1.3v1.3h-1.3zM175.7 799h1.3v1.3h-1.3zM178.4 791h1.3v1.3h-1.3zM164.8 781.9h1.3v1.3h-1.3zM184.3 790.9h1.3v1.3h-1.3zM177.8 798.1h1.3v1.3h-1.3zM175.3 794.1h1.3v1.3h-1.3zM176.4 798.8h1.3v1.3h-1.3zM164.3 787.6h1.3v1.3h-1.3zM168.2 793.1h1.3v1.3h-1.3zM173.8 786h1.3v1.3h-1.3zM168.2 795.1h1.3v1.3h-1.3zM168.3 784.7h1.3v1.3h-1.3zM172.4 790.8h1.3v1.3h-1.3zM182.3 799h1.3v1.3h-1.3zM165 788.5h1.3v1.3h-1.3zM178.9 788.4h1.3v1.3h-1.3zM174 791.7h1.3v1.3h-1.3zM171.1 795.7h1.3v1.3h-1.3zM169.1 788.7h1.3v1.3h-1.3zM181.5 791.9h1.3v1.3h-1.3z" fill="#5DCFB9"/>
<path d="M335.8 734.7h1.4v1.4h-1.4zM331.8 730.2h1.4v1.4h-1.4zM347.9 738.9h1.4v1.4h-1.4zM362.8 722.2h1.4v1.4h-1.4zM346.6 738.7h1.4v1.4h-1.4zM332.9 717.8h1.4v1.4h-1.4zM349.4 731.9h1.4v1.4h-1.4zM333.3 741.8h1.4v1.4h-1.4zM366.2 723.8h1.4v1.4h-1.4zM342.4 735.8h1.4v1.4h-1.4zM359.3 717h1.4v1.4h-1.4zM363 730.7h1.4v1.4h-1.4zM359.3 719.9h1.4v1.4h-1.4zM344.4 725.1h1.4v1.4h-1.4zM358.7 721.4h1.4v1.4h-1.4zM362.8 720.2h1.4v1.4h-1.4zM349.5 746.2h1.4v1.4h-1.4zM353.3 721.1h1.4v1.4h-1.4zM363.3 714.3h1.4v1.4h-1.4zM346.2 718.3h1.4v1.4h-1.4zM347.6 727.4h1.4v1.4h-1.4zM337.9 724.7h1.4v1.4h-1.4zM341.7 728.9h1.4v1.4h-1.4zM337.6 721.7h1.4v1.4h-1.4zM341.2 719.7h1.4v1.4h-1.4zM359.4 731.1h1.4v1.4h-1.4zM351.8 730.5h1.4v1.4h-1.4zM342.6 719.2h1.4v1.4h-1.4zM349.2 726.8h1.4v1.4h-1.4zM344.2 746.1h1.4v1.4h-1.4zM347.6 738.1h1.4v1.4h-1.4zM355 732.5h1.4v1.4h-1.4zM339.9 723.8h1.4v1.4h-1.4zM339.8 718.4h1.4v1.4h-1.4zM343.2 736.6h1.4v1.4h-1.4zM339.4 719.7h1.4v1.4h-1.4zM352 721.4h1.4v1.4h-1.4zM346.1 719h1.4v1.4h-1.4zM336.1 739.2h1.4v1.4h-1.4zM364.5 722.2h1.4v1.4h-1.4zM333 727.1h1.4v1.4h-1.4zM340.2 736h1.4v1.4h-1.4zM344.1 720h1.4v1.4h-1.4zM349.7 733.4h1.4v1.4h-1.4zM334.9 739.5h1.4v1.4h-1.4zM354.8 726.6h1.4v1.4h-1.4zM359.4 733h1.4v1.4h-1.4zM338.9 737.7h1.4v1.4h-1.4zM346.1 719.3h1.4v1.4h-1.4zM347.7 731.1h1.4v1.4h-1.4zM350 719h1.4v1.4h-1.4zM346.8 737.4h1.4v1.4h-1.4zM356.8 720.4h1.4v1.4h-1.4zM338.1 725h1.4v1.4h-1.4zM343.6 723.1h1.4v1.4h-1.4zM356.5 725.8h1.4v1.4h-1.4zM347.9 729.9h1.4v1.4h-1.4zM352.9 736.6h1.4v1.4h-1.4zM343.8 721.5h1.4v1.4h-1.4zM344.2 725.6h1.4v1.4h-1.4zM337.4 722.2h1.4v1.4h-1.4zM349.9 721.8h1.4v1.4h-1.4zM339.4 743.3h1.4v1.4h-1.4zM337.9 725.7h1.4v1.4h-1.4zM344.7 715.6h1.4v1.4h-1.4zM346.3 742.6h1.4v1.4h-1.4zM341 737.3h1.4v1.4h-1.4zM355.1 726.4h1.4v1.4h-1.4zM350.6 744.2h1.4v1.4h-1.4zM340.7 745.9h1.4v1.4h-1.4zM350.7 738.2h1.4v1.4h-1.4zM340.6 718h1.4v1.4h-1.4zM350.9 746h1.4v1.4h-1.4zM354.8 741.1h1.4v1.4h-1.4zM364.9 716.5h1.4v1.4h-1.4zM342.2 721.7h1.4v1.4h-1.4zM340.7 742.2h1.4v1.4h-1.4zM338 736.4h1.4v1.4h-1.4zM359.3 722.4h1.4v1.4h-1.4zM363.1 726.4h1.4v1.4h-1.4zM354.7 737.8h1.4v1.4h-1.4zM350.8 731h1.4v1.4h-1.4zM349.5 738.1h1.4v1.4h-1.4zM336.2 733.8h1.4v1.4h-1.4zM359.8 721.2h1.4v1.4h-1.4zM334.1 744.9h1.4v1.4h-1.4zM349.9 720.3h1.4v1.4h-1.4zM357.4 719h1.4v1.4h-1.4zM333.4 733.3h1.4v1.4h-1.4zM337.1 743.7h1.4v1.4h-1.4zM349.2 723.2h1.4v1.4h-1.4zM358.2 724.3h1.4v1.4h-1.4zM351.8 718.7h1.4v1.4h-1.4zM340.4 716.1h1.4v1.4h-1.4zM352.1 731.6h1.4v1.4h-1.4zM364.5 719.6h1.4v1.4h-1.4zM365.1 718.9h1.4v1.4h-1.4zM350.4 721.4h1.4v1.4h-1.4zM350.1 741.2h1.4v1.4h-1.4zM340.9 745.5h1.4v1.4h-1.4zM337.2 719.7h1.4v1.4h-1.4zM361.2 718h1.4v1.4h-1.4zM347.5 731.4h1.4v1.4h-1.4zM352.2 728.9h1.4v1.4h-1.4zM356.2 730.2h1.4v1.4h-1.4zM342.3 718.7h1.4v1.4h-1.4zM343.9 722.9h1.4v1.4h-1.4zM351.4 723h1.4v1.4h-1.4zM362.3 728.4h1.4v1.4h-1.4zM334.7 735.7h1.4v1.4h-1.4zM346.4 744.1h1.4v1.4h-1.4zM350.4 738.4h1.4v1.4h-1.4zM342.1 746h1.4v1.4h-1.4zM357.2 716.4h1.4v1.4h-1.4zM356 714.3h1.4v1.4h-1.4zM342.8 732.8h1.4v1.4h-1.4zM349.2 716.7h1.4v1.4h-1.4zM361.1 723.7h1.4v1.4h-1.4zM351.2 719.8h1.4v1.4h-1.4zM341.3 716.5h1.4v1.4h-1.4zM342.4 719.7h1.4v1.4h-1.4zM363.5 719.5h1.4v1.4h-1.4zM348.4 741.5h1.4v1.4h-1.4zM348.6 716.5h1.4v1.4h-1.4zM359.8 716.8h1.4v1.4h-1.4zM338.7 723.7h1.4v1.4h-1.4zM347.5 719.6h1.4v1.4h-1.4zM359.8 718h1.4v1.4h-1.4zM339.1 741.6h1.4v1.4h-1.4zM360 721.3h1.4v1.4h-1.4zM344.1 737.6h1.4v1.4h-1.4zM340.5 735.9h1.4v1.4h-1.4zM357.4 736.6h1.4v1.4h-1.4zM350.4 742.2h1.4v1.4h-1.4zM354.9 725.8h1.4v1.4h-1.4zM336.6 726.6h1.4v1.4h-1.4zM363.7 714.5h1.4v1.4h-1.4zM351.2 746h1.4v1.4h-1.4zM344.8 741.1h1.4v1.4h-1.4zM343.6 733.2h1.4v1.4h-1.4zM350.7 730.9h1.4v1.4h-1.4zM353.3 741.4h1.4v1.4h-1.4zM337.6 718.5h1.4v1.4h-1.4zM357.9 734.8h1.4v1.4h-1.4zM333.1 742.2h1.4v1.4h-1.4zM334.5 717.4h1.4v1.4h-1.4zM337 722.2h1.4v1.4h-1.4zM332.6 740.2h1.4v1.4h-1.4zM343.4 742.6h1.4v1.4h-1.4zM344.7 740.3h1.4v1.4h-1.4zM338.6 744.7h1.4v1.4h-1.4zM352.8 728.6h1.4v1.4h-1.4zM339.2 740h1.4v1.4h-1.4zM337.6 735.6h1.4v1.4h-1.4zM362 731.7h1.4v1.4h-1.4zM362.5 714.7h1.4v1.4h-1.4zM353.3 716.2h1.4v1.4h-1.4zM351.5 728.1h1.4v1.4h-1.4zM352.1 742.6h1.4v1.4h-1.4zM340.2 729.7h1.4v1.4h-1.4zM334.3 741h1.4v1.4h-1.4zM356.2 726h1.4v1.4h-1.4zM349 738h1.4v1.4h-1.4zM352.6 720.4h1.4v1.4h-1.4zM366.6 723.8h1.4v1.4h-1.4zM351.5 739.6h1.4v1.4h-1.4zM338.9 725.2h1.4v1.4h-1.4zM351.4 729.6h1.4v1.4h-1.4zM345 724.7h1.4v1.4h-1.4zM347.9 739.2h1.4v1.4h-1.4z" fill="#3FBA3C"/>
<path d="M344 745.3h1.5v1.5h-1.5zM345.9 746.2h1.5v1.5h-1.5zM342.2 739.6h1.5v1.5h-1.5zM339 745.3h1.5v1.5h-1.5zM344.9 735.7h1.5v1.5h-1.5zM340.4 730.1h1.5v1.5h-1.5zM346.4 736.7h1.5v1.5h-1.5zM337.5 744h1.5v1.5h-1.5zM345.5 734h1.5v1.5h-1.5zM341 729.7h1.5v1.5h-1.5zM342.2 736.4h1.5v1.5h-1.5zM339.9 731.2h1.5v1.5h-1.5zM338.7 741.1h1.5v1.5h-1.5zM347.9 735.2h1.5v1.5h-1.5zM336.9 744.8h1.5v1.5h-1.5zM344.3 743h1.5v1.5h-1.5zM339.1 735.2h1.5v1.5h-1.5zM340.1 746.2h1.5v1.5h-1.5zM340.8 737.3h1.5v1.5h-1.5zM347.7 740.8h1.5v1.5h-1.5zM339.5 737.5h1.5v1.5h-1.5zM345.3 736.2h1.5v1.5h-1.5zM345.6 744.4h1.5v1.5h-1.5zM336.4 739.6h1.5v1.5h-1.5zM343.1 737.4h1.5v1.5h-1.5zM345.6 740.2h1.5v1.5h-1.5zM338.7 733.4h1.5v1.5h-1.5zM346.5 739.6h1.5v1.5h-1.5zM346.2 735.1h1.5v1.5h-1.5zM342.7 744.5h1.5v1.5h-1.5zM345.4 741.4h1.5v1.5h-1.5zM345.5 734h1.5v1.5h-1.5zM346.9 729.8h1.5v1.5h-1.5zM347.6 732.5h1.5v1.5h-1.5zM346.5 732.4h1.5v1.5h-1.5zM342.3 736.6h1.5v1.5h-1.5zM339.2 742.2h1.5v1.5h-1.5zM337.8 730.9h1.5v1.5h-1.5zM345 739.4h1.5v1.5h-1.5zM336.1 731.6h1.5v1.5h-1.5zM346.7 732h1.5v1.5h-1.5zM345 733h1.5v1.5h-1.5zM338.3 739h1.5v1.5h-1.5zM347.3 746.2h1.5v1.5h-1.5zM344.5 731.6h1.5v1.5h-1.5zM338.9 745.7h1.5v1.5h-1.5zM348 739.2h1.5v1.5h-1.5zM343.4 742.8h1.5v1.5h-1.5zM344 744.7h1.5v1.5h-1.5zM341.5 735.2h1.5v1.5h-1.5zM341.3 738.4h1.5v1.5h-1.5zM338.1 740.4h1.5v1.5h-1.5zM340.9 736.5h1.5v1.5h-1.5zM342.4 737.9h1.5v1.5h-1.5zM339.1 745h1.5v1.5h-1.5zM336.7 740.7h1.5v1.5h-1.5zM338.5 739.2h1.5v1.5h-1.5zM339.1 738.3h1.5v1.5h-1.5zM337.3 730.9h1.5v1.5h-1.5zM341.5 736.1h1.5v1.5h-1.5zM343.3 732.2h1.5v1.5h-1.5zM340.4 736.2h1.5v1.5h-1.5zM337.4 738.1h1.5v1.5h-1.5zM339.8 744.3h1.5v1.5h-1.5zM341.3 730.6h1.5v1.5h-1.5zM347.5 734.4h1.5v1.5h-1.5zM341 729.9h1.5v1.5h-1.5zM341.5 732.2h1.5v1.5h-1.5zM338.7 742.1h1.5v1.5h-1.5zM343.9 740.3h1.5v1.5h-1.5zM347.6 733.5h1.5v1.5h-1.5zM344 744h1.5v1.5h-1.5zM345 746.1h1.5v1.5h-1.5zM341.2 738.6h1.5v1.5h-1.5zM346.2 737h1.5v1.5h-1.5zM347.8 734.7h1.5v1.5h-1.5zM344.3 735.8h1.5v1.5h-1.5zM339.6 739.6h1.5v1.5h-1.5zM347.8 730.6h1.5v1.5h-1.5zM337.2 738.4h1.5v1.5h-1.5zM337.5 734.4h1.5v1.5h-1.5zM337.5 744.1h1.5v1.5h-1.5zM336.8 744.6h1.5v1.5h-1.5zM345.1 734h1.5v1.5h-1.5zM347.6 738.5h1.5v1.5h-1.5zM336.4 737.7h1.5v1.5h-1.5zM337.4 733.8h1.5v1.5h-1.5zM346.8 739.6h1.5v1.5h-1.5zM338.8 736.9h1.5v1.5h-1.5zM340.6 740h1.5v1.5h-1.5zM342.2 745.4h1.5v1.5h-1.5zM345.7 735.8h1.5v1.5h-1.5zM345 737.4h1.5v1.5h-1.5zM343.4 736.5h1.5v1.5h-1.5zM348.1 733.8h1.5v1.5h-1.5zM341.4 732.4h1.5v1.5h-1.5zM345.5 734.9h1.5v1.5h-1.5zM336.2 740.1h1.5v1.5h-1.5zM342.2 731.1h1.5v1.5h-1.5zM336.3 731.8h1.5v1.5h-1.5zM348.3 744.7h1.5v1.5h-1.5zM338.4 744h1.5v1.5h-1.5zM340.3 744.8h1.5v1.5h-1.5zM343.9 730.1h1.5v1.5h-1.5zM336.1 736.3h1.5v1.5h-1.5zM343.8 745.9h1.5v1.5h-1.5zM341.8 737.1h1.5v1.5h-1.5zM336 732.4h1.5v1.5h-1.5zM344.5 743.4h1.5v1.5h-1.5zM342.4 730.4h1.5v1.5h-1.5zM346.1 743h1.5v1.5h-1.5zM343.9 746.1h1.5v1.5h-1.5zM341.1 734.3h1.5v1.5h-1.5zM345.2 733.5h1.5v1.5h-1.5zM345.8 740h1.5v1.5h-1.5zM345.2 740.2h1.5v1.5h-1.5zM344.6 734.1h1.5v1.5h-1.5zM342.5 741.5h1.5v1.5h-1.5zM336.1 743.9h1.5v1.5h-1.5zM336.8 731.6h1.5v1.5h-1.5zM342.3 732h1.5v1.5h-1.5zM344.8 739h1.5v1.5h-1.5zM342.6 742.3h1.5v1.5h-1.5zM347.3 746.2h1.5v1.5h-1.5zM342.4 729.9h1.5v1.5h-1.5zM345.4 745.9h1.5v1.5h-1.5zM341.1 739.6h1.5v1.5h-1.5zM337.1 742.9h1.5v1.5h-1.5zM347.2 736.7h1.5v1.5h-1.5zM342.7 742.5h1.5v1.5h-1.5zM336.2 744.4h1.5v1.5h-1.5zM345.6 732.9h1.5v1.5h-1.5zM339 739.4h1.5v1.5h-1.5zM344.1 734.3h1.5v1.5h-1.5zM339.6 739.6h1.5v1.5h-1.5zM339 738h1.5v1.5h-1.5zM338.7 744.4h1.5v1.5h-1.5zM345.1 735.2h1.5v1.5h-1.5zM345.3 732.3h1.5v1.5h-1.5zM347.4 734.5h1.5v1.5h-1.5zM346.3 736.8h1.5v1.5h-1.5zM346.2 737.2h1.5v1.5h-1.5zM346 736.7h1.5v1.5h-1.5zM336.9 743.9h1.5v1.5h-1.5zM341.1 742.6h1.5v1.5h-1.5zM337.4 741.2h1.5v1.5h-1.5zM338.1 742.1h1.5v1.5h-1.5zM344.7 745.1h1.5v1.5h-1.5zM347.8 744.2h1.5v1.5h-1.5zM337.5 730.5h1.5v1.5h-1.5z" fill="#3FBA3C"/>
<path d="M289.4 848.6h1.3v1.3h-1.3zM288 843.2h1.3v1.3h-1.3zM291.7 846.7h1.3v1.3h-1.3zM293.8 846.4h1.3v1.3h-1.3zM295.8 845.9h1.3v1.3h-1.3zM287.9 841.5h1.3v1.3h-1.3zM293.8 844.6h1.3v1.3h-1.3zM293.4 842.1h1.3v1.3h-1.3zM297.2 843.7h1.3v1.3h-1.3zM291.2 841.8h1.3v1.3h-1.3zM288.5 844.5h1.3v1.3h-1.3zM297 843.9h1.3v1.3h-1.3zM288.7 847.3h1.3v1.3h-1.3zM289.1 844.7h1.3v1.3h-1.3zM286.4 842.3h1.3v1.3h-1.3zM291.6 846.8h1.3v1.3h-1.3zM288.9 842.2h1.3v1.3h-1.3zM297.1 844.2h1.3v1.3h-1.3zM288.2 845.7h1.3v1.3h-1.3zM288.5 842.7h1.3v1.3h-1.3zM289.7 847.5h1.3v1.3h-1.3zM297.8 842.8h1.3v1.3h-1.3zM295.9 844.3h1.3v1.3h-1.3zM287.1 847.8h1.3v1.3h-1.3zM289.2 845.9h1.3v1.3h-1.3zM288.6 849.1h1.3v1.3h-1.3zM294.4 846.7h1.3v1.3h-1.3zM296.4 844.9h1.3v1.3h-1.3zM288 844.3h1.3v1.3h-1.3zM288 847h1.3v1.3h-1.3zM292.9 844.7h1.3v1.3h-1.3zM295.4 844.4h1.3v1.3h-1.3zM292.4 845.9h1.3v1.3h-1.3zM294.8 842.6h1.3v1.3h-1.3zM286.5 841.5h1.3v1.3h-1.3zM295.8 841.9h1.3v1.3h-1.3zM296 842.8h1.3v1.3h-1.3zM294.3 842.8h1.3v1.3h-1.3zM300 840.3h1.3v1.3h-1.3zM295.4 841.8h1.3v1.3h-1.3z" fill="#3FBA3C"/>
<path d="M388.7 781.9h1.3v1.3h-1.3zM393.9 781.9h1.3v1.3h-1.3zM393.1 784.4h1.3v1.3h-1.3zM389.5 779.8h1.3v1.3h-1.3zM392.7 783h1.3v1.3h-1.3zM386.4 782.2h1.3v1.3h-1.3zM392.9 779.9h1.3v1.3h-1.3zM390.4 781.4h1.3v1.3h-1.3zM389.6 785.8h1.3v1.3h-1.3zM390.8 784.8h1.3v1.3h-1.3zM391.4 779.2h1.3v1.3h-1.3zM388.5 781.8h1.3v1.3h-1.3zM387.6 784.5h1.3v1.3h-1.3zM387.7 783.8h1.3v1.3h-1.3zM393.9 778.5h1.3v1.3h-1.3zM392.7 781.4h1.3v1.3h-1.3zM388.7 780.6h1.3v1.3h-1.3zM391.7 781.5h1.3v1.3h-1.3zM391 779.6h1.3v1.3h-1.3zM390.7 779.2h1.3v1.3h-1.3zM388.6 785.8h1.3v1.3h-1.3zM387.4 786h1.3v1.3h-1.3zM388.8 779.1h1.3v1.3h-1.3zM389.4 785.1h1.3v1.3h-1.3zM389.6 783.6h1.3v1.3h-1.3zM393.1 780.6h1.3v1.3h-1.3zM393.5 775.9h1.3v1.3h-1.3zM394.3 780.3h1.3v1.3h-1.3zM389.5 783.1h1.3v1.3h-1.3zM391.8 784.4h1.3v1.3h-1.3z" fill="#3FBA3C"/>
<path d="M187.2 747.7h1.3v1.3h-1.3zM186.1 746.9h1.3v1.3h-1.3zM190.7 757.8h1.3v1.3h-1.3zM186.3 755.8h1.3v1.3h-1.3zM186.4 772.4h1.3v1.3h-1.3zM182.8 759.3h1.3v1.3h-1.3zM184 760.4h1.3v1.3h-1.3zM183.8 753.9h1.3v1.3h-1.3zM181.4 746.5h1.3v1.3h-1.3zM181.9 775.7h1.3v1.3h-1.3zM184.2 754.9h1.3v1.3h-1.3zM189.7 755.2h1.3v1.3h-1.3zM184.5 751.4h1.3v1.3h-1.3zM181.4 771h1.3v1.3h-1.3zM188.1 747.6h1.3v1.3h-1.3zM186.6 762.7h1.3v1.3h-1.3zM189.7 755.3h1.3v1.3h-1.3zM185.1 772.4h1.3v1.3h-1.3zM183.7 774.4h1.3v1.3h-1.3zM192.1 756.8h1.3v1.3h-1.3zM184.4 747.7h1.3v1.3h-1.3zM186.3 772.8h1.3v1.3h-1.3zM181.9 747.6h1.3v1.3h-1.3zM184.4 755.8h1.3v1.3h-1.3zM192.3 751.5h1.3v1.3h-1.3zM183.3 762.1h1.3v1.3h-1.3zM185.8 746.4h1.3v1.3h-1.3zM187.1 759.5h1.3v1.3h-1.3zM191.5 760.3h1.3v1.3h-1.3zM182.8 757h1.3v1.3h-1.3zM193.4 750.7h1.3v1.3h-1.3zM186.5 758.3h1.3v1.3h-1.3zM183.9 749.9h1.3v1.3h-1.3zM187.2 770.7h1.3v1.3h-1.3zM189.7 748.8h1.3v1.3h-1.3zM181 753.8h1.3v1.3h-1.3zM185.9 755.3h1.3v1.3h-1.3zM182.8 745.1h1.3v1.3h-1.3zM187.7 766.3h1.3v1.3h-1.3zM182.5 743.9h1.3v1.3h-1.3zM191.8 749.1h1.3v1.3h-1.3zM182.6 768.8h1.3v1.3h-1.3zM182.8 749.4h1.3v1.3h-1.3zM184.9 764.5h1.3v1.3h-1.3zM187.7 752.1h1.3v1.3h-1.3z" fill="#A3AA27"/>
<path d="M136.8 850.1h1.3v1.3h-1.3zM137.5 850.1h1.3v1.3h-1.3zM138.1 850.1h1.3v1.3h-1.3zM138.7 850.1h1.3v1.3h-1.3zM136.8 850.8h1.3v1.3h-1.3zM137.5 850.8h1.3v1.3h-1.3zM138.1 850.8h1.3v1.3h-1.3zM138.7 850.8h1.3v1.3h-1.3zM136.8 851.4h1.3v1.3h-1.3zM137.5 851.4h1.3v1.3h-1.3z" fill="#5DCFB9"/>
<path d="M152.2 849.7h1.3v1.3h-1.3zM152.8 849.7h1.3v1.3h-1.3zM153.4 849.7h1.3v1.3h-1.3zM154 849.7h1.3v1.3h-1.3zM152.2 850.4h1.3v1.3h-1.3zM152.8 850.4h1.3v1.3h-1.3zM153.4 850.4h1.3v1.3h-1.3zM154 850.4h1.3v1.3h-1.3zM152.2 851h1.3v1.3h-1.3zM152.8 851h1.3v1.3h-1.3zM153.4 851h1.3v1.3h-1.3zM154 851h1.3v1.3h-1.3z" fill="#A3AA27"/>
<path d="M145.1 845.2h1.2v1.2h-1.2zM145.7 845.2h1.2v1.2h-1.2zM146.4 845.2h1.2v1.2h-1.2zM145.1 845.8h1.2v1.2h-1.2zM145.7 845.8h1.2v1.2h-1.2zM146.4 845.8h1.2v1.2h-1.2zM145.1 846.4h1.2v1.2h-1.2z" fill="#C58BD9"/>
<path d="M147.4 812.1h1.3v1.3h-1.3zM148 812.1h1.3v1.3h-1.3zM147.4 812.7h1.3v1.3h-1.3zM148 812.7h1.3v1.3h-1.3z" fill="#E06FB4"/>
<path d="M141.4 806.3h1.3v1.3h-1.3zM142.2 806.3h1.3v1.3h-1.3zM143 806.3h1.3v1.3h-1.3zM143.9 806.3h1.3v1.3h-1.3zM144.7 806.3h1.3v1.3h-1.3zM141.4 807.1h1.3v1.3h-1.3zM142.2 807.1h1.3v1.3h-1.3zM143 807.1h1.3v1.3h-1.3zM143.9 807.1h1.3v1.3h-1.3zM144.7 807.1h1.3v1.3h-1.3z" fill="#A3AA27"/>
<text x="311.5" y="659.1" font-size="16" text-anchor="middle" fill="#111">0</text>
<text x="266.2" y="823.3" font-size="16" text-anchor="middle" fill="#111">1</text>
<text x="147.4" y="765.7" font-size="16" text-anchor="middle" fill="#111">2</text>
<text x="349.8" y="812.3" font-size="16" text-anchor="middle" fill="#111">3</text>
<text x="195.2" y="841.5" font-size="16" text-anchor="middle" fill="#111">4</text>
<text x="395.5" y="767" font-size="16" text-anchor="middle" fill="#111">5</text>
<text x="298.3" y="797.4" font-size="16" text-anchor="middle" fill="#111">6</text>
<text x="147.2" y="850.8" font-size="16" text-anchor="middle" fill="#111">7</text>
<text x="148" y="816.6" font-size="16" text-anchor="middle" fill="#111">8</text>
<path d="M619 471.7 V837 H1512.5" fill="none" stroke="#222" stroke-width="1.6"/>
<line x1="614" y1="502.6" x2="619" y2="502.6" stroke="#222" stroke-width="1.3"/>
<text x="599.5" y="508.8" font-size="17.3" text-anchor="end" fill="#111">C6</text>
<line x1="614" y1="553.3" x2="619" y2="553.3" stroke="#222" stroke-width="1.3"/>
<text x="599.5" y="559.5" font-size="17.3" text-anchor="end" fill="#111">C5</text>
<line x1="614" y1="604" x2="619" y2="604" stroke="#222" stroke-width="1.3"/>
<text x="599.5" y="610.2" font-size="17.3" text-anchor="end" fill="#111">C4</text>
<line x1="614" y1="654.7" x2="619" y2="654.7" stroke="#222" stroke-width="1.3"/>
<text x="599.5" y="660.9" font-size="17.3" text-anchor="end" fill="#111">C3</text>
<line x1="614" y1="705.3" x2="619" y2="705.3" stroke="#222" stroke-width="1.3"/>
<text x="599.5" y="711.5" font-size="17.3" text-anchor="end" fill="#111">C2</text>
<line x1="614" y1="756" x2="619" y2="756" stroke="#222" stroke-width="1.3"/>
<text x="599.5" y="762.2" font-size="17.3" text-anchor="end" fill="#111">C1</text>
<line x1="614" y1="806.7" x2="619" y2="806.7" stroke="#222" stroke-width="1.3"/>
<text x="599.5" y="812.9" font-size="17.3" text-anchor="end" fill="#111">C0</text>
<line x1="640.8" y1="837" x2="640.8" y2="844" stroke="#222" stroke-width="1.3"/>
<text font-size="17.3" text-anchor="middle" fill="#111" transform="translate(645.7 874.2) rotate(-45)">IL1RN</text>
<line x1="677.7" y1="837" x2="677.7" y2="844" stroke="#222" stroke-width="1.3"/>
<text font-size="17.3" text-anchor="middle" fill="#111" transform="translate(682.6 874.2) rotate(-45)">IL6</text>
<line x1="714.6" y1="837" x2="714.6" y2="844" stroke="#222" stroke-width="1.3"/>
<text font-size="17.3" text-anchor="middle" fill="#111" transform="translate(719.5 874.2) rotate(-45)">LGALS9</text>
<line x1="751.5" y1="837" x2="751.5" y2="844" stroke="#222" stroke-width="1.3"/>
<text font-size="17.3" text-anchor="middle" fill="#111" transform="translate(756.4 874.2) rotate(-45)">PTX3</text>
<line x1="788.4" y1="837" x2="788.4" y2="844" stroke="#222" stroke-width="1.3"/>
<text font-size="17.3" text-anchor="middle" fill="#111" transform="translate(793.3 874.2) rotate(-45)">CTSL</text>
<line x1="825.3" y1="837" x2="825.3" y2="844" stroke="#222" stroke-width="1.3"/>
<text font-size="17.3" text-anchor="middle" fill="#111" transform="translate(830.2 874.2) rotate(-45)">VEGFA</text>
<line x1="862.2" y1="837" x2="862.2" y2="844" stroke="#222" stroke-width="1.3"/>
<text font-size="17.3" text-anchor="middle" fill="#111" transform="translate(867.1 874.2) rotate(-45)">CCL7</text>
<line x1="899.1" y1="837" x2="899.1" y2="844" stroke="#222" stroke-width="1.3"/>
<text font-size="17.3" text-anchor="middle" fill="#111" transform="translate(904 874.2) rotate(-45)">IL7</text>
<line x1="936" y1="837" x2="936" y2="844" stroke="#222" stroke-width="1.3"/>
<text font-size="17.3" text-anchor="middle" fill="#111" transform="translate(940.9 874.2) rotate(-45)">OSM</text>
<line x1="972.9" y1="837" x2="972.9" y2="844" stroke="#222" stroke-width="1.3"/>
<text font-size="17.3" text-anchor="middle" fill="#111" transform="translate(977.8 874.2) rotate(-45)">TGFA</text>
<line x1="1009.8" y1="837" x2="1009.8" y2="844" stroke="#222" stroke-width="1.3"/>
<text font-size="17.3" text-anchor="middle" fill="#111" transform="translate(1014.7 874.2) rotate(-45)">MMP1</text>
<line x1="1046.7" y1="837" x2="1046.7" y2="844" stroke="#222" stroke-width="1.3"/>
<text font-size="17.3" text-anchor="middle" fill="#111" transform="translate(1051.6 874.2) rotate(-45)">CD274</text>
<line x1="1083.6" y1="837" x2="1083.6" y2="844" stroke="#222" stroke-width="1.3"/>
<text font-size="17.3" text-anchor="middle" fill="#111" transform="translate(1088.5 874.2) rotate(-45)">IL10</text>
<line x1="1120.5" y1="837" x2="1120.5" y2="844" stroke="#222" stroke-width="1.3"/>
<text font-size="17.3" text-anchor="middle" fill="#111" transform="translate(1125.4 874.2) rotate(-45)">CXCL10</text>
<line x1="1157.4" y1="837" x2="1157.4" y2="844" stroke="#222" stroke-width="1.3"/>
<text font-size="17.3" text-anchor="middle" fill="#111" transform="translate(1162.3 874.2) rotate(-45)">CX3CL1</text>
<line x1="1194.3" y1="837" x2="1194.3" y2="844" stroke="#222" stroke-width="1.3"/>
<text font-size="17.3" text-anchor="middle" fill="#111" transform="translate(1199.2 874.2) rotate(-45)">CKAP4</text>
<line x1="1231.2" y1="837" x2="1231.2" y2="844" stroke="#222" stroke-width="1.3"/>
<text font-size="17.3" text-anchor="middle" fill="#111" transform="translate(1236.1 874.2) rotate(-45)">ICA1</text>
<line x1="1268.1" y1="837" x2="1268.1" y2="844" stroke="#222" stroke-width="1.3"/>
<text font-size="17.3" text-anchor="middle" fill="#111" transform="translate(1273 874.2) rotate(-45)">AREG</text>
<line x1="1305" y1="837" x2="1305" y2="844" stroke="#222" stroke-width="1.3"/>
<text font-size="17.3" text-anchor="middle" fill="#111" transform="translate(1309.9 874.2) rotate(-45)">LAMP3</text>
<line x1="1341.9" y1="837" x2="1341.9" y2="844" stroke="#222" stroke-width="1.3"/>
<text font-size="17.3" text-anchor="middle" fill="#111" transform="translate(1346.8 874.2) rotate(-45)">AGR2</text>
<line x1="1378.8" y1="837" x2="1378.8" y2="844" stroke="#222" stroke-width="1.3"/>
<text font-size="17.3" text-anchor="middle" fill="#111" transform="translate(1383.7 874.2) rotate(-45)">CAPG</text>
<line x1="1415.7" y1="837" x2="1415.7" y2="844" stroke="#222" stroke-width="1.3"/>
<text font-size="17.3" text-anchor="middle" fill="#111" transform="translate(1420.6 874.2) rotate(-45)">NUCB2</text>
<line x1="1452.6" y1="837" x2="1452.6" y2="844" stroke="#222" stroke-width="1.3"/>
<text font-size="17.3" text-anchor="middle" fill="#111" transform="translate(1457.5 874.2) rotate(-45)">LTA4H</text>
<line x1="1489.5" y1="837" x2="1489.5" y2="844" stroke="#222" stroke-width="1.3"/>
<text font-size="17.3" text-anchor="middle" fill="#111" transform="translate(1494.4 874.2) rotate(-45)">FGR</text>
<circle cx="640.8" cy="502.6" r="10.6" fill="#FC9C88"/>
<circle cx="677.7" cy="502.6" r="1.8" fill="#FDB7A7"/>
<circle cx="714.6" cy="502.6" r="7.5" fill="#FC8C77"/>
<circle cx="751.5" cy="502.6" r="2" fill="#F3644C"/>
<circle cx="788.4" cy="502.6" r="14.2" fill="#FB7D66"/>
<circle cx="825.3" cy="502.6" r="3.1" fill="#FC9C88"/>
<circle cx="862.2" cy="502.6" r="5.5" fill="#FC9681"/>
<circle cx="899.1" cy="502.6" r="1.6" fill="#FDB7A7"/>
<circle cx="936" cy="502.6" r="2.6" fill="#F3644C"/>
<circle cx="972.9" cy="502.6" r="1.5" fill="#FDCFC4"/>
<circle cx="1009.8" cy="502.6" r="1.3" fill="#FED8CF"/>
<circle cx="1046.7" cy="502.6" r="3.8" fill="#FB7D66"/>
<circle cx="1083.6" cy="502.6" r="2.6" fill="#E43827"/>
<circle cx="1120.5" cy="502.6" r="7.3" fill="#FC8C77"/>
<circle cx="1157.4" cy="502.6" r="1.3" fill="#FDB7A7"/>
<circle cx="1194.3" cy="502.6" r="4.7" fill="#FC8C77"/>
<circle cx="1231.2" cy="502.6" r="1.6" fill="#FCAA98"/>
<circle cx="1268.1" cy="502.6" r="5.1" fill="#FCAA98"/>
<circle cx="1305" cy="502.6" r="2.4" fill="#FCAA98"/>
<circle cx="1341.9" cy="502.6" r="2.6" fill="#FDB7A7"/>
<circle cx="1378.8" cy="502.6" r="11.9" fill="#FC8C77"/>
<circle cx="1415.7" cy="502.6" r="3.5" fill="#FDCFC4"/>
<circle cx="1452.6" cy="502.6" r="6.4" fill="#FC9C88"/>
<circle cx="1489.5" cy="502.6" r="7.7" fill="#FC8C77"/>
<circle cx="640.8" cy="553.3" r="6" fill="#FEE2DA"/>
<circle cx="677.7" cy="553.3" r="1.6" fill="#FDCFC4"/>
<circle cx="714.6" cy="553.3" r="6.2" fill="#FDCFC4"/>
<circle cx="751.5" cy="553.3" r="1.6" fill="#FEE2DA"/>
<circle cx="788.4" cy="553.3" r="9.3" fill="#FDCFC4"/>
<circle cx="825.3" cy="553.3" r="2.6" fill="#FEE2DA"/>
<circle cx="862.2" cy="553.3" r="5.1" fill="#FDAF9E"/>
<circle cx="899.1" cy="553.3" r="1.6" fill="#FDB7A7"/>
<circle cx="972.9" cy="553.3" r="1.3" fill="#FDCFC4"/>
<circle cx="1009.8" cy="553.3" r="1.5" fill="#FC8C77"/>
<circle cx="1046.7" cy="553.3" r="2.6" fill="#FED8CF"/>
<circle cx="1083.6" cy="553.3" r="1.8" fill="#FDCFC4"/>
<circle cx="1120.5" cy="553.3" r="5.1" fill="#FDCFC4"/>
<circle cx="1157.4" cy="553.3" r="1.3" fill="#FDB7A7"/>
<circle cx="1194.3" cy="553.3" r="6" fill="#FDCFC4"/>
<circle cx="1231.2" cy="553.3" r="1.5" fill="#FEE2DA"/>
<circle cx="1268.1" cy="553.3" r="3.5" fill="#FDD3C8"/>
<circle cx="1305" cy="553.3" r="2.4" fill="#FED8CF"/>
<circle cx="1341.9" cy="553.3" r="2" fill="#FDB7A7"/>
<circle cx="1378.8" cy="553.3" r="8.2" fill="#FDCABE"/>
<circle cx="1415.7" cy="553.3" r="9.9" fill="#FDBCAD"/>
<circle cx="1452.6" cy="553.3" r="7.1" fill="#FDB7A7"/>
<circle cx="1489.5" cy="553.3" r="4.4" fill="#FEDED6"/>
<circle cx="640.8" cy="604" r="8.9" fill="#FDB7A7"/>
<circle cx="677.7" cy="604" r="1.8" fill="#FDB7A7"/>
<circle cx="714.6" cy="604" r="4.9" fill="#FEE2DA"/>
<circle cx="751.5" cy="604" r="1.8" fill="#FCAA98"/>
<circle cx="788.4" cy="604" r="7.7" fill="#FEE2DA"/>
<circle cx="825.3" cy="604" r="3.1" fill="#FDC3B6"/>
<circle cx="862.2" cy="604" r="2.4" fill="#FDCFC4"/>
<circle cx="899.1" cy="604" r="3.3" fill="#DE2D20"/>
<circle cx="936" cy="604" r="2" fill="#FEE2DA"/>
<circle cx="972.9" cy="604" r="2.9" fill="#F77059"/>
<circle cx="1009.8" cy="604" r="1.5" fill="#FC9C88"/>
<circle cx="1046.7" cy="604" r="2.9" fill="#FED8CF"/>
<circle cx="1083.6" cy="604" r="1.6" fill="#FEE9E2"/>
<circle cx="1120.5" cy="604" r="4" fill="#FDD3C8"/>
<circle cx="1157.4" cy="604" r="3.7" fill="#DE2D20"/>
<circle cx="1194.3" cy="604" r="4.7" fill="#FDB7A7"/>
<circle cx="1231.2" cy="604" r="2.9" fill="#EE543D"/>
<circle cx="1268.1" cy="604" r="6.4" fill="#FDB7A7"/>
<circle cx="1305" cy="604" r="5.3" fill="#F3644C"/>
<circle cx="1341.9" cy="604" r="11" fill="#FC9C88"/>
<circle cx="1378.8" cy="604" r="6" fill="#FEE5DD"/>
<circle cx="1415.7" cy="604" r="13.5" fill="#EC4A34"/>
<circle cx="1452.6" cy="604" r="4" fill="#FEDED6"/>
<circle cx="1489.5" cy="604" r="4.6" fill="#FED8CF"/>
<circle cx="640.8" cy="654.7" r="6.8" fill="#FED8CF"/>
<circle cx="677.7" cy="654.7" r="1.6" fill="#FDCFC4"/>
<circle cx="714.6" cy="654.7" r="10.8" fill="#FB8974"/>
<circle cx="751.5" cy="654.7" r="1.6" fill="#FEE2DA"/>
<circle cx="788.4" cy="654.7" r="8.8" fill="#FDC3B6"/>
<circle cx="825.3" cy="654.7" r="2.2" fill="#FEE2DA"/>
<circle cx="862.2" cy="654.7" r="4" fill="#FDC3B6"/>
<circle cx="899.1" cy="654.7" r="1.6" fill="#FDCFC4"/>
<circle cx="936" cy="654.7" r="2.9" fill="#FDB2A1"/>
<circle cx="972.9" cy="654.7" r="1.5" fill="#FDCFC4"/>
<circle cx="1009.8" cy="654.7" r="1.3" fill="#FDCFC4"/>
<circle cx="1046.7" cy="654.7" r="3.7" fill="#FDB7A7"/>
<circle cx="1083.6" cy="654.7" r="2" fill="#FC9681"/>
<circle cx="1120.5" cy="654.7" r="7.1" fill="#FDB7A7"/>
<circle cx="1157.4" cy="654.7" r="1.3" fill="#FDB7A7"/>
<circle cx="1194.3" cy="654.7" r="2.7" fill="#FEE5DD"/>
<circle cx="1231.2" cy="654.7" r="2" fill="#FDB7A7"/>
<circle cx="1268.1" cy="654.7" r="4.2" fill="#FDBCAD"/>
<circle cx="1305" cy="654.7" r="5.3" fill="#F15E46"/>
<circle cx="1341.9" cy="654.7" r="1.8" fill="#FDC3B6"/>
<circle cx="1378.8" cy="654.7" r="11.9" fill="#FDB7A7"/>
<circle cx="1415.7" cy="654.7" r="6" fill="#FDCABE"/>
<circle cx="1452.6" cy="654.7" r="5.5" fill="#FDCABE"/>
<circle cx="1489.5" cy="654.7" r="4.7" fill="#FED8CF"/>
<circle cx="640.8" cy="705.3" r="20.3" fill="#EA442E"/>
<circle cx="677.7" cy="705.3" r="2.9" fill="#EE543D"/>
<circle cx="714.6" cy="705.3" r="6" fill="#FDCFC4"/>
<circle cx="751.5" cy="705.3" r="2.4" fill="#EE543D"/>
<circle cx="788.4" cy="705.3" r="11" fill="#FEE2DA"/>
<circle cx="825.3" cy="705.3" r="6.8" fill="#EA442E"/>
<circle cx="862.2" cy="705.3" r="2.2" fill="#FEE2DA"/>
<circle cx="899.1" cy="705.3" r="1.6" fill="#FDB7A7"/>
<circle cx="936" cy="705.3" r="2.9" fill="#FC9C88"/>
<circle cx="972.9" cy="705.3" r="3.1" fill="#EA442E"/>
<circle cx="1009.8" cy="705.3" r="1.8" fill="#DE2D20"/>
<circle cx="1046.7" cy="705.3" r="3.1" fill="#FDBCAD"/>
<circle cx="1083.6" cy="705.3" r="2.2" fill="#FDB2A1"/>
<circle cx="1120.5" cy="705.3" r="2.4" fill="#FED8CF"/>
<circle cx="1157.4" cy="705.3" r="2.4" fill="#FC9681"/>
<circle cx="1194.3" cy="705.3" r="8.4" fill="#EA442E"/>
<circle cx="1231.2" cy="705.3" r="2.6" fill="#F15E46"/>
<circle cx="1268.1" cy="705.3" r="14.6" fill="#DE2D20"/>
<circle cx="1305" cy="705.3" r="3.1" fill="#FDB2A1"/>
<circle cx="1341.9" cy="705.3" r="17.5" fill="#DE2D20"/>
<circle cx="1378.8" cy="705.3" r="10.2" fill="#FDCFC4"/>
<circle cx="1415.7" cy="705.3" r="12.8" fill="#FB7D66"/>
<circle cx="1452.6" cy="705.3" r="6.6" fill="#FDC3B6"/>
<circle cx="1489.5" cy="705.3" r="11.5" fill="#EE543D"/>
<circle cx="640.8" cy="756" r="5.1" fill="#FEE2DA"/>
<circle cx="677.7" cy="756" r="1.8" fill="#FDC3B6"/>
<circle cx="714.6" cy="756" r="3.8" fill="#FED8CF"/>
<circle cx="751.5" cy="756" r="1.6" fill="#FED8CF"/>
<circle cx="788.4" cy="756" r="8.8" fill="#FDB7A7"/>
<circle cx="825.3" cy="756" r="2.7" fill="#FC8C77"/>
<circle cx="862.2" cy="756" r="2.9" fill="#FDC3B6"/>
<circle cx="899.1" cy="756" r="1.5" fill="#FDCFC4"/>
<circle cx="936" cy="756" r="2" fill="#F56951"/>
<circle cx="972.9" cy="756" r="1.5" fill="#FDB7A7"/>
<circle cx="1009.8" cy="756" r="1.3" fill="#FDCFC4"/>
<circle cx="1046.7" cy="756" r="2.6" fill="#FDBCAD"/>
<circle cx="1083.6" cy="756" r="1.8" fill="#FDBCAD"/>
<circle cx="1120.5" cy="756" r="3.8" fill="#FDC3B6"/>
<circle cx="1157.4" cy="756" r="1.3" fill="#FDB7A7"/>
<circle cx="1194.3" cy="756" r="2.6" fill="#FEE2DA"/>
<circle cx="1231.2" cy="756" r="1.5" fill="#FED8CF"/>
<circle cx="1268.1" cy="756" r="3.1" fill="#FDCABE"/>
<circle cx="1305" cy="756" r="1.6" fill="#FEDED6"/>
<circle cx="1341.9" cy="756" r="2.2" fill="#FDB7A7"/>
<circle cx="1378.8" cy="756" r="6" fill="#FDBCAD"/>
<circle cx="1415.7" cy="756" r="2.4" fill="#FDCFC4"/>
<circle cx="1452.6" cy="756" r="4.2" fill="#FDB7A7"/>
<circle cx="1489.5" cy="756" r="4.6" fill="#FDC3B6"/>
<circle cx="640.8" cy="806.7" r="15.2" fill="#FC9C88"/>
<circle cx="677.7" cy="806.7" r="2.7" fill="#F3644C"/>
<circle cx="714.6" cy="806.7" r="13.9" fill="#EE543D"/>
<circle cx="751.5" cy="806.7" r="2.2" fill="#FB7D66"/>
<circle cx="788.4" cy="806.7" r="19.7" fill="#EC4A34"/>
<circle cx="825.3" cy="806.7" r="3.5" fill="#FDB7A7"/>
<circle cx="862.2" cy="806.7" r="8" fill="#E43827"/>
<circle cx="899.1" cy="806.7" r="1.8" fill="#FDB7A7"/>
<circle cx="936" cy="806.7" r="2.7" fill="#FDB2A1"/>
<circle cx="972.9" cy="806.7" r="1.6" fill="#FDCABE"/>
<circle cx="1009.8" cy="806.7" r="1.6" fill="#FC9C88"/>
<circle cx="1046.7" cy="806.7" r="6.6" fill="#EA442E"/>
<circle cx="1083.6" cy="806.7" r="2.9" fill="#FC8C77"/>
<circle cx="1120.5" cy="806.7" r="10.8" fill="#E43827"/>
<circle cx="1157.4" cy="806.7" r="1.3" fill="#FDC3B6"/>
<circle cx="1194.3" cy="806.7" r="6.4" fill="#FCA18E"/>
<circle cx="1231.2" cy="806.7" r="2" fill="#FDBCAD"/>
<circle cx="1268.1" cy="806.7" r="5.5" fill="#FDB7A7"/>
<circle cx="1305" cy="806.7" r="2.2" fill="#FDCABE"/>
<circle cx="1341.9" cy="806.7" r="2.2" fill="#FDBCAD"/>
<circle cx="1378.8" cy="806.7" r="19" fill="#EA442E"/>
<circle cx="1415.7" cy="806.7" r="5.5" fill="#FDCFC4"/>
<circle cx="1452.6" cy="806.7" r="13.1" fill="#DE2D20"/>
<circle cx="1489.5" cy="806.7" r="12.6" fill="#FC8C77"/>
<defs><linearGradient id="cb" x1="0" y1="0" x2="0" y2="1"><stop offset="0" stop-color="#DE2D20"/><stop offset="0.25" stop-color="#F2634A"/><stop offset="0.5" stop-color="#FC9C88"/><stop offset="0.75" stop-color="#FDCFC4"/><stop offset="0.93" stop-color="#FFF1EC"/><stop offset="1" stop-color="#FFFFFF"/></linearGradient></defs>
<rect x="1543" y="461" width="33" height="166" fill="url(#cb)"/>
<line x1="1543" y1="473.7" x2="1549.5" y2="473.7" stroke="#fff" stroke-width="1.2"/>
<line x1="1569.5" y1="473.7" x2="1576" y2="473.7" stroke="#fff" stroke-width="1.2"/>
<text x="1591" y="479.7" font-size="17.3" fill="#111">2</text>
<line x1="1543" y1="518.5" x2="1549.5" y2="518.5" stroke="#fff" stroke-width="1.2"/>
<line x1="1569.5" y1="518.5" x2="1576" y2="518.5" stroke="#fff" stroke-width="1.2"/>
<text x="1591" y="524.5" font-size="17.3" fill="#111">1</text>
<line x1="1543" y1="564.2" x2="1549.5" y2="564.2" stroke="#fff" stroke-width="1.2"/>
<line x1="1569.5" y1="564.2" x2="1576" y2="564.2" stroke="#fff" stroke-width="1.2"/>
<text x="1591" y="570.2" font-size="17.3" fill="#111">0</text>
<line x1="1543" y1="609.3" x2="1549.5" y2="609.3" stroke="#fff" stroke-width="1.2"/>
<line x1="1569.5" y1="609.3" x2="1576" y2="609.3" stroke="#fff" stroke-width="1.2"/>
<text x="1591" y="615.3" font-size="17.3" fill="#111">–1</text>
<text font-size="17.9" text-anchor="middle" fill="#111" transform="translate(1633 546.3) rotate(-90)">Scaled expression</text>
<circle cx="1567.5" cy="702.7" r="1.1" fill="#0b0b08"/>
<text x="1591" y="710.7" font-size="17.3" fill="#111">0</text>
<circle cx="1567.5" cy="736.8" r="5.9" fill="#0b0b08"/>
<text x="1591" y="744.8" font-size="17.3" fill="#111">20</text>
<circle cx="1567.5" cy="770.9" r="10.6" fill="#0b0b08"/>
<text x="1591" y="778.9" font-size="17.3" fill="#111">40</text>
<circle cx="1567.5" cy="805.3" r="15" fill="#0b0b08"/>
<text x="1591" y="813.3" font-size="17.3" fill="#111">60</text>
<circle cx="1567.5" cy="847.8" r="19.8" fill="#0b0b08"/>
<text x="1591" y="855.8" font-size="17.3" fill="#111">80</text>
<text font-size="17.9" text-anchor="middle" fill="#111" transform="translate(1633 776.4) rotate(-90)">Percent expressed</text>
</g>
<g id="panel-d">
<text x="16.5" y="980.3" font-size="30" font-weight="bold">d</text>
<circle cx="70.3" cy="976.8" r="3.7" fill="#0a0a0a"/>
<text x="84.4" y="981.6" font-size="16.9" fill="#111">Healthy control</text>
<circle cx="210" cy="976.8" r="3.7" fill="#3A55B4"/>
<text x="223.7" y="981.6" font-size="16.9" fill="#111">Severe/Critical (1-15 Dpi)</text>
<circle cx="423.6" cy="976.8" r="3.7" fill="#F6922E"/>
<text x="436.7" y="981.6" font-size="16.9" fill="#111">Mild/Moderate</text>
<circle cx="554" cy="976.8" r="3.7" fill="#2E8E3A"/>
<text x="562.3" y="981.6" font-size="16.9" fill="#111">Severe/Critical (16-30 Dpi)</text>
<path d="M117.6 990.9 V1231.2 H697" fill="none" stroke="#111" stroke-width="1.5"/>
<line x1="108.5" y1="990.9" x2="117.6" y2="990.9" stroke="#111" stroke-width="1.4"/>
<text x="104" y="998.5" font-size="17.3" text-anchor="end" fill="#111">1.5</text>
<line x1="108.5" y1="1051" x2="117.6" y2="1051" stroke="#111" stroke-width="1.4"/>
<text x="104" y="1058.6" font-size="17.3" text-anchor="end" fill="#111">1.0</text>
<line x1="108.5" y1="1111" x2="117.6" y2="1111" stroke="#111" stroke-width="1.4"/>
<text x="104" y="1118.6" font-size="17.3" text-anchor="end" fill="#111">0.5</text>
<line x1="108.5" y1="1171.1" x2="117.6" y2="1171.1" stroke="#111" stroke-width="1.4"/>
<text x="104" y="1178.7" font-size="17.3" text-anchor="end" fill="#111">0.0</text>
<line x1="108.5" y1="1231.2" x2="117.6" y2="1231.2" stroke="#111" stroke-width="1.4"/>
<text x="104" y="1238.8" font-size="17.3" text-anchor="end" fill="#111">-0.5</text>
<text font-size="17.3" text-anchor="middle" fill="#111" transform="translate(50.5 1110.5) rotate(-90)">Percentage</text>
<line x1="171.8" y1="1231.2" x2="171.8" y2="1241" stroke="#111" stroke-width="1.4"/>
<text font-size="17.3" text-anchor="end" fill="#111" transform="translate(197.9 1249.6) rotate(-45)">T cells</text>
<text font-size="17.3" text-anchor="end" fill="#111" transform="translate(216.9 1263.3) rotate(-45)">(C3)</text>
<line x1="289.1" y1="1231.2" x2="289.1" y2="1241" stroke="#111" stroke-width="1.4"/>
<text font-size="17.3" text-anchor="end" fill="#111" transform="translate(310.4 1249.8) rotate(-45)">B cells</text>
<text font-size="17.3" text-anchor="end" fill="#111" transform="translate(330.7 1263.3) rotate(-45)">(C5)</text>
<line x1="406.6" y1="1231.2" x2="406.6" y2="1241" stroke="#111" stroke-width="1.4"/>
<text font-size="17.3" text-anchor="end" fill="#111" transform="translate(437.7 1244.7) rotate(-45)">Alveolar epithelial cells</text>
<text font-size="17.3" text-anchor="end" fill="#111" transform="translate(453.6 1261.2) rotate(-45)">(C2+C4)</text>
<line x1="524" y1="1231.2" x2="524" y2="1241" stroke="#111" stroke-width="1.4"/>
<text font-size="17.3" text-anchor="end" fill="#111" transform="translate(555.6 1244) rotate(-45)">Alveolar macrophages</text>
<text font-size="17.3" text-anchor="end" fill="#111" transform="translate(571.1 1262.3) rotate(-45)">(C0)</text>
<line x1="641.6" y1="1231.2" x2="641.6" y2="1241" stroke="#111" stroke-width="1.4"/>
<text font-size="17.3" text-anchor="end" fill="#111" transform="translate(665.2 1245.7) rotate(-45)">Putative</text>
<text font-size="17.3" text-anchor="end" fill="#111" transform="translate(680.3 1260.2) rotate(-45)">interstitial macrophages</text>
<text font-size="17.3" text-anchor="end" fill="#111" transform="translate(696.9 1277.8) rotate(-45)">(C1)</text>
<line x1="135" y1="1155" x2="135" y2="1171.1" stroke="#0a0a0a" stroke-width="1.4"/>
<line x1="130.7" y1="1155" x2="139.3" y2="1155" stroke="#0a0a0a" stroke-width="1.4"/>
<line x1="130.7" y1="1171.1" x2="139.3" y2="1171.1" stroke="#0a0a0a" stroke-width="1.4"/>
<circle cx="135" cy="1155" r="4.3" fill="#0a0a0a"/>
<circle cx="129.9" cy="1168" r="4.3" fill="#0a0a0a"/>
<circle cx="140.6" cy="1166.8" r="4.3" fill="#0a0a0a"/>
<line x1="126" y1="1162.9" x2="143.1" y2="1162.9" stroke="#111" stroke-width="1.5"/>
<circle cx="157.2" cy="1111.6" r="4.3" fill="#F6922E"/>
<circle cx="161" cy="1113.6" r="4.3" fill="#F6922E"/>
<circle cx="159" cy="1119.5" r="4.3" fill="#F6922E"/>
<line x1="150.8" y1="1114.9" x2="167.9" y2="1114.9" stroke="#111" stroke-width="1.5"/>
<line x1="184.6" y1="1145" x2="184.6" y2="1167.8" stroke="#3A55B4" stroke-width="1.4"/>
<line x1="180.3" y1="1145" x2="188.9" y2="1145" stroke="#3A55B4" stroke-width="1.4"/>
<line x1="180.3" y1="1167.8" x2="188.9" y2="1167.8" stroke="#3A55B4" stroke-width="1.4"/>
<circle cx="184.6" cy="1136.6" r="4.3" fill="#3A55B4"/>
<circle cx="178.9" cy="1158.3" r="4.3" fill="#3A55B4"/>
<circle cx="190.4" cy="1157.1" r="4.3" fill="#3A55B4"/>
<circle cx="184.6" cy="1153.2" r="4.3" fill="#3A55B4"/>
<circle cx="182" cy="1166.8" r="4.3" fill="#3A55B4"/>
<circle cx="187.4" cy="1166.8" r="4.3" fill="#3A55B4"/>
<line x1="176.4" y1="1157.6" x2="193" y2="1157.6" stroke="#111" stroke-width="1.5"/>
<line x1="209.6" y1="1155.8" x2="209.6" y2="1171.9" stroke="#2E8E3A" stroke-width="1.4"/>
<line x1="205.3" y1="1155.8" x2="213.9" y2="1155.8" stroke="#2E8E3A" stroke-width="1.4"/>
<line x1="205.3" y1="1171.9" x2="213.9" y2="1171.9" stroke="#2E8E3A" stroke-width="1.4"/>
<circle cx="209.6" cy="1148.1" r="4.3" fill="#2E8E3A"/>
<circle cx="208.3" cy="1164.7" r="4.3" fill="#2E8E3A"/>
<circle cx="210.9" cy="1166.8" r="4.3" fill="#2E8E3A"/>
<circle cx="209.6" cy="1170.3" r="4.3" fill="#2E8E3A"/>
<circle cx="207.1" cy="1167.3" r="4.3" fill="#2E8E3A"/>
<line x1="201.9" y1="1164.2" x2="217.8" y2="1164.2" stroke="#111" stroke-width="1.5"/>
<line x1="128.3" y1="1088.5" x2="155.2" y2="1088.5" stroke="#222" stroke-width="1.3"/>
<text x="143" y="1085.2" font-size="16" text-anchor="middle" fill="#2a2625" style="font-family:'DejaVu Sans',sans-serif" letter-spacing="0.8" stroke="#2a2625" stroke-width="0.35">***</text>
<line x1="160.5" y1="1088.5" x2="187.4" y2="1088.5" stroke="#222" stroke-width="1.3"/>
<text x="173.8" y="1084.7" font-size="16" text-anchor="middle" fill="#2a2625" style="font-family:'DejaVu Sans',sans-serif" letter-spacing="0.8" stroke="#2a2625" stroke-width="0.35">*</text>
<line x1="160.5" y1="1060.4" x2="212.7" y2="1060.4" stroke="#222" stroke-width="1.3"/>
<text x="188.3" y="1057.1" font-size="16" text-anchor="middle" fill="#2a2625" style="font-family:'DejaVu Sans',sans-serif" letter-spacing="0.8" stroke="#2a2625" stroke-width="0.35">***</text>
<circle cx="249.2" cy="1170.6" r="4.3" fill="#0a0a0a"/>
<circle cx="251.8" cy="1170.6" r="4.3" fill="#0a0a0a"/>
<circle cx="254.3" cy="1170.6" r="4.3" fill="#0a0a0a"/>
<line x1="242.8" y1="1170.9" x2="260.2" y2="1170.9" stroke="#111" stroke-width="1.5"/>
<circle cx="274" cy="1168" r="4.3" fill="#F6922E"/>
<circle cx="276.6" cy="1168" r="4.3" fill="#F6922E"/>
<circle cx="279.1" cy="1168" r="4.3" fill="#F6922E"/>
<line x1="268.4" y1="1167.8" x2="285" y2="1167.8" stroke="#111" stroke-width="1.5"/>
<circle cx="295.2" cy="1169.8" r="4.3" fill="#3A55B4"/>
<circle cx="299.1" cy="1170.1" r="4.3" fill="#3A55B4"/>
<circle cx="302.1" cy="1169.8" r="4.3" fill="#3A55B4"/>
<circle cx="305.5" cy="1167.3" r="4.3" fill="#3A55B4"/>
<circle cx="308.8" cy="1169.8" r="4.3" fill="#3A55B4"/>
<line x1="294" y1="1169.8" x2="310.6" y2="1169.8" stroke="#111" stroke-width="1.5"/>
<line x1="327.5" y1="1149.9" x2="327.5" y2="1179.3" stroke="#2E8E3A" stroke-width="1.4"/>
<line x1="323.2" y1="1149.9" x2="331.8" y2="1149.9" stroke="#2E8E3A" stroke-width="1.4"/>
<line x1="323.2" y1="1179.3" x2="331.8" y2="1179.3" stroke="#2E8E3A" stroke-width="1.4"/>
<circle cx="327.5" cy="1134.3" r="4.3" fill="#2E8E3A"/>
<circle cx="325.9" cy="1169.8" r="4.3" fill="#2E8E3A"/>
<circle cx="328.5" cy="1170.3" r="4.3" fill="#2E8E3A"/>
<line x1="318.8" y1="1164.2" x2="335.4" y2="1164.2" stroke="#111" stroke-width="1.5"/>
<line x1="253.6" y1="1147.3" x2="279.9" y2="1147.3" stroke="#222" stroke-width="1.3"/>
<text x="266.6" y="1144.3" font-size="16" text-anchor="middle" fill="#2a2625" style="font-family:'DejaVu Sans',sans-serif" letter-spacing="0.8" stroke="#2a2625" stroke-width="0.35">*</text>
<circle cx="366.8" cy="1170.3" r="4.3" fill="#0a0a0a"/>
<circle cx="369.4" cy="1170.3" r="4.3" fill="#0a0a0a"/>
<circle cx="372" cy="1170.3" r="4.3" fill="#0a0a0a"/>
<line x1="361.7" y1="1170.3" x2="377.8" y2="1170.3" stroke="#111" stroke-width="1.5"/>
<line x1="394.2" y1="1153.2" x2="394.2" y2="1170.3" stroke="#F6922E" stroke-width="1.4"/>
<line x1="389.9" y1="1153.2" x2="398.5" y2="1153.2" stroke="#F6922E" stroke-width="1.4"/>
<line x1="389.9" y1="1170.3" x2="398.5" y2="1170.3" stroke="#F6922E" stroke-width="1.4"/>
<circle cx="394.2" cy="1153.2" r="4.3" fill="#F6922E"/>
<circle cx="390.6" cy="1167.3" r="4.3" fill="#F6922E"/>
<circle cx="400.8" cy="1167.3" r="4.3" fill="#F6922E"/>
<line x1="386" y1="1162.7" x2="402.6" y2="1162.7" stroke="#111" stroke-width="1.5"/>
<line x1="419.8" y1="1158.3" x2="419.8" y2="1169.3" stroke="#3A55B4" stroke-width="1.4"/>
<line x1="415.5" y1="1158.3" x2="424.1" y2="1158.3" stroke="#3A55B4" stroke-width="1.4"/>
<line x1="415.5" y1="1169.3" x2="424.1" y2="1169.3" stroke="#3A55B4" stroke-width="1.4"/>
<circle cx="419.8" cy="1154.5" r="4.3" fill="#3A55B4"/>
<circle cx="419.8" cy="1162.2" r="4.3" fill="#3A55B4"/>
<circle cx="418" cy="1166" r="4.3" fill="#3A55B4"/>
<circle cx="421.3" cy="1167.3" r="4.3" fill="#3A55B4"/>
<circle cx="419.8" cy="1169.3" r="4.3" fill="#3A55B4"/>
<line x1="413.6" y1="1163.7" x2="428.2" y2="1163.7" stroke="#111" stroke-width="1.5"/>
<line x1="444.8" y1="1090.6" x2="444.8" y2="1163.7" stroke="#2E8E3A" stroke-width="1.4"/>
<line x1="440.5" y1="1090.6" x2="449.1" y2="1090.6" stroke="#2E8E3A" stroke-width="1.4"/>
<line x1="440.5" y1="1163.7" x2="449.1" y2="1163.7" stroke="#2E8E3A" stroke-width="1.4"/>
<circle cx="444.8" cy="1059.4" r="4.3" fill="#2E8E3A"/>
<circle cx="444.8" cy="1112.8" r="4.3" fill="#2E8E3A"/>
<circle cx="444.8" cy="1138.7" r="4.3" fill="#2E8E3A"/>
<circle cx="442.2" cy="1144.3" r="4.3" fill="#2E8E3A"/>
<circle cx="445.3" cy="1154" r="4.3" fill="#2E8E3A"/>
<line x1="436.6" y1="1126.9" x2="453" y2="1126.9" stroke="#111" stroke-width="1.5"/>
<line x1="367.6" y1="1018.5" x2="449.9" y2="1018.5" stroke="#222" stroke-width="1.3"/>
<text x="402.1" y="1020.8" font-size="16" text-anchor="middle" fill="#2a2625" style="font-family:'DejaVu Sans',sans-serif" letter-spacing="0.8" stroke="#2a2625" stroke-width="0.35">*</text>
<line x1="392.4" y1="1034.6" x2="449.9" y2="1034.6" stroke="#222" stroke-width="1.3"/>
<text x="419.2" y="1036.9" font-size="16" text-anchor="middle" fill="#2a2625" style="font-family:'DejaVu Sans',sans-serif" letter-spacing="0.8" stroke="#2a2625" stroke-width="0.35">*</text>
<line x1="418.7" y1="1052.5" x2="449.9" y2="1052.5" stroke="#222" stroke-width="1.3"/>
<text x="435.1" y="1054.8" font-size="16" text-anchor="middle" fill="#2a2625" style="font-family:'DejaVu Sans',sans-serif" letter-spacing="0.8" stroke="#2a2625" stroke-width="0.35">*</text>
<line x1="364.3" y1="1131.5" x2="422.3" y2="1131.5" stroke="#222" stroke-width="1.3"/>
<text x="391.6" y="1133.8" font-size="16" text-anchor="middle" fill="#2a2625" style="font-family:'DejaVu Sans',sans-serif" letter-spacing="0.8" stroke="#2a2625" stroke-width="0.35">*</text>
<line x1="486.5" y1="1059.9" x2="486.5" y2="1074.5" stroke="#0a0a0a" stroke-width="1.4"/>
<line x1="482.2" y1="1059.9" x2="490.8" y2="1059.9" stroke="#0a0a0a" stroke-width="1.4"/>
<line x1="482.2" y1="1074.5" x2="490.8" y2="1074.5" stroke="#0a0a0a" stroke-width="1.4"/>
<circle cx="481.4" cy="1059.9" r="4.3" fill="#0a0a0a"/>
<circle cx="490.8" cy="1060.4" r="4.3" fill="#0a0a0a"/>
<circle cx="486.5" cy="1074.5" r="4.3" fill="#0a0a0a"/>
<line x1="478.5" y1="1064.3" x2="494.7" y2="1064.3" stroke="#111" stroke-width="1.5"/>
<circle cx="510" cy="1118.7" r="4.3" fill="#F6922E"/>
<circle cx="513.3" cy="1120.8" r="4.3" fill="#F6922E"/>
<circle cx="511.8" cy="1125.9" r="4.3" fill="#F6922E"/>
<line x1="503.6" y1="1121.5" x2="520.2" y2="1121.5" stroke="#111" stroke-width="1.5"/>
<line x1="536.8" y1="1057.4" x2="536.8" y2="1130.2" stroke="#3A55B4" stroke-width="1.4"/>
<line x1="532.5" y1="1057.4" x2="541.1" y2="1057.4" stroke="#3A55B4" stroke-width="1.4"/>
<line x1="532.5" y1="1130.2" x2="541.1" y2="1130.2" stroke="#3A55B4" stroke-width="1.4"/>
<circle cx="535.6" cy="1068.9" r="4.3" fill="#3A55B4"/>
<circle cx="538.9" cy="1071.4" r="4.3" fill="#3A55B4"/>
<circle cx="536.8" cy="1075.8" r="4.3" fill="#3A55B4"/>
<circle cx="530.4" cy="1085" r="4.3" fill="#3A55B4"/>
<circle cx="541.4" cy="1095.7" r="4.3" fill="#3A55B4"/>
<circle cx="536.8" cy="1166" r="4.3" fill="#3A55B4"/>
<line x1="529.2" y1="1093.9" x2="544.5" y2="1093.9" stroke="#111" stroke-width="1.5"/>
<line x1="562.4" y1="1098.8" x2="562.4" y2="1171.6" stroke="#2E8E3A" stroke-width="1.4"/>
<line x1="558.1" y1="1098.8" x2="566.7" y2="1098.8" stroke="#2E8E3A" stroke-width="1.4"/>
<line x1="558.1" y1="1171.6" x2="566.7" y2="1171.6" stroke="#2E8E3A" stroke-width="1.4"/>
<circle cx="568.8" cy="1087.5" r="4.3" fill="#2E8E3A"/>
<circle cx="558" cy="1096.2" r="4.3" fill="#2E8E3A"/>
<circle cx="562.4" cy="1130.7" r="4.3" fill="#2E8E3A"/>
<circle cx="561.1" cy="1164.2" r="4.3" fill="#2E8E3A"/>
<circle cx="563.2" cy="1167.3" r="4.3" fill="#2E8E3A"/>
<line x1="554.2" y1="1135.1" x2="570.6" y2="1135.1" stroke="#111" stroke-width="1.5"/>
<line x1="486.2" y1="1018.3" x2="568.8" y2="1018.3" stroke="#222" stroke-width="1.3"/>
<text x="529.7" y="1014.4" font-size="16" text-anchor="middle" fill="#2a2625" style="font-family:'DejaVu Sans',sans-serif" letter-spacing="0.8" stroke="#2a2625" stroke-width="0.35">*</text>
<line x1="486.2" y1="1045.1" x2="513.1" y2="1045.1" stroke="#222" stroke-width="1.3"/>
<text x="500.9" y="1041.8" font-size="16" text-anchor="middle" fill="#2a2625" style="font-family:'DejaVu Sans',sans-serif" letter-spacing="0.8" stroke="#2a2625" stroke-width="0.35">***</text>
<line x1="538.9" y1="1048.2" x2="564.9" y2="1048.2" stroke="#222" stroke-width="1.3"/>
<text x="551.7" y="1045.1" font-size="16" text-anchor="middle" fill="#2a2625" style="font-family:'DejaVu Sans',sans-serif" letter-spacing="0.8" stroke="#2a2625" stroke-width="0.35">*</text>
<circle cx="601.5" cy="1167.8" r="4.3" fill="#0a0a0a"/>
<circle cx="604.1" cy="1167.8" r="4.3" fill="#0a0a0a"/>
<circle cx="606.6" cy="1167.8" r="4.3" fill="#0a0a0a"/>
<line x1="596.4" y1="1167.8" x2="612.2" y2="1167.8" stroke="#111" stroke-width="1.5"/>
<circle cx="626.3" cy="1170.1" r="4.3" fill="#F6922E"/>
<circle cx="628.9" cy="1170.1" r="4.3" fill="#F6922E"/>
<circle cx="631.4" cy="1170.1" r="4.3" fill="#F6922E"/>
<line x1="621.2" y1="1170.1" x2="637" y2="1170.1" stroke="#111" stroke-width="1.5"/>
<line x1="654.4" y1="1112.1" x2="654.4" y2="1193.4" stroke="#3A55B4" stroke-width="1.4"/>
<line x1="650.1" y1="1112.1" x2="658.7" y2="1112.1" stroke="#3A55B4" stroke-width="1.4"/>
<line x1="650.1" y1="1193.4" x2="658.7" y2="1193.4" stroke="#3A55B4" stroke-width="1.4"/>
<circle cx="654.4" cy="1069.9" r="4.3" fill="#3A55B4"/>
<circle cx="652.4" cy="1169.1" r="4.3" fill="#3A55B4"/>
<circle cx="656.5" cy="1169.1" r="4.3" fill="#3A55B4"/>
<line x1="646.2" y1="1153" x2="662.6" y2="1153" stroke="#111" stroke-width="1.5"/>
<line x1="679.5" y1="1106.2" x2="679.5" y2="1185.2" stroke="#2E8E3A" stroke-width="1.4"/>
<line x1="675.2" y1="1106.2" x2="683.8" y2="1106.2" stroke="#2E8E3A" stroke-width="1.4"/>
<line x1="675.2" y1="1185.2" x2="683.8" y2="1185.2" stroke="#2E8E3A" stroke-width="1.4"/>
<circle cx="679.5" cy="1077" r="4.3" fill="#2E8E3A"/>
<circle cx="679.5" cy="1118.2" r="4.3" fill="#2E8E3A"/>
<circle cx="672.3" cy="1169.8" r="4.3" fill="#2E8E3A"/>
<circle cx="676.9" cy="1170.3" r="4.3" fill="#2E8E3A"/>
<circle cx="682.5" cy="1169.8" r="4.3" fill="#2E8E3A"/>
<circle cx="686.4" cy="1169.1" r="4.3" fill="#2E8E3A"/>
<line x1="671.5" y1="1145.8" x2="688.2" y2="1145.8" stroke="#111" stroke-width="1.5"/>
</g>
<g id="panel-e">
<text x="806.6" y="981" font-size="32" font-weight="bold">e</text>
<text x="1037.9" y="1010.8" font-size="17.9" text-anchor="middle" fill="#222">CCL signaling pathway network</text>
<line x1="935.7" y1="1020.2" x2="1139.8" y2="1020.2" stroke="#111" stroke-width="1.5"/>
<text x="1437.1" y="1013" font-size="17.9" text-anchor="middle" fill="#222">CXCL signaling pathway network</text>
<line x1="1335.3" y1="1020.7" x2="1539.3" y2="1020.7" stroke="#111" stroke-width="1.5"/>
<line x1="839.3" y1="1241.2" x2="1024.7" y2="1241.2" stroke="#111" stroke-width="2"/>
<text x="932.4" y="1266.4" font-size="17.3" text-anchor="middle" fill="#111">Mild/Moderate</text>
<line x1="1056.2" y1="1241.2" x2="1242.1" y2="1241.2" stroke="#111" stroke-width="2"/>
<text x="1151.5" y="1266.4" font-size="17.3" text-anchor="middle" fill="#111">Severe/Critical</text>
<line x1="1268.1" y1="1241.2" x2="1454.1" y2="1241.2" stroke="#111" stroke-width="2"/>
<text x="1361.3" y="1266.4" font-size="17.3" text-anchor="middle" fill="#111">Mild/Moderate</text>
<line x1="1471.4" y1="1241.2" x2="1639.8" y2="1241.2" stroke="#111" stroke-width="2"/>
<text x="1555.2" y="1266.4" font-size="17.3" text-anchor="middle" fill="#111">Severe/Critical</text>
<text x="884.5" y="1033.5" font-size="18.1" text-anchor="middle" fill="#111">Alveolar</text>
<text x="886.7" y="1054.1" font-size="18.1" text-anchor="middle" fill="#111">epithelial cells</text>
<text x="1029.7" y="1046.4" font-size="18.1" text-anchor="middle" fill="#111">Putative interstitial</text>
<text x="1031.8" y="1067.8" font-size="18.1" text-anchor="middle" fill="#111">Macrophages</text>
<text x="837.9" y="1084.8" font-size="18.1" text-anchor="end" fill="#111">T cells</text>
<text x="833" y="1151.3" font-size="18.1" text-anchor="middle" fill="#111">Alveolar</text>
<text x="838" y="1172.4" font-size="18.1" text-anchor="middle" fill="#111">epithelial cells</text>
<text x="1033.8" y="1151.9" font-size="18.1" text-anchor="middle" fill="#111">Alveolar</text>
<text x="1036.5" y="1173.2" font-size="18.1" text-anchor="middle" fill="#111">Macrophages</text>
<text x="985" y="1198.7" font-size="18.1" text-anchor="middle" fill="#111">Monocytes</text>
<text x="892.7" y="1212.4" font-size="18.1" text-anchor="middle" fill="#111">B cells</text>
<path d="M999.5 1126.1Q929.3 1127.3 866.1 1096.5" fill="none" stroke="#E0603E" stroke-width="4" opacity="0.8"/>
<path d="M999.5 1126.1C1034.2 1108.1 1034.2 1144.2 999.5 1126.1" fill="none" stroke="#D9502E" stroke-width="1.3" opacity="0.9"/>
<path d="M866.1 1096.5C835.1 1097 846.5 1072.4 866.1 1096.5" fill="none" stroke="#BE93E0" stroke-width="1.9" opacity="0.8"/>
<path d="M866.1 1096.5C830.6 1097 843.7 1069 866.1 1096.5" fill="none" stroke="#BE93E0" stroke-width="1.9" opacity="0.8"/>
<path d="M866.1 1096.5C826.2 1097.1 840.9 1065.6 866.1 1096.5" fill="none" stroke="#BE93E0" stroke-width="1.9" opacity="0.8"/>
<path d="M999.5 1126.1Q950.1 1101.7 913.8 1060.1" fill="none" stroke="#D9542F" stroke-width="0.8" opacity="0.8"/>
<path d="M999.5 1126.1Q975.7 1105 973 1073.3" fill="none" stroke="#D9542F" stroke-width="0.8" opacity="0.8"/>
<path d="M973 1073.3Q996.8 1094.4 999.5 1126.1" fill="none" stroke="#8797C6" stroke-width="0.8" opacity="0.8"/>
<path d="M999.5 1126.1Q936.7 1158.4 866.1 1156" fill="none" stroke="#D08868" stroke-width="0.8" opacity="0.8"/>
<path d="M999.5 1126.1Q963.3 1168 913.8 1192.7" fill="none" stroke="#D9542F" stroke-width="0.8" opacity="0.8"/>
<path d="M999.5 1126.1Q995.9 1157.6 973 1179.5" fill="none" stroke="#D9542F" stroke-width="0.8" opacity="0.8"/>
<path d="M866.1 1096.5Q926.2 1129.5 973 1179.5" fill="none" stroke="#A28FC4" stroke-width="0.8" opacity="0.8"/>
<path d="M973 1179.5Q912.9 1146.6 866.1 1096.5" fill="none" stroke="#A28FC4" stroke-width="0.8" opacity="0.8"/>
<circle cx="866.1" cy="1096.5" r="6.6" fill="#A64ACB"/>
<circle cx="913.8" cy="1060.1" r="2" fill="#4DAF3C"/>
<circle cx="973" cy="1073.3" r="2" fill="#3D77B5"/>
<circle cx="999.5" cy="1126.1" r="6.3" fill="#D42A1E"/>
<circle cx="973" cy="1179.5" r="2" fill="#C78BE0"/>
<circle cx="913.8" cy="1192.7" r="2" fill="#E56DB5"/>
<circle cx="866.1" cy="1156" r="2" fill="#EE8A1F"/>
<path d="M1213.2 1126.1C1246.5 1113.6 1246.5 1138.7 1213.2 1126.1" fill="none" stroke="#F08C6E" stroke-width="5.5" opacity="0.9"/>
<path d="M1213.2 1126.1C1246.5 1113.6 1246.5 1138.7 1213.2 1126.1" fill="none" stroke="#E0603E" stroke-width="1" opacity="0.9"/>
<path d="M1080.3 1096.8C1050.4 1105.3 1055.1 1078.6 1080.3 1096.8" fill="none" stroke="#A28FC4" stroke-width="0.8" opacity="0.9"/>
<path d="M1213.2 1126.1Q1143.2 1127.4 1080.3 1096.8" fill="none" stroke="#DE5A36" stroke-width="1.2" opacity="0.8"/>
<path d="M1080.3 1096.8Q1152.6 1084.9 1213.2 1126.1" fill="none" stroke="#A28FC4" stroke-width="0.8" opacity="0.8"/>
<path d="M1080.3 1096.8Q1129.5 1065.8 1187.2 1073.3" fill="none" stroke="#A28FC4" stroke-width="0.8" opacity="0.8"/>
<path d="M1080.3 1096.8Q1115.5 1139.1 1127.7 1192.7" fill="none" stroke="#A28FC4" stroke-width="0.8" opacity="0.8"/>
<path d="M1127.7 1192.7Q1092.5 1150.4 1080.3 1096.8" fill="none" stroke="#A28FC4" stroke-width="0.8" opacity="0.8"/>
<path d="M1080.3 1096.8Q1143.7 1125.3 1187.2 1179.5" fill="none" stroke="#A28FC4" stroke-width="0.8" opacity="0.8"/>
<path d="M1187.2 1179.5Q1125.5 1148.8 1080.3 1096.8" fill="none" stroke="#A28FC4" stroke-width="0.8" opacity="0.8"/>
<path d="M1213.2 1126.1Q1178.4 1169.6 1127.7 1192.7" fill="none" stroke="#D9542F" stroke-width="0.8" opacity="0.8"/>
<path d="M1127.7 1192.7Q1163.8 1150.8 1213.2 1126.1" fill="none" stroke="#B69AB0" stroke-width="0.8" opacity="0.8"/>
<path d="M1213.2 1126.1Q1209.8 1157.5 1187.2 1179.5" fill="none" stroke="#D9542F" stroke-width="0.8" opacity="0.8"/>
<path d="M1187.2 1179.5Q1190.5 1148.1 1213.2 1126.1" fill="none" stroke="#A28FC4" stroke-width="0.8" opacity="0.8"/>
<circle cx="1080.3" cy="1096.8" r="3" fill="#A64ACB"/>
<circle cx="1127.7" cy="1060.1" r="2" fill="#4DAF3C"/>
<circle cx="1187.2" cy="1073.3" r="4.4" fill="#3D77B5"/>
<circle cx="1213.2" cy="1126.1" r="6.5" fill="#D42A1E"/>
<circle cx="1187.2" cy="1179.5" r="2" fill="#C78BE0"/>
<circle cx="1127.7" cy="1192.7" r="2" fill="#E56DB5"/>
<circle cx="1080.3" cy="1156" r="2" fill="#EE8A1F"/>
<path d="M1416.9 1122.8Q1347.1 1123.8 1284.6 1093" fill="none" stroke="#EE8566" stroke-width="6.8" opacity="0.9"/>
<path d="M1416.9 1122.8Q1347.1 1123.8 1284.6 1093" fill="none" stroke="#DD5F3F" stroke-width="2.2" opacity="0.6"/>
<path d="M1416.9 1122.8C1451.5 1109.8 1451.5 1135.9 1416.9 1122.8" fill="none" stroke="#E66A48" stroke-width="2.6" opacity="0.9"/>
<path d="M1284.6 1093C1250.6 1090.5 1265.4 1064.8 1284.6 1093" fill="none" stroke="#A28FC4" stroke-width="0.9" opacity="0.9"/>
<path d="M1331.7 1056.3C1317 1027.7 1335.7 1024.4 1331.7 1056.3" fill="none" stroke="#8DA886" stroke-width="0.8" opacity="0.9"/>
<path d="M1390.9 1176.2C1414.1 1196.3 1398.7 1205.9 1390.9 1176.2" fill="none" stroke="#9A9ACB" stroke-width="0.8" opacity="0.9"/>
<path d="M1331.7 1056.3Q1363.4 1053.4 1390.9 1069.4" fill="none" stroke="#8DA886" stroke-width="0.8" opacity="0.8"/>
<path d="M1331.7 1056.3Q1313.3 1081.2 1284.6 1093" fill="none" stroke="#8DA886" stroke-width="0.8" opacity="0.8"/>
<path d="M1331.7 1056.3Q1317.8 1109.1 1284.6 1152.4" fill="none" stroke="#8DA886" stroke-width="0.8" opacity="0.8"/>
<path d="M1331.7 1056.3Q1342.3 1122.7 1331.7 1189.1" fill="none" stroke="#8DA886" stroke-width="0.8" opacity="0.8"/>
<path d="M1331.7 1056.3Q1378.1 1108 1390.9 1176.2" fill="none" stroke="#8DA886" stroke-width="0.8" opacity="0.8"/>
<path d="M1331.7 1056.3Q1388.9 1070.8 1416.9 1122.8" fill="none" stroke="#8DA886" stroke-width="0.8" opacity="0.8"/>
<path d="M1331.7 1056.3Q1380.9 1081 1416.9 1122.8" fill="none" stroke="#8DA886" stroke-width="0.8" opacity="0.8"/>
<path d="M1416.9 1122.8Q1369.6 1095.5 1331.7 1056.3" fill="none" stroke="#C8613F" stroke-width="0.8" opacity="0.8"/>
<path d="M1416.9 1122.8Q1394.3 1100.8 1390.9 1069.4" fill="none" stroke="#C8613F" stroke-width="0.8" opacity="0.8"/>
<path d="M1390.9 1069.4Q1413.5 1091.4 1416.9 1122.8" fill="none" stroke="#8797C6" stroke-width="0.8" opacity="0.8"/>
<path d="M1390.9 1069.4Q1341.5 1098.2 1284.6 1093" fill="none" stroke="#8797C6" stroke-width="0.8" opacity="0.8"/>
<path d="M1284.6 1093Q1355.5 1086.7 1416.9 1122.8" fill="none" stroke="#A28FC4" stroke-width="0.8" opacity="0.8"/>
<path d="M1284.6 1093Q1335.4 1070.6 1390.9 1069.4" fill="none" stroke="#8797C6" stroke-width="0.8" opacity="0.8"/>
<path d="M1416.9 1122.8Q1354.3 1153.5 1284.6 1152.4" fill="none" stroke="#C49078" stroke-width="0.8" opacity="0.8"/>
<path d="M1416.9 1122.8Q1382.2 1166.2 1331.7 1189.1" fill="none" stroke="#C8613F" stroke-width="0.8" opacity="0.8"/>
<path d="M1331.7 1189.1Q1367.7 1147.5 1416.9 1122.8" fill="none" stroke="#B69AB0" stroke-width="0.8" opacity="0.8"/>
<path d="M1416.9 1122.8Q1412.4 1153.7 1390.9 1176.2" fill="none" stroke="#C8613F" stroke-width="0.8" opacity="0.8"/>
<path d="M1390.9 1176.2Q1396.4 1145.9 1416.9 1122.8" fill="none" stroke="#A28FC4" stroke-width="0.8" opacity="0.8"/>
<path d="M1416.9 1122.8Q1406 1150.6 1390.9 1176.2" fill="none" stroke="#A28FC4" stroke-width="0.8" opacity="0.8"/>
<circle cx="1284.6" cy="1093" r="7" fill="#A64ACB"/>
<circle cx="1331.7" cy="1056.3" r="2.2" fill="#4DAF3C"/>
<circle cx="1390.9" cy="1069.4" r="2" fill="#3D77B5"/>
<circle cx="1416.9" cy="1122.8" r="6.5" fill="#D42A1E"/>
<circle cx="1390.9" cy="1176.2" r="2" fill="#C78BE0"/>
<circle cx="1331.7" cy="1189.1" r="2" fill="#E56DB5"/>
<circle cx="1284.6" cy="1152.4" r="2" fill="#EE8A1F"/>
<path d="M1616.8 1122.8C1652.8 1110.1 1652.8 1135.6 1616.8 1122.8" fill="none" stroke="#F08C6E" stroke-width="6.5" opacity="0.9"/>
<path d="M1616.8 1122.8C1652.8 1110.1 1652.8 1135.6 1616.8 1122.8" fill="none" stroke="#FBD9CC" stroke-width="1.2" opacity="0.9"/>
<path d="M1483.7 1093C1451.3 1096.3 1461 1069.6 1483.7 1093" fill="none" stroke="#A28FC4" stroke-width="0.8" opacity="0.9"/>
<path d="M1531.1 1056.3C1517.4 1027.2 1536.2 1024.6 1531.1 1056.3" fill="none" stroke="#8DA886" stroke-width="0.8" opacity="0.9"/>
<path d="M1590.3 1069.4C1601.7 1039.4 1616.6 1051.1 1590.3 1069.4" fill="none" stroke="#8797C6" stroke-width="0.8" opacity="0.9"/>
<path d="M1483.7 1152.4C1457.9 1174.7 1450.3 1146 1483.7 1152.4" fill="none" stroke="#C9AD88" stroke-width="0.8" opacity="0.9"/>
<path d="M1483.7 1093Q1501.9 1067.5 1531.1 1056.3" fill="none" stroke="#A28FC4" stroke-width="0.8" opacity="0.8"/>
<path d="M1483.7 1093Q1533.4 1065.2 1590.3 1069.4" fill="none" stroke="#A28FC4" stroke-width="0.8" opacity="0.8"/>
<path d="M1483.7 1093Q1554.7 1087.9 1616.8 1122.8" fill="none" stroke="#A28FC4" stroke-width="0.8" opacity="0.8"/>
<path d="M1483.7 1093Q1549.5 1118.6 1590.3 1176.2" fill="none" stroke="#A28FC4" stroke-width="0.8" opacity="0.8"/>
<path d="M1483.7 1093Q1521.8 1133.9 1531.1 1189.1" fill="none" stroke="#A28FC4" stroke-width="0.8" opacity="0.8"/>
<path d="M1483.7 1093Q1492.6 1122.7 1483.7 1152.4" fill="none" stroke="#A28FC4" stroke-width="0.8" opacity="0.8"/>
<path d="M1531.1 1056.3Q1512.9 1081.7 1483.7 1093" fill="none" stroke="#8DA886" stroke-width="0.8" opacity="0.8"/>
<path d="M1531.1 1056.3Q1562.6 1054 1590.3 1069.4" fill="none" stroke="#8DA886" stroke-width="0.8" opacity="0.8"/>
<path d="M1531.1 1056.3Q1583.9 1076.7 1616.8 1122.8" fill="none" stroke="#8DA886" stroke-width="0.8" opacity="0.8"/>
<path d="M1531.1 1056.3Q1578.7 1107.4 1590.3 1176.2" fill="none" stroke="#8DA886" stroke-width="0.8" opacity="0.8"/>
<path d="M1531.1 1056.3Q1551 1122.7 1531.1 1189.1" fill="none" stroke="#8DA886" stroke-width="0.8" opacity="0.8"/>
<path d="M1531.1 1056.3Q1521.8 1111.4 1483.7 1152.4" fill="none" stroke="#8DA886" stroke-width="0.8" opacity="0.8"/>
<path d="M1590.3 1069.4Q1540.5 1097.2 1483.7 1093" fill="none" stroke="#8797C6" stroke-width="0.8" opacity="0.8"/>
<path d="M1590.3 1069.4Q1558.7 1071.7 1531.1 1056.3" fill="none" stroke="#8797C6" stroke-width="0.8" opacity="0.8"/>
<path d="M1590.3 1069.4Q1611.5 1092.1 1616.8 1122.8" fill="none" stroke="#8797C6" stroke-width="0.8" opacity="0.8"/>
<path d="M1590.3 1069.4Q1606.3 1122.8 1590.3 1176.2" fill="none" stroke="#8797C6" stroke-width="0.8" opacity="0.8"/>
<path d="M1590.3 1069.4Q1578.6 1138.1 1531.1 1189.1" fill="none" stroke="#8797C6" stroke-width="0.8" opacity="0.8"/>
<path d="M1590.3 1069.4Q1549.4 1126.9 1483.7 1152.4" fill="none" stroke="#8797C6" stroke-width="0.8" opacity="0.8"/>
<path d="M1483.7 1152.4Q1474.8 1122.7 1483.7 1093" fill="none" stroke="#C9AD88" stroke-width="0.8" opacity="0.8"/>
<path d="M1483.7 1152.4Q1493 1097.2 1531.1 1056.3" fill="none" stroke="#C9AD88" stroke-width="0.8" opacity="0.8"/>
<path d="M1483.7 1152.4Q1524.5 1094.9 1590.3 1069.4" fill="none" stroke="#C9AD88" stroke-width="0.8" opacity="0.8"/>
<path d="M1483.7 1152.4Q1545.8 1117.7 1616.8 1122.8" fill="none" stroke="#C9AD88" stroke-width="0.8" opacity="0.8"/>
<path d="M1483.7 1152.4Q1540.6 1148.3 1590.3 1176.2" fill="none" stroke="#C9AD88" stroke-width="0.8" opacity="0.8"/>
<path d="M1483.7 1152.4Q1512.9 1163.7 1531.1 1189.1" fill="none" stroke="#C9AD88" stroke-width="0.8" opacity="0.8"/>
<path d="M1616.8 1122.8Q1595.5 1100.1 1590.3 1069.4" fill="none" stroke="#C8613F" stroke-width="0.8" opacity="0.8"/>
<path d="M1616.8 1122.8Q1564 1102.4 1531.1 1056.3" fill="none" stroke="#C8613F" stroke-width="0.8" opacity="0.8"/>
<path d="M1616.8 1122.8Q1583.9 1168.8 1531.1 1189.1" fill="none" stroke="#C9A58A" stroke-width="0.8" opacity="0.8"/>
<path d="M1616.8 1122.8Q1611.5 1153.5 1590.3 1176.2" fill="none" stroke="#C9A58A" stroke-width="0.8" opacity="0.8"/>
<path d="M1616.8 1122.8Q1554.7 1157.6 1483.7 1152.4" fill="none" stroke="#C9A58A" stroke-width="0.8" opacity="0.8"/>
<path d="M1616.8 1122.8Q1546.7 1123.9 1483.7 1093" fill="none" stroke="#DE5A36" stroke-width="1.4" opacity="0.8"/>
<circle cx="1483.7" cy="1093" r="3.3" fill="#A64ACB"/>
<circle cx="1531.1" cy="1056.3" r="3" fill="#4DAF3C"/>
<circle cx="1590.3" cy="1069.4" r="4.4" fill="#3D77B5"/>
<circle cx="1616.8" cy="1122.8" r="7" fill="#D42A1E"/>
<circle cx="1590.3" cy="1176.2" r="2" fill="#C78BE0"/>
<circle cx="1531.1" cy="1189.1" r="2" fill="#E56DB5"/>
<circle cx="1483.7" cy="1152.4" r="2.5" fill="#EE8A1F"/>
</g>
<g id="panel-f">
<text x="21.6" y="1410.7" font-size="29.5" font-weight="bold">f</text>
<text x="443.8" y="1414.8" font-size="17.3" text-anchor="middle" fill="#111">Alveolar macrophages (C0)</text>
<text x="1245.3" y="1415.5" font-size="17.3" text-anchor="middle" fill="#111">T cells (C3)</text>
<rect x="51.4" y="1429.3" width="783.2" height="246.5" fill="none" stroke="#BFBFBF" stroke-width="2.5" stroke-dasharray="5.6 3"/>
<rect x="860" y="1429.3" width="773.1" height="246" fill="none" stroke="#BFBFBF" stroke-width="2.5" stroke-dasharray="5.6 3"/>
<line x1="152" y1="1478.4" x2="152" y2="1588.9" stroke="#E4E4E4" stroke-width="0.8" stroke-dasharray="2 2"/>
<line x1="187.3" y1="1478.4" x2="187.3" y2="1588.9" stroke="#E4E4E4" stroke-width="0.8" stroke-dasharray="2 2"/>
<line x1="222.6" y1="1478.4" x2="222.6" y2="1588.9" stroke="#E4E4E4" stroke-width="0.8" stroke-dasharray="2 2"/>
<line x1="257.9" y1="1478.4" x2="257.9" y2="1588.9" stroke="#E4E4E4" stroke-width="0.8" stroke-dasharray="2 2"/>
<line x1="293.2" y1="1478.4" x2="293.2" y2="1588.9" stroke="#E4E4E4" stroke-width="0.8" stroke-dasharray="2 2"/>
<line x1="328.5" y1="1478.4" x2="328.5" y2="1588.9" stroke="#E4E4E4" stroke-width="0.8" stroke-dasharray="2 2"/>
<line x1="363.8" y1="1478.4" x2="363.8" y2="1588.9" stroke="#E4E4E4" stroke-width="0.8" stroke-dasharray="2 2"/>
<line x1="399.1" y1="1478.4" x2="399.1" y2="1588.9" stroke="#E4E4E4" stroke-width="0.8" stroke-dasharray="2 2"/>
<line x1="117.2" y1="1483.5" x2="425.1" y2="1483.5" stroke="#E4E4E4" stroke-width="0.8" stroke-dasharray="2 2"/>
<line x1="117.2" y1="1507.9" x2="425.1" y2="1507.9" stroke="#E4E4E4" stroke-width="0.8" stroke-dasharray="2 2"/>
<line x1="117.2" y1="1532.2" x2="425.1" y2="1532.2" stroke="#E4E4E4" stroke-width="0.8" stroke-dasharray="2 2"/>
<line x1="117.2" y1="1557" x2="425.1" y2="1557" stroke="#E4E4E4" stroke-width="0.8" stroke-dasharray="2 2"/>
<line x1="117.2" y1="1580.9" x2="425.1" y2="1580.9" stroke="#E4E4E4" stroke-width="0.8" stroke-dasharray="2 2"/>
<line x1="117.2" y1="1580.9" x2="425.1" y2="1580.9" stroke="#AAAAAA" stroke-width="1"/>
<line x1="117.2" y1="1589.3" x2="425.1" y2="1589.3" stroke="#D8D8D8" stroke-width="1"/>
<rect x="117.2" y="1624.5" width="49.7" height="10" fill="#EE4A5C"/>
<rect x="166.6" y="1624.5" width="21" height="10" fill="#F8627F"/>
<rect x="187.3" y="1624.5" width="33.2" height="10" fill="#FB848E"/>
<rect x="220.2" y="1624.5" width="53.4" height="10" fill="#F8B7DA"/>
<rect x="273.2" y="1624.5" width="51.9" height="10" fill="#D9D5F3"/>
<rect x="324.8" y="1624.5" width="29" height="10" fill="#C9C1EC"/>
<rect x="353.6" y="1624.5" width="21.5" height="10" fill="#7F85D0"/>
<rect x="374.8" y="1624.5" width="40.5" height="10" fill="#6256B8"/>
<rect x="414.9" y="1624.5" width="10.5" height="10" fill="#4334A6"/>
<path d="M121.1 1589.9V1624.5M123.5 1589.9V1624.5M125.7 1589.9V1624.5M127.6 1589.9V1624.5M133.7 1589.9V1624.5M136.7 1589.9V1624.5M148.3 1589.9V1624.5M153.2 1589.9V1624.5M198.2 1589.9V1624.5M308.5 1589.9V1624.5M367.4 1589.9V1624.5M416.1 1589.9V1624.5" stroke="#333" stroke-width="0.9" fill="none"/>
<rect x="117.4" y="1589.9" width="1.9" height="34.6" fill="#111"/>
<path d="M117.2 1532.7 L118.4 1519.3 L119.4 1509.1 L122.3 1509.6 L123.5 1502.7 L125.2 1502.3 L126.2 1497.4 L128.1 1491.5 L132.5 1492.5 L133.5 1488.1 L135.9 1488.9 L136.9 1484.5 L147.9 1488.9 L148.6 1485.2 L152 1485.9 L153.2 1483 L197 1500.5 L198.7 1499.1 L307.3 1543.6 L308.5 1541.7 L366.2 1566.3 L367.9 1563.6 L414.9 1583.1 L416.4 1578.2 L425.1 1581.4" fill="none" stroke="#2FAE14" stroke-width="1.5" stroke-linejoin="round"/>
<rect x="117.2" y="1478.4" width="308" height="156.5" fill="none" stroke="#222" stroke-width="1.5"/>
<line x1="109.2" y1="1483.5" x2="117.2" y2="1483.5" stroke="#222" stroke-width="1.2"/>
<text x="103.8" y="1489.7" font-size="17.3" text-anchor="end" fill="#111">0.8</text>
<line x1="109.2" y1="1507.9" x2="117.2" y2="1507.9" stroke="#222" stroke-width="1.2"/>
<text x="103.8" y="1514.1" font-size="17.3" text-anchor="end" fill="#111">0.6</text>
<line x1="109.2" y1="1532.2" x2="117.2" y2="1532.2" stroke="#222" stroke-width="1.2"/>
<text x="103.8" y="1538.4" font-size="17.3" text-anchor="end" fill="#111">0.4</text>
<line x1="109.2" y1="1557" x2="117.2" y2="1557" stroke="#222" stroke-width="1.2"/>
<text x="103.8" y="1563.2" font-size="17.3" text-anchor="end" fill="#111">0.2</text>
<line x1="109.2" y1="1580.9" x2="117.2" y2="1580.9" stroke="#222" stroke-width="1.2"/>
<text x="103.8" y="1587.1" font-size="17.3" text-anchor="end" fill="#111">0.0</text>
<text x="270.8" y="1458.4" font-size="17.3" text-anchor="middle" fill="#111">RESPONSE_TO_CHEMOKINE</text>
<text font-size="17.3" text-anchor="middle" fill="#111" transform="translate(69.1 1537.6) rotate(-90)">Enrichment score</text>
<text x="129.3" y="1548" font-size="17.3" fill="#111">NES=2.75</text>
<text x="129.3" y="1569.2" font-size="17.3" fill="#111">p-value &lt; 0.0001</text>
<text x="112.3" y="1662.4" font-size="17.3" fill="#111">CXCL8</text>
<text x="192.6" y="1662.4" font-size="17.3" fill="#111">CCL3L1</text>
<text x="265.7" y="1662.4" font-size="17.3" fill="#111">CCL7</text>
<text x="318" y="1662.4" font-size="17.3" fill="#111">CCL2</text>
<line x1="120.3" y1="1639.1" x2="120.3" y2="1646.4" stroke="#222" stroke-width="1.5"/>
<line x1="128.1" y1="1638.6" x2="209.7" y2="1649.3" stroke="#222" stroke-width="1.5"/>
<line x1="144.7" y1="1638.1" x2="272" y2="1648.8" stroke="#222" stroke-width="1.5"/>
<line x1="168.3" y1="1636.9" x2="336.3" y2="1646.4" stroke="#222" stroke-width="1.5"/>
<line x1="535" y1="1478.2" x2="535" y2="1588.7" stroke="#E4E4E4" stroke-width="0.8" stroke-dasharray="2 2"/>
<line x1="570.3" y1="1478.2" x2="570.3" y2="1588.7" stroke="#E4E4E4" stroke-width="0.8" stroke-dasharray="2 2"/>
<line x1="605.6" y1="1478.2" x2="605.6" y2="1588.7" stroke="#E4E4E4" stroke-width="0.8" stroke-dasharray="2 2"/>
<line x1="640.9" y1="1478.2" x2="640.9" y2="1588.7" stroke="#E4E4E4" stroke-width="0.8" stroke-dasharray="2 2"/>
<line x1="676.1" y1="1478.2" x2="676.1" y2="1588.7" stroke="#E4E4E4" stroke-width="0.8" stroke-dasharray="2 2"/>
<line x1="711.4" y1="1478.2" x2="711.4" y2="1588.7" stroke="#E4E4E4" stroke-width="0.8" stroke-dasharray="2 2"/>
<line x1="746.7" y1="1478.2" x2="746.7" y2="1588.7" stroke="#E4E4E4" stroke-width="0.8" stroke-dasharray="2 2"/>
<line x1="782" y1="1478.2" x2="782" y2="1588.7" stroke="#E4E4E4" stroke-width="0.8" stroke-dasharray="2 2"/>
<line x1="498.7" y1="1483.8" x2="806.5" y2="1483.8" stroke="#E4E4E4" stroke-width="0.8" stroke-dasharray="2 2"/>
<line x1="498.7" y1="1525.3" x2="806.5" y2="1525.3" stroke="#E4E4E4" stroke-width="0.8" stroke-dasharray="2 2"/>
<line x1="498.7" y1="1566.4" x2="806.5" y2="1566.4" stroke="#E4E4E4" stroke-width="0.8" stroke-dasharray="2 2"/>
<line x1="498.7" y1="1483.8" x2="806.5" y2="1483.8" stroke="#AAAAAA" stroke-width="1"/>
<line x1="498.7" y1="1589.1" x2="806.5" y2="1589.1" stroke="#D8D8D8" stroke-width="1"/>
<rect x="498.7" y="1624.9" width="49.9" height="9.2" fill="#EE4A5C"/>
<rect x="548.3" y="1624.9" width="21" height="9.2" fill="#F8627F"/>
<rect x="569" y="1624.9" width="33.3" height="9.2" fill="#FB848E"/>
<rect x="602" y="1624.9" width="53" height="9.2" fill="#F8B7DA"/>
<rect x="654.7" y="1624.9" width="52.4" height="9.2" fill="#D9D5F3"/>
<rect x="706.8" y="1624.9" width="28.7" height="9.2" fill="#C9C1EC"/>
<rect x="735.2" y="1624.9" width="20.7" height="9.2" fill="#7F85D0"/>
<rect x="755.6" y="1624.9" width="42.5" height="9.2" fill="#6256B8"/>
<rect x="797.8" y="1624.9" width="9" height="9.2" fill="#4334A6"/>
<path d="M534.3 1589.7V1624.9M540.7 1589.7V1624.9M562.4 1589.7V1624.9M566.5 1589.7V1624.9M587.4 1589.7V1624.9M594.6 1589.7V1624.9M618.1 1589.7V1624.9M620.2 1589.7V1624.9M621.9 1589.7V1624.9M625.3 1589.7V1624.9M631.7 1589.7V1624.9M634.2 1589.7V1624.9M636 1589.7V1624.9M648.3 1589.7V1624.9M651.3 1589.7V1624.9M653.9 1589.7V1624.9M665.9 1589.7V1624.9M671.8 1589.7V1624.9M677.4 1589.7V1624.9M723.4 1589.7V1624.9M725 1589.7V1624.9M726.7 1589.7V1624.9M728.5 1589.7V1624.9M735.2 1589.7V1624.9M743.4 1589.7V1624.9M782.5 1589.7V1624.9M785 1589.7V1624.9M786.8 1589.7V1624.9M795.3 1589.7V1624.9" stroke="#333" stroke-width="0.9" fill="none"/>
<rect x="798.3" y="1589.7" width="3.1" height="35.3" fill="#111"/>
<rect x="802.4" y="1589.7" width="1" height="35.3" fill="#111"/>
<rect x="804.5" y="1589.7" width="1" height="35.3" fill="#111"/>
<path d="M499.2 1484.4 L533.8 1509.2 L535 1502.2 L538.9 1505.3 L540.1 1500.2 L542.7 1501 L561.9 1515 L563.1 1509.9 L565.2 1512.5 L566.5 1507.4 L587.4 1521.9 L588.7 1518.1 L593.3 1521.4 L594.8 1518.1 L600.2 1521.4 L616.8 1534.2 L619.4 1530.4 L621.9 1532.9 L624.5 1529.1 L627.6 1531.6 L630.1 1529.9 L632.7 1532.9 L636 1525.8 L647.5 1534.2 L649.6 1531.6 L652.1 1532.4 L654.7 1529.3 L665.4 1537.5 L667.4 1535 L671.8 1538 L673.1 1535.5 L676.1 1538.8 L678.2 1536.2 L722.9 1567.9 L724.7 1563.1 L726.7 1563.6 L729.3 1559.8 L733.9 1563.1 L735.7 1560.5 L741.6 1564.9 L744.1 1555.9 L781.7 1582.8 L783.5 1576.4 L785 1575.1 L786.8 1566.7 L794.5 1571.8 L795.8 1562.8 L798.3 1564.9 L800.1 1525.3 L801.4 1524 L802.2 1513.8 L803.4 1512.5 L804.7 1483.8" fill="none" stroke="#2FAE14" stroke-width="1.5" stroke-linejoin="round"/>
<rect x="498.7" y="1478.2" width="307.8" height="156.4" fill="none" stroke="#222" stroke-width="1.5"/>
<line x1="490.7" y1="1483.8" x2="498.7" y2="1483.8" stroke="#222" stroke-width="1.2"/>
<text x="487" y="1490" font-size="17.3" text-anchor="end" fill="#111">0.0</text>
<line x1="490.7" y1="1525.3" x2="498.7" y2="1525.3" stroke="#222" stroke-width="1.2"/>
<text x="487" y="1531.5" font-size="17.3" text-anchor="end" fill="#111">-0.2</text>
<line x1="490.7" y1="1566.4" x2="498.7" y2="1566.4" stroke="#222" stroke-width="1.2"/>
<text x="487" y="1572.6" font-size="17.3" text-anchor="end" fill="#111">-0.4</text>
<text x="652.1" y="1448.6" font-size="17.3" text-anchor="middle" fill="#111">ANTIGEN RECEPTOR_MEDIATED</text>
<text x="652.6" y="1469" font-size="17.3" text-anchor="middle" fill="#111">_SIGNALING_PATHWAY</text>
<text font-size="17.3" text-anchor="middle" fill="#111" transform="translate(450.3 1532.9) rotate(-90)">Enrichment score</text>
<text x="512.5" y="1559.8" font-size="17.3" fill="#111">NES=-2.55</text>
<text x="512.5" y="1581" font-size="17.3" fill="#111">p-value &lt; 0.0001</text>
<text x="486.5" y="1666.4" font-size="17.3" fill="#111">HLA-DRA</text>
<text x="564.9" y="1666.4" font-size="17.3" fill="#111">HLA-DPA1</text>
<text x="647.5" y="1666.4" font-size="17.3" fill="#111">HLA-DRB5</text>
<text x="733.1" y="1666.4" font-size="17.3" fill="#111">HLA-DQA1</text>
<line x1="540.7" y1="1651.8" x2="754.9" y2="1639.5" stroke="#222" stroke-width="1.5"/>
<line x1="629.6" y1="1653.1" x2="777.9" y2="1640.3" stroke="#222" stroke-width="1.5"/>
<line x1="714" y1="1651.8" x2="794.5" y2="1640.8" stroke="#222" stroke-width="1.5"/>
<line x1="802.9" y1="1642.3" x2="802.9" y2="1650" stroke="#222" stroke-width="1.5"/>
<line x1="944.8" y1="1478.6" x2="944.8" y2="1589.4" stroke="#E4E4E4" stroke-width="0.8" stroke-dasharray="2 2"/>
<line x1="967.3" y1="1478.6" x2="967.3" y2="1589.4" stroke="#E4E4E4" stroke-width="0.8" stroke-dasharray="2 2"/>
<line x1="989.7" y1="1478.6" x2="989.7" y2="1589.4" stroke="#E4E4E4" stroke-width="0.8" stroke-dasharray="2 2"/>
<line x1="1012.2" y1="1478.6" x2="1012.2" y2="1589.4" stroke="#E4E4E4" stroke-width="0.8" stroke-dasharray="2 2"/>
<line x1="1034.7" y1="1478.6" x2="1034.7" y2="1589.4" stroke="#E4E4E4" stroke-width="0.8" stroke-dasharray="2 2"/>
<line x1="1057.1" y1="1478.6" x2="1057.1" y2="1589.4" stroke="#E4E4E4" stroke-width="0.8" stroke-dasharray="2 2"/>
<line x1="1079.6" y1="1478.6" x2="1079.6" y2="1589.4" stroke="#E4E4E4" stroke-width="0.8" stroke-dasharray="2 2"/>
<line x1="1102" y1="1478.6" x2="1102" y2="1589.4" stroke="#E4E4E4" stroke-width="0.8" stroke-dasharray="2 2"/>
<line x1="1125.7" y1="1478.6" x2="1125.7" y2="1589.4" stroke="#E4E4E4" stroke-width="0.8" stroke-dasharray="2 2"/>
<line x1="1148.2" y1="1478.6" x2="1148.2" y2="1589.4" stroke="#E4E4E4" stroke-width="0.8" stroke-dasharray="2 2"/>
<line x1="1170.7" y1="1478.6" x2="1170.7" y2="1589.4" stroke="#E4E4E4" stroke-width="0.8" stroke-dasharray="2 2"/>
<line x1="1194.4" y1="1478.6" x2="1194.4" y2="1589.4" stroke="#E4E4E4" stroke-width="0.8" stroke-dasharray="2 2"/>
<line x1="1216.8" y1="1478.6" x2="1216.8" y2="1589.4" stroke="#E4E4E4" stroke-width="0.8" stroke-dasharray="2 2"/>
<line x1="921.9" y1="1502.3" x2="1229.8" y2="1502.3" stroke="#E4E4E4" stroke-width="0.8" stroke-dasharray="2 2"/>
<line x1="921.9" y1="1526.5" x2="1229.8" y2="1526.5" stroke="#E4E4E4" stroke-width="0.8" stroke-dasharray="2 2"/>
<line x1="921.9" y1="1551" x2="1229.8" y2="1551" stroke="#E4E4E4" stroke-width="0.8" stroke-dasharray="2 2"/>
<line x1="921.9" y1="1575.2" x2="1229.8" y2="1575.2" stroke="#E4E4E4" stroke-width="0.8" stroke-dasharray="2 2"/>
<line x1="921.9" y1="1575.2" x2="1229.8" y2="1575.2" stroke="#AAAAAA" stroke-width="1"/>
<line x1="921.9" y1="1589.8" x2="1229.8" y2="1589.8" stroke="#D8D8D8" stroke-width="1"/>
<rect x="921.9" y="1625.1" width="43.2" height="9.2" fill="#EE4A5C"/>
<rect x="964.8" y="1625.1" width="21.5" height="9.2" fill="#F8627F"/>
<rect x="986" y="1625.1" width="34.5" height="9.2" fill="#FB848E"/>
<rect x="1020.2" y="1625.1" width="51.7" height="9.2" fill="#F8B7DA"/>
<rect x="1071.6" y="1625.1" width="40.7" height="9.2" fill="#D9D5F3"/>
<rect x="1112" y="1625.1" width="35.2" height="9.2" fill="#C9C1EC"/>
<rect x="1147" y="1625.1" width="24" height="9.2" fill="#7F85D0"/>
<rect x="1170.7" y="1625.1" width="36.5" height="9.2" fill="#6256B8"/>
<rect x="1206.9" y="1625.1" width="23.3" height="9.2" fill="#4334A6"/>
<path d="M939.8 1590.4V1625.1M981.5 1590.4V1625.1M1010.7 1590.4V1625.1M1080.1 1590.4V1625.1M1086.6 1590.4V1625.1M1088.3 1590.4V1625.1M1090.3 1590.4V1625.1M1178.7 1590.4V1625.1M1205.4 1590.4V1625.1M1211.4 1590.4V1625.1M1227.6 1590.4V1625.1" stroke="#333" stroke-width="0.9" fill="none"/>
<rect x="922.4" y="1590.4" width="5" height="34.7" fill="#111"/>
<rect x="928.3" y="1590.4" width="1" height="34.7" fill="#111"/>
<rect x="930.1" y="1590.4" width="1" height="34.7" fill="#111"/>
<path d="M922.4 1551 L924.1 1529.8 L925.6 1511 L926.8 1509.8 L927.3 1503.6 L928.8 1503.6 L930.8 1484.3 L939.3 1487.8 L940.3 1483.8 L979.8 1499.8 L982.3 1498.6 L1009.7 1509.8 L1011.7 1508.3 L1079.6 1536.5 L1081.6 1536 L1085.8 1537.7 L1090.8 1535.5 L1178.2 1571.4 L1179.9 1569.7 L1204.4 1580.4 L1205.9 1577.7 L1210.6 1579.7 L1212.3 1577.2 L1226.8 1583.4 L1228.3 1575.2" fill="none" stroke="#2FAE14" stroke-width="1.5" stroke-linejoin="round"/>
<rect x="921.9" y="1478.6" width="308" height="156" fill="none" stroke="#222" stroke-width="1.5"/>
<line x1="913.9" y1="1502.3" x2="921.9" y2="1502.3" stroke="#222" stroke-width="1.2"/>
<text x="909.4" y="1508.5" font-size="17.3" text-anchor="end" fill="#111">0.6</text>
<line x1="913.9" y1="1526.5" x2="921.9" y2="1526.5" stroke="#222" stroke-width="1.2"/>
<text x="909.4" y="1532.7" font-size="17.3" text-anchor="end" fill="#111">0.4</text>
<line x1="913.9" y1="1551" x2="921.9" y2="1551" stroke="#222" stroke-width="1.2"/>
<text x="909.4" y="1557.2" font-size="17.3" text-anchor="end" fill="#111">0.2</text>
<line x1="913.9" y1="1575.2" x2="921.9" y2="1575.2" stroke="#222" stroke-width="1.2"/>
<text x="909.4" y="1581.4" font-size="17.3" text-anchor="end" fill="#111">0.0</text>
<text x="1075.8" y="1458.6" font-size="17.3" text-anchor="middle" fill="#111">NEUTROPHIL_MIGRATION</text>
<text font-size="17.3" text-anchor="middle" fill="#111" transform="translate(874.7 1537.2) rotate(-90)">Enrichment score</text>
<text x="937.3" y="1548.5" font-size="17.3" fill="#111">NES=2.75</text>
<text x="937.3" y="1569.7" font-size="17.3" fill="#111">p-value &lt; 0.0001</text>
<text x="906.1" y="1662.5" font-size="17.3" fill="#111">CCL2</text>
<text x="995.2" y="1662.5" font-size="17.3" fill="#111">S100A8</text>
<text x="1064.6" y="1662.5" font-size="17.3" fill="#111">CCL8</text>
<text x="1139.5" y="1662.5" font-size="17.3" fill="#111">CXCL10</text>
<line x1="921.9" y1="1637.1" x2="921.9" y2="1647.1" stroke="#222" stroke-width="1.5"/>
<line x1="930.3" y1="1638.6" x2="1011.7" y2="1648.8" stroke="#222" stroke-width="1.5"/>
<line x1="946.8" y1="1637.8" x2="1074.6" y2="1648.3" stroke="#222" stroke-width="1.5"/>
<line x1="970.5" y1="1637.1" x2="1190.6" y2="1649.5" stroke="#222" stroke-width="1.5"/>
<line x1="1328.6" y1="1479.9" x2="1328.6" y2="1590.2" stroke="#E4E4E4" stroke-width="0.8" stroke-dasharray="2 2"/>
<line x1="1351" y1="1479.9" x2="1351" y2="1590.2" stroke="#E4E4E4" stroke-width="0.8" stroke-dasharray="2 2"/>
<line x1="1373.3" y1="1479.9" x2="1373.3" y2="1590.2" stroke="#E4E4E4" stroke-width="0.8" stroke-dasharray="2 2"/>
<line x1="1395.7" y1="1479.9" x2="1395.7" y2="1590.2" stroke="#E4E4E4" stroke-width="0.8" stroke-dasharray="2 2"/>
<line x1="1419.3" y1="1479.9" x2="1419.3" y2="1590.2" stroke="#E4E4E4" stroke-width="0.8" stroke-dasharray="2 2"/>
<line x1="1441.7" y1="1479.9" x2="1441.7" y2="1590.2" stroke="#E4E4E4" stroke-width="0.8" stroke-dasharray="2 2"/>
<line x1="1464" y1="1479.9" x2="1464" y2="1590.2" stroke="#E4E4E4" stroke-width="0.8" stroke-dasharray="2 2"/>
<line x1="1487.7" y1="1479.9" x2="1487.7" y2="1590.2" stroke="#E4E4E4" stroke-width="0.8" stroke-dasharray="2 2"/>
<line x1="1510" y1="1479.9" x2="1510" y2="1590.2" stroke="#E4E4E4" stroke-width="0.8" stroke-dasharray="2 2"/>
<line x1="1532.4" y1="1479.9" x2="1532.4" y2="1590.2" stroke="#E4E4E4" stroke-width="0.8" stroke-dasharray="2 2"/>
<line x1="1556.1" y1="1479.9" x2="1556.1" y2="1590.2" stroke="#E4E4E4" stroke-width="0.8" stroke-dasharray="2 2"/>
<line x1="1578.4" y1="1479.9" x2="1578.4" y2="1590.2" stroke="#E4E4E4" stroke-width="0.8" stroke-dasharray="2 2"/>
<line x1="1600.8" y1="1479.9" x2="1600.8" y2="1590.2" stroke="#E4E4E4" stroke-width="0.8" stroke-dasharray="2 2"/>
<line x1="1305.7" y1="1484.1" x2="1613.1" y2="1484.1" stroke="#E4E4E4" stroke-width="0.8" stroke-dasharray="2 2"/>
<line x1="1305.7" y1="1512" x2="1613.1" y2="1512" stroke="#E4E4E4" stroke-width="0.8" stroke-dasharray="2 2"/>
<line x1="1305.7" y1="1539.9" x2="1613.1" y2="1539.9" stroke="#E4E4E4" stroke-width="0.8" stroke-dasharray="2 2"/>
<line x1="1305.7" y1="1567.8" x2="1613.1" y2="1567.8" stroke="#E4E4E4" stroke-width="0.8" stroke-dasharray="2 2"/>
<line x1="1305.7" y1="1484.1" x2="1613.1" y2="1484.1" stroke="#AAAAAA" stroke-width="1"/>
<line x1="1305.7" y1="1590.6" x2="1613.1" y2="1590.6" stroke="#D8D8D8" stroke-width="1"/>
<rect x="1305.7" y="1626.1" width="7.4" height="9.5" fill="#E8384A"/>
<rect x="1312.8" y="1626.1" width="36.3" height="9.5" fill="#EE4A5C"/>
<rect x="1348.9" y="1626.1" width="21.3" height="9.5" fill="#F8627F"/>
<rect x="1369.9" y="1626.1" width="34.5" height="9.5" fill="#FB848E"/>
<rect x="1404.1" y="1626.1" width="51.6" height="9.5" fill="#F8B7DA"/>
<rect x="1455.3" y="1626.1" width="41.1" height="9.5" fill="#D9D5F3"/>
<rect x="1496.1" y="1626.1" width="35.3" height="9.5" fill="#C9C1EC"/>
<rect x="1531.1" y="1626.1" width="23.2" height="9.5" fill="#7F85D0"/>
<rect x="1554" y="1626.1" width="36.6" height="9.5" fill="#6256B8"/>
<rect x="1590.2" y="1626.1" width="14.8" height="9.5" fill="#4334A6"/>
<rect x="1604.7" y="1626.1" width="8.7" height="9.5" fill="#5A2FA8"/>
<path d="M1449 1591.2V1626.1M1541.6 1591.2V1626.1M1578.9 1591.2V1626.1M1583.7 1591.2V1626.1M1585 1591.2V1626.1M1592.6 1591.2V1626.1M1597.3 1591.2V1626.1M1611.8 1591.2V1626.1" stroke="#333" stroke-width="0.9" fill="none"/>
<path d="M1305.7 1484.7 L1448.8 1549.9 L1449.6 1540.4 L1541.1 1582 L1541.9 1568 L1578.4 1585.1 L1579.5 1567 L1584.2 1569.6 L1585.2 1550.4 L1592.1 1553.6 L1593.1 1533.3 L1596.8 1534.1 L1597.9 1511.7 L1611.3 1517.8 L1612.1 1484.1" fill="none" stroke="#2FAE14" stroke-width="1.5" stroke-linejoin="round"/>
<rect x="1305.7" y="1479.9" width="307.4" height="155.9" fill="none" stroke="#222" stroke-width="1.5"/>
<line x1="1297.7" y1="1484.1" x2="1305.7" y2="1484.1" stroke="#222" stroke-width="1.2"/>
<text x="1293.9" y="1490.3" font-size="17.3" text-anchor="end" fill="#111">0.0</text>
<line x1="1297.7" y1="1512" x2="1305.7" y2="1512" stroke="#222" stroke-width="1.2"/>
<text x="1293.9" y="1518.2" font-size="17.3" text-anchor="end" fill="#111">-0.2</text>
<line x1="1297.7" y1="1539.9" x2="1305.7" y2="1539.9" stroke="#222" stroke-width="1.2"/>
<text x="1293.9" y="1546.1" font-size="17.3" text-anchor="end" fill="#111">-0.4</text>
<line x1="1297.7" y1="1567.8" x2="1305.7" y2="1567.8" stroke="#222" stroke-width="1.2"/>
<text x="1293.9" y="1574" font-size="17.3" text-anchor="end" fill="#111">-0.6</text>
<text x="1459.3" y="1458.4" font-size="17.3" text-anchor="middle" fill="#111">T_CELL_MEDIATED_CYTOTOXICITY</text>
<text font-size="17.3" text-anchor="middle" fill="#111" transform="translate(1258.4 1533.3) rotate(-90)">Enrichment score</text>
<text x="1325.2" y="1560.9" font-size="17.3" fill="#111">NES=-2.16</text>
<text x="1325.2" y="1582" font-size="17.3" fill="#111">p-value=0.002</text>
<text x="1365.4" y="1667.4" font-size="17.3" fill="#111">XCL1</text>
<text x="1430.4" y="1667.4" font-size="17.3" fill="#111">HLA-A</text>
<text x="1490.8" y="1667.4" font-size="17.3" fill="#111">GZMM</text>
<text x="1566.6" y="1667.4" font-size="17.3" fill="#111">PTPRC</text>
<line x1="1393" y1="1649.8" x2="1560.5" y2="1640.6" stroke="#222" stroke-width="1.5"/>
<line x1="1456.7" y1="1652.2" x2="1584.2" y2="1641.6" stroke="#222" stroke-width="1.5"/>
<line x1="1519.2" y1="1652.4" x2="1600.8" y2="1642.4" stroke="#222" stroke-width="1.5"/>
<line x1="1608.6" y1="1643" x2="1608.6" y2="1651.6" stroke="#222" stroke-width="1.5"/>
<text x="329.2" y="1701.2" font-size="17.3" fill="#111">Severe/Critical</text>
<text x="482.6" y="1701.2" font-size="17.3" fill="#111">Mild/Moderate</text>
<line x1="411.3" y1="1717.7" x2="372.1" y2="1717.7" stroke="#0a0a0a" stroke-width="2.6"/>
<path d="M362.1 1717.7 L379.1 1710.5 L375.1 1717.7 L379.1 1724.9 Z" fill="#0a0a0a"/>
<line x1="515" y1="1717.7" x2="554.6" y2="1717.7" stroke="#0a0a0a" stroke-width="2.6"/>
<path d="M564.6 1717.7 L547.6 1710.5 L551.6 1717.7 L547.6 1724.9 Z" fill="#0a0a0a"/>
<text x="1125.9" y="1698.5" font-size="17.3" fill="#111">Severe/Critical</text>
<text x="1278.5" y="1698.5" font-size="17.3" fill="#111">Mild/Moderate</text>
<line x1="1207.8" y1="1715.5" x2="1167.4" y2="1715.5" stroke="#0a0a0a" stroke-width="2.6"/>
<path d="M1157.4 1715.5 L1174.4 1708.3 L1170.4 1715.5 L1174.4 1722.7 Z" fill="#0a0a0a"/>
<line x1="1311.4" y1="1715.5" x2="1350.4" y2="1715.5" stroke="#0a0a0a" stroke-width="2.6"/>
<path d="M1360.4 1715.5 L1343.4 1708.3 L1347.4 1715.5 L1343.4 1722.7 Z" fill="#0a0a0a"/>
</g>
<g id="panel-g">
<text x="24.3" y="1779.5" font-size="30.5" font-weight="bold">g</text>
<text x="289" y="1782.8" font-size="17.3" text-anchor="middle" fill="#111">Viral-host interaction in alveolar epithelial cells</text>
<line x1="150" y1="1791.8" x2="429.4" y2="1791.8" stroke="#111" stroke-width="1.5"/>
<text x="804.1" y="1782.8" font-size="17.3" text-anchor="middle" fill="#111">Viral-host interaction in alveolar macrophages</text>
<line x1="665.1" y1="1791.8" x2="943.9" y2="1791.8" stroke="#111" stroke-width="1.5"/>
<path d="M381.7 1870.4A190.8 190.8 0 0 1 384.9 1871.9C313.6 2015.5 278.5 2061.7 165.6 2161.1L159 2164.9L163.8 2158.9C278.2 2061.4 313.1 2015.2 381.7 1870.4Z" fill="#4A1F5C" fill-opacity="0.6"/>
<path d="M386.1 2213.1A190.8 190.8 0 0 1 383.3 2214.5C313.3 2070.3 272.1 2049.5 125.9 2084.5L118.3 2084.7L125.2 2081.5C272 2049 313.8 2070 386.1 2213.1Z" fill="#6ED468" fill-opacity="0.6"/>
<path d="M460.1 2146.6A190.8 190.8 0 0 1 458.1 2149.6C325.3 2059.9 271.6 2039.4 122.3 2021.5L115 2019.1L122.6 2018.6C271.6 2038.9 325.6 2059.4 460.1 2146.6Z" fill="#346F8A" fill-opacity="0.6"/>
<path d="M490.8 2043.9A190.8 190.8 0 0 1 490.7 2047.5C330.5 2043.5 296.1 2071.2 275.5 2220.1L272.7 2227.3L272.1 2219.6C295.5 2071.1 330.5 2043 490.8 2043.9Z" fill="#4C3D93" fill-opacity="0.6"/>
<path d="M438.4 1911.5A190.8 190.8 0 0 1 440.8 1914.1C322.5 2022.2 286.2 2067.9 213.8 2199.7L208.8 2205.5L211.2 2198.2C285.8 2067.7 322.1 2021.8 438.4 1911.5Z" fill="#521F86" fill-opacity="0.6"/>
<path d="M463.3 1944.1A190.8 190.8 0 0 1 465 1946.9C326.4 2027.5 274.8 2029.1 142.8 1957.3L137 1952.2L144.3 1954.5C275.1 2028.7 326.1 2027 463.3 1944.1Z" fill="#522E92" fill-opacity="0.6"/>
<path d="M409.7 1886.7A190.8 190.8 0 0 1 412.7 1888.8C318 2018.2 299.3 2071.4 295.9 2221.8L294 2229.2L292.6 2221.6C298.8 2071.4 317.6 2017.8 409.7 1886.7Z" fill="#4A1F5C" fill-opacity="0.6"/>
<path d="M450 1924.8A190.8 190.8 0 0 1 452 1927.5C324.3 2024.3 292.5 2015.2 253.2 1870L252.8 1862.4L256.3 1869.2C293 2015 324 2023.9 450 1924.8Z" fill="#522E92" fill-opacity="0.6"/>
<path d="M487.8 2076.6A190.8 190.8 0 0 1 487.1 2080.2C329.9 2048.8 273.4 2053.3 133.6 2108.7L126 2110L132.5 2105.9C273.2 2052.9 330 2048.2 487.8 2076.6Z" fill="#455091" fill-opacity="0.6"/>
<path d="M490.6 2051.1A190.8 190.8 0 0 1 490.4 2054.8C330.5 2044.7 298.1 2014.2 288.1 1864.2L289.1 1856.6L290.9 1864C298.5 2014.2 330.5 2044.1 490.6 2051.1Z" fill="#455091" fill-opacity="0.6"/>
<path d="M402.1 2204A190.8 190.8 0 0 1 400.8 2204.8C316.1 2068.7 271.4 2044.3 121.2 2052L113.7 2050.9L121.1 2049.1C271.4 2043.8 316.3 2068.6 402.1 2204Z" fill="#59C678" fill-opacity="0.6"/>
<path d="M394.4 2208.6A190.8 190.8 0 0 1 391.7 2210.1C314.7 2069.6 286.8 2017.4 217.5 1884L215.3 1876.6L220 1882.7C287.2 2017.2 315.1 2069.3 394.4 2208.6Z" fill="#6ED468" fill-opacity="0.6"/>
<path d="M472.7 1961.8A190.8 190.8 0 0 1 474.1 1964.8C327.9 2030.3 273.6 2053.8 134.8 2111.6L127.2 2113.1L133.6 2108.9C273.4 2053.4 327.6 2029.8 472.7 1961.8Z" fill="#522E92" fill-opacity="0.6"/>
<path d="M429.6 2182.9A190.8 190.8 0 0 1 426.8 2185.4C320.3 2065.6 279.1 2023.3 169.2 1920.6L164.8 1914.3L171.3 1918.4C279.4 2022.9 320.7 2065.2 429.6 2182.9Z" fill="#399A83" fill-opacity="0.6"/>
<path d="M397.6 1878.9A190.8 190.8 0 0 1 400.7 1880.7C316.1 2016.9 285.3 2067.4 208.1 2196.4L202.9 2202L205.5 2194.8C284.9 2067.1 315.6 2016.6 397.6 1878.9Z" fill="#4A1F5C" fill-opacity="0.6"/>
<path d="M490.8 2040.3A190.8 190.8 0 0 1 490.8 2043.9C330.5 2043 279.4 2062.7 171.4 2167.3L164.9 2171.4L169.4 2165.2C279.1 2062.4 330.5 2042.4 490.8 2040.3Z" fill="#4C3D93" fill-opacity="0.6"/>
<path d="M397.1 2207A190.8 190.8 0 0 1 394.4 2208.6C315.1 2069.3 296.6 2014.4 278.9 1865L279.5 1857.4L281.7 1864.7C297.1 2014.3 315.5 2069.1 397.1 2207Z" fill="#6ED468" fill-opacity="0.6"/>
<path d="M489.8 2062.1A190.8 190.8 0 0 1 489.4 2065.7C330.3 2046.5 282.9 2019.8 193.2 1899.1L190 1892.2L195.6 1897.4C283.3 2019.5 330.4 2045.9 489.8 2062.1Z" fill="#455091" fill-opacity="0.6"/>
<path d="M432.3 2180.3A190.8 190.8 0 0 1 429.6 2182.9C320.7 2065.2 297.6 2014.3 285 1864.4L285.9 1856.8L287.9 1864.2C298.1 2014.2 321.2 2064.8 432.3 2180.3Z" fill="#399A83" fill-opacity="0.6"/>
<path d="M349.2 2227.2A190.8 190.8 0 0 1 346.7 2227.8C307.5 2072.4 277.9 2024.5 162.1 1928.7L157.2 1922.9L163.8 1926.6C278.2 2024.2 307.9 2072.3 349.2 2227.2Z" fill="#B3DE3C" fill-opacity="0.6"/>
<path d="M481.4 1983.5A190.8 190.8 0 0 1 482.4 1986.7C329.2 2033.8 290.5 2069.8 240.9 2211.8L237 2218.3L238.1 2210.8C290.1 2069.7 329 2033.3 481.4 1983.5Z" fill="#522E92" fill-opacity="0.6"/>
<path d="M338.2 2229.7A190.8 190.8 0 0 1 334.8 2230.4C305.6 2072.8 287.6 2068.6 222.6 2204.2L218 2210.3L219.9 2202.9C287.2 2068.4 306.1 2072.7 338.2 2229.7Z" fill="#D8DE33" fill-opacity="0.6"/>
<path d="M433.4 1906.4A190.8 190.8 0 0 1 435.9 1908.9C321.7 2021.4 276.6 2059.3 153.7 2146L146.7 2149L151.9 2143.4C276.3 2058.9 321.3 2021 433.4 1906.4Z" fill="#521F86" fill-opacity="0.6"/>
<path d="M400.8 2204.8A190.8 190.8 0 0 1 399.4 2205.7C315.9 2068.9 291 2070 244 2212.8L240.2 2219.4L241.2 2211.9C290.6 2069.8 316.1 2068.7 400.8 2204.8Z" fill="#59C678" fill-opacity="0.6"/>
<path d="M461.5 1941.2A190.8 190.8 0 0 1 463.3 1944.1C326.1 2027 275.1 2028.6 144.5 1954.2L138.8 1949.1L146.1 1951.4C275.4 2028.2 325.8 2026.5 461.5 1941.2Z" fill="#522E92" fill-opacity="0.6"/>
<path d="M466.6 1949.8A190.8 190.8 0 0 1 468.2 1952.8C326.9 2028.4 272.7 2034.3 129.1 1989.6L122.4 1985.9L130 1986.7C272.8 2033.8 326.7 2027.9 466.6 1949.8Z" fill="#522E92" fill-opacity="0.6"/>
<path d="M480.3 1980.3A190.8 190.8 0 0 1 481.4 1983.5C329 2033.3 289.6 2069.5 234.8 2209.5L230.6 2215.9L232 2208.4C289.1 2069.3 328.8 2032.8 480.3 1980.3Z" fill="#522E92" fill-opacity="0.6"/>
<path d="M472.5 2124.4A190.8 190.8 0 0 1 470.9 2127.7C327.3 2056.4 293.4 2070.7 258.7 2217L255.5 2223.9L255.9 2216.3C292.9 2070.6 327.6 2055.9 472.5 2124.4Z" fill="#3D5F8E" fill-opacity="0.6"/>
<path d="M428.2 1901.5A190.8 190.8 0 0 1 430.9 1903.9C320.9 2020.6 272.5 2050.9 128.4 2093.6L120.7 2094.3L127.6 2090.8C272.4 2050.5 320.5 2020.2 428.2 1901.5Z" fill="#521F86" fill-opacity="0.6"/>
<path d="M471.3 1958.7A190.8 190.8 0 0 1 472.7 1961.8C327.6 2029.8 272.8 2051.9 130.3 2099.7L122.7 2100.6L129.4 2096.9C272.7 2051.5 327.4 2029.3 471.3 1958.7Z" fill="#522E92" fill-opacity="0.6"/>
<path d="M437.3 2175.3A190.8 190.8 0 0 1 434.7 2178C321.5 2064.4 271.7 2046.9 122.8 2068.4L115.2 2068L122.4 2065.5C271.6 2046.4 322 2064 437.3 2175.3Z" fill="#2F8187" fill-opacity="0.6"/>
<path d="M368.8 2220.8A190.8 190.8 0 0 1 365.9 2221.9C310.5 2071.5 300.5 2071.4 303 2221.8L301.4 2229.3L299.7 2221.8C300 2071.4 311 2071.3 368.8 2220.8Z" fill="#6ED468" fill-opacity="0.6"/>
<path d="M485.3 1997.5A190.8 190.8 0 0 1 486.2 2001C329.8 2036.1 295.6 2014.5 272.3 1866L272.8 1858.3L275.6 1865.5C296.1 2014.4 329.7 2035.6 485.3 1997.5Z" fill="#4C3D93" fill-opacity="0.6"/>
<path d="M453.9 2155.5A190.8 190.8 0 0 1 451.8 2158.5C324.3 2061.3 292.9 2070.5 255.7 2216.2L252.4 2223.1L252.9 2215.5C292.5 2070.4 324.6 2060.8 453.9 2155.5Z" fill="#346F8A" fill-opacity="0.6"/>
<path d="M490 2025.9A190.8 190.8 0 0 1 490.3 2029.5C330.5 2040.7 271.6 2038.9 122.7 2018.4L115.5 2015.9L123.1 2015.5C271.7 2038.4 330.4 2040.1 490 2025.9Z" fill="#4C3D93" fill-opacity="0.6"/>
<path d="M486.3 2083.8A190.8 190.8 0 0 1 485.5 2087.3C329.7 2049.9 282.4 2065.4 189.7 2183.8L183.8 2188.7L187.2 2181.8C282 2065 329.8 2049.4 486.3 2083.8Z" fill="#455091" fill-opacity="0.6"/>
<path d="M400.7 1880.7A190.8 190.8 0 0 1 403.8 1882.7C316.6 2017.2 290.1 2069.7 237.9 2210.7L233.8 2217.2L235.1 2209.6C289.6 2069.5 316.1 2016.9 400.7 1880.7Z" fill="#4A1F5C" fill-opacity="0.6"/>
<path d="M337.7 1855.8A190.8 190.8 0 0 1 341.3 1856.5C306.6 2013 285.1 2018.4 206.7 1890L204.3 1882.7L209.6 1888.3C285.5 2018.1 306 2012.9 337.7 1855.8Z" fill="#43184A" fill-opacity="0.6"/>
<path d="M344.9 1857.3A190.8 190.8 0 0 1 348.4 1858.2C307.7 2013.3 278.5 2023.8 165.9 1924.2L161.2 1918.2L167.7 1922.2C278.8 2023.5 307.2 2013.1 344.9 1857.3Z" fill="#43184A" fill-opacity="0.6"/>
<path d="M375.1 1867.4A190.8 190.8 0 0 1 378.4 1868.8C312.5 2015 276 2027.2 149.9 1945.3L144.5 1939.8L151.7 1942.6C276.3 2026.8 312 2014.7 375.1 1867.4Z" fill="#4A1F5C" fill-opacity="0.6"/>
<path d="M357.4 2224.8A190.8 190.8 0 0 1 353.9 2225.8C308.6 2072.1 293.9 2014.8 261.7 1867.9L261.8 1860.3L264.9 1867.3C294.4 2014.7 309.2 2071.9 357.4 2224.8Z" fill="#97DC47" fill-opacity="0.6"/>
<path d="M359 1861.3A190.8 190.8 0 0 1 362.4 1862.5C310 2014 275.4 2057.5 146.3 2134.6L139 2137L144.7 2131.8C275.2 2057 309.4 2013.8 359 1861.3Z" fill="#43184A" fill-opacity="0.6"/>
<path d="M440.8 1914.1A190.8 190.8 0 0 1 443.2 1916.7C322.9 2022.6 286.7 2068.2 216.7 2201.3L211.8 2207.1L214 2199.8C286.2 2067.9 322.5 2022.2 440.8 1914.1Z" fill="#521F86" fill-opacity="0.6"/>
<path d="M374.7 2218.4A190.8 190.8 0 0 1 371.8 2219.6C311.5 2071.1 292 2070.3 250.2 2214.7L246.7 2221.5L247.4 2213.9C291.6 2070.2 311.9 2070.9 374.7 2218.4Z" fill="#6ED468" fill-opacity="0.6"/>
<path d="M478.1 2111.2A190.8 190.8 0 0 1 476.8 2114.5C328.3 2054.3 271.6 2046.4 122.4 2065.2L114.8 2064.6L122.1 2062.2C271.5 2045.9 328.5 2053.7 478.1 2111.2Z" fill="#3D5F8E" fill-opacity="0.6"/>
<path d="M470.9 2127.7A190.8 190.8 0 0 1 469.2 2130.9C327.1 2056.9 295 2071 268.8 2219.1L266.2 2226.2L266.3 2218.6C294.6 2070.9 327.3 2056.4 470.9 2127.7Z" fill="#3D5F8E" fill-opacity="0.6"/>
<path d="M483.5 1990.5A190.8 190.8 0 0 1 484.5 1994C329.5 2035 299.1 2014.2 294.2 1863.9L295.5 1856.4L297.1 1863.8C299.5 2014.2 329.4 2034.4 483.5 1990.5Z" fill="#4C3D93" fill-opacity="0.6"/>
<path d="M430.9 1903.9A190.8 190.8 0 0 1 433.4 1906.4C321.3 2021 273 2052.4 131.3 2102.7L123.7 2103.8L130.4 2099.9C272.9 2051.9 320.9 2020.6 430.9 1903.9Z" fill="#521F86" fill-opacity="0.6"/>
<path d="M489.7 2022.3A190.8 190.8 0 0 1 490 2025.9C330.4 2040.1 272.1 2036.2 125.8 2001.7L118.9 1998.3L126.6 1998.4C272.3 2035.7 330.4 2039.5 489.7 2022.3Z" fill="#4C3D93" fill-opacity="0.6"/>
<path d="M487.6 2008A190.8 190.8 0 0 1 488.2 2011.6C330.1 2037.8 280.6 2021.7 178.7 1911.2L174.8 1904.6L181 1909.1C281 2021.4 330 2037.2 487.6 2008Z" fill="#4C3D93" fill-opacity="0.6"/>
<path d="M468.2 1952.8A190.8 190.8 0 0 1 469.8 1955.7C327.2 2028.9 271.5 2040.4 121.6 2027.7L114.3 2025.2L122 2024.2C271.5 2039.8 326.9 2028.4 468.2 1952.8Z" fill="#522E92" fill-opacity="0.6"/>
<path d="M467.5 2134.1A190.8 190.8 0 0 1 465.8 2137.3C326.5 2057.9 299.5 2014.2 297.1 1863.8L299 1856.3L301.1 1863.8C300.2 2014.2 326.8 2057.4 467.5 2134.1Z" fill="#346F8A" fill-opacity="0.6"/>
<path d="M451.8 2158.5A190.8 190.8 0 0 1 449.5 2161.3C323.9 2061.8 299.9 2071.4 299.4 2221.8L297.7 2229.3L296.2 2221.8C299.4 2071.4 324.3 2061.3 451.8 2158.5Z" fill="#346F8A" fill-opacity="0.6"/>
<path d="M341.3 1856.5A190.8 190.8 0 0 1 344.9 1857.3C307.2 2013.1 281.8 2020.7 186.3 1904.5L182.8 1897.7L188.7 1902.6C282.2 2020.4 306.6 2013 341.3 1856.5Z" fill="#43184A" fill-opacity="0.6"/>
<path d="M363.1 2222.9A190.8 190.8 0 0 1 359.3 2224.2C309.5 2071.8 277.9 2061 162 2156.8L155.2 2160.3L160 2154.4C277.6 2060.6 310.1 2071.6 363.1 2222.9Z" fill="#86DA55" fill-opacity="0.6"/>
<path d="M403.8 1882.7A190.8 190.8 0 0 1 406.8 1884.7C317.1 2017.5 294.1 2070.8 263.3 2218L260.6 2225.1L261 2217.5C293.8 2070.8 316.6 2017.2 403.8 1882.7Z" fill="#4A1F5C" fill-opacity="0.6"/>
<path d="M462 2143.5A190.8 190.8 0 0 1 460.1 2146.6C325.6 2059.4 271.8 2038 123.6 2012.5L116.5 2009.5L124.2 2009.2C271.9 2037.4 325.9 2058.9 462 2143.5Z" fill="#346F8A" fill-opacity="0.6"/>
<path d="M348.4 1858.2A190.8 190.8 0 0 1 352 1859.2C308.3 2013.4 276.3 2026.7 151.8 1942.4L146.6 1936.8L153.7 1939.7C276.6 2026.3 307.7 2013.3 348.4 1858.2Z" fill="#43184A" fill-opacity="0.6"/>
<path d="M482.8 2097.5A190.8 190.8 0 0 1 481.7 2101C329.1 2052.1 277.1 2025.6 156.9 1935.2L151.6 1929.8L158.3 1933.4C277.3 2025.3 329.2 2051.6 482.8 2097.5Z" fill="#3D5F8E" fill-opacity="0.6"/>
<path d="M371.7 1866A190.8 190.8 0 0 1 375.1 1867.4C312 2014.7 289.3 2016.2 233.1 1876.8L232.1 1869.1L236.6 1875.4C289.9 2016 311.5 2014.5 371.7 1866Z" fill="#4A1F5C" fill-opacity="0.6"/>
<path d="M474.1 1964.8A190.8 190.8 0 0 1 475.5 1967.9C328.1 2030.8 274.6 2056.1 141.5 2125.9L134 2127.9L140 2123.1C274.4 2055.6 327.9 2030.3 474.1 1964.8Z" fill="#522E92" fill-opacity="0.6"/>
<path d="M490.2 2058.4A190.8 190.8 0 0 1 489.8 2062.1C330.4 2045.9 283.3 2019.5 195.8 1897.2L192.7 1890.2L198.2 1895.5C283.7 2019.2 330.4 2045.3 490.2 2058.4Z" fill="#455091" fill-opacity="0.6"/>
<path d="M463.9 2140.4A190.8 190.8 0 0 1 462 2143.5C325.9 2058.9 278.2 2024.2 164 1926.5L159.2 1920.5L165.8 1924.4C278.5 2023.9 326.2 2058.4 463.9 2140.4Z" fill="#346F8A" fill-opacity="0.6"/>
<path d="M377.6 2217.1A190.8 190.8 0 0 1 374.7 2218.4C311.9 2070.9 280.8 2064.1 180.1 2175.7L174 2180.3L178 2173.8C280.5 2063.8 312.4 2070.7 377.6 2217.1Z" fill="#6ED468" fill-opacity="0.6"/>
<path d="M409.4 2199.1A190.8 190.8 0 0 1 406.7 2201C317.1 2068.1 295 2014.6 268.8 1866.5L269.1 1858.9L272 1866C295.5 2014.5 317.5 2067.8 409.4 2199.1Z" fill="#4DB87C" fill-opacity="0.6"/>
<path d="M452 1927.5A190.8 190.8 0 0 1 454 1930.1C324.6 2024.8 290.3 2015.9 239.2 1874.4L238.2 1866.8L242.2 1873.4C290.7 2015.7 324.3 2024.3 452 1927.5Z" fill="#522E92" fill-opacity="0.6"/>
<path d="M351.6 2226.5A190.8 190.8 0 0 1 349.2 2227.2C307.9 2072.3 284.1 2019 200.5 1894L197.8 1886.8L203.3 1892.1C284.5 2018.7 308.3 2072.2 351.6 2226.5Z" fill="#B3DE3C" fill-opacity="0.6"/>
<path d="M456 2152.6A190.8 190.8 0 0 1 453.9 2155.5C324.6 2060.8 274 2054.7 137.3 2117.4L129.9 2119.2L136.1 2114.8C273.8 2054.3 325 2060.4 456 2152.6Z" fill="#346F8A" fill-opacity="0.6"/>
<path d="M487.1 2080.2A190.8 190.8 0 0 1 486.3 2083.8C329.8 2049.4 276.3 2058.9 151.8 2143.2L144.7 2146L150.1 2140.6C276 2058.4 329.9 2048.8 487.1 2080.2Z" fill="#455091" fill-opacity="0.6"/>
<path d="M371.8 2219.6A190.8 190.8 0 0 1 368.8 2220.8C311 2071.3 291.5 2070.2 247.1 2213.8L243.4 2220.5L244.3 2212.9C291.1 2070 311.5 2071.1 371.8 2219.6Z" fill="#6ED468" fill-opacity="0.6"/>
<path d="M447.9 1922.2A190.8 190.8 0 0 1 450 1924.8C324 2023.9 293 2015 256.5 1869.2L256.3 1861.5L259.6 1868.4C293.5 2014.9 323.7 2023.5 447.9 1922.2Z" fill="#522E92" fill-opacity="0.6"/>
<path d="M426.8 2185.4A190.8 190.8 0 0 1 423.9 2187.9C319.8 2066 271.9 2037.4 124.2 2008.9L117.2 2005.7L124.9 2005.6C272 2036.8 320.3 2065.6 426.8 2185.4Z" fill="#399A83" fill-opacity="0.6"/>
<path d="M454 1930.1A190.8 190.8 0 0 1 455.9 1932.9C325 2025.2 281.4 2021 183.7 1906.7L180.1 1900L186.1 1904.7C281.8 2020.7 324.6 2024.8 454 1930.1Z" fill="#522E92" fill-opacity="0.6"/>
<path d="M484.7 2090.6A190.8 190.8 0 0 1 483.8 2094.1C329.4 2051 279.4 2022.9 171.5 1918.2L167.2 1911.8L173.7 1916C279.8 2022.5 329.6 2050.4 484.7 2090.6Z" fill="#3D5F8E" fill-opacity="0.6"/>
<path d="M404.8 2202.3A190.8 190.8 0 0 1 403.4 2203.1C316.5 2068.5 294.4 2014.7 265.2 1867.2L265.5 1859.5L268.5 1866.6C295 2014.6 316.8 2068.3 404.8 2202.3Z" fill="#59C678" fill-opacity="0.6"/>
<path d="M486.9 2004.5A190.8 190.8 0 0 1 487.6 2008C330 2037.2 286 2017.8 212.8 1886.5L210.4 1879.2L215.3 1885.1C286.4 2017.6 329.9 2036.7 486.9 2004.5Z" fill="#4C3D93" fill-opacity="0.6"/>
<path d="M442.2 2170A190.8 190.8 0 0 1 439.8 2172.7C322.4 2063.6 272.5 2034.8 128.1 1992.8L121.4 1989.2L129 1989.9C272.6 2034.3 322.8 2063.1 442.2 2170Z" fill="#2F8187" fill-opacity="0.6"/>
<path d="M490.4 2054.8A190.8 190.8 0 0 1 490.2 2058.4C330.4 2045.3 292 2015.3 249.9 1871L249.4 1863.3L252.9 1870.1C292.5 2015.2 330.5 2044.7 490.4 2054.8Z" fill="#455091" fill-opacity="0.6"/>
<path d="M488.9 2069.4A190.8 190.8 0 0 1 488.4 2073C330.1 2047.6 273.5 2031.9 134.5 1974.6L128.2 1970.3L135.7 1971.8C273.7 2031.4 330.2 2047 488.9 2069.4Z" fill="#455091" fill-opacity="0.6"/>
<path d="M380.4 2215.8A190.8 190.8 0 0 1 377.6 2217.1C312.4 2070.7 277.2 2060.2 157.8 2151.5L150.8 2154.7L155.9 2149C276.9 2059.8 312.9 2070.5 380.4 2215.8Z" fill="#6ED468" fill-opacity="0.6"/>
<path d="M368.4 1864.7A190.8 190.8 0 0 1 371.7 1866C311.5 2014.5 291.2 2015.6 244.8 1872.5L243.9 1864.9L247.5 1871.7C291.6 2015.4 310.9 2014.3 368.4 1864.7Z" fill="#4A1F5C" fill-opacity="0.6"/>
<path d="M478 1974.1A190.8 190.8 0 0 1 479.2 1977.2C328.7 2032.3 279.1 2062.4 169.2 2165L162.7 2169L167.3 2162.9C278.8 2062 328.5 2031.8 478 1974.1Z" fill="#522E92" fill-opacity="0.6"/>
<path d="M439.8 2172.7A190.8 190.8 0 0 1 437.3 2175.3C322 2064 271.4 2043.8 121.1 2048.9L113.6 2047.6L121 2045.9C271.4 2043.3 322.4 2063.6 439.8 2172.7Z" fill="#2F8187" fill-opacity="0.6"/>
<path d="M435.9 1908.9A190.8 190.8 0 0 1 438.4 1911.5C322.1 2021.8 285.7 2067.6 210.9 2198.1L205.8 2203.8L208.3 2196.5C285.3 2067.4 321.7 2021.4 435.9 1908.9Z" fill="#521F86" fill-opacity="0.6"/>
<path d="M394.5 1877A190.8 190.8 0 0 1 397.6 1878.9C315.6 2016.6 284.4 2066.8 202.5 2192.9L197 2198.3L199.9 2191.2C284 2066.5 315.1 2016.3 394.5 1877Z" fill="#4A1F5C" fill-opacity="0.6"/>
<path d="M457.8 1935.6A190.8 190.8 0 0 1 459.7 1938.4C325.6 2026.1 277.6 2024.9 160.2 1931L155.2 1925.2L161.9 1928.9C277.9 2024.6 325.3 2025.7 457.8 1935.6Z" fill="#522E92" fill-opacity="0.6"/>
<path d="M489.4 2065.7A190.8 190.8 0 0 1 488.9 2069.4C330.2 2047 273.7 2031.4 135.8 1971.6L129.5 1967.2L137 1968.8C273.9 2031 330.3 2046.5 489.4 2065.7Z" fill="#455091" fill-opacity="0.6"/>
<path d="M488.4 2073A190.8 190.8 0 0 1 487.8 2076.6C330 2048.2 273.2 2052.9 132.4 2105.7L124.9 2106.9L131.4 2102.9C273 2052.4 330.1 2047.6 488.4 2073Z" fill="#455091" fill-opacity="0.6"/>
<path d="M465.8 2137.3A190.8 190.8 0 0 1 463.9 2140.4C326.2 2058.4 279.8 2022.5 173.9 1915.8L169.7 1909.4L176.1 1913.6C280.2 2022.1 326.5 2057.9 465.8 2137.3Z" fill="#346F8A" fill-opacity="0.6"/>
<path d="M475.4 2117.9A190.8 190.8 0 0 1 474 2121.2C327.8 2055.3 283.1 2066 194.7 2187.5L188.8 2192.5L191.9 2185.5C282.7 2065.6 328.1 2054.8 475.4 2117.9Z" fill="#3D5F8E" fill-opacity="0.6"/>
<path d="M476.8 1970.9A190.8 190.8 0 0 1 478 1974.1C328.5 2031.8 276 2058.4 149.9 2140.3L142.7 2143L148.2 2137.7C275.7 2058 328.3 2031.3 476.8 1970.9Z" fill="#522E92" fill-opacity="0.6"/>
<path d="M486.2 2001A190.8 190.8 0 0 1 486.9 2004.5C329.9 2036.7 287.2 2017.2 220.2 1882.6L218.2 1875.2L222.8 1881.3C287.7 2017 329.8 2036.1 486.2 2001Z" fill="#4C3D93" fill-opacity="0.6"/>
<path d="M465 1946.9A190.8 190.8 0 0 1 466.6 1949.8C326.7 2027.9 272.9 2033.4 130.9 1984.1L124.4 1980.1L132 1981.1C273.1 2032.9 326.4 2027.5 465 1946.9Z" fill="#522E92" fill-opacity="0.6"/>
<path d="M459.7 1938.4A190.8 190.8 0 0 1 461.5 1941.2C325.8 2026.5 275.7 2027.7 148 1948.2L142.5 1942.8L149.7 1945.5C276 2027.2 325.6 2026.1 459.7 1938.4Z" fill="#522E92" fill-opacity="0.6"/>
<path d="M388.9 2211.6A190.8 190.8 0 0 1 386.1 2213.1C313.8 2070 271.8 2047.9 123.9 2074.9L116.2 2074.7L123.4 2071.9C271.7 2047.5 314.2 2069.8 388.9 2211.6Z" fill="#6ED468" fill-opacity="0.6"/>
<path d="M383.3 2214.5A190.8 190.8 0 0 1 380.4 2215.8C312.9 2070.5 274.2 2055.2 138.7 2120.3L131.2 2122.2L137.4 2117.7C274 2054.8 313.3 2070.3 383.3 2214.5Z" fill="#6ED468" fill-opacity="0.6"/>
<path d="M406.8 1884.7A190.8 190.8 0 0 1 409.7 1886.7C317.6 2017.8 298.3 2071.4 289.6 2221.5L287.5 2228.9L286.4 2221.3C297.8 2071.4 317.1 2017.5 406.8 1884.7Z" fill="#4A1F5C" fill-opacity="0.6"/>
<path d="M444.7 2167.2A190.8 190.8 0 0 1 442.2 2170C322.8 2063.1 276.9 2025.9 155.4 1937.3L150.1 1931.9L156.8 1935.4C277.1 2025.6 323.1 2062.7 444.7 2167.2Z" fill="#2F8187" fill-opacity="0.6"/>
<path d="M476.8 2114.5A190.8 190.8 0 0 1 475.4 2117.9C328.1 2054.8 277.6 2060.6 159.8 2154.1L153 2157.5L157.9 2151.7C277.3 2060.2 328.3 2054.3 476.8 2114.5Z" fill="#3D5F8E" fill-opacity="0.6"/>
<path d="M423.9 2187.9A190.8 190.8 0 0 1 421 2190.3C319.4 2066.4 271.9 2048.4 124.5 2078.1L116.9 2078L123.9 2075.1C271.8 2048 319.8 2066 423.9 2187.9Z" fill="#399A83" fill-opacity="0.6"/>
<path d="M413.2 2196.4A190.8 190.8 0 0 1 410.8 2198.1C317.7 2067.7 297.1 2014.3 282 1864.7L282.7 1857.1L284.8 1864.4C297.6 2014.3 318.1 2067.4 413.2 2196.4Z" fill="#44AE80" fill-opacity="0.6"/>
<path d="M488.8 2015.2A190.8 190.8 0 0 1 489.3 2018.7C330.3 2038.9 273.9 2030.9 137.1 1968.6L130.9 1964.1L138.4 1965.9C274.1 2030.5 330.2 2038.4 488.8 2015.2Z" fill="#4C3D93" fill-opacity="0.6"/>
<path d="M484.5 1994A190.8 190.8 0 0 1 485.3 1997.5C329.7 2035.6 298.6 2014.2 291.2 1864L292.3 1856.5L294 1863.9C299 2014.2 329.5 2035 484.5 1994Z" fill="#4C3D93" fill-opacity="0.6"/>
<path d="M384.9 1871.9A190.8 190.8 0 0 1 388.1 1873.6C314.1 2015.7 280 2063.3 175.1 2171L168.8 2175.4L173.1 2169C279.7 2063 313.6 2015.5 384.9 1871.9Z" fill="#4A1F5C" fill-opacity="0.6"/>
<path d="M422.9 1896.9A190.8 190.8 0 0 1 425.6 1899.2C320.1 2019.8 272 2036.8 125 2005.3L118 2002L125.7 2002C272.1 2036.3 319.7 2019.4 422.9 1896.9Z" fill="#521F86" fill-opacity="0.6"/>
<path d="M481.7 2101A190.8 190.8 0 0 1 480.6 2104.4C328.9 2052.7 273.3 2032.4 133.3 1977.7L126.9 1973.5L134.4 1974.9C273.5 2031.9 329.1 2052.1 481.7 2101Z" fill="#3D5F8E" fill-opacity="0.6"/>
<path d="M469.8 1955.7A190.8 190.8 0 0 1 471.3 1958.7C327.4 2029.3 272.7 2051.4 129.3 2096.7L121.7 2097.5L128.4 2093.9C272.6 2051 327.2 2028.9 469.8 1955.7Z" fill="#522E92" fill-opacity="0.6"/>
<path d="M490.3 2029.5A190.8 190.8 0 0 1 490.6 2033.1C330.5 2041.2 271.4 2042.7 121 2042.5L113.5 2040.9L121 2039.6C271.4 2042.3 330.5 2040.7 490.3 2029.5Z" fill="#4C3D93" fill-opacity="0.6"/>
<path d="M362.4 1862.5A190.8 190.8 0 0 1 365.9 1863.7C310.5 2014.1 281.6 2064.7 184.8 2179.8L178.9 2184.6L182.7 2178C281.2 2064.4 310 2014 362.4 1862.5Z" fill="#43184A" fill-opacity="0.6"/>
<path d="M378.4 1868.8A190.8 190.8 0 0 1 381.7 1870.4C313.1 2015.2 275.1 2057 144.6 2131.6L137.3 2133.9L143.1 2128.9C274.9 2056.6 312.5 2015 378.4 1868.8Z" fill="#4A1F5C" fill-opacity="0.6"/>
<path d="M355.5 1860.2A190.8 190.8 0 0 1 359 1861.3C309.4 2013.8 272.4 2050.4 127.5 2090.6L119.9 2091.1L126.7 2087.7C272.3 2050 308.9 2013.6 355.5 1860.2Z" fill="#43184A" fill-opacity="0.6"/>
<path d="M479.2 1977.2A190.8 190.8 0 0 1 480.3 1980.3C328.8 2032.8 287.1 2068.4 219.7 2202.8L214.9 2208.8L217 2201.4C286.7 2068.2 328.7 2032.3 479.2 1977.2Z" fill="#522E92" fill-opacity="0.6"/>
<path d="M388.1 1873.6A190.8 190.8 0 0 1 391.3 1875.3C314.6 2016 284 2066.5 199.7 2191.1L194.2 2196.4L197.2 2189.3C283.5 2066.2 314.1 2015.7 388.1 1873.6Z" fill="#4A1F5C" fill-opacity="0.6"/>
<path d="M425.6 1899.2A190.8 190.8 0 0 1 428.2 1901.5C320.5 2020.2 271.4 2042.2 121 2039.3L113.6 2037.6L121.1 2036.4C271.4 2041.8 320.1 2019.8 425.6 1899.2Z" fill="#521F86" fill-opacity="0.6"/>
<path d="M475.5 1967.9A190.8 190.8 0 0 1 476.8 1970.9C328.3 2031.3 275.7 2057.9 148.1 2137.5L140.9 2140L146.4 2134.8C275.4 2057.5 328.1 2030.8 475.5 1967.9Z" fill="#522E92" fill-opacity="0.6"/>
<path d="M489.3 2018.7A190.8 190.8 0 0 1 489.7 2022.3C330.4 2039.5 274.2 2030.5 138.5 1965.6L132.4 1961L139.8 1962.9C274.4 2030 330.3 2038.9 489.3 2018.7Z" fill="#4C3D93" fill-opacity="0.6"/>
<path d="M391.7 2210.1A190.8 190.8 0 0 1 388.9 2211.6C314.2 2069.8 272.4 2035.3 127.2 1996L120.4 1992.5L128 1993.1C272.5 2034.8 314.7 2069.6 391.7 2210.1Z" fill="#6ED468" fill-opacity="0.6"/>
<path d="M352 1859.2A190.8 190.8 0 0 1 355.5 1860.2C308.9 2013.6 271.5 2045.3 121.7 2058.7L114.1 2057.8L121.5 2055.7C271.4 2044.9 308.3 2013.4 352 1859.2Z" fill="#43184A" fill-opacity="0.6"/>
<path d="M443.2 1916.7A190.8 190.8 0 0 1 445.5 1919.4C323.3 2023.1 289.1 2069.3 231.8 2208.3L227.5 2214.6L229 2207.1C288.6 2069.1 322.9 2022.6 443.2 1916.7Z" fill="#521F86" fill-opacity="0.6"/>
<path d="M490.7 2036.7A190.8 190.8 0 0 1 490.8 2040.3C330.5 2042.4 271.7 2047.4 123.3 2071.7L115.7 2071.3L122.9 2068.7C271.7 2046.9 330.5 2041.8 490.7 2036.7Z" fill="#4C3D93" fill-opacity="0.6"/>
<path d="M414.6 1890.2A190.8 190.8 0 0 1 417.4 1892.4C318.8 2018.7 288.5 2016.6 228 1878.9L226.5 1871.4L230.8 1877.7C288.9 2016.4 318.3 2018.4 414.6 1890.2Z" fill="#521F86" fill-opacity="0.6"/>
<path d="M479.4 2107.8A190.8 190.8 0 0 1 478.1 2111.2C328.5 2053.7 271.4 2043.3 121 2045.7L113.5 2044.3L121 2042.7C271.4 2042.8 328.7 2053.2 479.4 2107.8Z" fill="#3D5F8E" fill-opacity="0.6"/>
<path d="M420.2 1894.6A190.8 190.8 0 0 1 422.9 1896.9C319.7 2019.4 275.4 2028.1 146.2 1951.2L140.6 1945.9L147.9 1948.5C275.7 2027.7 319.2 2019.1 420.2 1894.6Z" fill="#521F86" fill-opacity="0.6"/>
<path d="M458.1 2149.6A190.8 190.8 0 0 1 456 2152.6C325 2060.4 273.8 2054.3 136 2114.5L128.5 2116.1L134.8 2111.8C273.6 2053.8 325.3 2059.9 458.1 2149.6Z" fill="#346F8A" fill-opacity="0.6"/>
<path d="M421 2190.3A190.8 190.8 0 0 1 418.1 2192.7C318.9 2066.8 276.9 2059.7 155.7 2148.7L148.7 2151.9L153.9 2146.2C276.6 2059.3 319.4 2066.4 421 2190.3Z" fill="#399A83" fill-opacity="0.6"/>
<path d="M403.4 2203.1A190.8 190.8 0 0 1 402.1 2204C316.3 2068.6 284.6 2018.7 203.6 1892L201 1884.7L206.4 1890.2C285 2018.4 316.5 2068.5 403.4 2203.1Z" fill="#59C678" fill-opacity="0.6"/>
<path d="M488.2 2011.6A190.8 190.8 0 0 1 488.8 2015.2C330.2 2038.4 274.4 2030 139.9 1962.7L133.9 1957.9L141.3 1960C274.6 2029.5 330.1 2037.8 488.2 2011.6Z" fill="#4C3D93" fill-opacity="0.6"/>
<path d="M474 2121.2A190.8 190.8 0 0 1 472.5 2124.4C327.6 2055.9 288.1 2068.9 225.6 2205.6L221.1 2211.8L222.9 2204.3C287.7 2068.6 327.8 2055.3 474 2121.2Z" fill="#3D5F8E" fill-opacity="0.6"/>
<path d="M346.7 2227.8A190.8 190.8 0 0 1 344.2 2228.4C307.1 2072.5 297.2 2071.3 282.7 2221L280.2 2228.2L279.4 2220.6C296.7 2071.2 307.5 2072.4 346.7 2227.8Z" fill="#B3DE3C" fill-opacity="0.6"/>
<path d="M447 2164.4A190.8 190.8 0 0 1 444.7 2167.2C323.1 2062.7 282.5 2020.1 190.6 1901.1L187.3 1894.2L193 1899.3C282.9 2019.8 323.5 2062.3 447 2164.4Z" fill="#2F8187" fill-opacity="0.6"/>
<path d="M341.6 2229A190.8 190.8 0 0 1 338.2 2229.7C306.1 2072.7 272 2049 125.2 2081.3L117.5 2081.4L124.6 2078.3C271.9 2048.5 306.7 2072.6 341.6 2229Z" fill="#D8DE33" fill-opacity="0.6"/>
<path d="M391.3 1875.3A190.8 190.8 0 0 1 394.5 1877C315.1 2016.3 284.8 2067.1 205.2 2194.7L199.9 2200.2L202.7 2193C284.4 2066.8 314.6 2016 391.3 1875.3Z" fill="#4A1F5C" fill-opacity="0.6"/>
<path d="M455.9 1932.9A190.8 190.8 0 0 1 457.8 1935.6C325.3 2025.7 281 2021.4 181.2 1908.9L177.4 1902.2L183.5 1906.9C281.4 2021.1 325 2025.2 455.9 1932.9Z" fill="#522E92" fill-opacity="0.6"/>
<path d="M418.1 2192.7A190.8 190.8 0 0 1 415.1 2195C318.4 2067.1 296.7 2071.2 279.1 2220.6L276.5 2227.8L275.7 2220.1C296.1 2071.2 318.9 2066.8 418.1 2192.7Z" fill="#399A83" fill-opacity="0.6"/>
<path d="M490.6 2033.1A190.8 190.8 0 0 1 490.7 2036.7C330.5 2041.8 271.5 2045.9 122 2062L114.4 2061.2L121.7 2059C271.5 2045.4 330.5 2041.2 490.6 2033.1Z" fill="#4C3D93" fill-opacity="0.6"/>
<path d="M417.4 1892.4A190.8 190.8 0 0 1 420.2 1894.6C319.2 2019.1 288 2016.8 225 1880.3L223.3 1872.8L227.8 1879C288.4 2016.6 318.8 2018.7 417.4 1892.4Z" fill="#521F86" fill-opacity="0.6"/>
<path d="M483.8 2094.1A190.8 190.8 0 0 1 482.8 2097.5C329.2 2051.6 280.2 2022.1 176.3 1913.5L172.2 1906.9L178.5 1911.3C280.6 2021.8 329.4 2051 483.8 2094.1Z" fill="#3D5F8E" fill-opacity="0.6"/>
<path d="M480.6 2104.4A190.8 190.8 0 0 1 479.4 2107.8C328.7 2053.2 271.4 2041.3 121.2 2033.6L113.8 2031.6L121.4 2030.5C271.4 2040.8 328.9 2052.7 480.6 2104.4Z" fill="#3D5F8E" fill-opacity="0.6"/>
<path d="M341 1839.7A207.2 207.2 0 0 1 371.5 1848.3L366.3 1862.6A192 192 0 0 0 338 1854.6Z" fill="#402653"/>
<path d="M374.3 1849.4A207.2 207.2 0 0 1 422.4 1875.6L413.4 1887.9A192 192 0 0 0 368.8 1863.6Z" fill="#48295F"/>
<path d="M424.4 1877.1A207.2 207.2 0 0 1 458 1908.8L446.4 1918.6A192 192 0 0 0 415.3 1889.3Z" fill="#552A84"/>
<path d="M460.6 1911.8A207.2 207.2 0 0 1 498 1981.9L483.5 1986.3A192 192 0 0 0 448.8 1921.5Z" fill="#503D8A"/>
<path d="M499.3 1986A207.2 207.2 0 0 1 507.1 2047.9L491.9 2047.5A192 192 0 0 0 484.7 1990.2Z" fill="#48488B"/>
<path d="M507 2051.8A207.2 207.2 0 0 1 501.5 2091.2L486.7 2087.6A192 192 0 0 0 491.8 2051.2Z" fill="#40518A"/>
<path d="M500.6 2094.7A207.2 207.2 0 0 1 483.8 2138.5L470.3 2131.5A192 192 0 0 0 485.9 2090.9Z" fill="#3A5F88"/>
<path d="M481.9 2142A207.2 207.2 0 0 1 462.4 2171.5L450.5 2162.1A192 192 0 0 0 468.6 2134.7Z" fill="#346F8A"/>
<path d="M459.7 2174.9A207.2 207.2 0 0 1 446.3 2189.6L435.5 2178.8A192 192 0 0 0 447.9 2165.2Z" fill="#2F8187"/>
<path d="M443.7 2192.1A207.2 207.2 0 0 1 425 2208.1L415.8 2195.9A192 192 0 0 0 433.1 2181.1Z" fill="#399A83"/>
<path d="M423 2209.6A207.2 207.2 0 0 1 420.3 2211.5L411.5 2199.1A192 192 0 0 0 413.9 2197.3Z" fill="#44AE80"/>
<path d="M418.8 2212.5A207.2 207.2 0 0 1 415.9 2214.6L407.4 2202A192 192 0 0 0 410.1 2200.1Z" fill="#4DB87C"/>
<path d="M413.8 2216A207.2 207.2 0 0 1 408 2219.7L400 2206.7A192 192 0 0 0 405.4 2203.3Z" fill="#59C678"/>
<path d="M405.5 2221.1A207.2 207.2 0 0 1 371.5 2237.3L366.3 2223A192 192 0 0 0 397.7 2208.1Z" fill="#6ED468"/>
<path d="M368.5 2238.4A207.2 207.2 0 0 1 364.4 2239.7L359.6 2225.3A192 192 0 0 0 363.5 2224Z" fill="#86DA55"/>
<path d="M362.3 2240.4A207.2 207.2 0 0 1 358.5 2241.6L354.2 2227A192 192 0 0 0 357.7 2225.9Z" fill="#97DC47"/>
<path d="M356.1 2242.3A207.2 207.2 0 0 1 348 2244.4L344.5 2229.6A192 192 0 0 0 352 2227.6Z" fill="#B3DE3C"/>
<path d="M345.2 2245A207.2 207.2 0 0 1 337.8 2246.5L335 2231.6A192 192 0 0 0 341.9 2230.2Z" fill="#D8DE33"/>
<path d="M296.4 1835.6A207.2 207.2 0 0 1 301.4 1835.6L301.3 1850.8A192 192 0 0 0 296.6 1850.8Z" fill="#9BD00F"/>
<path d="M275.5 1837.1A207.2 207.2 0 0 1 296.7 1835.6L297 1850.8A192 192 0 0 0 277.3 1852.2Z" fill="#58AEDE"/>
<path d="M255.5 1840.4A207.2 207.2 0 0 1 271.9 1837.5L273.9 1852.6A192 192 0 0 0 258.8 1855.3Z" fill="#9BD00F"/>
<path d="M241.8 1843.9A207.2 207.2 0 0 1 253.4 1840.9L256.8 1855.7A192 192 0 0 0 246.1 1858.5Z" fill="#9BD00F"/>
<path d="M236 1845.7A207.2 207.2 0 0 1 239.4 1844.7L243.9 1859.2A192 192 0 0 0 240.7 1860.2Z" fill="#9BD00F"/>
<path d="M229.5 1848A207.2 207.2 0 0 1 233.2 1846.7L238.1 1861A192 192 0 0 0 234.6 1862.3Z" fill="#9BD00F"/>
<path d="M222.4 1850.7A207.2 207.2 0 0 1 226.8 1849L232.1 1863.2A192 192 0 0 0 228.1 1864.8Z" fill="#9BD00F"/>
<path d="M213.1 1854.7A207.2 207.2 0 0 1 220 1851.7L225.9 1865.7A192 192 0 0 0 219.5 1868.5Z" fill="#9BD00F"/>
<path d="M204.3 1859A207.2 207.2 0 0 1 210.8 1855.8L217.3 1869.5A192 192 0 0 0 211.3 1872.5Z" fill="#9BD00F"/>
<path d="M198.9 1861.9A207.2 207.2 0 0 1 202.1 1860.2L209.3 1873.6A192 192 0 0 0 206.3 1875.2Z" fill="#9BD00F"/>
<path d="M184.7 1870.6A207.2 207.2 0 0 1 195.5 1863.9L203.1 1877A192 192 0 0 0 193.2 1883.3Z" fill="#9BD00F"/>
<path d="M173.3 1878.9A207.2 207.2 0 0 1 182.3 1872.2L191 1884.8A192 192 0 0 0 182.6 1890.9Z" fill="#58AEDE"/>
<path d="M148.5 1901.5A207.2 207.2 0 0 1 171.3 1880.4L180.7 1892.3A192 192 0 0 0 159.6 1911.9Z" fill="#9BD00F"/>
<path d="M138.1 1913.5A207.2 207.2 0 0 1 147 1903.1L158.2 1913.3A192 192 0 0 0 149.9 1923Z" fill="#58AEDE"/>
<path d="M132.6 1920.7A207.2 207.2 0 0 1 136.1 1916.1L148.1 1925.4A192 192 0 0 0 144.9 1929.7Z" fill="#58AEDE"/>
<path d="M117.9 1943.9A207.2 207.2 0 0 1 130.7 1923.4L143.1 1932.1A192 192 0 0 0 131.3 1951.2Z" fill="#58AEDE"/>
<path d="M107 1967.5A207.2 207.2 0 0 1 116.4 1946.8L129.8 1953.8A192 192 0 0 0 121.1 1973.1Z" fill="#58AEDE"/>
<path d="M104.2 1975A207.2 207.2 0 0 1 105.5 1971.3L119.8 1976.5A192 192 0 0 0 118.6 1980Z" fill="#58AEDE"/>
<path d="M100 1988.8A207.2 207.2 0 0 1 103.3 1977.7L117.7 1982.5A192 192 0 0 0 114.6 1992.8Z" fill="#58AEDE"/>
<path d="M95.8 2007.9A207.2 207.2 0 0 1 99.3 1991.3L114 1995.1A192 192 0 0 0 110.7 2010.5Z" fill="#58AEDE"/>
<path d="M94.3 2018.3A207.2 207.2 0 0 1 95.2 2011.1L110.3 2013.4A192 192 0 0 0 109.4 2020.1Z" fill="#9BD00F"/>
<path d="M93.5 2025.5A207.2 207.2 0 0 1 93.9 2021.1L109.1 2022.7A192 192 0 0 0 108.7 2026.7Z" fill="#9BD00F"/>
<path d="M93.1 2032.3A207.2 207.2 0 0 1 93.3 2028.3L108.5 2029.4A192 192 0 0 0 108.2 2033.1Z" fill="#58AEDE"/>
<path d="M93.1 2053.6A207.2 207.2 0 0 1 92.9 2035.2L108.1 2035.8A192 192 0 0 0 108.3 2052.8Z" fill="#9BD00F"/>
<path d="M98.5 2091.2A207.2 207.2 0 0 1 93.3 2057.6L108.5 2056.5A192 192 0 0 0 113.3 2087.6Z" fill="#9BD00F"/>
<path d="M113.3 2132.7A207.2 207.2 0 0 1 99.4 2094.7L114.1 2090.9A192 192 0 0 0 127 2126.1Z" fill="#58AEDE"/>
<path d="M116.5 2139.1A207.2 207.2 0 0 1 114.7 2135.6L128.3 2128.8A192 192 0 0 0 130 2132Z" fill="#9BD00F"/>
<path d="M140.3 2174.9A207.2 207.2 0 0 1 118.3 2142.3L131.6 2135A192 192 0 0 0 152.1 2165.2Z" fill="#9BD00F"/>
<path d="M144.6 2179.8A207.2 207.2 0 0 1 142.2 2177.1L153.8 2167.2A192 192 0 0 0 156 2169.8Z" fill="#9BD00F"/>
<path d="M151.2 2187A207.2 207.2 0 0 1 146.3 2181.7L157.5 2171.5A192 192 0 0 0 162.1 2176.4Z" fill="#58AEDE"/>
<path d="M155.5 2191.3A207.2 207.2 0 0 1 153 2188.8L163.8 2178.1A192 192 0 0 0 166.1 2180.4Z" fill="#9BD00F"/>
<path d="M161.4 2196.8A207.2 207.2 0 0 1 158.7 2194.3L169.1 2183.2A192 192 0 0 0 171.5 2185.5Z" fill="#9BD00F"/>
<path d="M166.8 2201.5A207.2 207.2 0 0 1 164.1 2199.2L174 2187.7A192 192 0 0 0 176.6 2189.9Z" fill="#9BD00F"/>
<path d="M172.4 2206.1A207.2 207.2 0 0 1 169.3 2203.6L178.9 2191.8A192 192 0 0 0 181.8 2194.1Z" fill="#9BD00F"/>
<path d="M178.2 2210.4A207.2 207.2 0 0 1 174.7 2207.8L183.9 2195.7A192 192 0 0 0 187.1 2198.1Z" fill="#9BD00F"/>
<path d="M214.1 2231.3A207.2 207.2 0 0 1 180.9 2212.3L189.6 2199.9A192 192 0 0 0 220.4 2217.5Z" fill="#9BD00F"/>
<path d="M242.5 2241.9A207.2 207.2 0 0 1 217.7 2233L223.7 2219A192 192 0 0 0 246.8 2227.3Z" fill="#9BD00F"/>
<path d="M252.3 2244.4A207.2 207.2 0 0 1 245.3 2242.7L249.3 2228A192 192 0 0 0 255.8 2229.7Z" fill="#9BD00F"/>
<path d="M257.6 2245.6A207.2 207.2 0 0 1 254.8 2245L258.1 2230.2A192 192 0 0 0 260.7 2230.7Z" fill="#58AEDE"/>
<path d="M264 2246.9A207.2 207.2 0 0 1 260.8 2246.3L263.7 2231.3A192 192 0 0 0 266.7 2231.9Z" fill="#9BD00F"/>
<path d="M280.1 2249A207.2 207.2 0 0 1 267.6 2247.4L270 2232.4A192 192 0 0 0 281.6 2233.9Z" fill="#9BD00F"/>
<path d="M288.1 2249.7A207.2 207.2 0 0 1 284.1 2249.4L285.3 2234.2A192 192 0 0 0 288.9 2234.5Z" fill="#58AEDE"/>
<path d="M303.6 2250A207.2 207.2 0 0 1 291.3 2249.8L292 2234.6A192 192 0 0 0 303.4 2234.8Z" fill="#58AEDE"/>
<text font-size="10.2" fill="#111" transform="translate(357.1 1840.9) rotate(-74.2)" dy="3.6">E</text>
<text font-size="10.2" fill="#111" transform="translate(400.4 1858.6) rotate(-61.4)" dy="3.6">M</text>
<text font-size="10.2" fill="#111" transform="translate(443.9 1890.1) rotate(-46.7)" dy="3.6">nsp4</text>
<text font-size="10.2" fill="#111" transform="translate(485 1943.8) rotate(-28.2)" dy="3.6">ORF7b</text>
<text font-size="10.2" fill="#111" transform="translate(508.1 2016.3) rotate(-7.2)" dy="3.6">ORF8</text>
<text font-size="10.2" fill="#111" transform="translate(507.8 2072) rotate(8)" dy="3.6">ORF3a</text>
<text font-size="10.2" fill="#111" transform="translate(495.9 2118) rotate(21)" dy="3.6">ORF7a</text>
<text font-size="10.2" fill="#111" transform="translate(474.9 2158.6) rotate(33.5)" dy="3.6">ORF3b</text>
<text font-size="10.2" fill="#111" transform="translate(455.1 2184.1) rotate(42.4)" dy="3.6">ORF6</text>
<text font-size="10.2" fill="#111" transform="translate(436.3 2202.3) rotate(49.5)" dy="3.6">S</text>
<text font-size="10.2" fill="#111" transform="translate(426.3 2210.3) rotate(53)" dy="3.6">nsp9</text>
<text font-size="10.2" fill="#111" transform="translate(418.1 2216.2) rotate(55.7)" dy="3.6">nsp13</text>
<text font-size="10.2" fill="#111" transform="translate(409.7 2221.7) rotate(58.5)" dy="3.6">nsp5</text>
<text font-size="10.2" fill="#111" transform="translate(390 2232.3) rotate(64.6)" dy="3.6">nsp6</text>
<text font-size="10.2" fill="#111" transform="translate(370.2 2240.5) rotate(70.4)" dy="3.6">nsp7</text>
<text font-size="10.2" fill="#111" transform="translate(360.7 2243.6) rotate(73.2)" dy="3.6">nsp16</text>
<text font-size="10.2" fill="#111" transform="translate(351 2246.3) rotate(75.9)" dy="3.6">ORF9b</text>
<text font-size="10.2" fill="#111" transform="translate(341.2 2248.5) rotate(78.7)" dy="3.6">ORF14</text>
<text font-size="10.2" text-anchor="end" fill="#111" transform="translate(297.4 2252.6) rotate(-89.3)" dy="3.6">CYP1B1</text>
<text font-size="10.2" text-anchor="end" fill="#111" transform="translate(285.9 2252.1) rotate(-86.1)" dy="3.6">TFPI</text>
<text font-size="10.2" text-anchor="end" fill="#111" transform="translate(273.9 2251) rotate(-82.8)" dy="3.6">NOTCH3</text>
<text font-size="10.2" text-anchor="end" fill="#111" transform="translate(264.5 2249.6) rotate(-80.2)" dy="3.6">GALNT5</text>
<text font-size="10.2" text-anchor="end" fill="#111" transform="translate(255.1 2247.7) rotate(-77.6)" dy="3.6">ZNF460</text>
<text font-size="10.2" text-anchor="end" fill="#111" transform="translate(245.9 2245.5) rotate(-75)" dy="3.6">EGFR</text>
<text font-size="10.2" text-anchor="end" fill="#111" transform="translate(229.1 2240.3) rotate(-70.2)" dy="3.6">OCLN</text>
<text font-size="10.2" text-anchor="end" fill="#111" transform="translate(195.7 2224.9) rotate(-60.2)" dy="3.6">OSMR</text>
<text font-size="10.2" text-anchor="end" fill="#111" transform="translate(180 2214.9) rotate(-55.1)" dy="3.6">ITGB4</text>
<text font-size="10.2" text-anchor="end" fill="#111" transform="translate(172.3 2209.3) rotate(-52.5)" dy="3.6">AREG</text>
<text font-size="10.2" text-anchor="end" fill="#111" transform="translate(164.9 2203.3) rotate(-49.9)" dy="3.6">LAMA3</text>
<text font-size="10.2" text-anchor="end" fill="#111" transform="translate(157.7 2197) rotate(-47.3)" dy="3.6">LAMA5</text>
<text font-size="10.2" text-anchor="end" fill="#111" transform="translate(150.9 2190.4) rotate(-44.7)" dy="3.6">LTBP1</text>
<text font-size="10.2" text-anchor="end" fill="#111" transform="translate(144.4 2183.5) rotate(-42.1)" dy="3.6">PTGES</text>
<text font-size="10.2" text-anchor="end" fill="#111" transform="translate(138.1 2176.3) rotate(-39.5)" dy="3.6">WNT7B</text>
<text font-size="10.2" text-anchor="end" fill="#111" transform="translate(126.4 2160.6) rotate(-34.1)" dy="3.6">LRP6</text>
<text font-size="10.2" text-anchor="end" fill="#111" transform="translate(113.3 2138.5) rotate(-27.1)" dy="3.6">IGFBP3</text>
<text font-size="10.2" text-anchor="end" fill="#111" transform="translate(103 2114.9) rotate(-20.1)" dy="3.6">SLC7A11</text>
<text font-size="10.2" text-anchor="end" fill="#111" transform="translate(92.7 2074.9) rotate(-8.8)" dy="3.6">MET</text>
<text font-size="10.2" text-anchor="end" fill="#111" transform="translate(90.2 2044.4) rotate(-0.4)" dy="3.6">NDUFV2</text>
<text font-size="10.2" text-anchor="end" fill="#111" transform="translate(90.5 2032) rotate(2.9)" dy="3.6">COL4A2</text>
<text font-size="10.2" text-anchor="end" fill="#111" transform="translate(91.2 2022.5) rotate(5.5)" dy="3.6">EFNB2</text>
<text font-size="10.2" text-anchor="end" fill="#111" transform="translate(92.3 2013.1) rotate(8.1)" dy="3.6">BMPR1B</text>
<text font-size="10.2" text-anchor="end" fill="#111" transform="translate(94.8 1999) rotate(12.1)" dy="3.6">MBOAT2</text>
<text font-size="10.2" text-anchor="end" fill="#111" transform="translate(99 1982.5) rotate(16.7)" dy="3.6">LAMB1</text>
<text font-size="10.2" text-anchor="end" fill="#111" transform="translate(102.4 1972.2) rotate(19.6)" dy="3.6">NT5E</text>
<text font-size="10.2" text-anchor="end" fill="#111" transform="translate(109 1956) rotate(24.4)" dy="3.6">S1PR3</text>
<text font-size="10.2" text-anchor="end" fill="#111" transform="translate(121.8 1932.1) rotate(31.8)" dy="3.6">SLC2A1</text>
<text font-size="10.2" text-anchor="end" fill="#111" transform="translate(132.2 1916.8) rotate(36.9)" dy="3.6">AK4</text>
<text font-size="10.2" text-anchor="end" fill="#111" transform="translate(140.5 1906.5) rotate(40.5)" dy="3.6">ABCA1</text>
<text font-size="10.2" text-anchor="end" fill="#111" transform="translate(157.7 1888.6) rotate(47.3)" dy="3.6">LRP5</text>
<text font-size="10.2" text-anchor="end" fill="#111" transform="translate(176.2 1873.4) rotate(53.8)" dy="3.6">TPCN1</text>
<text font-size="10.2" text-anchor="end" fill="#111" transform="translate(188.6 1865) rotate(57.9)" dy="3.6">ITGA2</text>
<text font-size="10.2" text-anchor="end" fill="#111" transform="translate(196.7 1860.2) rotate(60.5)" dy="3.6">SEMA3A</text>
<text font-size="10.2" text-anchor="end" fill="#111" transform="translate(205.1 1855.7) rotate(63.1)" dy="3.6">PTPRF</text>
<text font-size="10.2" text-anchor="end" fill="#111" transform="translate(213.7 1851.6) rotate(65.7)" dy="3.6">CAV2</text>
<text font-size="10.2" text-anchor="end" fill="#111" transform="translate(222.5 1847.8) rotate(68.3)" dy="3.6">CLDN1</text>
<text font-size="10.2" text-anchor="end" fill="#111" transform="translate(231.4 1844.5) rotate(70.9)" dy="3.6">TGFB2</text>
<text font-size="10.2" text-anchor="end" fill="#111" transform="translate(240.5 1841.6) rotate(73.5)" dy="3.6">LAMC2</text>
<text font-size="10.2" text-anchor="end" fill="#111" transform="translate(249.7 1839.1) rotate(76.1)" dy="3.6">FZD3</text>
<text font-size="10.2" text-anchor="end" fill="#111" transform="translate(263.2 1836.3) rotate(79.9)" dy="3.6">ERBB2</text>
<text font-size="10.2" text-anchor="end" fill="#111" transform="translate(285.9 1833.5) rotate(86.2)" dy="3.6">GJA1</text>
<text font-size="10.2" text-anchor="end" fill="#111" transform="translate(298.9 1833) rotate(89.7)" dy="3.6">ATP12A</text>
<path d="M873.4 2221.4A190.8 190.8 0 0 1 867.1 2223.7C814.9 2072.2 797.1 2015.8 755.8 1871.2L755.8 1863.4L759.6 1870.1C797.7 2015.6 815.9 2071.8 873.4 2221.4Z" fill="#86DA55" fill-opacity="0.6"/>
<path d="M976.1 2127.7A190.8 190.8 0 0 1 973.8 2132.2C832 2057.5 785.8 2064.6 685 2176.1L678.4 2180.3L682 2173.4C785.3 2064.1 832.4 2056.8 976.1 2127.7Z" fill="#346F8A" fill-opacity="0.6"/>
<path d="M951.1 2166A190.8 190.8 0 0 1 949 2168.5C828 2063.3 776.7 2047.5 627.9 2069.6L620.2 2068.4L627.4 2065.3C776.6 2046.8 828.4 2062.9 951.1 2166Z" fill="#399A83" fill-opacity="0.6"/>
<path d="M966.6 1941.9A190.8 190.8 0 0 1 969.1 1946C831.3 2027.7 776.6 2046.8 627.3 2064.9L619.6 2063.6L626.8 2060.6C776.5 2046.1 830.9 2027.1 966.6 1941.9Z" fill="#522E92" fill-opacity="0.6"/>
<path d="M880.2 2218.6A190.8 190.8 0 0 1 875.9 2220.5C816.3 2071.6 802.5 2071.8 789.1 2221.6L786.3 2228.9L785 2221.2C801.8 2071.8 817 2071.4 880.2 2218.6Z" fill="#6ED468" fill-opacity="0.6"/>
<path d="M971.5 1950.1A190.8 190.8 0 0 1 973.7 1954.2C832 2029 778 2053 636.5 2103.6L628.7 2104.1L635.1 2099.6C777.8 2052.3 831.6 2028.4 971.5 1950.1Z" fill="#522E92" fill-opacity="0.6"/>
<path d="M989.6 2091.5A190.8 190.8 0 0 1 988.3 2096.1C834.3 2051.8 778.6 2054.3 639.8 2112.2L632 2113.1L638.2 2108.3C778.3 2053.7 834.5 2051 989.6 2091.5Z" fill="#3D5F8E" fill-opacity="0.6"/>
<path d="M952.8 1922.7A190.8 190.8 0 0 1 955.8 1926.4C829.1 2024.6 781.9 2026.4 660.4 1937.8L655.6 1931.7L662.8 1934.5C782.3 2025.9 828.7 2024 952.8 1922.7Z" fill="#522E92" fill-opacity="0.6"/>
<path d="M985.8 2104.2A190.8 190.8 0 0 1 984.1 2109C833.7 2053.8 799.8 2015.1 772.6 1867.3L773.3 1859.5L776.5 1866.6C800.4 2015 833.9 2053 985.8 2104.2Z" fill="#346F8A" fill-opacity="0.6"/>
<path d="M888.8 2214.7A190.8 190.8 0 0 1 884.6 2216.7C817.7 2071 779.5 2056.3 645.6 2124.7L637.9 2126.2L643.7 2121C779.2 2055.7 818.4 2070.7 888.8 2214.7Z" fill="#6ED468" fill-opacity="0.6"/>
<path d="M897.2 2210.3A190.8 190.8 0 0 1 893.1 2212.6C819.1 2070.4 776.9 2037.6 629.6 2007.5L622.7 2003.8L630.5 2003.3C777.1 2036.9 819.8 2070 897.2 2210.3Z" fill="#6ED468" fill-opacity="0.6"/>
<path d="M916.7 1888.6A190.8 190.8 0 0 1 920.4 1891.4C823.5 2019 776.5 2046 626.8 2060.3L619.1 2058.7L626.4 2056C776.4 2045.3 822.9 2018.6 916.7 1888.6Z" fill="#521F86" fill-opacity="0.6"/>
<path d="M876 1866.2A190.8 190.8 0 0 1 880.6 1868.1C817.1 2015.3 782.3 2025.9 663 1934.3L658.4 1928L665.6 1931.1C782.7 2025.3 816.4 2015 876 1866.2Z" fill="#4A1F5C" fill-opacity="0.6"/>
<path d="M901.4 2208A190.8 190.8 0 0 1 897.2 2210.3C819.8 2070 780.3 2028.8 650.7 1952.5L645.3 1946.9L652.8 1949.1C780.7 2028.2 820.4 2069.6 901.4 2208Z" fill="#6ED468" fill-opacity="0.6"/>
<path d="M946.7 1915.5A190.8 190.8 0 0 1 949.8 1919C828.2 2023.4 787 2021 692.5 1904.1L689.4 1896.9L695.6 1901.6C787.5 2020.6 827.7 2022.9 946.7 1915.5Z" fill="#522E92" fill-opacity="0.6"/>
<path d="M995.7 2036A190.8 190.8 0 0 1 995.8 2040.9C835.5 2042.9 795.4 2016.3 745.1 1874.6L744.7 1866.8L749.1 1873.3C796.1 2016.1 835.5 2042.1 995.7 2036Z" fill="#455091" fill-opacity="0.6"/>
<path d="M984.1 2109A190.8 190.8 0 0 1 982.3 2113.7C833.4 2054.6 792.3 2017.6 725.6 1882.9L724.4 1875.1L729.6 1880.9C792.9 2017.3 833.7 2053.8 984.1 2109Z" fill="#346F8A" fill-opacity="0.6"/>
<path d="M927.6 1897.1A190.8 190.8 0 0 1 931.1 1900.1C825.2 2020.4 780.4 2058 651.5 2135.4L644 2137.4L649.4 2131.9C780.1 2057.5 824.6 2019.9 927.6 1897.1Z" fill="#521F86" fill-opacity="0.6"/>
<path d="M913 1886A190.8 190.8 0 0 1 916.7 1888.6C822.9 2018.6 776.4 2044.5 626.2 2050.9L618.6 2049L626 2046.6C776.4 2043.8 822.3 2018.1 913 1886Z" fill="#521F86" fill-opacity="0.6"/>
<path d="M975.9 1958.4A190.8 190.8 0 0 1 977.9 1962.7C832.7 2030.4 777.6 2051.5 633.6 2094.9L625.8 2094.9L632.4 2090.8C777.4 2050.9 832.3 2029.7 975.9 1958.4Z" fill="#522E92" fill-opacity="0.6"/>
<path d="M994 2017.5A190.8 190.8 0 0 1 994.7 2022.4C835.3 2040 783.3 2062 669.6 2160.4L662.5 2163.7L667 2157.3C782.9 2061.5 835.2 2039.2 994 2017.5Z" fill="#4C3D93" fill-opacity="0.6"/>
<path d="M861.8 1861.1A190.8 190.8 0 0 1 866.5 1862.7C814.8 2014.4 802.5 2014.8 789.6 1865L791.1 1857.3L793.6 1864.7C803.2 2014.7 814.1 2014.2 861.8 1861.1Z" fill="#4A1F5C" fill-opacity="0.6"/>
<path d="M825.3 1853.6A190.8 190.8 0 0 1 830.1 1854.2C809 2013 789.5 2019.2 707.8 1893L705.3 1885.7L710.8 1891.1C789.9 2018.9 808.2 2012.9 825.3 1853.6Z" fill="#43184A" fill-opacity="0.6"/>
<path d="M979.9 1967A190.8 190.8 0 0 1 981.7 1971.4C833.3 2031.8 782.4 2060.9 664 2153.5L656.8 2156.5L661.5 2150.3C782 2060.4 833 2031.1 979.9 1967Z" fill="#522E92" fill-opacity="0.6"/>
<path d="M987.7 1988.4A190.8 190.8 0 0 1 989.1 1993.2C834.5 2035.3 796.1 2016.1 749.4 1873.1L749.2 1865.4L753.4 1871.9C796.7 2015.9 834.2 2034.5 987.7 1988.4Z" fill="#4C3D93" fill-opacity="0.6"/>
<path d="M992.5 2007.7A190.8 190.8 0 0 1 993.3 2012.6C835.1 2038.4 782 2060.4 661.3 2150L654 2152.8L658.9 2146.8C781.6 2059.9 835 2037.6 992.5 2007.7Z" fill="#4C3D93" fill-opacity="0.6"/>
<path d="M991.8 2082.3A190.8 190.8 0 0 1 990.7 2086.9C834.7 2050.3 781.5 2027 657.8 1941.4L652.9 1935.4L660.2 1938.1C781.8 2026.5 834.9 2049.5 991.8 2082.3Z" fill="#3D5F8E" fill-opacity="0.6"/>
<path d="M969.1 1946A190.8 190.8 0 0 1 971.5 1950.1C831.6 2028.4 777.2 2050.1 631.2 2086L623.4 2085.6L630.2 2081.8C777 2049.5 831.3 2027.7 969.1 1946Z" fill="#522E92" fill-opacity="0.6"/>
<path d="M983.5 1975.8A190.8 190.8 0 0 1 985.1 1980.2C833.8 2033.2 800.3 2071.6 775.7 2219.9L772.4 2226.9L771.6 2219.2C799.7 2071.4 833.6 2032.5 983.5 1975.8Z" fill="#522E92" fill-opacity="0.6"/>
<path d="M850.8 2228.5A190.8 190.8 0 0 1 846.6 2229.5C811.7 2073.1 789.7 2067.5 709.2 2194.5L703.2 2199.5L705.3 2192C789.1 2067.1 812.3 2072.9 850.8 2228.5Z" fill="#B3DE3C" fill-opacity="0.6"/>
<path d="M973.7 1954.2A190.8 190.8 0 0 1 975.9 1958.4C832.3 2029.7 777.4 2050.8 632.3 2090.4L624.5 2090.3L631.2 2086.3C777.2 2050.2 832 2029 973.7 1954.2Z" fill="#522E92" fill-opacity="0.6"/>
<path d="M909.2 1883.5A190.8 190.8 0 0 1 913 1886C822.3 2018.1 801.9 2014.8 785.4 1865.4L786.6 1857.7L789.3 1865C802.5 2014.8 821.7 2017.7 909.2 1883.5Z" fill="#521F86" fill-opacity="0.6"/>
<path d="M990.7 2086.9A190.8 190.8 0 0 1 989.6 2091.5C834.5 2051 778.3 2053.6 638.1 2107.9L630.3 2108.6L636.6 2104C778.1 2053 834.7 2050.3 990.7 2086.9Z" fill="#3D5F8E" fill-opacity="0.6"/>
<path d="M986.3 1983.7A190.8 190.8 0 0 1 987.7 1988.4C834.2 2034.5 798.5 2015.4 764.2 1869L764.5 1861.3L768 1868.2C799.1 2015.3 834 2033.8 986.3 1983.7Z" fill="#4C3D93" fill-opacity="0.6"/>
<path d="M940.2 1908.6A190.8 190.8 0 0 1 943.5 1912C827.2 2022.3 800.5 2015 776.8 1866.5L777.7 1858.8L780.7 1866C801.1 2014.9 826.6 2021.8 940.2 1908.6Z" fill="#522E92" fill-opacity="0.6"/>
<path d="M995.7 2050.6A190.8 190.8 0 0 1 995.4 2055.5C835.5 2045.3 777.3 2036.1 631.7 1998.5L625 1994.4L632.8 1994.3C777.5 2035.5 835.5 2044.5 995.7 2050.6Z" fill="#455091" fill-opacity="0.6"/>
<path d="M955.8 1926.4A190.8 190.8 0 0 1 958.6 1930.2C829.6 2025.2 779.4 2030.5 644.8 1963.5L639.1 1958.1L646.9 1959.4C779.7 2029.9 829.1 2024.6 955.8 1926.4Z" fill="#522E92" fill-opacity="0.6"/>
<path d="M969.6 2139.9A190.8 190.8 0 0 1 967.1 2143.9C830.9 2059.4 794.7 2016.6 740.9 1876.2L740.2 1868.4L744.8 1874.7C795.4 2016.3 831.3 2058.7 969.6 2139.9Z" fill="#2F8187" fill-opacity="0.6"/>
<path d="M978.3 2123.1A190.8 190.8 0 0 1 976.1 2127.7C832.4 2056.8 785.3 2064.1 681.8 2173.1L675.1 2177.1L678.9 2170.3C784.8 2063.6 832.7 2056.1 978.3 2123.1Z" fill="#346F8A" fill-opacity="0.6"/>
<path d="M840.1 2230.8A190.8 190.8 0 0 1 833.9 2231.9C809.6 2073.5 776.8 2038.3 628.8 2012L621.8 2008.5L629.5 2007.8C776.9 2037.6 810.6 2073.3 840.1 2230.8Z" fill="#D8DE33" fill-opacity="0.6"/>
<path d="M844.6 1856.6A190.8 190.8 0 0 1 849.3 1857.7C812.1 2013.6 790.4 2067.9 713.4 2197.1L707.6 2202.3L709.5 2194.7C789.7 2067.5 811.3 2013.4 844.6 1856.6Z" fill="#43184A" fill-opacity="0.6"/>
<path d="M992.7 2077.6A190.8 190.8 0 0 1 991.8 2082.3C834.9 2049.5 781.1 2027.6 655.4 1945L650.3 1939.2L657.6 1941.7C781.4 2027 835 2048.8 992.7 2077.6Z" fill="#3D5F8E" fill-opacity="0.6"/>
<path d="M953.2 2163.5A190.8 190.8 0 0 1 951.1 2166C828.4 2062.9 780.7 2028.2 653 1948.8L647.8 1943L655.2 1945.3C781 2027.6 828.7 2062.5 953.2 2163.5Z" fill="#399A83" fill-opacity="0.6"/>
<path d="M830.1 1854.2A190.8 190.8 0 0 1 835 1854.9C809.8 2013.2 782.7 2025.3 665.8 1930.8L661.3 1924.4L668.4 1927.7C783.1 2024.8 809 2013 830.1 1854.2Z" fill="#43184A" fill-opacity="0.6"/>
<path d="M967.1 2143.9A190.8 190.8 0 0 1 964.6 2147.9C830.5 2060 790.9 2018.3 717.1 1887.4L715.5 1879.7L721 1885.2C791.6 2018 830.9 2059.4 967.1 2143.9Z" fill="#2F8187" fill-opacity="0.6"/>
<path d="M973.8 2132.2A190.8 190.8 0 0 1 971.4 2136.7C831.6 2058.2 786.9 2065.5 691.7 2181.9L685.3 2186.3L688.6 2179.3C786.4 2065.1 832 2057.5 973.8 2132.2Z" fill="#346F8A" fill-opacity="0.6"/>
<path d="M913.3 2200.4A190.8 190.8 0 0 1 909.4 2203C821.7 2068.9 797.8 2015.6 760 1870.1L760.1 1862.3L763.8 1869.1C798.4 2015.4 822.3 2068.4 913.3 2200.4Z" fill="#6ED468" fill-opacity="0.6"/>
<path d="M989.1 1993.2A190.8 190.8 0 0 1 990.3 1998C834.7 2036.1 788.4 2019.9 701.4 1897.3L698.6 1890.1L704.3 1895.3C788.9 2019.6 834.5 2035.3 989.1 1993.2Z" fill="#4C3D93" fill-opacity="0.6"/>
<path d="M981.7 1971.4A190.8 190.8 0 0 1 983.5 1975.8C833.6 2032.5 794.7 2070 740.4 2210.2L735.9 2216.5L736.9 2208.9C794.1 2069.8 833.3 2031.8 981.7 1971.4Z" fill="#522E92" fill-opacity="0.6"/>
<path d="M943.1 2175A190.8 190.8 0 0 1 939.3 2178.8C826.5 2065 783.5 2024.4 670.4 1925.3L666.2 1918.7L673.1 1922.3C783.9 2023.9 827.1 2064.4 943.1 2175Z" fill="#44AE80" fill-opacity="0.6"/>
<path d="M931.1 1900.1A190.8 190.8 0 0 1 934.5 1903.1C825.7 2020.9 781.6 2059.8 658.7 2146.5L651.4 2149.1L656.4 2143.1C781.2 2059.3 825.2 2020.4 931.1 1900.1Z" fill="#521F86" fill-opacity="0.6"/>
<path d="M884.6 2216.7A190.8 190.8 0 0 1 880.2 2218.6C817 2071.4 799.1 2071.3 768.2 2218.5L764.2 2225.3L763.4 2217.4C798.3 2071.2 817.7 2071 884.6 2216.7Z" fill="#6ED468" fill-opacity="0.6"/>
<path d="M925.1 2191.6A190.8 190.8 0 0 1 920.6 2195.1C823.5 2067.6 777.1 2036.8 630.6 2003L623.8 1999.1L631.6 1998.8C777.3 2036.2 824.2 2067 925.1 2191.6Z" fill="#59C678" fill-opacity="0.6"/>
<path d="M920.4 1891.4A190.8 190.8 0 0 1 924 1894.2C824 2019.4 776.4 2045.3 626.4 2055.6L618.8 2053.9L626.2 2051.3C776.4 2044.6 823.5 2019 920.4 1891.4Z" fill="#521F86" fill-opacity="0.6"/>
<path d="M835 1854.9A190.8 190.8 0 0 1 839.8 1855.7C810.6 2013.3 776.4 2042.6 626.1 2038.7L618.7 2035.7L626.3 2033.2C776.4 2041.7 809.8 2013.2 835 1854.9Z" fill="#43184A" fill-opacity="0.6"/>
<path d="M964.1 1937.9A190.8 190.8 0 0 1 966.6 1941.9C830.9 2027.1 776.4 2041.1 626.5 2029.6L619.3 2026.2L627 2024.2C776.5 2040.2 830.5 2026.4 964.1 1937.9Z" fill="#522E92" fill-opacity="0.6"/>
<path d="M982.3 2113.7A190.8 190.8 0 0 1 980.4 2118.4C833.1 2055.3 783.9 2023.9 673.4 1922L669.3 1915.4L676.1 1919.1C784.4 2023.4 833.4 2054.6 982.3 2113.7Z" fill="#346F8A" fill-opacity="0.6"/>
<path d="M946.8 2171A190.8 190.8 0 0 1 943.1 2175C827.1 2064.4 799.1 2015.3 768.4 1868.1L768.8 1860.3L772.2 1867.3C799.8 2015.1 827.7 2063.7 946.8 2171Z" fill="#44AE80" fill-opacity="0.6"/>
<path d="M993.5 2072.9A190.8 190.8 0 0 1 992.7 2077.6C835 2048.8 784.9 2022.9 679.4 1915.7L675.7 1908.9L682.3 1912.9C785.4 2022.4 835.2 2048 993.5 2072.9Z" fill="#3D5F8E" fill-opacity="0.6"/>
<path d="M898.6 1877A190.8 190.8 0 0 1 903 1879.6C820.7 2017.1 796.5 2070.7 752.1 2214.3L747.2 2220.6L746.9 2212.6C795.7 2070.4 820 2016.7 898.6 1877Z" fill="#4A1F5C" fill-opacity="0.6"/>
<path d="M839.8 1855.7A190.8 190.8 0 0 1 844.6 1856.6C811.3 2013.4 776.4 2043.8 626 2046.2L618.5 2044.1L626 2041.9C776.4 2043.1 810.6 2013.3 839.8 1855.7Z" fill="#43184A" fill-opacity="0.6"/>
<path d="M994.2 2068.2A190.8 190.8 0 0 1 993.5 2072.9C835.2 2048 794.1 2016.8 736.7 1877.9L735.8 1870.1L740.5 1876.3C794.7 2016.6 835.3 2047.3 994.2 2068.2Z" fill="#3D5F8E" fill-opacity="0.6"/>
<path d="M995.1 2027.4A190.8 190.8 0 0 1 995.5 2032.3C835.5 2041.5 801.7 2071.8 784.6 2221.1L781.6 2228.3L780.5 2220.6C801.1 2071.7 835.4 2040.8 995.1 2027.4Z" fill="#4C3D93" fill-opacity="0.6"/>
<path d="M871.3 1864.4A190.8 190.8 0 0 1 876 1866.2C816.4 2015 786.5 2021.5 689.1 1906.9L685.9 1899.8L692.2 1904.3C787 2021.1 815.6 2014.7 871.3 1864.4Z" fill="#4A1F5C" fill-opacity="0.6"/>
<path d="M957.2 2158.4A190.8 190.8 0 0 1 955.2 2161C829 2062.1 784.4 2023.4 676.4 1918.8L672.4 1912.1L679.2 1916C784.9 2022.9 829.3 2061.7 957.2 2158.4Z" fill="#399A83" fill-opacity="0.6"/>
<path d="M994.7 2022.4A190.8 190.8 0 0 1 995.1 2027.4C835.4 2040.8 797.9 2071 760.6 2216.7L756.1 2223.3L755.6 2215.3C797.1 2070.8 835.3 2040 994.7 2022.4Z" fill="#4C3D93" fill-opacity="0.6"/>
<path d="M846.6 2229.5A190.8 190.8 0 0 1 842.4 2230.4C811 2073.2 803.2 2071.9 793.6 2221.9L791 2229.3L789.5 2221.6C802.5 2071.8 811.7 2073.1 846.6 2229.5Z" fill="#B3DE3C" fill-opacity="0.6"/>
<path d="M977.9 1962.7A190.8 190.8 0 0 1 979.9 1967C833 2031.1 781.2 2059.2 656.2 2142.8L648.8 2145.2L654 2139.4C780.8 2058.7 832.7 2030.4 977.9 1962.7Z" fill="#522E92" fill-opacity="0.6"/>
<path d="M955.2 2161A190.8 190.8 0 0 1 953.2 2163.5C828.7 2062.5 780 2029.4 648.5 1956.4L643 1950.9L650.5 1952.8C780.3 2028.8 829 2062.1 955.2 2161Z" fill="#399A83" fill-opacity="0.6"/>
<path d="M933.2 2184.6A190.8 190.8 0 0 1 930.3 2187.2C825 2066.3 791.6 2018 721.4 1885L719.9 1877.3L725.3 1883C792.2 2017.7 825.5 2065.9 933.2 2184.6Z" fill="#4DB87C" fill-opacity="0.6"/>
<path d="M988.3 2096.1A190.8 190.8 0 0 1 987 2100.7C834.1 2052.5 784.8 2063.6 678.6 2170.1L671.8 2173.9L675.8 2167.2C784.3 2063.1 834.3 2051.8 988.3 2096.1Z" fill="#3D5F8E" fill-opacity="0.6"/>
<path d="M991.5 2002.8A190.8 190.8 0 0 1 992.5 2007.7C835 2037.6 777.8 2052.3 635 2099.3L627.2 2099.5L633.7 2095.2C777.6 2051.6 834.8 2036.8 991.5 2002.8Z" fill="#4C3D93" fill-opacity="0.6"/>
<path d="M857 1859.7A190.8 190.8 0 0 1 861.8 1861.1C814.1 2014.2 801.2 2014.9 781.1 1865.9L782.1 1858.2L785 1865.4C801.8 2014.8 813.3 2013.9 857 1859.7Z" fill="#4A1F5C" fill-opacity="0.6"/>
<path d="M961.9 2151.9A190.8 190.8 0 0 1 959.2 2155.7C829.7 2061.3 791.3 2068.5 719.5 2200.5L714.4 2206.3L716.7 2199C790.9 2068.2 830.1 2060.7 961.9 2151.9Z" fill="#2F8187" fill-opacity="0.6"/>
<path d="M894.2 1874.6A190.8 190.8 0 0 1 898.6 1877C820 2016.7 793 2069.3 730.3 2206L724.6 2211.6L725.3 2203.6C792.3 2068.9 819.3 2016.3 894.2 1874.6Z" fill="#4A1F5C" fill-opacity="0.6"/>
<path d="M980.4 2118.4A190.8 190.8 0 0 1 978.3 2123.1C832.7 2056.1 776.8 2048.2 628.7 2074.2L620.9 2073.3L628 2069.9C776.7 2047.6 833.1 2055.3 980.4 2118.4Z" fill="#346F8A" fill-opacity="0.6"/>
<path d="M855 2227.4A190.8 190.8 0 0 1 850.8 2228.5C812.3 2072.9 787.4 2065.9 695.2 2184.6L688.9 2189.2L692 2182.1C786.9 2065.5 813 2072.8 855 2227.4Z" fill="#B3DE3C" fill-opacity="0.6"/>
<path d="M880.6 1868.1A190.8 190.8 0 0 1 885.2 1870.2C817.8 2015.6 778.6 2032.2 639.9 1974.1L633.8 1969.3L641.5 1970.5C778.8 2031.7 817.1 2015.3 880.6 1868.1Z" fill="#4A1F5C" fill-opacity="0.6"/>
<path d="M885.2 1870.2A190.8 190.8 0 0 1 889.7 1872.3C818.6 2015.9 777.5 2035.4 632.9 1994L626.3 1989.8L634.2 1989.9C777.7 2034.8 817.8 2015.6 885.2 1870.2Z" fill="#4A1F5C" fill-opacity="0.6"/>
<path d="M993.3 2012.6A190.8 190.8 0 0 1 994 2017.5C835.2 2039.2 782.9 2061.5 666.7 2157L659.6 2160.1L664.2 2153.8C782.5 2061 835.1 2038.4 993.3 2012.6Z" fill="#4C3D93" fill-opacity="0.6"/>
<path d="M964.6 2147.9A190.8 190.8 0 0 1 961.9 2151.9C830.1 2060.7 776.6 2039.7 627.4 2020.6L620.4 2017L628.2 2015.5C776.7 2038.9 830.5 2060 964.6 2147.9Z" fill="#2F8187" fill-opacity="0.6"/>
<path d="M939.3 2178.8A190.8 190.8 0 0 1 935.4 2182.6C825.9 2065.6 788.5 2066.7 701.9 2189.6L695.4 2194.2L697.7 2186.6C787.8 2066.2 826.5 2065 939.3 2178.8Z" fill="#44AE80" fill-opacity="0.6"/>
<path d="M889.7 1872.3A190.8 190.8 0 0 1 894.2 1874.6C819.3 2016.3 780.8 2058.6 653.8 2139.1L646.4 2141.4L651.7 2135.7C780.5 2058.1 818.6 2015.9 889.7 1872.3Z" fill="#4A1F5C" fill-opacity="0.6"/>
<path d="M831.6 2232.2A190.8 190.8 0 0 1 825.6 2233C808.3 2073.6 795.3 2070.2 744.2 2211.7L739.8 2218L740.7 2210.4C794.7 2070 809.2 2073.5 831.6 2232.2Z" fill="#E6DC2E" fill-opacity="0.6"/>
<path d="M943.5 1912A190.8 190.8 0 0 1 946.7 1915.5C827.7 2022.9 793 2017.3 730 1880.8L728.9 1873L734 1879C793.6 2017 827.2 2022.3 943.5 1912Z" fill="#522E92" fill-opacity="0.6"/>
<path d="M909.4 2203A190.8 190.8 0 0 1 905.4 2205.5C821.1 2069.3 790.3 2018.7 713 1889.8L711.1 1882.2L716.8 1887.5C790.9 2018.4 821.7 2068.9 909.4 2203Z" fill="#6ED468" fill-opacity="0.6"/>
<path d="M995.8 2040.9A190.8 190.8 0 0 1 995.8 2045.7C835.5 2043.7 778.1 2033.5 636.9 1981.9L630.5 1977.5L638.2 1978.3C778.3 2032.9 835.5 2042.9 995.8 2040.9Z" fill="#455091" fill-opacity="0.6"/>
<path d="M995.8 2045.7A190.8 190.8 0 0 1 995.7 2050.6C835.5 2044.5 777.7 2034.7 634.3 1989.5L627.8 1985.2L635.6 1985.5C777.9 2034.1 835.5 2043.7 995.8 2045.7Z" fill="#455091" fill-opacity="0.6"/>
<path d="M934.5 1903.1A190.8 190.8 0 0 1 937.8 1906.3C826.2 2021.4 794.1 2069.8 736.6 2208.7L732 2214.9L733.2 2207.3C793.5 2069.5 825.7 2020.9 934.5 1903.1Z" fill="#521F86" fill-opacity="0.6"/>
<path d="M920.6 2195.1A190.8 190.8 0 0 1 916.1 2198.4C822.8 2068.1 778.9 2055 641.6 2116.4L633.9 2117.5L639.9 2112.5C778.6 2054.4 823.5 2067.6 920.6 2195.1Z" fill="#59C678" fill-opacity="0.6"/>
<path d="M930.3 2187.2A190.8 190.8 0 0 1 927.4 2189.7C824.6 2066.7 786.3 2065 688.3 2179L681.8 2183.3L685.3 2176.4C785.8 2064.6 825 2066.3 930.3 2187.2Z" fill="#4DB87C" fill-opacity="0.6"/>
<path d="M990.3 1998A190.8 190.8 0 0 1 991.5 2002.8C834.8 2036.8 785.4 2022.4 682.6 1912.7L679 1905.8L685.6 1910C785.9 2022 834.7 2036.1 990.3 1998Z" fill="#4C3D93" fill-opacity="0.6"/>
<path d="M995.4 2055.5A190.8 190.8 0 0 1 995 2060.4C835.4 2046 783.8 2062.6 672.5 2163.7L665.5 2167.1L669.8 2160.6C783.4 2062.1 835.5 2045.3 995.4 2055.5Z" fill="#455091" fill-opacity="0.6"/>
<path d="M949.8 1919A190.8 190.8 0 0 1 952.8 1922.7C828.7 2024 785.9 2021.9 685.8 1909.7L682.4 1902.8L688.9 1907.1C786.4 2021.5 828.2 2023.4 949.8 1919Z" fill="#522E92" fill-opacity="0.6"/>
<path d="M864.3 2224.7A190.8 190.8 0 0 1 857.9 2226.6C813.5 2072.6 779.8 2057 647.8 2128.8L640.1 2130.5L645.8 2125.1C779.5 2056.4 814.5 2072.3 864.3 2224.7Z" fill="#97DC47" fill-opacity="0.6"/>
<path d="M958.6 1930.2A190.8 190.8 0 0 1 961.4 1934C830 2025.8 778.9 2031.6 641.6 1970.2L635.6 1965.3L643.2 1966.7C779.1 2031 829.6 2025.2 958.6 1930.2Z" fill="#522E92" fill-opacity="0.6"/>
<path d="M866.5 1862.7A190.8 190.8 0 0 1 871.3 1864.4C815.6 2014.7 787.5 2020.6 695.9 1901.4L693 1894.2L699.1 1899C788.1 2020.2 814.8 2014.4 866.5 1862.7Z" fill="#4A1F5C" fill-opacity="0.6"/>
<path d="M903 1879.6A190.8 190.8 0 0 1 907.2 1882.2C821.4 2017.5 801 2071.7 780.2 2220.6L777 2227.7L776.1 2219.9C800.4 2071.6 820.7 2017.1 903 1879.6Z" fill="#4A1F5C" fill-opacity="0.6"/>
<path d="M995 2060.4A190.8 190.8 0 0 1 994.5 2065.2C835.3 2046.8 784.3 2063.1 675.5 2166.9L668.6 2170.5L672.8 2163.9C783.8 2062.6 835.4 2046 995 2060.4Z" fill="#455091" fill-opacity="0.6"/>
<path d="M905.4 2205.5A190.8 190.8 0 0 1 901.4 2208C820.4 2069.6 788.9 2019.6 704.6 1895.1L701.9 1887.9L707.6 1893.1C789.4 2019.3 821.1 2069.3 905.4 2205.5Z" fill="#6ED468" fill-opacity="0.6"/>
<path d="M924 1894.2A190.8 190.8 0 0 1 927.6 1897.1C824.6 2019.9 777 2049.4 630.1 2081.5L622.3 2080.9L629.3 2077.3C776.9 2048.7 824 2019.4 924 1894.2Z" fill="#521F86" fill-opacity="0.6"/>
<path d="M849.3 1857.7A190.8 190.8 0 0 1 854.1 1858.9C812.8 2013.8 791.8 2068.7 722.5 2202.2L717.6 2208L719.7 2200.7C791.4 2068.5 812.1 2013.6 849.3 1857.7Z" fill="#43184A" fill-opacity="0.6"/>
<path d="M893.1 2212.6A190.8 190.8 0 0 1 888.8 2214.7C818.4 2070.7 779.2 2055.7 643.6 2120.6L635.9 2121.9L641.8 2116.8C778.9 2055.1 819.1 2070.4 893.1 2212.6Z" fill="#6ED468" fill-opacity="0.6"/>
<path d="M961.4 1934A190.8 190.8 0 0 1 964.1 1937.9C830.5 2026.4 778.3 2032.8 638.3 1978L632.1 1973.4L639.8 1974.4C778.6 2032.3 830 2025.8 961.4 1934Z" fill="#522E92" fill-opacity="0.6"/>
<path d="M827 1837.3A207.2 207.2 0 0 1 858.3 1843.1L854.4 1857.8A192 192 0 0 0 825.4 1852.4Z" fill="#402653"/>
<path d="M861.4 1843.9A207.2 207.2 0 0 1 916 1868.4L907.9 1881.2A192 192 0 0 0 857.3 1858.6Z" fill="#48295F"/>
<path d="M918.2 1869.7A207.2 207.2 0 0 1 949.2 1894.5L938.6 1905.4A192 192 0 0 0 909.9 1882.5Z" fill="#552A84"/>
<path d="M951.8 1897A207.2 207.2 0 0 1 1000.6 1974.8L986.2 1979.8A192 192 0 0 0 941 1907.8Z" fill="#503D8A"/>
<path d="M1001.8 1978.6A207.2 207.2 0 0 1 1011.9 2031.4L996.7 2032.2A192 192 0 0 0 987.4 1983.3Z" fill="#48488B"/>
<path d="M1012 2035.3A207.2 207.2 0 0 1 1010.8 2067.1L995.7 2065.4A192 192 0 0 0 996.9 2035.9Z" fill="#40518A"/>
<path d="M1010.4 2070.3A207.2 207.2 0 0 1 1002.6 2105.6L988.1 2101A192 192 0 0 0 995.4 2068.4Z" fill="#3A5F88"/>
<path d="M1001.4 2109.4A207.2 207.2 0 0 1 985.7 2144.7L972.4 2137.3A192 192 0 0 0 987 2104.5Z" fill="#346F8A"/>
<path d="M983.7 2148.2A207.2 207.2 0 0 1 972.4 2165.4L960.1 2156.4A192 192 0 0 0 970.6 2140.5Z" fill="#2F8187"/>
<path d="M970.3 2168.3A207.2 207.2 0 0 1 961.4 2179.2L949.9 2169.3A192 192 0 0 0 958.1 2159.1Z" fill="#399A83"/>
<path d="M959 2181.9A207.2 207.2 0 0 1 946.6 2194.6L936.2 2183.5A192 192 0 0 0 947.7 2171.8Z" fill="#44AE80"/>
<path d="M944.2 2196.8A207.2 207.2 0 0 1 937.9 2202.3L928.2 2190.6A192 192 0 0 0 934 2185.5Z" fill="#4DB87C"/>
<path d="M935.4 2204.3A207.2 207.2 0 0 1 925.6 2211.8L916.8 2199.4A192 192 0 0 0 925.8 2192.5Z" fill="#59C678"/>
<path d="M922.7 2213.9A207.2 207.2 0 0 1 881.9 2235.7L876.3 2221.6A192 192 0 0 0 914 2201.3Z" fill="#6ED468"/>
<path d="M879.3 2236.7A207.2 207.2 0 0 1 872.5 2239.2L867.5 2224.8A192 192 0 0 0 873.8 2222.5Z" fill="#86DA55"/>
<path d="M869.4 2240.2A207.2 207.2 0 0 1 862.5 2242.4L858.2 2227.8A192 192 0 0 0 864.6 2225.8Z" fill="#97DC47"/>
<path d="M859.3 2243.3A207.2 207.2 0 0 1 845.6 2246.5L842.6 2231.6A192 192 0 0 0 855.3 2228.6Z" fill="#B3DE3C"/>
<path d="M843.1 2247A207.2 207.2 0 0 1 836.3 2248.1L834 2233.1A192 192 0 0 0 840.3 2232Z" fill="#D8DE33"/>
<path d="M833.8 2248.5A207.2 207.2 0 0 1 827.4 2249.3L825.7 2234.2A192 192 0 0 0 831.7 2233.4Z" fill="#E6DC2E"/>
<path d="M747.9 1844.1A207.2 207.2 0 0 1 792 1836.5L792.9 1851.7A192 192 0 0 0 752.1 1858.7Z" fill="#58AEDE"/>
<path d="M725.7 1851.9A207.2 207.2 0 0 1 745.5 1844.8L749.8 1859.4A192 192 0 0 0 731.5 1865.9Z" fill="#58AEDE"/>
<path d="M698.3 1865.7A207.2 207.2 0 0 1 723 1853L729.1 1867A192 192 0 0 0 706.1 1878.7Z" fill="#58AEDE"/>
<path d="M685 1874.4A207.2 207.2 0 0 1 696.1 1867L704.1 1879.9A192 192 0 0 0 693.8 1886.8Z" fill="#58AEDE"/>
<path d="M649.1 1906.8A207.2 207.2 0 0 1 682.6 1876.1L691.6 1888.4A192 192 0 0 0 660.5 1916.8Z" fill="#58AEDE"/>
<path d="M623.8 1942.8A207.2 207.2 0 0 1 647 1909.3L658.6 1919.1A192 192 0 0 0 637.1 1950.2Z" fill="#58AEDE"/>
<path d="M619.4 1951.2A207.2 207.2 0 0 1 622.1 1946L635.5 1953.2A192 192 0 0 0 633 1957.9Z" fill="#58AEDE"/>
<path d="M610.3 1972.4A207.2 207.2 0 0 1 617.8 1954.4L631.6 1960.9A192 192 0 0 0 624.6 1977.6Z" fill="#58AEDE"/>
<path d="M600.9 2007.3A207.2 207.2 0 0 1 609 1976.2L623.4 1981.1A192 192 0 0 0 615.9 2010Z" fill="#58AEDE"/>
<path d="M599.4 2017.3A207.2 207.2 0 0 1 600.4 2010.9L615.4 2013.3A192 192 0 0 0 614.5 2019.2Z" fill="#F5900E"/>
<path d="M598.4 2027.8A207.2 207.2 0 0 1 599 2020.9L614.1 2022.6A192 192 0 0 0 613.5 2028.9Z" fill="#F5900E"/>
<path d="M597.9 2038.2A207.2 207.2 0 0 1 598.1 2031.4L613.3 2032.2A192 192 0 0 0 613.1 2038.6Z" fill="#58AEDE"/>
<path d="M600.9 2079.3A207.2 207.2 0 0 1 597.8 2041.5L613 2041.6A192 192 0 0 0 615.9 2076.6Z" fill="#58AEDE"/>
<path d="M623.1 2142.5A207.2 207.2 0 0 1 601.5 2082.5L616.5 2079.6A192 192 0 0 0 636.4 2135.2Z" fill="#58AEDE"/>
<path d="M678 2207A207.2 207.2 0 0 1 624.8 2145.6L638.1 2138.1A192 192 0 0 0 687.3 2195Z" fill="#58AEDE"/>
<path d="M685.9 2212.8A207.2 207.2 0 0 1 680.6 2209L689.7 2196.8A192 192 0 0 0 694.6 2200.4Z" fill="#F5900E"/>
<path d="M699.2 2221.5A207.2 207.2 0 0 1 689.4 2215.3L697.9 2202.7A192 192 0 0 0 707 2208.4Z" fill="#58AEDE"/>
<path d="M709.6 2227.3A207.2 207.2 0 0 1 702.7 2223.5L710.2 2210.2A192 192 0 0 0 716.6 2213.8Z" fill="#F5900E"/>
<path d="M718.7 2231.7A207.2 207.2 0 0 1 712.5 2228.7L719.3 2215.1A192 192 0 0 0 725.1 2217.9Z" fill="#F5900E"/>
<path d="M734.8 2238.3A207.2 207.2 0 0 1 721.7 2233L727.8 2219.1A192 192 0 0 0 740 2223.9Z" fill="#F5900E"/>
<path d="M744.1 2241.3A207.2 207.2 0 0 1 737.5 2239.2L742.5 2224.8A192 192 0 0 0 748.5 2226.8Z" fill="#F5900E"/>
<path d="M753.8 2244.1A207.2 207.2 0 0 1 747.5 2242.4L751.8 2227.8A192 192 0 0 0 757.6 2229.4Z" fill="#58AEDE"/>
<path d="M762.6 2246.1A207.2 207.2 0 0 1 756.6 2244.8L760.2 2230A192 192 0 0 0 765.7 2231.2Z" fill="#58AEDE"/>
<path d="M792 2250.1A207.2 207.2 0 0 1 766.2 2246.8L769 2231.9A192 192 0 0 0 792.9 2234.9Z" fill="#58AEDE"/>
<text font-size="10.2" fill="#111" transform="translate(843.2 1837) rotate(-79.5)" dy="3.6">E</text>
<text font-size="10.2" fill="#111" transform="translate(890.7 1851.8) rotate(-65.9)" dy="3.6">M</text>
<text font-size="10.2" fill="#111" transform="translate(935.9 1879.3) rotate(-51.4)" dy="3.6">nsp4</text>
<text font-size="10.2" fill="#111" transform="translate(982.7 1931.8) rotate(-32.1)" dy="3.6">ORF7b</text>
<text font-size="10.2" fill="#111" transform="translate(1011.1 2004.2) rotate(-10.8)" dy="3.6">ORF8</text>
<text font-size="10.2" fill="#111" transform="translate(1014.6 2051.4) rotate(2.2)" dy="3.6">ORF3a</text>
<text font-size="10.2" fill="#111" transform="translate(1009.8 2088.7) rotate(12.5)" dy="3.6">ORF7a</text>
<text font-size="10.2" fill="#111" transform="translate(996.7 2128.5) rotate(24)" dy="3.6">ORF3b</text>
<text font-size="10.2" fill="#111" transform="translate(980.5 2158.3) rotate(33.2)" dy="3.6">ORF6</text>
<text font-size="10.2" fill="#111" transform="translate(967.9 2175.5) rotate(39)" dy="3.6">S</text>
<text font-size="10.2" fill="#111" transform="translate(954.8 2190.2) rotate(44.5)" dy="3.6">nsp9</text>
<text font-size="10.2" fill="#111" transform="translate(942.8 2201.5) rotate(49)" dy="3.6">nsp13</text>
<text font-size="10.2" fill="#111" transform="translate(932.1 2210.2) rotate(52.7)" dy="3.6">nsp5</text>
<text font-size="10.2" fill="#111" transform="translate(904.1 2228.2) rotate(61.8)" dy="3.6">nsp6</text>
<text font-size="10.2" fill="#111" transform="translate(876.8 2240.4) rotate(70)" dy="3.6">nsp7</text>
<text font-size="10.2" fill="#111" transform="translate(866.7 2243.8) rotate(72.9)" dy="3.6">nsp16</text>
<text font-size="10.2" fill="#111" transform="translate(853.1 2247.5) rotate(76.8)" dy="3.6">ORF9b</text>
<text font-size="10.2" fill="#111" transform="translate(840.5 2250.1) rotate(80.2)" dy="3.6">ORF14</text>
<text font-size="10.2" fill="#111" transform="translate(830.6 2251.5) rotate(83)" dy="3.6">N</text>
<text font-size="10.2" text-anchor="end" fill="#111" transform="translate(778.7 2251.4) rotate(-82.8)" dy="3.6">CYP1B1</text>
<text font-size="10.2" text-anchor="end" fill="#111" transform="translate(759.1 2248) rotate(-77.4)" dy="3.6">TFPI</text>
<text font-size="10.2" text-anchor="end" fill="#111" transform="translate(749.9 2245.7) rotate(-74.8)" dy="3.6">ZNF460</text>
<text font-size="10.2" text-anchor="end" fill="#111" transform="translate(740 2242.8) rotate(-71.9)" dy="3.6">PDGFD</text>
<text font-size="10.2" text-anchor="end" fill="#111" transform="translate(727.3 2238.2) rotate(-68.2)" dy="3.6">NRG1</text>
<text font-size="10.2" text-anchor="end" fill="#111" transform="translate(714.5 2232.6) rotate(-64.4)" dy="3.6">GALNT14</text>
<text font-size="10.2" text-anchor="end" fill="#111" transform="translate(704.9 2227.7) rotate(-61.5)" dy="3.6">ANGPT4</text>
<text font-size="10.2" text-anchor="end" fill="#111" transform="translate(692.9 2220.6) rotate(-57.7)" dy="3.6">PTGES</text>
<text font-size="10.2" text-anchor="end" fill="#111" transform="translate(681.7 2213) rotate(-54)" dy="3.6">MYH11</text>
<text font-size="10.2" text-anchor="end" fill="#111" transform="translate(646.4 2180.7) rotate(-40.9)" dy="3.6">SLC7A11</text>
<text font-size="10.2" text-anchor="end" fill="#111" transform="translate(607.5 2114.2) rotate(-19.8)" dy="3.6">MET</text>
<text font-size="10.2" text-anchor="end" fill="#111" transform="translate(595.9 2060.7) rotate(-4.8)" dy="3.6">NDUFV2</text>
<text font-size="10.2" text-anchor="end" fill="#111" transform="translate(595.4 2034.7) rotate(2.4)" dy="3.6">COL4A2</text>
<text font-size="10.2" text-anchor="end" fill="#111" transform="translate(596.1 2024.1) rotate(5.2)" dy="3.6">TNFSF15</text>
<text font-size="10.2" text-anchor="end" fill="#111" transform="translate(597.3 2013.7) rotate(8.1)" dy="3.6">ITGA7</text>
<text font-size="10.2" text-anchor="end" fill="#111" transform="translate(601.8 1990.9) rotate(14.4)" dy="3.6">MBOAT2</text>
<text font-size="10.2" text-anchor="end" fill="#111" transform="translate(611.5 1962.3) rotate(22.7)" dy="3.6">LAMB1</text>
<text font-size="10.2" text-anchor="end" fill="#111" transform="translate(618.4 1947.4) rotate(27.2)" dy="3.6">NT5E</text>
<text font-size="10.2" text-anchor="end" fill="#111" transform="translate(632.4 1924) rotate(34.7)" dy="3.6">S1PR3</text>
<text font-size="10.2" text-anchor="end" fill="#111" transform="translate(663.3 1888.6) rotate(47.5)" dy="3.6">SLC2A1</text>
<text font-size="10.2" text-anchor="end" fill="#111" transform="translate(689.1 1868.5) rotate(56.4)" dy="3.6">AK4</text>
<text font-size="10.2" text-anchor="end" fill="#111" transform="translate(709.3 1856.6) rotate(62.8)" dy="3.6">ABCA1</text>
<text font-size="10.2" text-anchor="end" fill="#111" transform="translate(734.6 1845.7) rotate(70.4)" dy="3.6">TPCN1</text>
<text font-size="10.2" text-anchor="end" fill="#111" transform="translate(769.3 1836.6) rotate(80.2)" dy="3.6">GJA1</text>
</g>
<g id="panel-h">
<text x="1080.5" y="1779" font-size="29.5" font-weight="bold">h</text>
<text x="1158.3" y="1798.7" font-size="17.3" font-weight="bold" fill="#111">Cell-cell adhesion (p=5.90e-09)</text>
<line x1="1157.6" y1="1802.6" x2="1409.9" y2="1802.6" stroke="#111" stroke-width="1.7"/>
<text x="1158.3" y="1819.5" font-size="17.3" font-style="italic" fill="#111">CLDN1, CYP1B1, EFNB2, EGFR, ERBB2, LAMA3, LAMA5,</text>
<text x="1158.3" y="1840.3" font-size="17.3" font-style="italic" fill="#111">LAMB1, LRP6, NT5E, PTPRF, SLC7A11, TGFB2, WNT7B</text>
<text x="1158.3" y="1861" font-size="17.3" font-weight="bold" fill="#111">Viral entry into host cell (p=1.00e-05)</text>
<line x1="1157.6" y1="1865.5" x2="1458.7" y2="1865.5" stroke="#111" stroke-width="1.7"/>
<text x="1158.3" y="1881.8" font-size="17.3" font-style="italic" fill="#111">CAV2, CLDN1, EFNB2, EGFR, ITGA2</text>
<text x="1158.3" y="1902.6" font-size="17.3" font-weight="bold" fill="#111">Positive regulation of epithelial cell proliferation (1.00e-05)</text>
<line x1="1157.6" y1="1908.1" x2="1633.5" y2="1908.1" stroke="#111" stroke-width="1.7"/>
<text x="1158.3" y="1923.4" font-size="17.3" font-style="italic" fill="#111">AREG, CAV2, CLDN1, EGFR, ERBB2, LAMB1</text>
<text x="1158.3" y="1944.2" font-size="17.3" font-weight="bold" fill="#111">Extracellular matrix organization (p=3.90e-05)</text>
<line x1="1157.6" y1="1948.7" x2="1525.4" y2="1948.7" stroke="#111" stroke-width="1.7"/>
<text x="1158.3" y="1964.9" font-size="17.3" font-style="italic" fill="#111">CAV2, COL4A2, CYP1B1, ITGA2, ITGB4, LAMA3, LAMA5,</text>
<text x="1158.3" y="1985.7" font-size="17.3" font-style="italic" fill="#111">LAMB1, LAMC2, TGFB2</text>
<text x="1158.3" y="2006.5" font-size="17.3" font-weight="bold" fill="#111">Integrin-mediated signaling pathway (p=0.00013)</text>
<line x1="1157.6" y1="2010.8" x2="1557.6" y2="2010.8" stroke="#111" stroke-width="1.7"/>
<text x="1158.3" y="2027.3" font-size="17.3" font-style="italic" fill="#111">ITGA2, ITGB4, LAMA3, LAMA5</text>
<text x="1158.3" y="2048.1" font-size="17.3" font-weight="bold" fill="#111">Response to retinoic acid (p=0.00013)</text>
<line x1="1157.6" y1="2052.4" x2="1461.2" y2="2052.4" stroke="#111" stroke-width="1.7"/>
<text x="1158.3" y="2068.8" font-size="17.3" font-style="italic" fill="#111">ABCA1, GJA1, PTGES, WNT7B</text>
<text x="1158.3" y="2110.2" font-size="17.3" font-weight="bold" fill="#111">Extracellular matrix organization (p=0.00012)</text>
<line x1="1157.6" y1="2114.5" x2="1504.5" y2="2114.5" stroke="#111" stroke-width="1.7"/>
<text x="1158.3" y="2131" font-size="17.3" font-style="italic" fill="#111">COL4A2, CYP1B1, ITGA7, LAMB1, MYH11</text>
<text x="1158.3" y="2151.8" font-size="17.3" font-weight="bold" fill="#111">AMP metabolic process (p=0.00015)</text>
<line x1="1157.6" y1="2156.1" x2="1452.8" y2="2156.1" stroke="#111" stroke-width="1.7"/>
<text x="1158.3" y="2172.5" font-size="17.3" font-style="italic" fill="#111">AK4, NT5E</text>
<text x="1158.3" y="2193.3" font-size="17.3" font-weight="bold" fill="#111">Chronic inflammatory response (p=0.00029)</text>
<line x1="1157.6" y1="2197.6" x2="1518" y2="2197.6" stroke="#111" stroke-width="1.7"/>
<text x="1158.3" y="2214.1" font-size="17.3" font-style="italic" fill="#111">GJA1, PTGES</text>
<text x="1158.3" y="2234.9" font-size="17.3" font-weight="bold" fill="#111">Response to retinoic acid (p=0.0004)</text>
<line x1="1157.6" y1="2239.2" x2="1450.3" y2="2239.2" stroke="#111" stroke-width="1.7"/>
<text x="1158.3" y="2255.7" font-size="17.3" font-style="italic" fill="#111">ABCA1, GJA1, PTGES</text>
<line x1="1144.3" y1="1791" x2="1144.3" y2="2072.5" stroke="#222" stroke-width="1.3"/>
<line x1="1144.3" y1="2095.2" x2="1144.3" y2="2255.7" stroke="#222" stroke-width="1.3"/>
<text font-size="17.3" text-anchor="middle" fill="#111" transform="translate(1106 1926) rotate(-90)">Viral-host interaction</text>
<text font-size="17.3" text-anchor="middle" fill="#111" transform="translate(1125.7 1924) rotate(-90)">in alveolar epithelial cells</text>
<text font-size="17.3" text-anchor="middle" fill="#111" transform="translate(1106 2171.5) rotate(-90)">Viral-host interaction</text>
<text font-size="17.3" text-anchor="middle" fill="#111" transform="translate(1125.7 2169.5) rotate(-90)">in alveolar macrophages</text>
</g>
</svg>
</body></html>
